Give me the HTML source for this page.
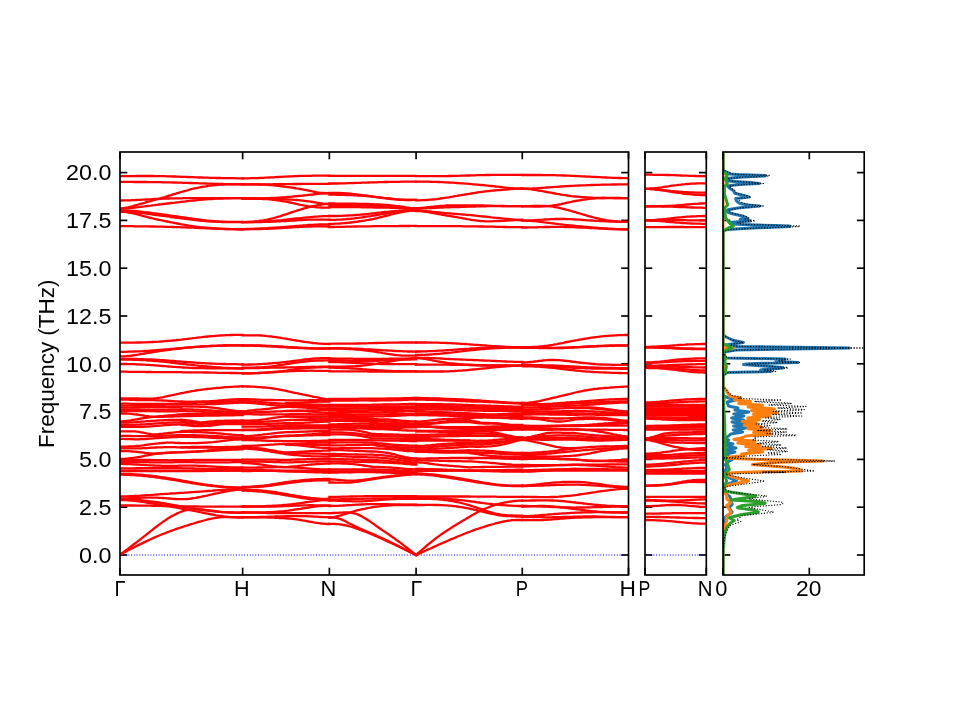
<!DOCTYPE html>
<html><head><meta charset="utf-8"><style>html,body{margin:0;padding:0;background:#fff;overflow:hidden}svg{display:block}</style></head>
<body>
<svg width="960" height="720" viewBox="0 0 960 720">
<rect width="960" height="720" fill="#fff"/>
<defs>
<clipPath id="c1"><rect x="120.00" y="152.00" width="508.50" height="423.00"/></clipPath>
<clipPath id="c2"><rect x="645.00" y="152.00" width="61.30" height="423.00"/></clipPath>
<clipPath id="c3"><rect x="723.00" y="152.00" width="141.20" height="423.00"/></clipPath>
</defs>
<g stroke="#000" stroke-width="1.67" fill="none">
<line x1="120.00" y1="555.00" x2="127.30" y2="555.00"/>
<line x1="628.50" y1="555.00" x2="621.20" y2="555.00"/>
<line x1="120.00" y1="507.20" x2="127.30" y2="507.20"/>
<line x1="628.50" y1="507.20" x2="621.20" y2="507.20"/>
<line x1="120.00" y1="459.40" x2="127.30" y2="459.40"/>
<line x1="628.50" y1="459.40" x2="621.20" y2="459.40"/>
<line x1="120.00" y1="411.60" x2="127.30" y2="411.60"/>
<line x1="628.50" y1="411.60" x2="621.20" y2="411.60"/>
<line x1="120.00" y1="363.80" x2="127.30" y2="363.80"/>
<line x1="628.50" y1="363.80" x2="621.20" y2="363.80"/>
<line x1="120.00" y1="316.00" x2="127.30" y2="316.00"/>
<line x1="628.50" y1="316.00" x2="621.20" y2="316.00"/>
<line x1="120.00" y1="268.20" x2="127.30" y2="268.20"/>
<line x1="628.50" y1="268.20" x2="621.20" y2="268.20"/>
<line x1="120.00" y1="220.40" x2="127.30" y2="220.40"/>
<line x1="628.50" y1="220.40" x2="621.20" y2="220.40"/>
<line x1="120.00" y1="172.60" x2="127.30" y2="172.60"/>
<line x1="628.50" y1="172.60" x2="621.20" y2="172.60"/>
<line x1="645.00" y1="555.00" x2="652.30" y2="555.00"/>
<line x1="706.30" y1="555.00" x2="699.00" y2="555.00"/>
<line x1="645.00" y1="507.20" x2="652.30" y2="507.20"/>
<line x1="706.30" y1="507.20" x2="699.00" y2="507.20"/>
<line x1="645.00" y1="459.40" x2="652.30" y2="459.40"/>
<line x1="706.30" y1="459.40" x2="699.00" y2="459.40"/>
<line x1="645.00" y1="411.60" x2="652.30" y2="411.60"/>
<line x1="706.30" y1="411.60" x2="699.00" y2="411.60"/>
<line x1="645.00" y1="363.80" x2="652.30" y2="363.80"/>
<line x1="706.30" y1="363.80" x2="699.00" y2="363.80"/>
<line x1="645.00" y1="316.00" x2="652.30" y2="316.00"/>
<line x1="706.30" y1="316.00" x2="699.00" y2="316.00"/>
<line x1="645.00" y1="268.20" x2="652.30" y2="268.20"/>
<line x1="706.30" y1="268.20" x2="699.00" y2="268.20"/>
<line x1="645.00" y1="220.40" x2="652.30" y2="220.40"/>
<line x1="706.30" y1="220.40" x2="699.00" y2="220.40"/>
<line x1="645.00" y1="172.60" x2="652.30" y2="172.60"/>
<line x1="706.30" y1="172.60" x2="699.00" y2="172.60"/>
<line x1="723.00" y1="555.00" x2="730.30" y2="555.00"/>
<line x1="864.20" y1="555.00" x2="856.90" y2="555.00"/>
<line x1="723.00" y1="507.20" x2="730.30" y2="507.20"/>
<line x1="864.20" y1="507.20" x2="856.90" y2="507.20"/>
<line x1="723.00" y1="459.40" x2="730.30" y2="459.40"/>
<line x1="864.20" y1="459.40" x2="856.90" y2="459.40"/>
<line x1="723.00" y1="411.60" x2="730.30" y2="411.60"/>
<line x1="864.20" y1="411.60" x2="856.90" y2="411.60"/>
<line x1="723.00" y1="363.80" x2="730.30" y2="363.80"/>
<line x1="864.20" y1="363.80" x2="856.90" y2="363.80"/>
<line x1="723.00" y1="316.00" x2="730.30" y2="316.00"/>
<line x1="864.20" y1="316.00" x2="856.90" y2="316.00"/>
<line x1="723.00" y1="268.20" x2="730.30" y2="268.20"/>
<line x1="864.20" y1="268.20" x2="856.90" y2="268.20"/>
<line x1="723.00" y1="220.40" x2="730.30" y2="220.40"/>
<line x1="864.20" y1="220.40" x2="856.90" y2="220.40"/>
<line x1="723.00" y1="172.60" x2="730.30" y2="172.60"/>
<line x1="864.20" y1="172.60" x2="856.90" y2="172.60"/>
<line x1="120.00" y1="575.00" x2="120.00" y2="567.70"/>
<line x1="120.00" y1="152.00" x2="120.00" y2="159.30"/>
<line x1="242.64" y1="575.00" x2="242.64" y2="567.70"/>
<line x1="242.64" y1="152.00" x2="242.64" y2="159.30"/>
<line x1="329.36" y1="575.00" x2="329.36" y2="567.70"/>
<line x1="329.36" y1="152.00" x2="329.36" y2="159.30"/>
<line x1="416.08" y1="575.00" x2="416.08" y2="567.70"/>
<line x1="416.08" y1="152.00" x2="416.08" y2="159.30"/>
<line x1="522.28" y1="575.00" x2="522.28" y2="567.70"/>
<line x1="522.28" y1="152.00" x2="522.28" y2="159.30"/>
<line x1="628.50" y1="575.00" x2="628.50" y2="567.70"/>
<line x1="628.50" y1="152.00" x2="628.50" y2="159.30"/>
<line x1="645.00" y1="575.00" x2="645.00" y2="567.70"/>
<line x1="645.00" y1="152.00" x2="645.00" y2="159.30"/>
<line x1="706.30" y1="575.00" x2="706.30" y2="567.70"/>
<line x1="706.30" y1="152.00" x2="706.30" y2="159.30"/>
<line x1="723.00" y1="575.00" x2="723.00" y2="567.70"/>
<line x1="723.00" y1="152.00" x2="723.00" y2="159.30"/>
<line x1="809.30" y1="575.00" x2="809.30" y2="567.70"/>
<line x1="809.30" y1="152.00" x2="809.30" y2="159.30"/>
</g>
<g stroke="#0000ff" stroke-width="1.04" stroke-dasharray="1.04 1.72" fill="none">
<line x1="120.00" y1="555.00" x2="628.50" y2="555.00"/>
<line x1="645.00" y1="555.00" x2="706.30" y2="555.00"/>
</g>
<g clip-path="url(#c1)" stroke="#ff0000" stroke-width="2.30" fill="none" stroke-linejoin="round" stroke-linecap="square">
<path d="M120.0 176.1 L122.0 176.1 L124.1 176.1 L126.1 176.1 L128.2 176.1 L130.2 176.1 L132.3 176.1 L134.3 176.1 L136.4 176.0 L138.4 176.0 L140.4 176.0 L142.5 176.0 L144.5 176.0 L146.6 176.0 L148.6 176.0 L150.7 176.0 L152.7 176.0 L154.7 176.1 L156.8 176.1 L158.8 176.1 L160.9 176.1 L162.9 176.2 L165.0 176.2 L167.0 176.3 L169.1 176.3 L171.1 176.4 L173.1 176.5 L175.2 176.5 L177.2 176.6 L179.3 176.7 L181.3 176.8 L183.4 176.9 L185.4 176.9 L187.5 177.0 L189.5 177.1 L191.5 177.2 L193.6 177.2 L195.6 177.3 L197.7 177.4 L199.7 177.5 L201.8 177.5 L203.8 177.6 L205.8 177.7 L207.9 177.7 L209.9 177.8 L212.0 177.9 L214.0 177.9 L216.1 178.0 L218.1 178.0 L220.2 178.0 L222.2 178.1 L224.2 178.1 L226.3 178.1 L228.3 178.2 L230.4 178.2 L232.4 178.2 L234.5 178.2 L236.5 178.3 L238.6 178.3 L240.6 178.3 L242.6 178.3"/>
<path d="M120.0 181.9 L122.0 181.9 L124.1 181.9 L126.1 181.9 L128.2 181.9 L130.2 181.9 L132.3 181.9 L134.3 182.0 L136.4 182.0 L138.4 182.0 L140.4 182.0 L142.5 182.0 L144.5 182.0 L146.6 182.0 L148.6 182.1 L150.7 182.1 L152.7 182.1 L154.7 182.1 L156.8 182.2 L158.8 182.2 L160.9 182.2 L162.9 182.3 L165.0 182.3 L167.0 182.4 L169.1 182.4 L171.1 182.4 L173.1 182.5 L175.2 182.5 L177.2 182.6 L179.3 182.7 L181.3 182.7 L183.4 182.8 L185.4 182.8 L187.5 182.9 L189.5 183.0 L191.5 183.0 L193.6 183.1 L195.6 183.2 L197.7 183.2 L199.7 183.3 L201.8 183.4 L203.8 183.4 L205.8 183.5 L207.9 183.6 L209.9 183.7 L212.0 183.7 L214.0 183.8 L216.1 183.9 L218.1 183.9 L220.2 184.0 L222.2 184.0 L224.2 184.1 L226.3 184.2 L228.3 184.2 L230.4 184.2 L232.4 184.3 L234.5 184.3 L236.5 184.3 L238.6 184.3 L240.6 184.4 L242.6 184.4"/>
<path d="M120.0 208.3 L122.0 208.3 L124.1 208.1 L126.1 207.7 L128.2 207.3 L130.2 206.8 L132.3 206.3 L134.3 205.7 L136.4 205.1 L138.4 204.5 L140.4 203.9 L142.5 203.3 L144.5 202.8 L146.6 202.2 L148.6 201.6 L150.7 201.1 L152.7 200.5 L154.7 200.0 L156.8 199.4 L158.8 198.8 L160.9 198.2 L162.9 197.6 L165.0 197.0 L167.0 196.3 L169.1 195.7 L171.1 195.1 L173.1 194.4 L175.2 193.8 L177.2 193.2 L179.3 192.6 L181.3 192.0 L183.4 191.4 L185.4 190.8 L187.5 190.3 L189.5 189.7 L191.5 189.2 L193.6 188.7 L195.6 188.2 L197.7 187.8 L199.7 187.4 L201.8 187.0 L203.8 186.6 L205.8 186.3 L207.9 185.9 L209.9 185.7 L212.0 185.4 L214.0 185.2 L216.1 185.0 L218.1 184.8 L220.2 184.7 L222.2 184.6 L224.2 184.5 L226.3 184.4 L228.3 184.3 L230.4 184.3 L232.4 184.3 L234.5 184.2 L236.5 184.2 L238.6 184.2 L240.6 184.2 L242.6 184.2"/>
<path d="M120.0 200.5 L122.0 200.5 L124.1 200.4 L126.1 200.4 L128.2 200.3 L130.2 200.3 L132.3 200.2 L134.3 200.1 L136.4 200.0 L138.4 199.9 L140.4 199.8 L142.5 199.7 L144.5 199.6 L146.6 199.5 L148.6 199.4 L150.7 199.3 L152.7 199.1 L154.7 199.0 L156.8 198.9 L158.8 198.8 L160.9 198.8 L162.9 198.7 L165.0 198.6 L167.0 198.5 L169.1 198.5 L171.1 198.4 L173.1 198.4 L175.2 198.4 L177.2 198.3 L179.3 198.3 L181.3 198.3 L183.4 198.2 L185.4 198.2 L187.5 198.2 L189.5 198.2 L191.5 198.2 L193.6 198.2 L195.6 198.2 L197.7 198.2 L199.7 198.2 L201.8 198.2 L203.8 198.2 L205.8 198.2 L207.9 198.2 L209.9 198.2 L212.0 198.2 L214.0 198.2 L216.1 198.2 L218.1 198.2 L220.2 198.2 L222.2 198.2 L224.2 198.2 L226.3 198.2 L228.3 198.2 L230.4 198.2 L232.4 198.2 L234.5 198.2 L236.5 198.2 L238.6 198.2 L240.6 198.2 L242.6 198.2"/>
<path d="M120.0 208.6 L122.0 208.6 L124.1 208.5 L126.1 208.4 L128.2 208.3 L130.2 208.1 L132.3 207.9 L134.3 207.7 L136.4 207.4 L138.4 207.2 L140.4 206.9 L142.5 206.6 L144.5 206.4 L146.6 206.1 L148.6 205.8 L150.7 205.6 L152.7 205.3 L154.7 205.1 L156.8 204.8 L158.8 204.5 L160.9 204.3 L162.9 204.0 L165.0 203.8 L167.0 203.5 L169.1 203.3 L171.1 203.0 L173.1 202.8 L175.2 202.6 L177.2 202.3 L179.3 202.1 L181.3 201.8 L183.4 201.6 L185.4 201.4 L187.5 201.1 L189.5 200.9 L191.5 200.7 L193.6 200.5 L195.6 200.3 L197.7 200.1 L199.7 199.9 L201.8 199.7 L203.8 199.5 L205.8 199.4 L207.9 199.2 L209.9 199.1 L212.0 199.0 L214.0 198.9 L216.1 198.7 L218.1 198.6 L220.2 198.6 L222.2 198.5 L224.2 198.4 L226.3 198.4 L228.3 198.3 L230.4 198.3 L232.4 198.2 L234.5 198.2 L236.5 198.2 L238.6 198.2 L240.6 198.2 L242.6 198.2"/>
<path d="M120.0 210.4 L122.0 210.4 L124.1 210.4 L126.1 210.5 L128.2 210.6 L130.2 210.7 L132.3 210.9 L134.3 211.0 L136.4 211.2 L138.4 211.4 L140.4 211.6 L142.5 211.8 L144.5 212.1 L146.6 212.3 L148.6 212.5 L150.7 212.8 L152.7 213.1 L154.7 213.3 L156.8 213.6 L158.8 213.9 L160.9 214.2 L162.9 214.5 L165.0 214.7 L167.0 215.0 L169.1 215.3 L171.1 215.6 L173.1 215.9 L175.2 216.2 L177.2 216.5 L179.3 216.8 L181.3 217.1 L183.4 217.4 L185.4 217.7 L187.5 218.0 L189.5 218.3 L191.5 218.5 L193.6 218.8 L195.6 219.1 L197.7 219.4 L199.7 219.6 L201.8 219.9 L203.8 220.1 L205.8 220.4 L207.9 220.6 L209.9 220.8 L212.0 221.0 L214.0 221.2 L216.1 221.4 L218.1 221.5 L220.2 221.6 L222.2 221.7 L224.2 221.8 L226.3 221.8 L228.3 221.9 L230.4 221.9 L232.4 221.9 L234.5 221.9 L236.5 221.9 L238.6 221.9 L240.6 221.9 L242.6 221.9"/>
<path d="M120.0 211.0 L122.0 211.1 L124.1 211.1 L126.1 211.2 L128.2 211.4 L130.2 211.6 L132.3 211.8 L134.3 212.0 L136.4 212.3 L138.4 212.5 L140.4 212.8 L142.5 213.1 L144.5 213.4 L146.6 213.7 L148.6 214.0 L150.7 214.2 L152.7 214.5 L154.7 214.8 L156.8 215.1 L158.8 215.4 L160.9 215.6 L162.9 215.9 L165.0 216.2 L167.0 216.4 L169.1 216.7 L171.1 217.0 L173.1 217.3 L175.2 217.5 L177.2 217.8 L179.3 218.1 L181.3 218.4 L183.4 218.6 L185.4 218.9 L187.5 219.2 L189.5 219.4 L191.5 219.7 L193.6 219.9 L195.6 220.1 L197.7 220.4 L199.7 220.6 L201.8 220.8 L203.8 220.9 L205.8 221.1 L207.9 221.3 L209.9 221.4 L212.0 221.5 L214.0 221.6 L216.1 221.7 L218.1 221.8 L220.2 221.9 L222.2 222.0 L224.2 222.0 L226.3 222.0 L228.3 222.1 L230.4 222.1 L232.4 222.1 L234.5 222.1 L236.5 222.1 L238.6 222.1 L240.6 222.1 L242.6 222.1"/>
<path d="M120.0 211.7 L122.0 211.8 L124.1 211.9 L126.1 212.1 L128.2 212.4 L130.2 212.8 L132.3 213.2 L134.3 213.7 L136.4 214.2 L138.4 214.7 L140.4 215.2 L142.5 215.8 L144.5 216.3 L146.6 216.8 L148.6 217.4 L150.7 217.9 L152.7 218.4 L154.7 218.8 L156.8 219.3 L158.8 219.8 L160.9 220.2 L162.9 220.7 L165.0 221.1 L167.0 221.5 L169.1 221.9 L171.1 222.3 L173.1 222.7 L175.2 223.1 L177.2 223.5 L179.3 223.9 L181.3 224.3 L183.4 224.7 L185.4 225.0 L187.5 225.3 L189.5 225.7 L191.5 226.0 L193.6 226.3 L195.6 226.6 L197.7 226.8 L199.7 227.1 L201.8 227.3 L203.8 227.5 L205.8 227.7 L207.9 227.9 L209.9 228.0 L212.0 228.2 L214.0 228.3 L216.1 228.4 L218.1 228.6 L220.2 228.7 L222.2 228.8 L224.2 228.9 L226.3 229.0 L228.3 229.0 L230.4 229.1 L232.4 229.2 L234.5 229.2 L236.5 229.3 L238.6 229.3 L240.6 229.3 L242.6 229.3"/>
<path d="M120.0 226.2 L122.0 226.2 L124.1 226.2 L126.1 226.2 L128.2 226.2 L130.2 226.2 L132.3 226.2 L134.3 226.3 L136.4 226.3 L138.4 226.3 L140.4 226.3 L142.5 226.3 L144.5 226.4 L146.6 226.4 L148.6 226.4 L150.7 226.5 L152.7 226.5 L154.7 226.5 L156.8 226.6 L158.8 226.6 L160.9 226.7 L162.9 226.7 L165.0 226.8 L167.0 226.8 L169.1 226.9 L171.1 226.9 L173.1 227.0 L175.2 227.1 L177.2 227.1 L179.3 227.2 L181.3 227.3 L183.4 227.3 L185.4 227.4 L187.5 227.5 L189.5 227.6 L191.5 227.6 L193.6 227.7 L195.6 227.8 L197.7 227.9 L199.7 228.0 L201.8 228.1 L203.8 228.2 L205.8 228.3 L207.9 228.3 L209.9 228.4 L212.0 228.5 L214.0 228.6 L216.1 228.7 L218.1 228.8 L220.2 228.8 L222.2 228.9 L224.2 229.0 L226.3 229.1 L228.3 229.1 L230.4 229.2 L232.4 229.2 L234.5 229.2 L236.5 229.3 L238.6 229.3 L240.6 229.3 L242.6 229.3"/>
<path d="M242.6 178.3 L244.7 178.3 L246.8 178.3 L248.8 178.3 L250.9 178.2 L253.0 178.2 L255.0 178.1 L257.1 178.1 L259.2 178.0 L261.2 177.9 L263.3 177.8 L265.4 177.7 L267.4 177.6 L269.5 177.5 L271.5 177.4 L273.6 177.3 L275.7 177.1 L277.7 177.0 L279.8 176.9 L281.9 176.8 L283.9 176.7 L286.0 176.6 L288.1 176.5 L290.1 176.4 L292.2 176.3 L294.3 176.2 L296.3 176.1 L298.4 176.0 L300.5 175.9 L302.5 175.9 L304.6 175.8 L306.6 175.8 L308.7 175.8 L310.8 175.8 L312.8 175.7 L314.9 175.7 L317.0 175.7 L319.0 175.7 L321.1 175.7 L323.2 175.7 L325.2 175.7 L327.3 175.7 L329.4 175.7"/>
<path d="M242.6 184.3 L244.7 184.3 L246.8 184.3 L248.8 184.3 L250.9 184.3 L253.0 184.3 L255.0 184.3 L257.1 184.3 L259.2 184.3 L261.2 184.3 L263.3 184.3 L265.4 184.3 L267.4 184.3 L269.5 184.3 L271.5 184.3 L273.6 184.2 L275.7 184.2 L277.7 184.2 L279.8 184.2 L281.9 184.2 L283.9 184.2 L286.0 184.1 L288.1 184.1 L290.1 184.1 L292.2 184.1 L294.3 184.0 L296.3 184.0 L298.4 184.0 L300.5 184.0 L302.5 183.9 L304.6 183.9 L306.6 183.9 L308.7 183.9 L310.8 183.8 L312.8 183.8 L314.9 183.8 L317.0 183.8 L319.0 183.8 L321.1 183.8 L323.2 183.8 L325.2 183.8 L327.3 183.8 L329.4 183.7"/>
<path d="M242.6 184.3 L244.7 184.3 L246.8 184.3 L248.8 184.3 L250.9 184.3 L253.0 184.3 L255.0 184.4 L257.1 184.4 L259.2 184.5 L261.2 184.6 L263.3 184.6 L265.4 184.7 L267.4 184.9 L269.5 185.0 L271.5 185.2 L273.6 185.4 L275.7 185.6 L277.7 185.8 L279.8 186.0 L281.9 186.3 L283.9 186.5 L286.0 186.8 L288.1 187.1 L290.1 187.4 L292.2 187.7 L294.3 188.0 L296.3 188.4 L298.4 188.7 L300.5 189.0 L302.5 189.4 L304.6 189.8 L306.6 190.2 L308.7 190.6 L310.8 191.0 L312.8 191.5 L314.9 191.9 L317.0 192.3 L319.0 192.6 L321.1 192.9 L323.2 193.0 L325.2 193.1 L327.3 193.1 L329.4 193.1"/>
<path d="M242.6 198.3 L244.7 198.3 L246.8 198.3 L248.8 198.3 L250.9 198.3 L253.0 198.4 L255.0 198.3 L257.1 198.3 L259.2 198.3 L261.2 198.3 L263.3 198.3 L265.4 198.2 L267.4 198.2 L269.5 198.1 L271.5 198.0 L273.6 197.9 L275.7 197.8 L277.7 197.7 L279.8 197.6 L281.9 197.4 L283.9 197.3 L286.0 197.1 L288.1 196.9 L290.1 196.8 L292.2 196.6 L294.3 196.4 L296.3 196.2 L298.4 196.0 L300.5 195.8 L302.5 195.6 L304.6 195.4 L306.6 195.2 L308.7 194.9 L310.8 194.7 L312.8 194.5 L314.9 194.2 L317.0 194.0 L319.0 193.8 L321.1 193.7 L323.2 193.5 L325.2 193.4 L327.3 193.4 L329.4 193.3"/>
<path d="M242.6 198.5 L244.7 198.5 L246.8 198.5 L248.8 198.6 L250.9 198.6 L253.0 198.6 L255.0 198.6 L257.1 198.7 L259.2 198.8 L261.2 198.8 L263.3 199.0 L265.4 199.1 L267.4 199.2 L269.5 199.4 L271.5 199.6 L273.6 199.8 L275.7 200.1 L277.7 200.3 L279.8 200.6 L281.9 201.0 L283.9 201.3 L286.0 201.7 L288.1 202.1 L290.1 202.5 L292.2 202.9 L294.3 203.4 L296.3 203.9 L298.4 204.3 L300.5 204.8 L302.5 205.2 L304.6 205.6 L306.6 206.0 L308.7 206.4 L310.8 206.6 L312.8 206.9 L314.9 207.1 L317.0 207.3 L319.0 207.4 L321.1 207.5 L323.2 207.6 L325.2 207.6 L327.3 207.7 L329.4 207.7"/>
<path d="M242.6 222.1 L244.7 222.1 L246.8 222.0 L248.8 221.9 L250.9 221.8 L253.0 221.7 L255.0 221.5 L257.1 221.3 L259.2 221.0 L261.2 220.7 L263.3 220.4 L265.4 220.0 L267.4 219.6 L269.5 219.1 L271.5 218.6 L273.6 218.1 L275.7 217.5 L277.7 216.9 L279.8 216.3 L281.9 215.6 L283.9 214.9 L286.0 214.3 L288.1 213.6 L290.1 212.9 L292.2 212.2 L294.3 211.5 L296.3 210.9 L298.4 210.2 L300.5 209.6 L302.5 208.9 L304.6 208.3 L306.6 207.8 L308.7 207.2 L310.8 206.7 L312.8 206.2 L314.9 205.8 L317.0 205.4 L319.0 205.0 L321.1 204.6 L323.2 204.3 L325.2 204.0 L327.3 203.8 L329.4 203.7"/>
<path d="M242.6 198.5 L244.7 198.5 L246.8 198.5 L248.8 198.5 L250.9 198.5 L253.0 198.5 L255.0 198.6 L257.1 198.6 L259.2 198.6 L261.2 198.6 L263.3 198.6 L265.4 198.6 L267.4 198.7 L269.5 198.7 L271.5 198.8 L273.6 198.8 L275.7 198.9 L277.7 199.0 L279.8 199.1 L281.9 199.1 L283.9 199.2 L286.0 199.4 L288.1 199.5 L290.1 199.6 L292.2 199.7 L294.3 199.9 L296.3 200.0 L298.4 200.2 L300.5 200.4 L302.5 200.6 L304.6 200.8 L306.6 201.1 L308.7 201.4 L310.8 201.7 L312.8 202.0 L314.9 202.3 L317.0 202.7 L319.0 203.0 L321.1 203.3 L323.2 203.6 L325.2 203.8 L327.3 204.0 L329.4 204.1"/>
<path d="M242.6 222.1 L244.7 222.1 L246.8 222.1 L248.8 222.1 L250.9 222.0 L253.0 222.0 L255.0 221.9 L257.1 221.9 L259.2 221.8 L261.2 221.7 L263.3 221.6 L265.4 221.5 L267.4 221.4 L269.5 221.2 L271.5 221.1 L273.6 220.9 L275.7 220.7 L277.7 220.5 L279.8 220.3 L281.9 220.1 L283.9 219.8 L286.0 219.6 L288.1 219.4 L290.1 219.2 L292.2 218.9 L294.3 218.7 L296.3 218.5 L298.4 218.3 L300.5 218.1 L302.5 217.9 L304.6 217.7 L306.6 217.5 L308.7 217.3 L310.8 217.1 L312.8 216.9 L314.9 216.7 L317.0 216.6 L319.0 216.4 L321.1 216.3 L323.2 216.2 L325.2 216.1 L327.3 216.1 L329.4 216.0"/>
<path d="M242.6 222.1 L244.7 222.1 L246.8 222.1 L248.8 222.1 L250.9 222.1 L253.0 222.1 L255.0 222.0 L257.1 222.0 L259.2 222.0 L261.2 222.0 L263.3 221.9 L265.4 221.9 L267.4 221.8 L269.5 221.8 L271.5 221.7 L273.6 221.6 L275.7 221.5 L277.7 221.4 L279.8 221.3 L281.9 221.2 L283.9 221.1 L286.0 221.0 L288.1 220.9 L290.1 220.7 L292.2 220.6 L294.3 220.5 L296.3 220.3 L298.4 220.2 L300.5 220.1 L302.5 220.0 L304.6 219.9 L306.6 219.8 L308.7 219.7 L310.8 219.7 L312.8 219.7 L314.9 219.6 L317.0 219.6 L319.0 219.6 L321.1 219.6 L323.2 219.7 L325.2 219.7 L327.3 219.7 L329.4 219.7"/>
<path d="M242.6 229.1 L244.7 229.1 L246.8 229.0 L248.8 229.0 L250.9 228.9 L253.0 228.9 L255.0 228.8 L257.1 228.7 L259.2 228.6 L261.2 228.5 L263.3 228.4 L265.4 228.3 L267.4 228.1 L269.5 228.0 L271.5 227.9 L273.6 227.7 L275.7 227.6 L277.7 227.4 L279.8 227.3 L281.9 227.1 L283.9 227.0 L286.0 226.8 L288.1 226.6 L290.1 226.5 L292.2 226.3 L294.3 226.1 L296.3 225.9 L298.4 225.8 L300.5 225.6 L302.5 225.5 L304.6 225.3 L306.6 225.2 L308.7 225.0 L310.8 224.9 L312.8 224.8 L314.9 224.7 L317.0 224.6 L319.0 224.5 L321.1 224.5 L323.2 224.4 L325.2 224.4 L327.3 224.4 L329.4 224.4"/>
<path d="M242.6 229.1 L244.7 229.1 L246.8 229.1 L248.8 229.1 L250.9 229.1 L253.0 229.1 L255.0 229.0 L257.1 229.0 L259.2 229.0 L261.2 229.0 L263.3 228.9 L265.4 228.9 L267.4 228.8 L269.5 228.7 L271.5 228.7 L273.6 228.6 L275.7 228.4 L277.7 228.3 L279.8 228.2 L281.9 228.1 L283.9 227.9 L286.0 227.8 L288.1 227.6 L290.1 227.5 L292.2 227.4 L294.3 227.2 L296.3 227.1 L298.4 227.0 L300.5 226.9 L302.5 226.8 L304.6 226.7 L306.6 226.6 L308.7 226.5 L310.8 226.5 L312.8 226.4 L314.9 226.4 L317.0 226.4 L319.0 226.4 L321.1 226.4 L323.2 226.4 L325.2 226.4 L327.3 226.5 L329.4 226.5"/>
<path d="M329.4 175.9 L331.4 175.9 L333.5 175.9 L335.6 175.9 L337.6 175.9 L339.7 175.9 L341.7 175.9 L343.8 175.9 L345.9 175.9 L347.9 175.9 L350.0 175.9 L352.1 175.9 L354.1 175.9 L356.2 175.9 L358.3 175.9 L360.3 175.9 L362.4 175.9 L364.5 175.9 L366.5 175.9 L368.6 175.9 L370.7 175.9 L372.7 175.9 L374.8 175.9 L376.8 175.9 L378.9 175.9 L381.0 175.9 L383.0 175.9 L385.1 175.9 L387.2 175.9 L389.2 175.9 L391.3 175.9 L393.4 175.9 L395.4 175.9 L397.5 175.9 L399.6 175.9 L401.6 175.9 L403.7 175.9 L405.8 175.9 L407.8 175.9 L409.9 175.9 L412.0 175.9 L414.0 175.9 L416.1 175.9"/>
<path d="M329.4 183.5 L331.4 183.5 L333.5 183.5 L335.6 183.5 L337.6 183.5 L339.7 183.4 L341.7 183.4 L343.8 183.3 L345.9 183.3 L347.9 183.2 L350.0 183.1 L352.1 183.1 L354.1 183.0 L356.2 182.9 L358.3 182.8 L360.3 182.8 L362.4 182.7 L364.5 182.6 L366.5 182.6 L368.6 182.5 L370.7 182.4 L372.7 182.4 L374.8 182.3 L376.8 182.3 L378.9 182.2 L381.0 182.1 L383.0 182.1 L385.1 182.0 L387.2 182.0 L389.2 181.9 L391.3 181.9 L393.4 181.9 L395.4 181.8 L397.5 181.8 L399.6 181.8 L401.6 181.7 L403.7 181.7 L405.8 181.7 L407.8 181.7 L409.9 181.7 L412.0 181.7 L414.0 181.7 L416.1 181.7"/>
<path d="M329.4 192.9 L331.4 192.9 L333.5 192.9 L335.6 193.0 L337.6 193.0 L339.7 193.0 L341.7 193.1 L343.8 193.2 L345.9 193.3 L347.9 193.5 L350.0 193.7 L352.1 193.9 L354.1 194.1 L356.2 194.3 L358.3 194.6 L360.3 194.9 L362.4 195.2 L364.5 195.4 L366.5 195.7 L368.6 196.0 L370.7 196.3 L372.7 196.5 L374.8 196.8 L376.8 197.1 L378.9 197.3 L381.0 197.6 L383.0 197.8 L385.1 198.1 L387.2 198.3 L389.2 198.5 L391.3 198.7 L393.4 199.0 L395.4 199.2 L397.5 199.3 L399.6 199.5 L401.6 199.6 L403.7 199.7 L405.8 199.8 L407.8 199.9 L409.9 199.9 L412.0 199.9 L414.0 199.9 L416.1 199.9"/>
<path d="M329.4 194.7 L331.4 194.7 L333.5 194.7 L335.6 194.7 L337.6 194.8 L339.7 194.8 L341.7 194.9 L343.8 194.9 L345.9 195.0 L347.9 195.1 L350.0 195.1 L352.1 195.2 L354.1 195.3 L356.2 195.4 L358.3 195.5 L360.3 195.6 L362.4 195.7 L364.5 195.9 L366.5 196.0 L368.6 196.2 L370.7 196.4 L372.7 196.7 L374.8 196.9 L376.8 197.2 L378.9 197.4 L381.0 197.7 L383.0 198.0 L385.1 198.2 L387.2 198.5 L389.2 198.7 L391.3 199.0 L393.4 199.2 L395.4 199.4 L397.5 199.6 L399.6 199.7 L401.6 199.8 L403.7 199.9 L405.8 200.0 L407.8 200.0 L409.9 200.0 L412.0 200.0 L414.0 199.9 L416.1 199.9"/>
<path d="M329.4 203.5 L331.4 203.5 L333.5 203.5 L335.6 203.6 L337.6 203.6 L339.7 203.6 L341.7 203.6 L343.8 203.6 L345.9 203.6 L347.9 203.6 L350.0 203.7 L352.1 203.7 L354.1 203.7 L356.2 203.7 L358.3 203.8 L360.3 203.8 L362.4 203.9 L364.5 203.9 L366.5 204.0 L368.6 204.0 L370.7 204.1 L372.7 204.2 L374.8 204.3 L376.8 204.4 L378.9 204.5 L381.0 204.6 L383.0 204.7 L385.1 204.8 L387.2 205.0 L389.2 205.2 L391.3 205.4 L393.4 205.6 L395.4 205.8 L397.5 206.1 L399.6 206.4 L401.6 206.7 L403.7 207.0 L405.8 207.3 L407.8 207.6 L409.9 207.9 L412.0 208.1 L414.0 208.2 L416.1 208.2"/>
<path d="M329.4 204.8 L331.4 204.8 L333.5 204.8 L335.6 204.8 L337.6 204.8 L339.7 204.9 L341.7 204.9 L343.8 204.9 L345.9 205.0 L347.9 205.0 L350.0 205.1 L352.1 205.1 L354.1 205.2 L356.2 205.2 L358.3 205.3 L360.3 205.3 L362.4 205.4 L364.5 205.5 L366.5 205.5 L368.6 205.6 L370.7 205.7 L372.7 205.8 L374.8 205.9 L376.8 206.0 L378.9 206.1 L381.0 206.2 L383.0 206.3 L385.1 206.5 L387.2 206.6 L389.2 206.8 L391.3 207.0 L393.4 207.2 L395.4 207.3 L397.5 207.5 L399.6 207.7 L401.6 207.9 L403.7 208.0 L405.8 208.2 L407.8 208.3 L409.9 208.4 L412.0 208.5 L414.0 208.5 L416.1 208.5"/>
<path d="M329.4 207.2 L331.4 207.2 L333.5 207.2 L335.6 207.2 L337.6 207.2 L339.7 207.2 L341.7 207.2 L343.8 207.2 L345.9 207.2 L347.9 207.2 L350.0 207.2 L352.1 207.2 L354.1 207.2 L356.2 207.2 L358.3 207.2 L360.3 207.2 L362.4 207.3 L364.5 207.3 L366.5 207.3 L368.6 207.3 L370.7 207.4 L372.7 207.4 L374.8 207.5 L376.8 207.5 L378.9 207.5 L381.0 207.6 L383.0 207.6 L385.1 207.6 L387.2 207.7 L389.2 207.7 L391.3 207.8 L393.4 207.8 L395.4 207.9 L397.5 207.9 L399.6 208.0 L401.6 208.0 L403.7 208.1 L405.8 208.1 L407.8 208.1 L409.9 208.2 L412.0 208.2 L414.0 208.2 L416.1 208.2"/>
<path d="M329.4 216.0 L331.4 216.0 L333.5 216.0 L335.6 216.0 L337.6 215.9 L339.7 215.9 L341.7 215.8 L343.8 215.7 L345.9 215.6 L347.9 215.5 L350.0 215.4 L352.1 215.3 L354.1 215.2 L356.2 215.0 L358.3 214.8 L360.3 214.7 L362.4 214.5 L364.5 214.3 L366.5 214.1 L368.6 213.9 L370.7 213.6 L372.7 213.4 L374.8 213.2 L376.8 212.9 L378.9 212.7 L381.0 212.5 L383.0 212.2 L385.1 212.0 L387.2 211.8 L389.2 211.6 L391.3 211.4 L393.4 211.2 L395.4 211.0 L397.5 210.9 L399.6 210.7 L401.6 210.6 L403.7 210.5 L405.8 210.5 L407.8 210.4 L409.9 210.4 L412.0 210.3 L414.0 210.3 L416.1 210.3"/>
<path d="M329.4 219.9 L331.4 219.9 L333.5 219.8 L335.6 219.8 L337.6 219.7 L339.7 219.6 L341.7 219.5 L343.8 219.3 L345.9 219.2 L347.9 219.0 L350.0 218.8 L352.1 218.6 L354.1 218.4 L356.2 218.1 L358.3 217.9 L360.3 217.6 L362.4 217.3 L364.5 217.0 L366.5 216.7 L368.6 216.4 L370.7 216.1 L372.7 215.7 L374.8 215.4 L376.8 215.0 L378.9 214.7 L381.0 214.3 L383.0 214.0 L385.1 213.6 L387.2 213.3 L389.2 212.9 L391.3 212.6 L393.4 212.3 L395.4 212.0 L397.5 211.7 L399.6 211.5 L401.6 211.3 L403.7 211.1 L405.8 210.9 L407.8 210.8 L409.9 210.7 L412.0 210.6 L414.0 210.5 L416.1 210.5"/>
<path d="M329.4 223.9 L331.4 223.8 L333.5 223.8 L335.6 223.7 L337.6 223.6 L339.7 223.5 L341.7 223.3 L343.8 223.2 L345.9 223.0 L347.9 222.8 L350.0 222.5 L352.1 222.3 L354.1 222.0 L356.2 221.8 L358.3 221.5 L360.3 221.2 L362.4 220.9 L364.5 220.6 L366.5 220.2 L368.6 219.9 L370.7 219.5 L372.7 219.1 L374.8 218.6 L376.8 218.2 L378.9 217.7 L381.0 217.2 L383.0 216.7 L385.1 216.1 L387.2 215.6 L389.2 215.1 L391.3 214.5 L393.4 214.0 L395.4 213.5 L397.5 213.0 L399.6 212.6 L401.6 212.1 L403.7 211.7 L405.8 211.4 L407.8 211.1 L409.9 210.9 L412.0 210.7 L414.0 210.6 L416.1 210.5"/>
<path d="M329.4 227.0 L331.4 227.0 L333.5 227.0 L335.6 226.9 L337.6 226.9 L339.7 226.9 L341.7 226.8 L343.8 226.8 L345.9 226.7 L347.9 226.7 L350.0 226.6 L352.1 226.6 L354.1 226.5 L356.2 226.5 L358.3 226.4 L360.3 226.4 L362.4 226.4 L364.5 226.3 L366.5 226.3 L368.6 226.3 L370.7 226.3 L372.7 226.2 L374.8 226.2 L376.8 226.2 L378.9 226.2 L381.0 226.2 L383.0 226.2 L385.1 226.2 L387.2 226.1 L389.2 226.1 L391.3 226.1 L393.4 226.1 L395.4 226.1 L397.5 226.1 L399.6 226.0 L401.6 226.0 L403.7 226.0 L405.8 226.0 L407.8 226.0 L409.9 226.0 L412.0 225.9 L414.0 225.9 L416.1 225.9"/>
<path d="M416.1 176.2 L418.1 176.2 L420.2 176.2 L422.2 176.2 L424.2 176.2 L426.3 176.2 L428.3 176.2 L430.4 176.2 L432.4 176.2 L434.5 176.2 L436.5 176.2 L438.5 176.2 L440.6 176.1 L442.6 176.1 L444.7 176.1 L446.7 176.1 L448.8 176.0 L450.8 176.0 L452.8 175.9 L454.9 175.9 L456.9 175.8 L459.0 175.8 L461.0 175.7 L463.1 175.7 L465.1 175.6 L467.1 175.5 L469.2 175.5 L471.2 175.4 L473.3 175.4 L475.3 175.3 L477.3 175.2 L479.4 175.2 L481.4 175.1 L483.5 175.1 L485.5 175.0 L487.6 175.0 L489.6 175.0 L491.6 174.9 L493.7 174.9 L495.7 174.9 L497.8 174.8 L499.8 174.8 L501.9 174.8 L503.9 174.8 L505.9 174.8 L508.0 174.8 L510.0 174.8 L512.1 174.8 L514.1 174.8 L516.2 174.8 L518.2 174.8 L520.2 174.8 L522.3 174.8"/>
<path d="M416.1 181.6 L418.1 181.6 L420.2 181.6 L422.2 181.7 L424.2 181.7 L426.3 181.7 L428.3 181.7 L430.4 181.8 L432.4 181.8 L434.5 181.9 L436.5 181.9 L438.5 182.0 L440.6 182.1 L442.6 182.2 L444.7 182.3 L446.7 182.4 L448.8 182.5 L450.8 182.6 L452.8 182.7 L454.9 182.8 L456.9 183.0 L459.0 183.1 L461.0 183.3 L463.1 183.4 L465.1 183.6 L467.1 183.7 L469.2 183.9 L471.2 184.1 L473.3 184.3 L475.3 184.4 L477.3 184.6 L479.4 184.8 L481.4 185.0 L483.5 185.2 L485.5 185.4 L487.6 185.6 L489.6 185.8 L491.6 186.0 L493.7 186.2 L495.7 186.5 L497.8 186.7 L499.8 186.9 L501.9 187.1 L503.9 187.4 L505.9 187.6 L508.0 187.8 L510.0 188.1 L512.1 188.2 L514.1 188.4 L516.2 188.6 L518.2 188.7 L520.2 188.7 L522.3 188.7"/>
<path d="M416.1 200.4 L418.1 200.4 L420.2 200.3 L422.2 200.2 L424.2 200.2 L426.3 200.0 L428.3 199.9 L430.4 199.7 L432.4 199.5 L434.5 199.3 L436.5 199.1 L438.5 198.8 L440.6 198.5 L442.6 198.2 L444.7 197.9 L446.7 197.6 L448.8 197.3 L450.8 196.9 L452.8 196.6 L454.9 196.2 L456.9 195.9 L459.0 195.5 L461.0 195.2 L463.1 194.8 L465.1 194.5 L467.1 194.1 L469.2 193.8 L471.2 193.5 L473.3 193.1 L475.3 192.8 L477.3 192.5 L479.4 192.2 L481.4 192.0 L483.5 191.7 L485.5 191.4 L487.6 191.2 L489.6 191.0 L491.6 190.7 L493.7 190.5 L495.7 190.3 L497.8 190.1 L499.8 190.0 L501.9 189.8 L503.9 189.6 L505.9 189.5 L508.0 189.3 L510.0 189.1 L512.1 189.0 L514.1 188.8 L516.2 188.7 L518.2 188.6 L520.2 188.5 L522.3 188.5"/>
<path d="M416.1 208.1 L418.1 208.1 L420.2 208.0 L422.2 207.9 L424.2 207.7 L426.3 207.5 L428.3 207.2 L430.4 207.0 L432.4 206.8 L434.5 206.5 L436.5 206.3 L438.5 206.1 L440.6 205.9 L442.6 205.8 L444.7 205.7 L446.7 205.5 L448.8 205.5 L450.8 205.4 L452.8 205.3 L454.9 205.3 L456.9 205.3 L459.0 205.3 L461.0 205.3 L463.1 205.3 L465.1 205.3 L467.1 205.3 L469.2 205.3 L471.2 205.3 L473.3 205.3 L475.3 205.4 L477.3 205.4 L479.4 205.5 L481.4 205.5 L483.5 205.5 L485.5 205.6 L487.6 205.6 L489.6 205.7 L491.6 205.7 L493.7 205.8 L495.7 205.8 L497.8 205.9 L499.8 205.9 L501.9 206.0 L503.9 206.0 L505.9 206.1 L508.0 206.1 L510.0 206.1 L512.1 206.2 L514.1 206.2 L516.2 206.2 L518.2 206.2 L520.2 206.2 L522.3 206.2"/>
<path d="M416.1 208.5 L418.1 208.5 L420.2 208.5 L422.2 208.4 L424.2 208.3 L426.3 208.3 L428.3 208.2 L430.4 208.1 L432.4 208.0 L434.5 207.9 L436.5 207.8 L438.5 207.7 L440.6 207.6 L442.6 207.5 L444.7 207.4 L446.7 207.4 L448.8 207.3 L450.8 207.2 L452.8 207.2 L454.9 207.1 L456.9 207.0 L459.0 207.0 L461.0 206.9 L463.1 206.8 L465.1 206.8 L467.1 206.7 L469.2 206.7 L471.2 206.6 L473.3 206.5 L475.3 206.5 L477.3 206.4 L479.4 206.4 L481.4 206.3 L483.5 206.3 L485.5 206.3 L487.6 206.2 L489.6 206.2 L491.6 206.2 L493.7 206.2 L495.7 206.2 L497.8 206.2 L499.8 206.2 L501.9 206.2 L503.9 206.2 L505.9 206.2 L508.0 206.2 L510.0 206.2 L512.1 206.2 L514.1 206.2 L516.2 206.2 L518.2 206.2 L520.2 206.2 L522.3 206.3"/>
<path d="M416.1 210.6 L418.1 210.7 L420.2 210.7 L422.2 210.8 L424.2 211.0 L426.3 211.1 L428.3 211.3 L430.4 211.5 L432.4 211.8 L434.5 212.0 L436.5 212.2 L438.5 212.4 L440.6 212.6 L442.6 212.8 L444.7 213.0 L446.7 213.1 L448.8 213.3 L450.8 213.5 L452.8 213.6 L454.9 213.8 L456.9 214.0 L459.0 214.1 L461.0 214.3 L463.1 214.5 L465.1 214.7 L467.1 214.8 L469.2 215.0 L471.2 215.2 L473.3 215.4 L475.3 215.7 L477.3 215.9 L479.4 216.1 L481.4 216.3 L483.5 216.5 L485.5 216.7 L487.6 216.9 L489.6 217.1 L491.6 217.4 L493.7 217.6 L495.7 217.8 L497.8 218.0 L499.8 218.2 L501.9 218.4 L503.9 218.6 L505.9 218.8 L508.0 219.0 L510.0 219.2 L512.1 219.4 L514.1 219.6 L516.2 219.7 L518.2 219.9 L520.2 220.0 L522.3 220.0"/>
<path d="M416.1 211.0 L418.1 211.0 L420.2 211.2 L422.2 211.3 L424.2 211.6 L426.3 211.9 L428.3 212.2 L430.4 212.5 L432.4 212.9 L434.5 213.3 L436.5 213.7 L438.5 214.0 L440.6 214.4 L442.6 214.8 L444.7 215.1 L446.7 215.5 L448.8 215.8 L450.8 216.2 L452.8 216.5 L454.9 216.9 L456.9 217.2 L459.0 217.6 L461.0 217.9 L463.1 218.3 L465.1 218.7 L467.1 219.1 L469.2 219.4 L471.2 219.8 L473.3 220.1 L475.3 220.4 L477.3 220.7 L479.4 220.9 L481.4 221.1 L483.5 221.2 L485.5 221.3 L487.6 221.3 L489.6 221.3 L491.6 221.3 L493.7 221.2 L495.7 221.2 L497.8 221.1 L499.8 221.0 L501.9 220.9 L503.9 220.8 L505.9 220.6 L508.0 220.5 L510.0 220.4 L512.1 220.3 L514.1 220.2 L516.2 220.1 L518.2 220.1 L520.2 220.0 L522.3 220.0"/>
<path d="M416.1 226.2 L418.1 226.2 L420.2 226.2 L422.2 226.2 L424.2 226.2 L426.3 226.2 L428.3 226.2 L430.4 226.2 L432.4 226.2 L434.5 226.2 L436.5 226.2 L438.5 226.2 L440.6 226.2 L442.6 226.2 L444.7 226.2 L446.7 226.2 L448.8 226.2 L450.8 226.2 L452.8 226.2 L454.9 226.2 L456.9 226.2 L459.0 226.2 L461.0 226.2 L463.1 226.3 L465.1 226.3 L467.1 226.3 L469.2 226.3 L471.2 226.3 L473.3 226.4 L475.3 226.4 L477.3 226.4 L479.4 226.5 L481.4 226.5 L483.5 226.5 L485.5 226.6 L487.6 226.6 L489.6 226.7 L491.6 226.7 L493.7 226.7 L495.7 226.8 L497.8 226.8 L499.8 226.9 L501.9 226.9 L503.9 227.0 L505.9 227.0 L508.0 227.1 L510.0 227.1 L512.1 227.2 L514.1 227.2 L516.2 227.2 L518.2 227.2 L520.2 227.2 L522.3 227.2"/>
<path d="M522.3 175.0 L524.3 175.0 L526.4 175.0 L528.4 175.0 L530.5 175.0 L532.5 175.0 L534.5 175.0 L536.6 175.0 L538.6 175.0 L540.7 175.0 L542.7 175.1 L544.7 175.1 L546.8 175.1 L548.8 175.1 L550.9 175.2 L552.9 175.2 L555.0 175.2 L557.0 175.3 L559.0 175.3 L561.1 175.4 L563.1 175.5 L565.2 175.5 L567.2 175.6 L569.3 175.7 L571.3 175.8 L573.3 175.9 L575.4 176.0 L577.4 176.1 L579.5 176.2 L581.5 176.3 L583.6 176.4 L585.6 176.5 L587.6 176.6 L589.7 176.7 L591.7 176.8 L593.8 176.9 L595.8 177.0 L597.9 177.1 L599.9 177.2 L601.9 177.3 L604.0 177.4 L606.0 177.5 L608.1 177.6 L610.1 177.7 L612.2 177.8 L614.2 177.9 L616.2 177.9 L618.3 178.0 L620.3 178.0 L622.4 178.1 L624.4 178.1 L626.5 178.1 L628.5 178.1"/>
<path d="M522.3 188.8 L524.3 188.7 L526.4 188.7 L528.4 188.6 L530.5 188.6 L532.5 188.5 L534.5 188.4 L536.6 188.3 L538.6 188.1 L540.7 188.0 L542.7 187.8 L544.7 187.7 L546.8 187.5 L548.8 187.4 L550.9 187.2 L552.9 187.1 L555.0 186.9 L557.0 186.8 L559.0 186.6 L561.1 186.5 L563.1 186.4 L565.2 186.2 L567.2 186.1 L569.3 186.0 L571.3 185.9 L573.3 185.8 L575.4 185.7 L577.4 185.6 L579.5 185.5 L581.5 185.4 L583.6 185.3 L585.6 185.3 L587.6 185.2 L589.7 185.1 L591.7 185.0 L593.8 185.0 L595.8 184.9 L597.9 184.9 L599.9 184.8 L601.9 184.7 L604.0 184.7 L606.0 184.6 L608.1 184.6 L610.1 184.6 L612.2 184.5 L614.2 184.5 L616.2 184.5 L618.3 184.4 L620.3 184.4 L622.4 184.4 L624.4 184.4 L626.5 184.4 L628.5 184.4"/>
<path d="M522.3 188.8 L524.3 188.8 L526.4 188.9 L528.4 189.0 L530.5 189.2 L532.5 189.5 L534.5 189.8 L536.6 190.1 L538.6 190.5 L540.7 190.8 L542.7 191.2 L544.7 191.6 L546.8 192.0 L548.8 192.3 L550.9 192.7 L552.9 193.1 L555.0 193.5 L557.0 193.9 L559.0 194.2 L561.1 194.6 L563.1 194.9 L565.2 195.2 L567.2 195.5 L569.3 195.8 L571.3 196.1 L573.3 196.3 L575.4 196.5 L577.4 196.7 L579.5 196.9 L581.5 197.1 L583.6 197.2 L585.6 197.4 L587.6 197.5 L589.7 197.6 L591.7 197.7 L593.8 197.8 L595.8 197.9 L597.9 197.9 L599.9 198.0 L601.9 198.0 L604.0 198.0 L606.0 198.1 L608.1 198.1 L610.1 198.1 L612.2 198.1 L614.2 198.1 L616.2 198.1 L618.3 198.1 L620.3 198.1 L622.4 198.1 L624.4 198.1 L626.5 198.1 L628.5 198.1"/>
<path d="M522.3 206.2 L524.3 206.3 L526.4 206.3 L528.4 206.3 L530.5 206.4 L532.5 206.4 L534.5 206.5 L536.6 206.5 L538.6 206.5 L540.7 206.5 L542.7 206.4 L544.7 206.3 L546.8 206.2 L548.8 206.0 L550.9 205.8 L552.9 205.5 L555.0 205.2 L557.0 204.9 L559.0 204.5 L561.1 204.1 L563.1 203.6 L565.2 203.2 L567.2 202.7 L569.3 202.3 L571.3 201.9 L573.3 201.4 L575.4 201.0 L577.4 200.6 L579.5 200.3 L581.5 200.0 L583.6 199.6 L585.6 199.4 L587.6 199.1 L589.7 198.9 L591.7 198.7 L593.8 198.5 L595.8 198.3 L597.9 198.2 L599.9 198.1 L601.9 198.0 L604.0 198.0 L606.0 197.9 L608.1 197.9 L610.1 197.9 L612.2 197.9 L614.2 198.0 L616.2 198.0 L618.3 198.0 L620.3 198.0 L622.4 198.1 L624.4 198.1 L626.5 198.1 L628.5 198.1"/>
<path d="M522.3 206.2 L524.3 206.2 L526.4 206.2 L528.4 206.1 L530.5 206.1 L532.5 206.0 L534.5 206.0 L536.6 205.9 L538.6 205.9 L540.7 205.9 L542.7 205.9 L544.7 205.9 L546.8 206.1 L548.8 206.2 L550.9 206.4 L552.9 206.7 L555.0 207.0 L557.0 207.4 L559.0 207.8 L561.1 208.3 L563.1 208.8 L565.2 209.3 L567.2 209.9 L569.3 210.4 L571.3 211.0 L573.3 211.6 L575.4 212.2 L577.4 212.8 L579.5 213.4 L581.5 214.0 L583.6 214.6 L585.6 215.2 L587.6 215.8 L589.7 216.4 L591.7 216.9 L593.8 217.5 L595.8 218.0 L597.9 218.4 L599.9 218.9 L601.9 219.3 L604.0 219.7 L606.0 220.1 L608.1 220.4 L610.1 220.7 L612.2 220.9 L614.2 221.2 L616.2 221.4 L618.3 221.5 L620.3 221.7 L622.4 221.8 L624.4 221.8 L626.5 221.9 L628.5 221.9"/>
<path d="M522.3 220.6 L524.3 220.6 L526.4 220.6 L528.4 220.5 L530.5 220.4 L532.5 220.3 L534.5 220.2 L536.6 220.1 L538.6 219.9 L540.7 219.8 L542.7 219.7 L544.7 219.5 L546.8 219.4 L548.8 219.3 L550.9 219.2 L552.9 219.1 L555.0 219.0 L557.0 219.0 L559.0 219.0 L561.1 219.0 L563.1 219.0 L565.2 219.0 L567.2 219.1 L569.3 219.2 L571.3 219.2 L573.3 219.4 L575.4 219.5 L577.4 219.6 L579.5 219.7 L581.5 219.8 L583.6 220.0 L585.6 220.1 L587.6 220.3 L589.7 220.4 L591.7 220.5 L593.8 220.7 L595.8 220.8 L597.9 220.9 L599.9 221.0 L601.9 221.1 L604.0 221.2 L606.0 221.3 L608.1 221.4 L610.1 221.5 L612.2 221.6 L614.2 221.7 L616.2 221.7 L618.3 221.8 L620.3 221.8 L622.4 221.8 L624.4 221.9 L626.5 221.9 L628.5 221.9"/>
<path d="M522.3 220.6 L524.3 220.6 L526.4 220.7 L528.4 220.8 L530.5 220.9 L532.5 221.1 L534.5 221.2 L536.6 221.4 L538.6 221.6 L540.7 221.9 L542.7 222.1 L544.7 222.4 L546.8 222.6 L548.8 222.9 L550.9 223.2 L552.9 223.4 L555.0 223.7 L557.0 223.9 L559.0 224.2 L561.1 224.4 L563.1 224.7 L565.2 224.9 L567.2 225.1 L569.3 225.3 L571.3 225.5 L573.3 225.7 L575.4 225.9 L577.4 226.1 L579.5 226.3 L581.5 226.5 L583.6 226.7 L585.6 226.9 L587.6 227.0 L589.7 227.2 L591.7 227.4 L593.8 227.6 L595.8 227.7 L597.9 227.9 L599.9 228.1 L601.9 228.2 L604.0 228.4 L606.0 228.5 L608.1 228.6 L610.1 228.8 L612.2 228.9 L614.2 229.0 L616.2 229.1 L618.3 229.2 L620.3 229.2 L622.4 229.3 L624.4 229.3 L626.5 229.4 L628.5 229.4"/>
<path d="M522.3 227.5 L524.3 227.5 L526.4 227.5 L528.4 227.4 L530.5 227.4 L532.5 227.4 L534.5 227.3 L536.6 227.3 L538.6 227.2 L540.7 227.2 L542.7 227.1 L544.7 227.0 L546.8 227.0 L548.8 227.0 L550.9 226.9 L552.9 226.9 L555.0 226.9 L557.0 226.9 L559.0 226.9 L561.1 226.9 L563.1 226.9 L565.2 227.0 L567.2 227.0 L569.3 227.1 L571.3 227.1 L573.3 227.2 L575.4 227.3 L577.4 227.4 L579.5 227.5 L581.5 227.5 L583.6 227.6 L585.6 227.7 L587.6 227.8 L589.7 228.0 L591.7 228.1 L593.8 228.2 L595.8 228.3 L597.9 228.4 L599.9 228.5 L601.9 228.6 L604.0 228.7 L606.0 228.8 L608.1 228.9 L610.1 229.0 L612.2 229.0 L614.2 229.1 L616.2 229.2 L618.3 229.2 L620.3 229.3 L622.4 229.3 L624.4 229.4 L626.5 229.4 L628.5 229.4"/>
<path d="M120.0 342.6 L122.0 342.6 L124.1 342.6 L126.1 342.6 L128.2 342.6 L130.2 342.6 L132.3 342.6 L134.3 342.6 L136.4 342.5 L138.4 342.5 L140.4 342.5 L142.5 342.4 L144.5 342.3 L146.6 342.3 L148.6 342.2 L150.7 342.1 L152.7 342.0 L154.7 341.9 L156.8 341.8 L158.8 341.7 L160.9 341.5 L162.9 341.4 L165.0 341.2 L167.0 341.0 L169.1 340.9 L171.1 340.7 L173.1 340.5 L175.2 340.3 L177.2 340.0 L179.3 339.8 L181.3 339.6 L183.4 339.3 L185.4 339.1 L187.5 338.9 L189.5 338.6 L191.5 338.4 L193.6 338.1 L195.6 337.9 L197.7 337.6 L199.7 337.4 L201.8 337.2 L203.8 336.9 L205.8 336.7 L207.9 336.5 L209.9 336.3 L212.0 336.1 L214.0 336.0 L216.1 335.8 L218.1 335.6 L220.2 335.5 L222.2 335.4 L224.2 335.3 L226.3 335.2 L228.3 335.1 L230.4 335.0 L232.4 335.0 L234.5 334.9 L236.5 334.9 L238.6 334.9 L240.6 334.9 L242.6 334.9"/>
<path d="M120.0 351.8 L122.0 351.8 L124.1 351.8 L126.1 351.8 L128.2 351.7 L130.2 351.7 L132.3 351.6 L134.3 351.5 L136.4 351.4 L138.4 351.4 L140.4 351.3 L142.5 351.2 L144.5 351.0 L146.6 350.9 L148.6 350.8 L150.7 350.6 L152.7 350.5 L154.7 350.4 L156.8 350.2 L158.8 350.0 L160.9 349.9 L162.9 349.7 L165.0 349.5 L167.0 349.3 L169.1 349.2 L171.1 349.0 L173.1 348.8 L175.2 348.6 L177.2 348.4 L179.3 348.3 L181.3 348.1 L183.4 347.9 L185.4 347.7 L187.5 347.6 L189.5 347.4 L191.5 347.2 L193.6 347.1 L195.6 346.9 L197.7 346.8 L199.7 346.6 L201.8 346.5 L203.8 346.4 L205.8 346.3 L207.9 346.2 L209.9 346.1 L212.0 346.0 L214.0 345.9 L216.1 345.8 L218.1 345.7 L220.2 345.7 L222.2 345.6 L224.2 345.5 L226.3 345.5 L228.3 345.4 L230.4 345.4 L232.4 345.4 L234.5 345.4 L236.5 345.3 L238.6 345.3 L240.6 345.3 L242.6 345.3"/>
<path d="M120.0 356.4 L122.0 356.4 L124.1 356.3 L126.1 356.2 L128.2 356.0 L130.2 355.8 L132.3 355.5 L134.3 355.2 L136.4 354.9 L138.4 354.6 L140.4 354.2 L142.5 353.9 L144.5 353.5 L146.6 353.2 L148.6 352.8 L150.7 352.5 L152.7 352.2 L154.7 351.9 L156.8 351.5 L158.8 351.2 L160.9 350.9 L162.9 350.6 L165.0 350.3 L167.0 350.1 L169.1 349.8 L171.1 349.5 L173.1 349.2 L175.2 349.0 L177.2 348.8 L179.3 348.5 L181.3 348.3 L183.4 348.1 L185.4 347.9 L187.5 347.7 L189.5 347.5 L191.5 347.3 L193.6 347.1 L195.6 346.9 L197.7 346.8 L199.7 346.6 L201.8 346.5 L203.8 346.4 L205.8 346.2 L207.9 346.1 L209.9 346.0 L212.0 345.9 L214.0 345.8 L216.1 345.8 L218.1 345.7 L220.2 345.6 L222.2 345.6 L224.2 345.5 L226.3 345.5 L228.3 345.4 L230.4 345.4 L232.4 345.4 L234.5 345.3 L236.5 345.3 L238.6 345.3 L240.6 345.3 L242.6 345.3"/>
<path d="M120.0 358.9 L122.0 358.9 L124.1 358.9 L126.1 358.9 L128.2 358.9 L130.2 358.9 L132.3 359.0 L134.3 359.0 L136.4 359.0 L138.4 359.1 L140.4 359.1 L142.5 359.2 L144.5 359.3 L146.6 359.3 L148.6 359.4 L150.7 359.5 L152.7 359.6 L154.7 359.7 L156.8 359.8 L158.8 359.9 L160.9 360.1 L162.9 360.2 L165.0 360.3 L167.0 360.5 L169.1 360.6 L171.1 360.8 L173.1 360.9 L175.2 361.1 L177.2 361.3 L179.3 361.4 L181.3 361.6 L183.4 361.8 L185.4 361.9 L187.5 362.1 L189.5 362.2 L191.5 362.4 L193.6 362.5 L195.6 362.7 L197.7 362.8 L199.7 362.9 L201.8 363.1 L203.8 363.2 L205.8 363.3 L207.9 363.4 L209.9 363.5 L212.0 363.6 L214.0 363.7 L216.1 363.8 L218.1 363.8 L220.2 363.9 L222.2 364.0 L224.2 364.0 L226.3 364.1 L228.3 364.1 L230.4 364.2 L232.4 364.2 L234.5 364.2 L236.5 364.2 L238.6 364.3 L240.6 364.3 L242.6 364.3"/>
<path d="M120.0 359.5 L122.0 359.5 L124.1 359.5 L126.1 359.6 L128.2 359.6 L130.2 359.7 L132.3 359.7 L134.3 359.8 L136.4 359.8 L138.4 359.9 L140.4 360.0 L142.5 360.1 L144.5 360.2 L146.6 360.4 L148.6 360.5 L150.7 360.6 L152.7 360.8 L154.7 361.0 L156.8 361.1 L158.8 361.3 L160.9 361.5 L162.9 361.7 L165.0 361.9 L167.0 362.1 L169.1 362.4 L171.1 362.6 L173.1 362.8 L175.2 363.0 L177.2 363.3 L179.3 363.5 L181.3 363.8 L183.4 364.0 L185.4 364.2 L187.5 364.5 L189.5 364.7 L191.5 364.9 L193.6 365.1 L195.6 365.4 L197.7 365.6 L199.7 365.8 L201.8 366.0 L203.8 366.2 L205.8 366.4 L207.9 366.6 L209.9 366.7 L212.0 366.9 L214.0 367.1 L216.1 367.2 L218.1 367.4 L220.2 367.5 L222.2 367.7 L224.2 367.8 L226.3 367.9 L228.3 368.0 L230.4 368.1 L232.4 368.2 L234.5 368.2 L236.5 368.3 L238.6 368.3 L240.6 368.3 L242.6 368.3"/>
<path d="M120.0 364.0 L122.0 364.0 L124.1 364.0 L126.1 364.0 L128.2 364.1 L130.2 364.1 L132.3 364.2 L134.3 364.2 L136.4 364.3 L138.4 364.4 L140.4 364.5 L142.5 364.6 L144.5 364.7 L146.6 364.8 L148.6 364.9 L150.7 365.1 L152.7 365.2 L154.7 365.3 L156.8 365.5 L158.8 365.6 L160.9 365.8 L162.9 366.0 L165.0 366.1 L167.0 366.3 L169.1 366.5 L171.1 366.6 L173.1 366.8 L175.2 366.9 L177.2 367.1 L179.3 367.2 L181.3 367.4 L183.4 367.5 L185.4 367.6 L187.5 367.7 L189.5 367.8 L191.5 367.9 L193.6 368.0 L195.6 368.1 L197.7 368.1 L199.7 368.2 L201.8 368.2 L203.8 368.2 L205.8 368.3 L207.9 368.3 L209.9 368.3 L212.0 368.3 L214.0 368.3 L216.1 368.3 L218.1 368.4 L220.2 368.4 L222.2 368.4 L224.2 368.4 L226.3 368.4 L228.3 368.4 L230.4 368.3 L232.4 368.3 L234.5 368.3 L236.5 368.3 L238.6 368.3 L240.6 368.3 L242.6 368.3"/>
<path d="M120.0 371.7 L122.0 371.7 L124.1 371.7 L126.1 371.7 L128.2 371.8 L130.2 371.8 L132.3 371.8 L134.3 371.8 L136.4 371.8 L138.4 371.9 L140.4 371.9 L142.5 371.9 L144.5 371.9 L146.6 372.0 L148.6 372.0 L150.7 372.0 L152.7 372.1 L154.7 372.1 L156.8 372.1 L158.8 372.1 L160.9 372.1 L162.9 372.2 L165.0 372.2 L167.0 372.2 L169.1 372.2 L171.1 372.2 L173.1 372.2 L175.2 372.2 L177.2 372.2 L179.3 372.2 L181.3 372.2 L183.4 372.3 L185.4 372.3 L187.5 372.3 L189.5 372.3 L191.5 372.3 L193.6 372.3 L195.6 372.3 L197.7 372.4 L199.7 372.4 L201.8 372.4 L203.8 372.5 L205.8 372.5 L207.9 372.5 L209.9 372.6 L212.0 372.6 L214.0 372.7 L216.1 372.7 L218.1 372.8 L220.2 372.8 L222.2 372.8 L224.2 372.9 L226.3 372.9 L228.3 372.9 L230.4 373.0 L232.4 373.0 L234.5 373.0 L236.5 373.0 L238.6 373.1 L240.6 373.1 L242.6 373.1"/>
<path d="M242.6 335.4 L244.7 335.4 L246.8 335.4 L248.8 335.4 L250.9 335.3 L253.0 335.3 L255.0 335.3 L257.1 335.4 L259.2 335.4 L261.2 335.5 L263.3 335.7 L265.4 335.8 L267.4 336.1 L269.5 336.3 L271.5 336.5 L273.6 336.8 L275.7 337.1 L277.7 337.4 L279.8 337.7 L281.9 338.1 L283.9 338.4 L286.0 338.7 L288.1 339.1 L290.1 339.4 L292.2 339.8 L294.3 340.1 L296.3 340.5 L298.4 340.8 L300.5 341.1 L302.5 341.5 L304.6 341.8 L306.6 342.1 L308.7 342.4 L310.8 342.7 L312.8 343.0 L314.9 343.2 L317.0 343.4 L319.0 343.6 L321.1 343.7 L323.2 343.8 L325.2 343.9 L327.3 343.9 L329.4 344.0"/>
<path d="M242.6 345.3 L244.7 345.3 L246.8 345.3 L248.8 345.3 L250.9 345.4 L253.0 345.4 L255.0 345.4 L257.1 345.4 L259.2 345.5 L261.2 345.5 L263.3 345.6 L265.4 345.7 L267.4 345.8 L269.5 345.8 L271.5 345.9 L273.6 346.1 L275.7 346.2 L277.7 346.3 L279.8 346.4 L281.9 346.5 L283.9 346.7 L286.0 346.8 L288.1 347.0 L290.1 347.1 L292.2 347.2 L294.3 347.4 L296.3 347.5 L298.4 347.6 L300.5 347.7 L302.5 347.8 L304.6 347.9 L306.6 348.0 L308.7 348.1 L310.8 348.1 L312.8 348.2 L314.9 348.3 L317.0 348.3 L319.0 348.3 L321.1 348.4 L323.2 348.4 L325.2 348.4 L327.3 348.4 L329.4 348.4"/>
<path d="M242.6 345.6 L244.7 345.6 L246.8 345.6 L248.8 345.7 L250.9 345.7 L253.0 345.7 L255.0 345.8 L257.1 345.9 L259.2 345.9 L261.2 346.0 L263.3 346.1 L265.4 346.2 L267.4 346.3 L269.5 346.4 L271.5 346.5 L273.6 346.6 L275.7 346.7 L277.7 346.8 L279.8 347.0 L281.9 347.1 L283.9 347.2 L286.0 347.3 L288.1 347.5 L290.1 347.6 L292.2 347.7 L294.3 347.8 L296.3 347.9 L298.4 348.0 L300.5 348.1 L302.5 348.2 L304.6 348.3 L306.6 348.4 L308.7 348.4 L310.8 348.5 L312.8 348.6 L314.9 348.6 L317.0 348.6 L319.0 348.7 L321.1 348.7 L323.2 348.7 L325.2 348.7 L327.3 348.7 L329.4 348.7"/>
<path d="M242.6 364.6 L244.7 364.6 L246.8 364.6 L248.8 364.5 L250.9 364.5 L253.0 364.4 L255.0 364.3 L257.1 364.3 L259.2 364.2 L261.2 364.1 L263.3 363.9 L265.4 363.8 L267.4 363.7 L269.5 363.5 L271.5 363.4 L273.6 363.2 L275.7 363.0 L277.7 362.8 L279.8 362.6 L281.9 362.4 L283.9 362.2 L286.0 362.0 L288.1 361.7 L290.1 361.5 L292.2 361.2 L294.3 360.9 L296.3 360.6 L298.4 360.3 L300.5 360.1 L302.5 359.8 L304.6 359.5 L306.6 359.3 L308.7 359.1 L310.8 358.9 L312.8 358.7 L314.9 358.5 L317.0 358.4 L319.0 358.3 L321.1 358.2 L323.2 358.2 L325.2 358.2 L327.3 358.1 L329.4 358.1"/>
<path d="M242.6 367.7 L244.7 367.7 L246.8 367.7 L248.8 367.7 L250.9 367.7 L253.0 367.6 L255.0 367.6 L257.1 367.5 L259.2 367.4 L261.2 367.3 L263.3 367.2 L265.4 367.0 L267.4 366.9 L269.5 366.6 L271.5 366.4 L273.6 366.1 L275.7 365.9 L277.7 365.5 L279.8 365.2 L281.9 364.9 L283.9 364.6 L286.0 364.2 L288.1 363.9 L290.1 363.5 L292.2 363.2 L294.3 362.9 L296.3 362.6 L298.4 362.3 L300.5 362.0 L302.5 361.8 L304.6 361.5 L306.6 361.3 L308.7 361.1 L310.8 360.9 L312.8 360.8 L314.9 360.7 L317.0 360.6 L319.0 360.5 L321.1 360.5 L323.2 360.5 L325.2 360.4 L327.3 360.4 L329.4 360.4"/>
<path d="M242.6 368.2 L244.7 368.2 L246.8 368.2 L248.8 368.2 L250.9 368.1 L253.0 368.1 L255.0 368.1 L257.1 368.0 L259.2 368.0 L261.2 367.9 L263.3 367.9 L265.4 367.8 L267.4 367.8 L269.5 367.7 L271.5 367.7 L273.6 367.6 L275.7 367.6 L277.7 367.5 L279.8 367.5 L281.9 367.5 L283.9 367.5 L286.0 367.4 L288.1 367.4 L290.1 367.4 L292.2 367.3 L294.3 367.3 L296.3 367.3 L298.4 367.2 L300.5 367.2 L302.5 367.1 L304.6 367.1 L306.6 367.0 L308.7 367.0 L310.8 366.9 L312.8 366.9 L314.9 366.9 L317.0 366.8 L319.0 366.8 L321.1 366.7 L323.2 366.7 L325.2 366.7 L327.3 366.7 L329.4 366.7"/>
<path d="M242.6 373.4 L244.7 373.4 L246.8 373.4 L248.8 373.4 L250.9 373.3 L253.0 373.2 L255.0 373.2 L257.1 373.1 L259.2 373.0 L261.2 372.9 L263.3 372.7 L265.4 372.6 L267.4 372.5 L269.5 372.4 L271.5 372.3 L273.6 372.1 L275.7 372.0 L277.7 371.9 L279.8 371.7 L281.9 371.6 L283.9 371.5 L286.0 371.4 L288.1 371.3 L290.1 371.2 L292.2 371.1 L294.3 371.0 L296.3 370.9 L298.4 370.9 L300.5 370.8 L302.5 370.8 L304.6 370.8 L306.6 370.8 L308.7 370.7 L310.8 370.7 L312.8 370.7 L314.9 370.8 L317.0 370.8 L319.0 370.8 L321.1 370.8 L323.2 370.8 L325.2 370.8 L327.3 370.8 L329.4 370.8"/>
<path d="M242.6 373.4 L244.7 373.4 L246.8 373.4 L248.8 373.4 L250.9 373.3 L253.0 373.3 L255.0 373.2 L257.1 373.1 L259.2 373.0 L261.2 372.9 L263.3 372.8 L265.4 372.7 L267.4 372.5 L269.5 372.4 L271.5 372.2 L273.6 372.0 L275.7 371.8 L277.7 371.6 L279.8 371.3 L281.9 371.1 L283.9 370.8 L286.0 370.6 L288.1 370.3 L290.1 370.0 L292.2 369.8 L294.3 369.5 L296.3 369.2 L298.4 369.0 L300.5 368.7 L302.5 368.5 L304.6 368.3 L306.6 368.1 L308.7 367.9 L310.8 367.7 L312.8 367.6 L314.9 367.5 L317.0 367.4 L319.0 367.3 L321.1 367.3 L323.2 367.2 L325.2 367.2 L327.3 367.2 L329.4 367.2"/>
<path d="M329.4 343.8 L331.4 343.7 L333.5 343.7 L335.6 343.7 L337.6 343.7 L339.7 343.7 L341.7 343.7 L343.8 343.7 L345.9 343.7 L347.9 343.7 L350.0 343.6 L352.1 343.6 L354.1 343.6 L356.2 343.5 L358.3 343.5 L360.3 343.4 L362.4 343.4 L364.5 343.3 L366.5 343.3 L368.6 343.2 L370.7 343.2 L372.7 343.1 L374.8 343.0 L376.8 343.0 L378.9 342.9 L381.0 342.9 L383.0 342.8 L385.1 342.8 L387.2 342.7 L389.2 342.7 L391.3 342.6 L393.4 342.6 L395.4 342.6 L397.5 342.6 L399.6 342.5 L401.6 342.5 L403.7 342.5 L405.8 342.5 L407.8 342.5 L409.9 342.5 L412.0 342.5 L414.0 342.5 L416.1 342.5"/>
<path d="M329.4 348.1 L331.4 348.1 L333.5 348.1 L335.6 348.2 L337.6 348.2 L339.7 348.2 L341.7 348.3 L343.8 348.3 L345.9 348.4 L347.9 348.4 L350.0 348.5 L352.1 348.6 L354.1 348.7 L356.2 348.7 L358.3 348.8 L360.3 348.9 L362.4 349.0 L364.5 349.2 L366.5 349.3 L368.6 349.4 L370.7 349.5 L372.7 349.6 L374.8 349.8 L376.8 349.9 L378.9 350.0 L381.0 350.1 L383.0 350.3 L385.1 350.4 L387.2 350.5 L389.2 350.6 L391.3 350.7 L393.4 350.9 L395.4 351.0 L397.5 351.1 L399.6 351.2 L401.6 351.2 L403.7 351.3 L405.8 351.4 L407.8 351.5 L409.9 351.5 L412.0 351.5 L414.0 351.6 L416.1 351.6"/>
<path d="M329.4 348.4 L331.4 348.4 L333.5 348.5 L335.6 348.5 L337.6 348.5 L339.7 348.6 L341.7 348.6 L343.8 348.7 L345.9 348.8 L347.9 348.9 L350.0 349.0 L352.1 349.2 L354.1 349.3 L356.2 349.5 L358.3 349.7 L360.3 349.9 L362.4 350.1 L364.5 350.3 L366.5 350.6 L368.6 350.8 L370.7 351.1 L372.7 351.4 L374.8 351.7 L376.8 352.0 L378.9 352.4 L381.0 352.7 L383.0 353.1 L385.1 353.4 L387.2 353.8 L389.2 354.1 L391.3 354.4 L393.4 354.7 L395.4 355.0 L397.5 355.2 L399.6 355.3 L401.6 355.5 L403.7 355.6 L405.8 355.6 L407.8 355.7 L409.9 355.7 L412.0 355.7 L414.0 355.7 L416.1 355.7"/>
<path d="M329.4 358.5 L331.4 358.5 L333.5 358.6 L335.6 358.6 L337.6 358.6 L339.7 358.6 L341.7 358.6 L343.8 358.6 L345.9 358.7 L347.9 358.7 L350.0 358.7 L352.1 358.7 L354.1 358.8 L356.2 358.8 L358.3 358.8 L360.3 358.8 L362.4 358.8 L364.5 358.8 L366.5 358.9 L368.6 358.9 L370.7 358.9 L372.7 358.9 L374.8 358.8 L376.8 358.8 L378.9 358.8 L381.0 358.8 L383.0 358.8 L385.1 358.8 L387.2 358.8 L389.2 358.7 L391.3 358.7 L393.4 358.7 L395.4 358.7 L397.5 358.7 L399.6 358.6 L401.6 358.6 L403.7 358.6 L405.8 358.6 L407.8 358.6 L409.9 358.6 L412.0 358.5 L414.0 358.5 L416.1 358.5"/>
<path d="M329.4 360.2 L331.4 360.2 L333.5 360.2 L335.6 360.3 L337.6 360.3 L339.7 360.4 L341.7 360.5 L343.8 360.5 L345.9 360.6 L347.9 360.7 L350.0 360.8 L352.1 360.8 L354.1 360.9 L356.2 360.9 L358.3 361.0 L360.3 361.0 L362.4 361.0 L364.5 361.0 L366.5 361.0 L368.6 361.0 L370.7 361.0 L372.7 360.9 L374.8 360.9 L376.8 360.8 L378.9 360.8 L381.0 360.7 L383.0 360.6 L385.1 360.5 L387.2 360.4 L389.2 360.3 L391.3 360.2 L393.4 360.1 L395.4 360.0 L397.5 359.9 L399.6 359.8 L401.6 359.7 L403.7 359.7 L405.8 359.6 L407.8 359.5 L409.9 359.5 L412.0 359.4 L414.0 359.4 L416.1 359.4"/>
<path d="M329.4 362.0 L331.4 362.0 L333.5 362.0 L335.6 362.1 L337.6 362.1 L339.7 362.2 L341.7 362.3 L343.8 362.4 L345.9 362.5 L347.9 362.6 L350.0 362.7 L352.1 362.8 L354.1 362.9 L356.2 363.0 L358.3 363.1 L360.3 363.2 L362.4 363.3 L364.5 363.4 L366.5 363.5 L368.6 363.6 L370.7 363.7 L372.7 363.7 L374.8 363.8 L376.8 363.9 L378.9 363.9 L381.0 364.0 L383.0 364.0 L385.1 364.0 L387.2 364.1 L389.2 364.1 L391.3 364.1 L393.4 364.1 L395.4 364.1 L397.5 364.1 L399.6 364.1 L401.6 364.1 L403.7 364.1 L405.8 364.1 L407.8 364.1 L409.9 364.1 L412.0 364.1 L414.0 364.1 L416.1 364.1"/>
<path d="M329.4 366.7 L331.4 366.7 L333.5 366.7 L335.6 366.7 L337.6 366.7 L339.7 366.7 L341.7 366.6 L343.8 366.6 L345.9 366.6 L347.9 366.5 L350.0 366.5 L352.1 366.4 L354.1 366.3 L356.2 366.1 L358.3 366.0 L360.3 365.8 L362.4 365.6 L364.5 365.4 L366.5 365.2 L368.6 364.9 L370.7 364.7 L372.7 364.4 L374.8 364.1 L376.8 363.8 L378.9 363.4 L381.0 363.1 L383.0 362.8 L385.1 362.4 L387.2 362.0 L389.2 361.7 L391.3 361.3 L393.4 360.9 L395.4 360.5 L397.5 360.2 L399.6 359.9 L401.6 359.5 L403.7 359.2 L405.8 359.0 L407.8 358.8 L409.9 358.6 L412.0 358.4 L414.0 358.4 L416.1 358.3"/>
<path d="M329.4 367.7 L331.4 367.7 L333.5 367.7 L335.6 367.8 L337.6 367.8 L339.7 367.9 L341.7 368.0 L343.8 368.0 L345.9 368.1 L347.9 368.2 L350.0 368.4 L352.1 368.5 L354.1 368.6 L356.2 368.7 L358.3 368.9 L360.3 369.0 L362.4 369.2 L364.5 369.3 L366.5 369.5 L368.6 369.6 L370.7 369.8 L372.7 369.9 L374.8 370.1 L376.8 370.2 L378.9 370.4 L381.0 370.5 L383.0 370.6 L385.1 370.7 L387.2 370.8 L389.2 370.9 L391.3 371.0 L393.4 371.1 L395.4 371.1 L397.5 371.2 L399.6 371.2 L401.6 371.3 L403.7 371.3 L405.8 371.3 L407.8 371.3 L409.9 371.3 L412.0 371.3 L414.0 371.4 L416.1 371.4"/>
<path d="M329.4 371.4 L331.4 371.4 L333.5 371.4 L335.6 371.3 L337.6 371.3 L339.7 371.3 L341.7 371.3 L343.8 371.3 L345.9 371.3 L347.9 371.3 L350.0 371.3 L352.1 371.3 L354.1 371.3 L356.2 371.4 L358.3 371.4 L360.3 371.4 L362.4 371.4 L364.5 371.4 L366.5 371.4 L368.6 371.5 L370.7 371.5 L372.7 371.5 L374.8 371.5 L376.8 371.5 L378.9 371.5 L381.0 371.6 L383.0 371.6 L385.1 371.6 L387.2 371.6 L389.2 371.6 L391.3 371.5 L393.4 371.5 L395.4 371.5 L397.5 371.5 L399.6 371.5 L401.6 371.5 L403.7 371.4 L405.8 371.4 L407.8 371.4 L409.9 371.4 L412.0 371.4 L414.0 371.4 L416.1 371.4"/>
<path d="M416.1 342.5 L418.1 342.5 L420.2 342.5 L422.2 342.5 L424.2 342.5 L426.3 342.5 L428.3 342.6 L430.4 342.6 L432.4 342.6 L434.5 342.7 L436.5 342.7 L438.5 342.7 L440.6 342.8 L442.6 342.9 L444.7 342.9 L446.7 343.0 L448.8 343.1 L450.8 343.2 L452.8 343.3 L454.9 343.4 L456.9 343.5 L459.0 343.6 L461.0 343.8 L463.1 343.9 L465.1 344.0 L467.1 344.2 L469.2 344.3 L471.2 344.5 L473.3 344.6 L475.3 344.8 L477.3 344.9 L479.4 345.1 L481.4 345.2 L483.5 345.4 L485.5 345.5 L487.6 345.7 L489.6 345.8 L491.6 346.0 L493.7 346.1 L495.7 346.2 L497.8 346.4 L499.8 346.5 L501.9 346.6 L503.9 346.7 L505.9 346.8 L508.0 346.9 L510.0 347.0 L512.1 347.1 L514.1 347.1 L516.2 347.2 L518.2 347.2 L520.2 347.2 L522.3 347.2"/>
<path d="M416.1 351.5 L418.1 351.5 L420.2 351.5 L422.2 351.4 L424.2 351.4 L426.3 351.3 L428.3 351.2 L430.4 351.2 L432.4 351.1 L434.5 351.0 L436.5 350.8 L438.5 350.7 L440.6 350.6 L442.6 350.5 L444.7 350.3 L446.7 350.2 L448.8 350.1 L450.8 349.9 L452.8 349.8 L454.9 349.6 L456.9 349.5 L459.0 349.3 L461.0 349.2 L463.1 349.1 L465.1 348.9 L467.1 348.8 L469.2 348.7 L471.2 348.5 L473.3 348.4 L475.3 348.3 L477.3 348.2 L479.4 348.1 L481.4 348.0 L483.5 347.9 L485.5 347.8 L487.6 347.7 L489.6 347.7 L491.6 347.6 L493.7 347.5 L495.7 347.5 L497.8 347.4 L499.8 347.4 L501.9 347.4 L503.9 347.3 L505.9 347.3 L508.0 347.3 L510.0 347.3 L512.1 347.3 L514.1 347.3 L516.2 347.3 L518.2 347.3 L520.2 347.3 L522.3 347.2"/>
<path d="M416.1 355.0 L418.1 355.0 L420.2 355.0 L422.2 354.9 L424.2 354.8 L426.3 354.7 L428.3 354.6 L430.4 354.5 L432.4 354.4 L434.5 354.2 L436.5 354.0 L438.5 353.9 L440.6 353.7 L442.6 353.5 L444.7 353.2 L446.7 353.0 L448.8 352.8 L450.8 352.6 L452.8 352.3 L454.9 352.1 L456.9 351.8 L459.0 351.6 L461.0 351.4 L463.1 351.1 L465.1 350.9 L467.1 350.7 L469.2 350.4 L471.2 350.2 L473.3 350.0 L475.3 349.8 L477.3 349.6 L479.4 349.4 L481.4 349.2 L483.5 349.0 L485.5 348.9 L487.6 348.7 L489.6 348.6 L491.6 348.4 L493.7 348.3 L495.7 348.2 L497.8 348.1 L499.8 348.0 L501.9 347.9 L503.9 347.8 L505.9 347.7 L508.0 347.7 L510.0 347.6 L512.1 347.6 L514.1 347.6 L516.2 347.5 L518.2 347.5 L520.2 347.5 L522.3 347.5"/>
<path d="M416.1 357.8 L418.1 357.8 L420.2 357.8 L422.2 357.8 L424.2 357.9 L426.3 357.9 L428.3 358.0 L430.4 358.1 L432.4 358.2 L434.5 358.2 L436.5 358.3 L438.5 358.4 L440.6 358.5 L442.6 358.6 L444.7 358.8 L446.7 358.9 L448.8 359.0 L450.8 359.1 L452.8 359.2 L454.9 359.3 L456.9 359.3 L459.0 359.4 L461.0 359.5 L463.1 359.6 L465.1 359.7 L467.1 359.8 L469.2 359.9 L471.2 359.9 L473.3 360.0 L475.3 360.1 L477.3 360.2 L479.4 360.3 L481.4 360.4 L483.5 360.5 L485.5 360.6 L487.6 360.7 L489.6 360.7 L491.6 360.8 L493.7 360.9 L495.7 361.0 L497.8 361.1 L499.8 361.2 L501.9 361.3 L503.9 361.4 L505.9 361.5 L508.0 361.6 L510.0 361.7 L512.1 361.7 L514.1 361.8 L516.2 361.8 L518.2 361.8 L520.2 361.9 L522.3 361.9"/>
<path d="M416.1 358.1 L418.1 358.2 L420.2 358.3 L422.2 358.5 L424.2 358.8 L426.3 359.1 L428.3 359.5 L430.4 359.9 L432.4 360.3 L434.5 360.8 L436.5 361.2 L438.5 361.5 L440.6 361.9 L442.6 362.2 L444.7 362.5 L446.7 362.8 L448.8 363.1 L450.8 363.3 L452.8 363.5 L454.9 363.7 L456.9 363.9 L459.0 364.1 L461.0 364.3 L463.1 364.5 L465.1 364.6 L467.1 364.7 L469.2 364.9 L471.2 365.0 L473.3 365.1 L475.3 365.2 L477.3 365.3 L479.4 365.4 L481.4 365.5 L483.5 365.5 L485.5 365.6 L487.6 365.6 L489.6 365.7 L491.6 365.7 L493.7 365.7 L495.7 365.7 L497.8 365.7 L499.8 365.7 L501.9 365.7 L503.9 365.7 L505.9 365.7 L508.0 365.7 L510.0 365.7 L512.1 365.7 L514.1 365.7 L516.2 365.6 L518.2 365.6 L520.2 365.6 L522.3 365.6"/>
<path d="M416.1 364.8 L418.1 364.7 L420.2 364.7 L422.2 364.7 L424.2 364.7 L426.3 364.7 L428.3 364.7 L430.4 364.7 L432.4 364.7 L434.5 364.7 L436.5 364.7 L438.5 364.7 L440.6 364.7 L442.6 364.7 L444.7 364.7 L446.7 364.7 L448.8 364.7 L450.8 364.8 L452.8 364.8 L454.9 364.8 L456.9 364.8 L459.0 364.8 L461.0 364.9 L463.1 364.9 L465.1 364.9 L467.1 364.9 L469.2 365.0 L471.2 365.0 L473.3 365.0 L475.3 365.1 L477.3 365.1 L479.4 365.1 L481.4 365.2 L483.5 365.2 L485.5 365.2 L487.6 365.3 L489.6 365.3 L491.6 365.3 L493.7 365.4 L495.7 365.4 L497.8 365.4 L499.8 365.4 L501.9 365.5 L503.9 365.5 L505.9 365.5 L508.0 365.5 L510.0 365.6 L512.1 365.6 L514.1 365.6 L516.2 365.6 L518.2 365.6 L520.2 365.6 L522.3 365.6"/>
<path d="M416.1 371.5 L418.1 371.5 L420.2 371.5 L422.2 371.5 L424.2 371.5 L426.3 371.5 L428.3 371.5 L430.4 371.5 L432.4 371.5 L434.5 371.5 L436.5 371.5 L438.5 371.5 L440.6 371.5 L442.6 371.5 L444.7 371.4 L446.7 371.3 L448.8 371.3 L450.8 371.2 L452.8 371.1 L454.9 371.0 L456.9 370.9 L459.0 370.7 L461.0 370.6 L463.1 370.4 L465.1 370.3 L467.1 370.1 L469.2 369.9 L471.2 369.7 L473.3 369.5 L475.3 369.3 L477.3 369.1 L479.4 368.9 L481.4 368.7 L483.5 368.5 L485.5 368.3 L487.6 368.1 L489.6 367.9 L491.6 367.6 L493.7 367.4 L495.7 367.2 L497.8 367.0 L499.8 366.8 L501.9 366.6 L503.9 366.5 L505.9 366.3 L508.0 366.2 L510.0 366.0 L512.1 365.9 L514.1 365.8 L516.2 365.7 L518.2 365.7 L520.2 365.6 L522.3 365.6"/>
<path d="M522.3 347.2 L524.3 347.2 L526.4 347.2 L528.4 347.2 L530.5 347.1 L532.5 347.0 L534.5 346.9 L536.6 346.8 L538.6 346.7 L540.7 346.5 L542.7 346.3 L544.7 346.0 L546.8 345.8 L548.8 345.5 L550.9 345.1 L552.9 344.8 L555.0 344.4 L557.0 344.1 L559.0 343.7 L561.1 343.3 L563.1 342.9 L565.2 342.4 L567.2 342.0 L569.3 341.6 L571.3 341.2 L573.3 340.8 L575.4 340.4 L577.4 340.1 L579.5 339.7 L581.5 339.3 L583.6 339.0 L585.6 338.6 L587.6 338.3 L589.7 338.0 L591.7 337.7 L593.8 337.4 L595.8 337.1 L597.9 336.9 L599.9 336.6 L601.9 336.4 L604.0 336.2 L606.0 336.0 L608.1 335.9 L610.1 335.7 L612.2 335.6 L614.2 335.4 L616.2 335.3 L618.3 335.2 L620.3 335.2 L622.4 335.1 L624.4 335.0 L626.5 335.0 L628.5 335.0"/>
<path d="M522.3 347.2 L524.3 347.3 L526.4 347.3 L528.4 347.3 L530.5 347.3 L532.5 347.4 L534.5 347.4 L536.6 347.5 L538.6 347.5 L540.7 347.6 L542.7 347.6 L544.7 347.6 L546.8 347.7 L548.8 347.7 L550.9 347.7 L552.9 347.8 L555.0 347.8 L557.0 347.7 L559.0 347.7 L561.1 347.7 L563.1 347.6 L565.2 347.6 L567.2 347.5 L569.3 347.4 L571.3 347.3 L573.3 347.3 L575.4 347.2 L577.4 347.1 L579.5 347.0 L581.5 346.8 L583.6 346.7 L585.6 346.6 L587.6 346.5 L589.7 346.4 L591.7 346.3 L593.8 346.2 L595.8 346.1 L597.9 346.0 L599.9 345.9 L601.9 345.8 L604.0 345.8 L606.0 345.7 L608.1 345.6 L610.1 345.5 L612.2 345.5 L614.2 345.4 L616.2 345.4 L618.3 345.3 L620.3 345.3 L622.4 345.3 L624.4 345.3 L626.5 345.3 L628.5 345.2"/>
<path d="M522.3 347.8 L524.3 347.8 L526.4 347.8 L528.4 347.8 L530.5 347.8 L532.5 347.9 L534.5 347.9 L536.6 347.9 L538.6 348.0 L540.7 348.0 L542.7 348.1 L544.7 348.1 L546.8 348.1 L548.8 348.1 L550.9 348.1 L552.9 348.1 L555.0 348.1 L557.0 348.1 L559.0 348.1 L561.1 348.0 L563.1 348.0 L565.2 347.9 L567.2 347.8 L569.3 347.7 L571.3 347.6 L573.3 347.5 L575.4 347.4 L577.4 347.3 L579.5 347.2 L581.5 347.1 L583.6 347.0 L585.6 346.9 L587.6 346.8 L589.7 346.7 L591.7 346.6 L593.8 346.5 L595.8 346.4 L597.9 346.3 L599.9 346.2 L601.9 346.1 L604.0 346.0 L606.0 346.0 L608.1 345.9 L610.1 345.9 L612.2 345.8 L614.2 345.8 L616.2 345.7 L618.3 345.7 L620.3 345.7 L622.4 345.7 L624.4 345.6 L626.5 345.6 L628.5 345.6"/>
<path d="M522.3 362.5 L524.3 362.5 L526.4 362.4 L528.4 362.2 L530.5 362.0 L532.5 361.8 L534.5 361.5 L536.6 361.3 L538.6 361.0 L540.7 360.8 L542.7 360.5 L544.7 360.3 L546.8 360.1 L548.8 360.0 L550.9 360.0 L552.9 359.9 L555.0 360.0 L557.0 360.1 L559.0 360.2 L561.1 360.3 L563.1 360.5 L565.2 360.8 L567.2 361.0 L569.3 361.2 L571.3 361.5 L573.3 361.8 L575.4 362.0 L577.4 362.3 L579.5 362.5 L581.5 362.8 L583.6 363.0 L585.6 363.2 L587.6 363.4 L589.7 363.6 L591.7 363.8 L593.8 364.0 L595.8 364.2 L597.9 364.3 L599.9 364.4 L601.9 364.5 L604.0 364.6 L606.0 364.6 L608.1 364.7 L610.1 364.7 L612.2 364.8 L614.2 364.8 L616.2 364.8 L618.3 364.8 L620.3 364.8 L622.4 364.8 L624.4 364.8 L626.5 364.8 L628.5 364.8"/>
<path d="M522.3 365.0 L524.3 365.0 L526.4 365.0 L528.4 365.0 L530.5 365.0 L532.5 365.1 L534.5 365.1 L536.6 365.1 L538.6 365.1 L540.7 365.2 L542.7 365.2 L544.7 365.3 L546.8 365.3 L548.8 365.4 L550.9 365.5 L552.9 365.5 L555.0 365.6 L557.0 365.7 L559.0 365.8 L561.1 365.9 L563.1 366.0 L565.2 366.1 L567.2 366.2 L569.3 366.3 L571.3 366.4 L573.3 366.5 L575.4 366.6 L577.4 366.7 L579.5 366.8 L581.5 367.0 L583.6 367.1 L585.6 367.2 L587.6 367.3 L589.7 367.4 L591.7 367.4 L593.8 367.5 L595.8 367.6 L597.9 367.7 L599.9 367.7 L601.9 367.8 L604.0 367.9 L606.0 367.9 L608.1 367.9 L610.1 368.0 L612.2 368.0 L614.2 368.0 L616.2 368.1 L618.3 368.1 L620.3 368.1 L622.4 368.1 L624.4 368.1 L626.5 368.1 L628.5 368.1"/>
<path d="M522.3 365.6 L524.3 365.6 L526.4 365.7 L528.4 365.7 L530.5 365.7 L532.5 365.8 L534.5 365.9 L536.6 365.9 L538.6 366.0 L540.7 366.1 L542.7 366.2 L544.7 366.3 L546.8 366.4 L548.8 366.5 L550.9 366.6 L552.9 366.7 L555.0 366.8 L557.0 367.0 L559.0 367.1 L561.1 367.2 L563.1 367.3 L565.2 367.4 L567.2 367.5 L569.3 367.6 L571.3 367.7 L573.3 367.8 L575.4 367.9 L577.4 368.0 L579.5 368.1 L581.5 368.1 L583.6 368.2 L585.6 368.3 L587.6 368.4 L589.7 368.4 L591.7 368.5 L593.8 368.5 L595.8 368.6 L597.9 368.6 L599.9 368.6 L601.9 368.7 L604.0 368.7 L606.0 368.7 L608.1 368.7 L610.1 368.7 L612.2 368.7 L614.2 368.7 L616.2 368.7 L618.3 368.7 L620.3 368.8 L622.4 368.8 L624.4 368.8 L626.5 368.8 L628.5 368.8"/>
<path d="M522.3 366.2 L524.3 366.3 L526.4 366.3 L528.4 366.3 L530.5 366.4 L532.5 366.4 L534.5 366.5 L536.6 366.6 L538.6 366.7 L540.7 366.8 L542.7 367.0 L544.7 367.1 L546.8 367.3 L548.8 367.5 L550.9 367.7 L552.9 367.9 L555.0 368.1 L557.0 368.3 L559.0 368.5 L561.1 368.8 L563.1 369.0 L565.2 369.3 L567.2 369.5 L569.3 369.8 L571.3 370.0 L573.3 370.2 L575.4 370.5 L577.4 370.7 L579.5 370.9 L581.5 371.1 L583.6 371.3 L585.6 371.4 L587.6 371.6 L589.7 371.7 L591.7 371.8 L593.8 372.0 L595.8 372.1 L597.9 372.2 L599.9 372.3 L601.9 372.3 L604.0 372.4 L606.0 372.5 L608.1 372.6 L610.1 372.7 L612.2 372.8 L614.2 372.8 L616.2 372.9 L618.3 373.0 L620.3 373.0 L622.4 373.1 L624.4 373.1 L626.5 373.1 L628.5 373.1"/>
<path d="M120.0 470.7 L122.0 470.7 L124.1 470.7 L126.1 470.7 L128.2 470.7 L130.2 470.7 L132.3 470.7 L134.3 470.7 L136.4 470.7 L138.4 470.7 L140.4 470.7 L142.5 470.7 L144.5 470.7 L146.6 470.7 L148.6 470.7 L150.7 470.7 L152.7 470.7 L154.7 470.7 L156.8 470.7 L158.8 470.7 L160.9 470.7 L162.9 470.7 L165.0 470.7 L167.0 470.7 L169.1 470.7 L171.1 470.7 L173.1 470.7 L175.2 470.7 L177.2 470.7 L179.3 470.7 L181.3 470.7 L183.4 470.7 L185.4 470.7 L187.5 470.7 L189.5 470.7 L191.5 470.7 L193.6 470.7 L195.6 470.7 L197.7 470.7 L199.7 470.7 L201.8 470.7 L203.8 470.7 L205.8 470.7 L207.9 470.7 L209.9 470.7 L212.0 470.7 L214.0 470.7 L216.1 470.7 L218.1 470.7 L220.2 470.7 L222.2 470.7 L224.2 470.7 L226.3 470.7 L228.3 470.7 L230.4 470.7 L232.4 470.7 L234.5 470.7 L236.5 470.7 L238.6 470.7 L240.6 470.7 L242.6 470.7"/>
<path d="M120.0 473.8 L122.0 473.8 L124.1 473.8 L126.1 473.9 L128.2 474.0 L130.2 474.0 L132.3 474.1 L134.3 474.3 L136.4 474.4 L138.4 474.6 L140.4 474.7 L142.5 474.9 L144.5 475.1 L146.6 475.3 L148.6 475.5 L150.7 475.7 L152.7 476.0 L154.7 476.2 L156.8 476.5 L158.8 476.8 L160.9 477.1 L162.9 477.4 L165.0 477.7 L167.0 478.0 L169.1 478.3 L171.1 478.6 L173.1 479.0 L175.2 479.3 L177.2 479.7 L179.3 480.0 L181.3 480.4 L183.4 480.8 L185.4 481.1 L187.5 481.5 L189.5 481.9 L191.5 482.2 L193.6 482.6 L195.6 482.9 L197.7 483.3 L199.7 483.6 L201.8 483.9 L203.8 484.3 L205.8 484.6 L207.9 484.9 L209.9 485.1 L212.0 485.4 L214.0 485.7 L216.1 485.9 L218.1 486.2 L220.2 486.4 L222.2 486.6 L224.2 486.8 L226.3 486.9 L228.3 487.1 L230.4 487.2 L232.4 487.3 L234.5 487.4 L236.5 487.5 L238.6 487.6 L240.6 487.6 L242.6 487.6"/>
<path d="M120.0 474.7 L122.0 474.7 L124.1 474.8 L126.1 474.8 L128.2 474.9 L130.2 475.0 L132.3 475.1 L134.3 475.2 L136.4 475.3 L138.4 475.5 L140.4 475.7 L142.5 475.8 L144.5 476.0 L146.6 476.2 L148.6 476.5 L150.7 476.7 L152.7 476.9 L154.7 477.2 L156.8 477.5 L158.8 477.7 L160.9 478.0 L162.9 478.3 L165.0 478.6 L167.0 478.9 L169.1 479.3 L171.1 479.6 L173.1 479.9 L175.2 480.2 L177.2 480.6 L179.3 480.9 L181.3 481.3 L183.4 481.6 L185.4 482.0 L187.5 482.3 L189.5 482.7 L191.5 483.0 L193.6 483.3 L195.6 483.7 L197.7 484.0 L199.7 484.3 L201.8 484.6 L203.8 484.9 L205.8 485.2 L207.9 485.5 L209.9 485.7 L212.0 486.0 L214.0 486.2 L216.1 486.4 L218.1 486.6 L220.2 486.8 L222.2 487.0 L224.2 487.2 L226.3 487.3 L228.3 487.5 L230.4 487.6 L232.4 487.7 L234.5 487.7 L236.5 487.8 L238.6 487.8 L240.6 487.9 L242.6 487.9"/>
<path d="M120.0 496.4 L122.0 496.4 L124.1 496.4 L126.1 496.3 L128.2 496.3 L130.2 496.2 L132.3 496.1 L134.3 496.0 L136.4 495.9 L138.4 495.8 L140.4 495.7 L142.5 495.5 L144.5 495.4 L146.6 495.2 L148.6 495.1 L150.7 495.0 L152.7 494.8 L154.7 494.7 L156.8 494.5 L158.8 494.4 L160.9 494.2 L162.9 494.1 L165.0 493.9 L167.0 493.8 L169.1 493.7 L171.1 493.5 L173.1 493.4 L175.2 493.3 L177.2 493.1 L179.3 493.0 L181.3 492.9 L183.4 492.8 L185.4 492.6 L187.5 492.5 L189.5 492.3 L191.5 492.2 L193.6 492.1 L195.6 491.9 L197.7 491.8 L199.7 491.6 L201.8 491.5 L203.8 491.3 L205.8 491.2 L207.9 491.0 L209.9 490.8 L212.0 490.7 L214.0 490.5 L216.1 490.4 L218.1 490.2 L220.2 490.1 L222.2 490.0 L224.2 489.8 L226.3 489.7 L228.3 489.6 L230.4 489.5 L232.4 489.4 L234.5 489.4 L236.5 489.3 L238.6 489.3 L240.6 489.2 L242.6 489.2"/>
<path d="M120.0 498.4 L122.0 498.4 L124.1 498.4 L126.1 498.3 L128.2 498.3 L130.2 498.2 L132.3 498.1 L134.3 498.1 L136.4 498.0 L138.4 497.9 L140.4 497.8 L142.5 497.7 L144.5 497.7 L146.6 497.6 L148.6 497.6 L150.7 497.6 L152.7 497.6 L154.7 497.6 L156.8 497.7 L158.8 497.8 L160.9 497.9 L162.9 498.0 L165.0 498.2 L167.0 498.4 L169.1 498.5 L171.1 498.7 L173.1 498.9 L175.2 499.0 L177.2 499.1 L179.3 499.2 L181.3 499.2 L183.4 499.2 L185.4 499.1 L187.5 499.0 L189.5 498.8 L191.5 498.5 L193.6 498.2 L195.6 497.9 L197.7 497.5 L199.7 497.1 L201.8 496.7 L203.8 496.2 L205.8 495.8 L207.9 495.3 L209.9 494.8 L212.0 494.4 L214.0 493.9 L216.1 493.5 L218.1 493.0 L220.2 492.6 L222.2 492.2 L224.2 491.8 L226.3 491.4 L228.3 491.0 L230.4 490.7 L232.4 490.4 L234.5 490.1 L236.5 489.9 L238.6 489.8 L240.6 489.7 L242.6 489.6"/>
<path d="M120.0 499.1 L122.0 499.1 L124.1 499.2 L126.1 499.2 L128.2 499.3 L130.2 499.4 L132.3 499.5 L134.3 499.6 L136.4 499.8 L138.4 500.0 L140.4 500.2 L142.5 500.4 L144.5 500.6 L146.6 500.8 L148.6 501.1 L150.7 501.3 L152.7 501.6 L154.7 501.9 L156.8 502.2 L158.8 502.5 L160.9 502.9 L162.9 503.2 L165.0 503.5 L167.0 503.9 L169.1 504.2 L171.1 504.6 L173.1 505.0 L175.2 505.3 L177.2 505.7 L179.3 506.1 L181.3 506.4 L183.4 506.8 L185.4 507.2 L187.5 507.5 L189.5 507.9 L191.5 508.3 L193.6 508.6 L195.6 508.9 L197.7 509.3 L199.7 509.6 L201.8 509.9 L203.8 510.2 L205.8 510.5 L207.9 510.7 L209.9 511.0 L212.0 511.2 L214.0 511.4 L216.1 511.6 L218.1 511.8 L220.2 511.9 L222.2 512.1 L224.2 512.2 L226.3 512.3 L228.3 512.4 L230.4 512.5 L232.4 512.5 L234.5 512.6 L236.5 512.6 L238.6 512.6 L240.6 512.6 L242.6 512.7"/>
<path d="M120.0 500.1 L122.0 500.1 L124.1 500.1 L126.1 500.2 L128.2 500.3 L130.2 500.5 L132.3 500.7 L134.3 500.9 L136.4 501.1 L138.4 501.4 L140.4 501.6 L142.5 501.9 L144.5 502.2 L146.6 502.5 L148.6 502.9 L150.7 503.2 L152.7 503.5 L154.7 503.9 L156.8 504.2 L158.8 504.6 L160.9 504.9 L162.9 505.3 L165.0 505.6 L167.0 506.0 L169.1 506.3 L171.1 506.6 L173.1 507.0 L175.2 507.4 L177.2 507.7 L179.3 508.1 L181.3 508.5 L183.4 508.8 L185.4 509.2 L187.5 509.6 L189.5 510.0 L191.5 510.4 L193.6 510.8 L195.6 511.2 L197.7 511.6 L199.7 512.0 L201.8 512.5 L203.8 512.9 L205.8 513.3 L207.9 513.7 L209.9 514.1 L212.0 514.5 L214.0 514.9 L216.1 515.3 L218.1 515.6 L220.2 515.9 L222.2 516.2 L224.2 516.5 L226.3 516.7 L228.3 516.9 L230.4 517.1 L232.4 517.2 L234.5 517.3 L236.5 517.3 L238.6 517.4 L240.6 517.4 L242.6 517.4"/>
<path d="M120.0 505.5 L122.0 505.5 L124.1 505.5 L126.1 505.5 L128.2 505.5 L130.2 505.5 L132.3 505.5 L134.3 505.5 L136.4 505.6 L138.4 505.6 L140.4 505.6 L142.5 505.6 L144.5 505.7 L146.6 505.7 L148.6 505.7 L150.7 505.7 L152.7 505.8 L154.7 505.8 L156.8 505.9 L158.8 505.9 L160.9 505.9 L162.9 506.0 L165.0 506.0 L167.0 506.0 L169.1 506.1 L171.1 506.1 L173.1 506.2 L175.2 506.2 L177.2 506.2 L179.3 506.3 L181.3 506.3 L183.4 506.4 L185.4 506.4 L187.5 506.4 L189.5 506.4 L191.5 506.5 L193.6 506.5 L195.6 506.5 L197.7 506.5 L199.7 506.6 L201.8 506.6 L203.8 506.6 L205.8 506.6 L207.9 506.6 L209.9 506.6 L212.0 506.6 L214.0 506.6 L216.1 506.6 L218.1 506.6 L220.2 506.6 L222.2 506.6 L224.2 506.6 L226.3 506.6 L228.3 506.6 L230.4 506.6 L232.4 506.6 L234.5 506.6 L236.5 506.6 L238.6 506.6 L240.6 506.6 L242.6 506.6"/>
<path d="M120.0 554.6 L122.0 553.1 L124.1 551.6 L126.1 550.1 L128.2 548.6 L130.2 547.1 L132.3 545.5 L134.3 544.0 L136.4 542.4 L138.4 540.9 L140.4 539.3 L142.5 537.7 L144.5 536.1 L146.6 534.4 L148.6 532.8 L150.7 531.2 L152.7 529.6 L154.7 528.0 L156.8 526.4 L158.8 524.9 L160.9 523.4 L162.9 521.9 L165.0 520.5 L167.0 519.1 L169.1 517.8 L171.1 516.6 L173.1 515.5 L175.2 514.4 L177.2 513.4 L179.3 512.5 L181.3 511.7 L183.4 511.0 L185.4 510.5 L187.5 510.0 L189.5 509.7 L191.5 509.4 L193.6 509.3 L195.6 509.2 L197.7 509.2 L199.7 509.3 L201.8 509.4 L203.8 509.6 L205.8 509.9 L207.9 510.1 L209.9 510.4 L212.0 510.7 L214.0 511.0 L216.1 511.3 L218.1 511.5 L220.2 511.8 L222.2 512.0 L224.2 512.1 L226.3 512.3 L228.3 512.4 L230.4 512.5 L232.4 512.5 L234.5 512.6 L236.5 512.6 L238.6 512.6 L240.6 512.7 L242.6 512.7"/>
<path d="M120.0 554.6 L122.0 553.6 L124.1 552.5 L126.1 551.4 L128.2 550.3 L130.2 549.3 L132.3 548.2 L134.3 547.2 L136.4 546.1 L138.4 545.1 L140.4 544.1 L142.5 543.1 L144.5 542.1 L146.6 541.1 L148.6 540.2 L150.7 539.2 L152.7 538.3 L154.7 537.4 L156.8 536.5 L158.8 535.7 L160.9 534.8 L162.9 534.0 L165.0 533.2 L167.0 532.4 L169.1 531.7 L171.1 530.9 L173.1 530.2 L175.2 529.4 L177.2 528.7 L179.3 528.0 L181.3 527.3 L183.4 526.7 L185.4 526.0 L187.5 525.4 L189.5 524.7 L191.5 524.1 L193.6 523.5 L195.6 522.8 L197.7 522.2 L199.7 521.6 L201.8 521.1 L203.8 520.5 L205.8 520.0 L207.9 519.4 L209.9 519.0 L212.0 518.5 L214.0 518.2 L216.1 517.8 L218.1 517.5 L220.2 517.3 L222.2 517.2 L224.2 517.1 L226.3 517.1 L228.3 517.1 L230.4 517.1 L232.4 517.2 L234.5 517.2 L236.5 517.3 L238.6 517.3 L240.6 517.4 L242.6 517.4"/>
<path d="M242.6 470.6 L244.7 470.6 L246.8 470.6 L248.8 470.6 L250.9 470.6 L253.0 470.6 L255.0 470.7 L257.1 470.7 L259.2 470.7 L261.2 470.7 L263.3 470.7 L265.4 470.7 L267.4 470.8 L269.5 470.8 L271.5 470.8 L273.6 470.9 L275.7 470.9 L277.7 471.0 L279.8 471.0 L281.9 471.1 L283.9 471.1 L286.0 471.2 L288.1 471.3 L290.1 471.3 L292.2 471.4 L294.3 471.5 L296.3 471.6 L298.4 471.6 L300.5 471.7 L302.5 471.8 L304.6 471.9 L306.6 472.0 L308.7 472.0 L310.8 472.1 L312.8 472.2 L314.9 472.3 L317.0 472.3 L319.0 472.4 L321.1 472.4 L323.2 472.5 L325.2 472.5 L327.3 472.5 L329.4 472.5"/>
<path d="M242.6 471.0 L244.7 471.0 L246.8 471.0 L248.8 471.0 L250.9 471.0 L253.0 470.9 L255.0 470.9 L257.1 470.9 L259.2 470.9 L261.2 470.9 L263.3 470.8 L265.4 470.8 L267.4 470.8 L269.5 470.8 L271.5 470.7 L273.6 470.7 L275.7 470.7 L277.7 470.7 L279.8 470.7 L281.9 470.6 L283.9 470.6 L286.0 470.6 L288.1 470.6 L290.1 470.6 L292.2 470.6 L294.3 470.7 L296.3 470.7 L298.4 470.7 L300.5 470.7 L302.5 470.7 L304.6 470.8 L306.6 470.8 L308.7 470.8 L310.8 470.8 L312.8 470.9 L314.9 470.9 L317.0 470.9 L319.0 470.9 L321.1 471.0 L323.2 471.0 L325.2 471.0 L327.3 471.0 L329.4 471.0"/>
<path d="M242.6 486.9 L244.7 486.9 L246.8 486.8 L248.8 486.8 L250.9 486.7 L253.0 486.5 L255.0 486.4 L257.1 486.2 L259.2 486.0 L261.2 485.8 L263.3 485.6 L265.4 485.3 L267.4 485.1 L269.5 484.8 L271.5 484.4 L273.6 484.1 L275.7 483.8 L277.7 483.5 L279.8 483.1 L281.9 482.8 L283.9 482.5 L286.0 482.2 L288.1 481.9 L290.1 481.6 L292.2 481.3 L294.3 481.0 L296.3 480.8 L298.4 480.6 L300.5 480.3 L302.5 480.1 L304.6 480.0 L306.6 479.8 L308.7 479.6 L310.8 479.5 L312.8 479.4 L314.9 479.3 L317.0 479.2 L319.0 479.1 L321.1 479.1 L323.2 479.0 L325.2 479.0 L327.3 479.0 L329.4 479.0"/>
<path d="M242.6 487.5 L244.7 487.5 L246.8 487.5 L248.8 487.4 L250.9 487.3 L253.0 487.2 L255.0 487.1 L257.1 487.0 L259.2 486.8 L261.2 486.7 L263.3 486.5 L265.4 486.2 L267.4 486.0 L269.5 485.8 L271.5 485.5 L273.6 485.2 L275.7 484.9 L277.7 484.6 L279.8 484.3 L281.9 484.0 L283.9 483.7 L286.0 483.4 L288.1 483.1 L290.1 482.8 L292.2 482.6 L294.3 482.3 L296.3 482.1 L298.4 481.8 L300.5 481.6 L302.5 481.4 L304.6 481.2 L306.6 481.0 L308.7 480.9 L310.8 480.8 L312.8 480.6 L314.9 480.5 L317.0 480.4 L319.0 480.4 L321.1 480.3 L323.2 480.3 L325.2 480.3 L327.3 480.3 L329.4 480.2"/>
<path d="M242.6 490.0 L244.7 490.0 L246.8 490.0 L248.8 490.0 L250.9 490.1 L253.0 490.1 L255.0 490.2 L257.1 490.2 L259.2 490.3 L261.2 490.5 L263.3 490.7 L265.4 490.8 L267.4 491.1 L269.5 491.3 L271.5 491.6 L273.6 491.9 L275.7 492.2 L277.7 492.6 L279.8 492.9 L281.9 493.3 L283.9 493.7 L286.0 494.0 L288.1 494.4 L290.1 494.8 L292.2 495.1 L294.3 495.5 L296.3 495.8 L298.4 496.2 L300.5 496.5 L302.5 496.8 L304.6 497.1 L306.6 497.4 L308.7 497.6 L310.8 497.9 L312.8 498.1 L314.9 498.3 L317.0 498.5 L319.0 498.6 L321.1 498.8 L323.2 498.9 L325.2 498.9 L327.3 499.0 L329.4 499.0"/>
<path d="M242.6 490.6 L244.7 490.6 L246.8 490.7 L248.8 490.8 L250.9 490.9 L253.0 491.0 L255.0 491.1 L257.1 491.3 L259.2 491.5 L261.2 491.7 L263.3 491.9 L265.4 492.2 L267.4 492.4 L269.5 492.7 L271.5 493.0 L273.6 493.3 L275.7 493.6 L277.7 493.9 L279.8 494.2 L281.9 494.6 L283.9 494.9 L286.0 495.3 L288.1 495.6 L290.1 496.0 L292.2 496.4 L294.3 496.7 L296.3 497.1 L298.4 497.4 L300.5 497.8 L302.5 498.1 L304.6 498.4 L306.6 498.7 L308.7 498.9 L310.8 499.2 L312.8 499.4 L314.9 499.5 L317.0 499.7 L319.0 499.8 L321.1 499.9 L323.2 499.9 L325.2 500.0 L327.3 500.0 L329.4 500.0"/>
<path d="M242.6 506.5 L244.7 506.5 L246.8 506.5 L248.8 506.5 L250.9 506.5 L253.0 506.4 L255.0 506.4 L257.1 506.4 L259.2 506.3 L261.2 506.3 L263.3 506.2 L265.4 506.1 L267.4 506.0 L269.5 506.0 L271.5 505.9 L273.6 505.7 L275.7 505.6 L277.7 505.5 L279.8 505.3 L281.9 505.2 L283.9 505.0 L286.0 504.8 L288.1 504.6 L290.1 504.4 L292.2 504.2 L294.3 503.9 L296.3 503.7 L298.4 503.4 L300.5 503.1 L302.5 502.8 L304.6 502.5 L306.6 502.2 L308.7 501.9 L310.8 501.6 L312.8 501.3 L314.9 501.1 L317.0 500.8 L319.0 500.6 L321.1 500.4 L323.2 500.2 L325.2 500.1 L327.3 500.0 L329.4 500.0"/>
<path d="M242.6 506.5 L244.7 506.5 L246.8 506.5 L248.8 506.5 L250.9 506.5 L253.0 506.6 L255.0 506.6 L257.1 506.6 L259.2 506.6 L261.2 506.6 L263.3 506.6 L265.4 506.6 L267.4 506.6 L269.5 506.6 L271.5 506.6 L273.6 506.5 L275.7 506.5 L277.7 506.4 L279.8 506.4 L281.9 506.3 L283.9 506.2 L286.0 506.1 L288.1 506.0 L290.1 505.9 L292.2 505.8 L294.3 505.7 L296.3 505.6 L298.4 505.5 L300.5 505.4 L302.5 505.4 L304.6 505.3 L306.6 505.3 L308.7 505.2 L310.8 505.2 L312.8 505.2 L314.9 505.3 L317.0 505.3 L319.0 505.4 L321.1 505.5 L323.2 505.5 L325.2 505.6 L327.3 505.6 L329.4 505.6"/>
<path d="M242.6 512.2 L244.7 512.3 L246.8 512.3 L248.8 512.3 L250.9 512.3 L253.0 512.3 L255.0 512.3 L257.1 512.3 L259.2 512.3 L261.2 512.3 L263.3 512.3 L265.4 512.3 L267.4 512.2 L269.5 512.2 L271.5 512.1 L273.6 512.0 L275.7 511.9 L277.7 511.7 L279.8 511.5 L281.9 511.3 L283.9 511.1 L286.0 510.8 L288.1 510.6 L290.1 510.3 L292.2 510.0 L294.3 509.7 L296.3 509.4 L298.4 509.1 L300.5 508.8 L302.5 508.4 L304.6 508.1 L306.6 507.8 L308.7 507.5 L310.8 507.2 L312.8 506.9 L314.9 506.6 L317.0 506.4 L319.0 506.2 L321.1 506.0 L323.2 505.8 L325.2 505.7 L327.3 505.6 L329.4 505.6"/>
<path d="M242.6 512.5 L244.7 512.5 L246.8 512.5 L248.8 512.5 L250.9 512.6 L253.0 512.6 L255.0 512.7 L257.1 512.7 L259.2 512.7 L261.2 512.8 L263.3 512.9 L265.4 512.9 L267.4 513.0 L269.5 513.0 L271.5 513.1 L273.6 513.1 L275.7 513.1 L277.7 513.2 L279.8 513.2 L281.9 513.2 L283.9 513.2 L286.0 513.2 L288.1 513.2 L290.1 513.2 L292.2 513.2 L294.3 513.2 L296.3 513.2 L298.4 513.2 L300.5 513.2 L302.5 513.2 L304.6 513.2 L306.6 513.1 L308.7 513.1 L310.8 513.1 L312.8 513.1 L314.9 513.1 L317.0 513.1 L319.0 513.1 L321.1 513.1 L323.2 513.1 L325.2 513.1 L327.3 513.1 L329.4 513.1"/>
<path d="M242.6 517.2 L244.7 517.3 L246.8 517.3 L248.8 517.3 L250.9 517.3 L253.0 517.3 L255.0 517.3 L257.1 517.3 L259.2 517.3 L261.2 517.4 L263.3 517.4 L265.4 517.4 L267.4 517.5 L269.5 517.5 L271.5 517.6 L273.6 517.7 L275.7 517.8 L277.7 517.8 L279.8 518.0 L281.9 518.1 L283.9 518.2 L286.0 518.4 L288.1 518.5 L290.1 518.7 L292.2 518.9 L294.3 519.1 L296.3 519.4 L298.4 519.7 L300.5 520.0 L302.5 520.3 L304.6 520.7 L306.6 521.1 L308.7 521.5 L310.8 521.8 L312.8 522.2 L314.9 522.6 L317.0 522.9 L319.0 523.2 L321.1 523.5 L323.2 523.7 L325.2 523.9 L327.3 524.0 L329.4 524.0"/>
<path d="M242.6 517.2 L244.7 517.2 L246.8 517.2 L248.8 517.2 L250.9 517.2 L253.0 517.1 L255.0 517.1 L257.1 517.1 L259.2 517.0 L261.2 516.9 L263.3 516.9 L265.4 516.8 L267.4 516.8 L269.5 516.7 L271.5 516.6 L273.6 516.6 L275.7 516.5 L277.7 516.4 L279.8 516.4 L281.9 516.3 L283.9 516.3 L286.0 516.2 L288.1 516.2 L290.1 516.2 L292.2 516.1 L294.3 516.1 L296.3 516.1 L298.4 516.1 L300.5 516.1 L302.5 516.1 L304.6 516.2 L306.6 516.2 L308.7 516.3 L310.8 516.4 L312.8 516.5 L314.9 516.6 L317.0 516.7 L319.0 516.9 L321.1 517.0 L323.2 517.1 L325.2 517.2 L327.3 517.2 L329.4 517.2"/>
<path d="M329.4 471.2 L331.4 471.3 L333.5 471.3 L335.6 471.3 L337.6 471.3 L339.7 471.3 L341.7 471.3 L343.8 471.3 L345.9 471.3 L347.9 471.3 L350.0 471.3 L352.1 471.3 L354.1 471.3 L356.2 471.3 L358.3 471.3 L360.3 471.4 L362.4 471.4 L364.5 471.4 L366.5 471.4 L368.6 471.4 L370.7 471.5 L372.7 471.5 L374.8 471.5 L376.8 471.5 L378.9 471.5 L381.0 471.6 L383.0 471.6 L385.1 471.6 L387.2 471.6 L389.2 471.7 L391.3 471.7 L393.4 471.7 L395.4 471.7 L397.5 471.8 L399.6 471.8 L401.6 471.8 L403.7 471.8 L405.8 471.8 L407.8 471.9 L409.9 471.9 L412.0 471.9 L414.0 471.9 L416.1 471.9"/>
<path d="M329.4 472.5 L331.4 472.5 L333.5 472.5 L335.6 472.5 L337.6 472.5 L339.7 472.4 L341.7 472.4 L343.8 472.4 L345.9 472.3 L347.9 472.3 L350.0 472.3 L352.1 472.3 L354.1 472.2 L356.2 472.2 L358.3 472.2 L360.3 472.2 L362.4 472.2 L364.5 472.2 L366.5 472.2 L368.6 472.2 L370.7 472.2 L372.7 472.2 L374.8 472.2 L376.8 472.3 L378.9 472.3 L381.0 472.4 L383.0 472.5 L385.1 472.6 L387.2 472.6 L389.2 472.7 L391.3 472.8 L393.4 472.9 L395.4 473.0 L397.5 473.1 L399.6 473.1 L401.6 473.2 L403.7 473.3 L405.8 473.3 L407.8 473.4 L409.9 473.4 L412.0 473.5 L414.0 473.5 L416.1 473.5"/>
<path d="M329.4 479.4 L331.4 479.4 L333.5 479.5 L335.6 479.6 L337.6 479.8 L339.7 480.0 L341.7 480.1 L343.8 480.3 L345.9 480.5 L347.9 480.6 L350.0 480.6 L352.1 480.6 L354.1 480.6 L356.2 480.5 L358.3 480.3 L360.3 480.1 L362.4 479.9 L364.5 479.6 L366.5 479.3 L368.6 479.1 L370.7 478.8 L372.7 478.5 L374.8 478.2 L376.8 477.9 L378.9 477.6 L381.0 477.3 L383.0 477.0 L385.1 476.8 L387.2 476.5 L389.2 476.3 L391.3 476.0 L393.4 475.8 L395.4 475.5 L397.5 475.3 L399.6 475.1 L401.6 474.8 L403.7 474.6 L405.8 474.4 L407.8 474.2 L409.9 474.0 L412.0 473.9 L414.0 473.8 L416.1 473.8"/>
<path d="M329.4 482.5 L331.4 482.5 L333.5 482.5 L335.6 482.6 L337.6 482.6 L339.7 482.7 L341.7 482.7 L343.8 482.7 L345.9 482.7 L347.9 482.6 L350.0 482.5 L352.1 482.3 L354.1 482.1 L356.2 481.9 L358.3 481.6 L360.3 481.3 L362.4 480.9 L364.5 480.6 L366.5 480.2 L368.6 479.9 L370.7 479.5 L372.7 479.1 L374.8 478.8 L376.8 478.5 L378.9 478.2 L381.0 477.9 L383.0 477.6 L385.1 477.3 L387.2 477.1 L389.2 476.8 L391.3 476.6 L393.4 476.4 L395.4 476.1 L397.5 475.9 L399.6 475.7 L401.6 475.4 L403.7 475.2 L405.8 475.0 L407.8 474.8 L409.9 474.6 L412.0 474.5 L414.0 474.4 L416.1 474.4"/>
<path d="M329.4 496.9 L331.4 496.9 L333.5 496.9 L335.6 496.8 L337.6 496.8 L339.7 496.8 L341.7 496.7 L343.8 496.7 L345.9 496.6 L347.9 496.6 L350.0 496.5 L352.1 496.5 L354.1 496.4 L356.2 496.4 L358.3 496.3 L360.3 496.3 L362.4 496.3 L364.5 496.2 L366.5 496.2 L368.6 496.2 L370.7 496.1 L372.7 496.1 L374.8 496.1 L376.8 496.1 L378.9 496.1 L381.0 496.1 L383.0 496.1 L385.1 496.1 L387.2 496.1 L389.2 496.1 L391.3 496.1 L393.4 496.2 L395.4 496.2 L397.5 496.2 L399.6 496.2 L401.6 496.2 L403.7 496.2 L405.8 496.2 L407.8 496.2 L409.9 496.2 L412.0 496.2 L414.0 496.2 L416.1 496.2"/>
<path d="M329.4 499.4 L331.4 499.4 L333.5 499.4 L335.6 499.3 L337.6 499.3 L339.7 499.3 L341.7 499.2 L343.8 499.2 L345.9 499.2 L347.9 499.1 L350.0 499.1 L352.1 499.0 L354.1 499.0 L356.2 498.9 L358.3 498.9 L360.3 498.8 L362.4 498.8 L364.5 498.7 L366.5 498.7 L368.6 498.6 L370.7 498.6 L372.7 498.5 L374.8 498.5 L376.8 498.5 L378.9 498.4 L381.0 498.4 L383.0 498.4 L385.1 498.3 L387.2 498.3 L389.2 498.3 L391.3 498.3 L393.4 498.2 L395.4 498.2 L397.5 498.2 L399.6 498.2 L401.6 498.2 L403.7 498.2 L405.8 498.1 L407.8 498.1 L409.9 498.1 L412.0 498.1 L414.0 498.1 L416.1 498.1"/>
<path d="M329.4 500.6 L331.4 500.6 L333.5 500.7 L335.6 500.7 L337.6 500.8 L339.7 500.8 L341.7 500.9 L343.8 501.0 L345.9 501.1 L347.9 501.1 L350.0 501.2 L352.1 501.3 L354.1 501.3 L356.2 501.3 L358.3 501.3 L360.3 501.3 L362.4 501.3 L364.5 501.2 L366.5 501.1 L368.6 500.9 L370.7 500.8 L372.7 500.6 L374.8 500.4 L376.8 500.3 L378.9 500.1 L381.0 499.9 L383.0 499.7 L385.1 499.5 L387.2 499.4 L389.2 499.3 L391.3 499.2 L393.4 499.1 L395.4 499.0 L397.5 498.9 L399.6 498.9 L401.6 498.8 L403.7 498.8 L405.8 498.8 L407.8 498.8 L409.9 498.8 L412.0 498.8 L414.0 498.8 L416.1 498.8"/>
<path d="M329.4 506.0 L331.4 506.0 L333.5 505.9 L335.6 505.9 L337.6 505.8 L339.7 505.7 L341.7 505.6 L343.8 505.5 L345.9 505.4 L347.9 505.2 L350.0 505.1 L352.1 505.0 L354.1 504.8 L356.2 504.7 L358.3 504.6 L360.3 504.5 L362.4 504.4 L364.5 504.3 L366.5 504.2 L368.6 504.2 L370.7 504.2 L372.7 504.1 L374.8 504.1 L376.8 504.1 L378.9 504.1 L381.0 504.1 L383.0 504.2 L385.1 504.2 L387.2 504.2 L389.2 504.3 L391.3 504.3 L393.4 504.4 L395.4 504.4 L397.5 504.5 L399.6 504.5 L401.6 504.6 L403.7 504.6 L405.8 504.6 L407.8 504.7 L409.9 504.7 L412.0 504.7 L414.0 504.7 L416.1 504.8"/>
<path d="M329.4 517.5 L331.4 517.4 L333.5 517.1 L335.6 516.7 L337.6 516.2 L339.7 515.7 L341.7 515.1 L343.8 514.4 L345.9 513.8 L347.9 513.1 L350.0 512.5 L352.1 511.9 L354.1 511.3 L356.2 510.7 L358.3 510.2 L360.3 509.7 L362.4 509.2 L364.5 508.8 L366.5 508.3 L368.6 507.9 L370.7 507.6 L372.7 507.2 L374.8 506.9 L376.8 506.6 L378.9 506.4 L381.0 506.1 L383.0 505.9 L385.1 505.7 L387.2 505.6 L389.2 505.4 L391.3 505.3 L393.4 505.2 L395.4 505.1 L397.5 505.1 L399.6 505.0 L401.6 505.0 L403.7 505.0 L405.8 505.0 L407.8 505.0 L409.9 505.0 L412.0 505.0 L414.0 505.0 L416.1 505.0"/>
<path d="M329.4 513.1 L331.4 513.1 L333.5 513.0 L335.6 512.9 L337.6 512.8 L339.7 512.7 L341.7 512.6 L343.8 512.5 L345.9 512.5 L347.9 512.5 L350.0 512.6 L352.1 512.9 L354.1 513.3 L356.2 513.9 L358.3 514.6 L360.3 515.6 L362.4 516.7 L364.5 517.9 L366.5 519.2 L368.6 520.5 L370.7 521.9 L372.7 523.4 L374.8 524.8 L376.8 526.3 L378.9 527.7 L381.0 529.2 L383.0 530.6 L385.1 532.0 L387.2 533.4 L389.2 534.8 L391.3 536.3 L393.4 537.7 L395.4 539.2 L397.5 540.7 L399.6 542.2 L401.6 543.7 L403.7 545.3 L405.8 546.9 L407.8 548.5 L409.9 550.1 L412.0 551.7 L414.0 553.4 L416.1 555.0"/>
<path d="M329.4 517.5 L331.4 517.5 L333.5 517.6 L335.6 517.8 L337.6 518.2 L339.7 518.8 L341.7 519.6 L343.8 520.5 L345.9 521.6 L347.9 522.7 L350.0 523.8 L352.1 524.8 L354.1 525.8 L356.2 526.8 L358.3 527.8 L360.3 528.7 L362.4 529.6 L364.5 530.5 L366.5 531.4 L368.6 532.3 L370.7 533.1 L372.7 534.0 L374.8 534.9 L376.8 535.8 L378.9 536.7 L381.0 537.7 L383.0 538.6 L385.1 539.6 L387.2 540.6 L389.2 541.6 L391.3 542.6 L393.4 543.6 L395.4 544.6 L397.5 545.6 L399.6 546.7 L401.6 547.7 L403.7 548.7 L405.8 549.8 L407.8 550.8 L409.9 551.9 L412.0 552.9 L414.0 554.0 L416.1 555.0"/>
<path d="M329.4 523.8 L331.4 523.8 L333.5 523.8 L335.6 524.0 L337.6 524.1 L339.7 524.4 L341.7 524.7 L343.8 525.0 L345.9 525.4 L347.9 525.9 L350.0 526.5 L352.1 527.0 L354.1 527.7 L356.2 528.4 L358.3 529.1 L360.3 529.8 L362.4 530.6 L364.5 531.4 L366.5 532.2 L368.6 533.0 L370.7 533.9 L372.7 534.7 L374.8 535.6 L376.8 536.5 L378.9 537.4 L381.0 538.3 L383.0 539.2 L385.1 540.2 L387.2 541.1 L389.2 542.1 L391.3 543.0 L393.4 544.0 L395.4 545.0 L397.5 546.0 L399.6 546.9 L401.6 547.9 L403.7 548.9 L405.8 549.9 L407.8 551.0 L409.9 552.0 L412.0 553.0 L414.0 554.0 L416.1 555.0"/>
<path d="M416.1 470.6 L418.1 470.6 L420.2 470.6 L422.2 470.6 L424.2 470.6 L426.3 470.6 L428.3 470.6 L430.4 470.6 L432.4 470.6 L434.5 470.6 L436.5 470.6 L438.5 470.6 L440.6 470.6 L442.6 470.6 L444.7 470.6 L446.7 470.6 L448.8 470.6 L450.8 470.6 L452.8 470.6 L454.9 470.6 L456.9 470.6 L459.0 470.6 L461.0 470.6 L463.1 470.6 L465.1 470.6 L467.1 470.6 L469.2 470.6 L471.2 470.6 L473.3 470.6 L475.3 470.6 L477.3 470.6 L479.4 470.6 L481.4 470.6 L483.5 470.6 L485.5 470.6 L487.6 470.6 L489.6 470.6 L491.6 470.6 L493.7 470.6 L495.7 470.6 L497.8 470.6 L499.8 470.6 L501.9 470.6 L503.9 470.6 L505.9 470.6 L508.0 470.6 L510.0 470.6 L512.1 470.6 L514.1 470.6 L516.2 470.6 L518.2 470.6 L520.2 470.6 L522.3 470.6"/>
<path d="M416.1 473.5 L418.1 473.5 L420.2 473.6 L422.2 473.7 L424.2 473.8 L426.3 473.9 L428.3 474.1 L430.4 474.3 L432.4 474.5 L434.5 474.7 L436.5 474.9 L438.5 475.2 L440.6 475.5 L442.6 475.7 L444.7 476.0 L446.7 476.3 L448.8 476.6 L450.8 476.9 L452.8 477.2 L454.9 477.6 L456.9 477.9 L459.0 478.2 L461.0 478.6 L463.1 478.9 L465.1 479.3 L467.1 479.7 L469.2 480.0 L471.2 480.4 L473.3 480.8 L475.3 481.1 L477.3 481.5 L479.4 481.9 L481.4 482.2 L483.5 482.6 L485.5 482.9 L487.6 483.2 L489.6 483.5 L491.6 483.8 L493.7 484.1 L495.7 484.4 L497.8 484.6 L499.8 484.8 L501.9 485.0 L503.9 485.2 L505.9 485.4 L508.0 485.5 L510.0 485.6 L512.1 485.6 L514.1 485.7 L516.2 485.7 L518.2 485.6 L520.2 485.6 L522.3 485.6"/>
<path d="M416.1 474.4 L418.1 474.4 L420.2 474.5 L422.2 474.5 L424.2 474.7 L426.3 474.8 L428.3 475.0 L430.4 475.2 L432.4 475.4 L434.5 475.7 L436.5 475.9 L438.5 476.2 L440.6 476.5 L442.6 476.8 L444.7 477.0 L446.7 477.3 L448.8 477.6 L450.8 478.0 L452.8 478.3 L454.9 478.6 L456.9 478.9 L459.0 479.3 L461.0 479.6 L463.1 479.9 L465.1 480.3 L467.1 480.6 L469.2 480.9 L471.2 481.3 L473.3 481.6 L475.3 482.0 L477.3 482.3 L479.4 482.6 L481.4 482.9 L483.5 483.2 L485.5 483.5 L487.6 483.8 L489.6 484.1 L491.6 484.4 L493.7 484.6 L495.7 484.9 L497.8 485.1 L499.8 485.3 L501.9 485.5 L503.9 485.6 L505.9 485.8 L508.0 485.9 L510.0 485.9 L512.1 486.0 L514.1 486.0 L516.2 486.0 L518.2 486.0 L520.2 486.0 L522.3 486.0"/>
<path d="M416.1 496.5 L418.1 496.5 L420.2 496.5 L422.2 496.5 L424.2 496.5 L426.3 496.5 L428.3 496.5 L430.4 496.5 L432.4 496.5 L434.5 496.5 L436.5 496.5 L438.5 496.5 L440.6 496.5 L442.6 496.5 L444.7 496.5 L446.7 496.5 L448.8 496.5 L450.8 496.5 L452.8 496.5 L454.9 496.5 L456.9 496.5 L459.0 496.5 L461.0 496.5 L463.1 496.5 L465.1 496.5 L467.1 496.5 L469.2 496.5 L471.2 496.6 L473.3 496.6 L475.3 496.6 L477.3 496.6 L479.4 496.6 L481.4 496.6 L483.5 496.6 L485.5 496.7 L487.6 496.7 L489.6 496.7 L491.6 496.7 L493.7 496.7 L495.7 496.7 L497.8 496.8 L499.8 496.8 L501.9 496.8 L503.9 496.8 L505.9 496.8 L508.0 496.8 L510.0 496.8 L512.1 496.9 L514.1 496.9 L516.2 496.9 L518.2 496.9 L520.2 496.9 L522.3 496.9"/>
<path d="M416.1 497.8 L418.1 497.8 L420.2 497.8 L422.2 497.8 L424.2 497.8 L426.3 497.8 L428.3 497.9 L430.4 497.9 L432.4 498.0 L434.5 498.1 L436.5 498.2 L438.5 498.3 L440.6 498.4 L442.6 498.5 L444.7 498.6 L446.7 498.8 L448.8 498.9 L450.8 499.1 L452.8 499.3 L454.9 499.5 L456.9 499.7 L459.0 500.0 L461.0 500.2 L463.1 500.4 L465.1 500.7 L467.1 500.9 L469.2 501.2 L471.2 501.5 L473.3 501.7 L475.3 502.0 L477.3 502.3 L479.4 502.5 L481.4 502.8 L483.5 503.1 L485.5 503.3 L487.6 503.6 L489.6 503.8 L491.6 504.0 L493.7 504.3 L495.7 504.5 L497.8 504.7 L499.8 504.9 L501.9 505.1 L503.9 505.2 L505.9 505.4 L508.0 505.5 L510.0 505.6 L512.1 505.7 L514.1 505.8 L516.2 505.9 L518.2 506.0 L520.2 506.0 L522.3 506.0"/>
<path d="M416.1 498.8 L418.1 498.8 L420.2 498.8 L422.2 498.8 L424.2 498.8 L426.3 498.8 L428.3 498.9 L430.4 498.9 L432.4 499.0 L434.5 499.1 L436.5 499.2 L438.5 499.4 L440.6 499.5 L442.6 499.7 L444.7 500.0 L446.7 500.2 L448.8 500.5 L450.8 500.8 L452.8 501.2 L454.9 501.6 L456.9 502.0 L459.0 502.5 L461.0 503.0 L463.1 503.5 L465.1 504.0 L467.1 504.6 L469.2 505.2 L471.2 505.8 L473.3 506.5 L475.3 507.1 L477.3 507.8 L479.4 508.5 L481.4 509.2 L483.5 509.9 L485.5 510.6 L487.6 511.3 L489.6 511.9 L491.6 512.5 L493.7 513.1 L495.7 513.6 L497.8 514.0 L499.8 514.4 L501.9 514.8 L503.9 515.0 L505.9 515.2 L508.0 515.4 L510.0 515.5 L512.1 515.5 L514.1 515.6 L516.2 515.6 L518.2 515.6 L520.2 515.6 L522.3 515.6"/>
<path d="M416.1 505.0 L418.1 505.0 L420.2 505.0 L422.2 505.0 L424.2 505.0 L426.3 504.9 L428.3 504.9 L430.4 504.9 L432.4 504.9 L434.5 505.0 L436.5 505.0 L438.5 505.0 L440.6 505.1 L442.6 505.2 L444.7 505.3 L446.7 505.4 L448.8 505.6 L450.8 505.7 L452.8 506.0 L454.9 506.2 L456.9 506.5 L459.0 506.8 L461.0 507.1 L463.1 507.4 L465.1 507.8 L467.1 508.2 L469.2 508.6 L471.2 509.0 L473.3 509.5 L475.3 509.9 L477.3 510.4 L479.4 510.9 L481.4 511.4 L483.5 511.9 L485.5 512.4 L487.6 512.9 L489.6 513.4 L491.6 513.8 L493.7 514.2 L495.7 514.6 L497.8 515.0 L499.8 515.3 L501.9 515.6 L503.9 515.8 L505.9 516.0 L508.0 516.1 L510.0 516.2 L512.1 516.3 L514.1 516.4 L516.2 516.5 L518.2 516.5 L520.2 516.5 L522.3 516.5"/>
<path d="M416.1 555.0 L418.1 553.2 L420.2 551.4 L422.2 549.6 L424.2 547.9 L426.3 546.1 L428.3 544.4 L430.4 542.7 L432.4 541.1 L434.5 539.4 L436.5 537.9 L438.5 536.4 L440.6 534.9 L442.6 533.5 L444.7 532.1 L446.7 530.7 L448.8 529.4 L450.8 528.1 L452.8 526.8 L454.9 525.6 L456.9 524.3 L459.0 523.1 L461.0 521.8 L463.1 520.6 L465.1 519.4 L467.1 518.1 L469.2 516.9 L471.2 515.7 L473.3 514.6 L475.3 513.4 L477.3 512.3 L479.4 511.3 L481.4 510.3 L483.5 509.4 L485.5 508.5 L487.6 507.7 L489.6 506.9 L491.6 506.2 L493.7 505.5 L495.7 504.8 L497.8 504.2 L499.8 503.7 L501.9 503.2 L503.9 502.7 L505.9 502.3 L508.0 501.9 L510.0 501.6 L512.1 501.3 L514.1 501.0 L516.2 500.9 L518.2 500.7 L520.2 500.7 L522.3 500.6"/>
<path d="M416.1 555.0 L418.1 554.1 L420.2 553.1 L422.2 552.2 L424.2 551.3 L426.3 550.3 L428.3 549.4 L430.4 548.5 L432.4 547.6 L434.5 546.6 L436.5 545.7 L438.5 544.8 L440.6 543.9 L442.6 543.0 L444.7 542.1 L446.7 541.2 L448.8 540.3 L450.8 539.4 L452.8 538.6 L454.9 537.7 L456.9 536.8 L459.0 536.0 L461.0 535.2 L463.1 534.3 L465.1 533.5 L467.1 532.7 L469.2 532.0 L471.2 531.2 L473.3 530.4 L475.3 529.7 L477.3 529.0 L479.4 528.3 L481.4 527.6 L483.5 527.0 L485.5 526.3 L487.6 525.7 L489.6 525.1 L491.6 524.5 L493.7 524.0 L495.7 523.4 L497.8 522.9 L499.8 522.4 L501.9 521.9 L503.9 521.5 L505.9 521.1 L508.0 520.7 L510.0 520.5 L512.1 520.2 L514.1 520.1 L516.2 520.0 L518.2 520.0 L520.2 520.0 L522.3 520.0"/>
<path d="M522.3 470.6 L524.3 470.6 L526.4 470.6 L528.4 470.6 L530.5 470.6 L532.5 470.6 L534.5 470.6 L536.6 470.6 L538.6 470.6 L540.7 470.6 L542.7 470.6 L544.7 470.6 L546.8 470.6 L548.8 470.6 L550.9 470.6 L552.9 470.6 L555.0 470.6 L557.0 470.6 L559.0 470.6 L561.1 470.6 L563.1 470.6 L565.2 470.6 L567.2 470.6 L569.3 470.6 L571.3 470.6 L573.3 470.6 L575.4 470.6 L577.4 470.6 L579.5 470.6 L581.5 470.6 L583.6 470.6 L585.6 470.6 L587.6 470.6 L589.7 470.6 L591.7 470.6 L593.8 470.6 L595.8 470.6 L597.9 470.6 L599.9 470.6 L601.9 470.6 L604.0 470.6 L606.0 470.6 L608.1 470.6 L610.1 470.6 L612.2 470.6 L614.2 470.6 L616.2 470.6 L618.3 470.6 L620.3 470.6 L622.4 470.6 L624.4 470.6 L626.5 470.6 L628.5 470.6"/>
<path d="M522.3 485.6 L524.3 485.6 L526.4 485.5 L528.4 485.4 L530.5 485.2 L532.5 485.0 L534.5 484.8 L536.6 484.5 L538.6 484.3 L540.7 484.0 L542.7 483.8 L544.7 483.5 L546.8 483.3 L548.8 483.1 L550.9 482.9 L552.9 482.7 L555.0 482.5 L557.0 482.4 L559.0 482.3 L561.1 482.1 L563.1 482.0 L565.2 482.0 L567.2 481.9 L569.3 481.9 L571.3 481.8 L573.3 481.8 L575.4 481.9 L577.4 481.9 L579.5 482.0 L581.5 482.1 L583.6 482.2 L585.6 482.4 L587.6 482.6 L589.7 482.8 L591.7 483.1 L593.8 483.3 L595.8 483.6 L597.9 483.9 L599.9 484.2 L601.9 484.5 L604.0 484.8 L606.0 485.1 L608.1 485.3 L610.1 485.6 L612.2 485.8 L614.2 486.1 L616.2 486.3 L618.3 486.4 L620.3 486.6 L622.4 486.7 L624.4 486.8 L626.5 486.9 L628.5 486.9"/>
<path d="M522.3 486.0 L524.3 486.0 L526.4 486.0 L528.4 485.9 L530.5 485.9 L532.5 485.9 L534.5 485.8 L536.6 485.7 L538.6 485.7 L540.7 485.6 L542.7 485.5 L544.7 485.4 L546.8 485.3 L548.8 485.3 L550.9 485.2 L552.9 485.1 L555.0 485.0 L557.0 484.9 L559.0 484.9 L561.1 484.8 L563.1 484.8 L565.2 484.7 L567.2 484.7 L569.3 484.7 L571.3 484.6 L573.3 484.6 L575.4 484.7 L577.4 484.7 L579.5 484.7 L581.5 484.8 L583.6 484.9 L585.6 484.9 L587.6 485.1 L589.7 485.2 L591.7 485.3 L593.8 485.4 L595.8 485.6 L597.9 485.7 L599.9 485.8 L601.9 486.0 L604.0 486.1 L606.0 486.3 L608.1 486.4 L610.1 486.6 L612.2 486.7 L614.2 486.8 L616.2 486.9 L618.3 487.0 L620.3 487.1 L622.4 487.2 L624.4 487.2 L626.5 487.2 L628.5 487.2"/>
<path d="M522.3 496.9 L524.3 496.9 L526.4 496.9 L528.4 496.9 L530.5 496.9 L532.5 497.0 L534.5 497.0 L536.6 497.0 L538.6 497.1 L540.7 497.1 L542.7 497.1 L544.7 497.1 L546.8 497.1 L548.8 497.1 L550.9 497.0 L552.9 497.0 L555.0 496.9 L557.0 496.8 L559.0 496.7 L561.1 496.5 L563.1 496.4 L565.2 496.2 L567.2 496.0 L569.3 495.8 L571.3 495.6 L573.3 495.3 L575.4 495.1 L577.4 494.8 L579.5 494.5 L581.5 494.2 L583.6 493.9 L585.6 493.6 L587.6 493.3 L589.7 493.0 L591.7 492.7 L593.8 492.4 L595.8 492.1 L597.9 491.7 L599.9 491.4 L601.9 491.1 L604.0 490.8 L606.0 490.6 L608.1 490.3 L610.1 490.0 L612.2 489.8 L614.2 489.6 L616.2 489.4 L618.3 489.2 L620.3 489.0 L622.4 488.9 L624.4 488.8 L626.5 488.8 L628.5 488.8"/>
<path d="M522.3 500.6 L524.3 500.6 L526.4 500.6 L528.4 500.6 L530.5 500.5 L532.5 500.5 L534.5 500.5 L536.6 500.4 L538.6 500.4 L540.7 500.4 L542.7 500.4 L544.7 500.4 L546.8 500.4 L548.8 500.4 L550.9 500.5 L552.9 500.5 L555.0 500.6 L557.0 500.7 L559.0 500.8 L561.1 501.0 L563.1 501.2 L565.2 501.4 L567.2 501.6 L569.3 501.8 L571.3 502.0 L573.3 502.3 L575.4 502.5 L577.4 502.8 L579.5 503.0 L581.5 503.2 L583.6 503.5 L585.6 503.7 L587.6 504.0 L589.7 504.2 L591.7 504.4 L593.8 504.6 L595.8 504.8 L597.9 505.0 L599.9 505.2 L601.9 505.4 L604.0 505.5 L606.0 505.7 L608.1 505.8 L610.1 505.9 L612.2 506.0 L614.2 506.0 L616.2 506.1 L618.3 506.2 L620.3 506.2 L622.4 506.2 L624.4 506.2 L626.5 506.2 L628.5 506.2"/>
<path d="M522.3 506.0 L524.3 506.0 L526.4 506.0 L528.4 506.1 L530.5 506.1 L532.5 506.1 L534.5 506.2 L536.6 506.3 L538.6 506.3 L540.7 506.4 L542.7 506.5 L544.7 506.6 L546.8 506.7 L548.8 506.8 L550.9 506.9 L552.9 507.0 L555.0 507.1 L557.0 507.1 L559.0 507.2 L561.1 507.3 L563.1 507.4 L565.2 507.4 L567.2 507.5 L569.3 507.5 L571.3 507.5 L573.3 507.6 L575.4 507.6 L577.4 507.5 L579.5 507.5 L581.5 507.5 L583.6 507.5 L585.6 507.4 L587.6 507.4 L589.7 507.3 L591.7 507.3 L593.8 507.2 L595.8 507.2 L597.9 507.1 L599.9 507.1 L601.9 507.0 L604.0 506.9 L606.0 506.9 L608.1 506.8 L610.1 506.8 L612.2 506.7 L614.2 506.7 L616.2 506.6 L618.3 506.6 L620.3 506.6 L622.4 506.5 L624.4 506.5 L626.5 506.5 L628.5 506.5"/>
<path d="M522.3 506.5 L524.3 506.5 L526.4 506.4 L528.4 506.4 L530.5 506.3 L532.5 506.2 L534.5 506.2 L536.6 506.1 L538.6 506.0 L540.7 506.0 L542.7 506.0 L544.7 506.0 L546.8 506.1 L548.8 506.2 L550.9 506.3 L552.9 506.5 L555.0 506.6 L557.0 506.8 L559.0 507.0 L561.1 507.3 L563.1 507.5 L565.2 507.8 L567.2 508.0 L569.3 508.3 L571.3 508.6 L573.3 508.8 L575.4 509.1 L577.4 509.4 L579.5 509.7 L581.5 509.9 L583.6 510.2 L585.6 510.5 L587.6 510.7 L589.7 510.9 L591.7 511.1 L593.8 511.3 L595.8 511.5 L597.9 511.7 L599.9 511.8 L601.9 511.9 L604.0 512.0 L606.0 512.1 L608.1 512.2 L610.1 512.3 L612.2 512.3 L614.2 512.4 L616.2 512.4 L618.3 512.4 L620.3 512.5 L622.4 512.5 L624.4 512.5 L626.5 512.5 L628.5 512.5"/>
<path d="M522.3 516.2 L524.3 516.2 L526.4 516.2 L528.4 516.1 L530.5 516.0 L532.5 515.9 L534.5 515.7 L536.6 515.6 L538.6 515.4 L540.7 515.2 L542.7 515.0 L544.7 514.8 L546.8 514.7 L548.8 514.5 L550.9 514.3 L552.9 514.2 L555.0 514.0 L557.0 513.9 L559.0 513.7 L561.1 513.6 L563.1 513.4 L565.2 513.3 L567.2 513.2 L569.3 513.1 L571.3 512.9 L573.3 512.8 L575.4 512.7 L577.4 512.7 L579.5 512.6 L581.5 512.5 L583.6 512.4 L585.6 512.4 L587.6 512.3 L589.7 512.3 L591.7 512.3 L593.8 512.2 L595.8 512.2 L597.9 512.2 L599.9 512.2 L601.9 512.2 L604.0 512.3 L606.0 512.3 L608.1 512.3 L610.1 512.3 L612.2 512.4 L614.2 512.4 L616.2 512.4 L618.3 512.4 L620.3 512.5 L622.4 512.5 L624.4 512.5 L626.5 512.5 L628.5 512.5"/>
<path d="M522.3 516.8 L524.3 516.8 L526.4 516.8 L528.4 516.8 L530.5 516.9 L532.5 517.0 L534.5 517.0 L536.6 517.1 L538.6 517.1 L540.7 517.2 L542.7 517.2 L544.7 517.3 L546.8 517.3 L548.8 517.3 L550.9 517.3 L552.9 517.2 L555.0 517.2 L557.0 517.2 L559.0 517.1 L561.1 517.1 L563.1 517.0 L565.2 517.0 L567.2 516.9 L569.3 516.8 L571.3 516.8 L573.3 516.7 L575.4 516.7 L577.4 516.6 L579.5 516.6 L581.5 516.6 L583.6 516.5 L585.6 516.5 L587.6 516.5 L589.7 516.5 L591.7 516.5 L593.8 516.5 L595.8 516.5 L597.9 516.6 L599.9 516.6 L601.9 516.7 L604.0 516.7 L606.0 516.8 L608.1 516.8 L610.1 516.9 L612.2 517.0 L614.2 517.0 L616.2 517.1 L618.3 517.1 L620.3 517.2 L622.4 517.2 L624.4 517.2 L626.5 517.2 L628.5 517.3"/>
<path d="M522.3 520.0 L524.3 520.0 L526.4 520.0 L528.4 520.0 L530.5 520.1 L532.5 520.1 L534.5 520.1 L536.6 520.1 L538.6 520.1 L540.7 520.1 L542.7 520.0 L544.7 519.9 L546.8 519.8 L548.8 519.7 L550.9 519.6 L552.9 519.4 L555.0 519.2 L557.0 519.0 L559.0 518.9 L561.1 518.7 L563.1 518.5 L565.2 518.3 L567.2 518.2 L569.3 518.0 L571.3 517.9 L573.3 517.8 L575.4 517.7 L577.4 517.6 L579.5 517.5 L581.5 517.5 L583.6 517.4 L585.6 517.4 L587.6 517.3 L589.7 517.3 L591.7 517.3 L593.8 517.2 L595.8 517.2 L597.9 517.2 L599.9 517.2 L601.9 517.2 L604.0 517.2 L606.0 517.2 L608.1 517.2 L610.1 517.2 L612.2 517.2 L614.2 517.2 L616.2 517.2 L618.3 517.2 L620.3 517.2 L622.4 517.2 L624.4 517.2 L626.5 517.2 L628.5 517.2"/>
<path d="M120.0 398.3 L122.1 398.3 L124.2 398.3 L126.3 398.3 L128.5 398.3 L130.6 398.3 L132.7 398.4 L134.8 398.4 L136.9 398.5 L139.0 398.5 L141.1 398.6 L143.3 398.6 L145.4 398.7 L147.5 398.7 L149.6 398.7 L151.7 398.6 L153.8 398.5 L155.9 398.3 L158.1 398.0 L160.2 397.7 L162.3 397.3 L164.4 396.8 L166.5 396.4 L168.6 395.9 L170.7 395.5 L172.9 395.0 L175.0 394.6 L177.1 394.1 L179.2 393.7 L181.3 393.2 L183.4 392.8 L185.5 392.4 L187.7 392.0 L189.8 391.6 L191.9 391.2 L194.0 390.9 L196.1 390.5 L198.2 390.2 L200.4 389.9 L202.5 389.6 L204.6 389.3 L206.7 389.0 L208.8 388.8 L210.9 388.6 L213.0 388.4 L215.2 388.2 L217.3 388.0 L219.4 387.8 L221.5 387.6 L223.6 387.4 L225.7 387.2 L227.8 387.1 L230.0 386.9 L232.1 386.8 L234.2 386.7 L236.3 386.6 L238.4 386.5 L240.5 386.4 L242.6 386.4"/>
<path d="M120.0 399.6 L122.1 399.6 L124.2 399.7 L126.3 399.7 L128.5 399.7 L130.6 399.8 L132.7 399.9 L134.8 399.9 L136.9 400.0 L139.0 400.0 L141.1 400.0 L143.3 400.1 L145.4 400.1 L147.5 400.1 L149.6 400.2 L151.7 400.2 L153.8 400.2 L155.9 400.3 L158.1 400.3 L160.2 400.4 L162.3 400.5 L164.4 400.6 L166.5 400.7 L168.6 400.9 L170.7 401.0 L172.9 401.1 L175.0 401.3 L177.1 401.4 L179.2 401.6 L181.3 401.7 L183.4 401.8 L185.5 401.8 L187.7 401.8 L189.8 401.8 L191.9 401.9 L194.0 401.9 L196.1 401.9 L198.2 401.9 L200.4 401.9 L202.5 401.9 L204.6 402.0 L206.7 402.0 L208.8 402.0 L210.9 402.0 L213.0 402.0 L215.2 401.9 L217.3 401.9 L219.4 401.9 L221.5 401.8 L223.6 401.8 L225.7 401.7 L227.8 401.6 L230.0 401.5 L232.1 401.4 L234.2 401.3 L236.3 401.3 L238.4 401.2 L240.5 401.1 L242.6 401.1"/>
<path d="M120.0 403.7 L122.1 403.7 L124.2 403.7 L126.3 403.7 L128.5 403.7 L130.6 403.8 L132.7 403.8 L134.8 403.8 L136.9 403.8 L139.0 403.9 L141.1 403.9 L143.3 403.9 L145.4 404.0 L147.5 404.0 L149.6 404.0 L151.7 404.0 L153.8 404.0 L155.9 404.0 L158.1 404.0 L160.2 404.0 L162.3 404.0 L164.4 404.0 L166.5 404.0 L168.6 403.9 L170.7 403.9 L172.9 403.9 L175.0 403.9 L177.1 403.9 L179.2 403.8 L181.3 403.8 L183.4 403.9 L185.5 404.0 L187.7 404.0 L189.8 404.1 L191.9 404.2 L194.0 404.2 L196.1 404.2 L198.2 404.3 L200.4 404.3 L202.5 404.3 L204.6 404.3 L206.7 404.2 L208.8 404.2 L210.9 404.1 L213.0 404.1 L215.2 404.0 L217.3 403.9 L219.4 403.8 L221.5 403.7 L223.6 403.5 L225.7 403.4 L227.8 403.3 L230.0 403.1 L232.1 403.0 L234.2 402.9 L236.3 402.8 L238.4 402.7 L240.5 402.7 L242.6 402.7"/>
<path d="M120.0 405.6 L122.1 405.6 L124.2 405.6 L126.3 405.6 L128.5 405.6 L130.6 405.7 L132.7 405.7 L134.8 405.7 L136.9 405.8 L139.0 405.8 L141.1 405.8 L143.3 405.9 L145.4 405.9 L147.5 406.0 L149.6 406.0 L151.7 406.0 L153.8 406.1 L155.9 406.1 L158.1 406.2 L160.2 406.2 L162.3 406.2 L164.4 406.2 L166.5 406.3 L168.6 406.3 L170.7 406.3 L172.9 406.3 L175.0 406.4 L177.1 406.4 L179.2 406.4 L181.3 406.4 L183.4 406.4 L185.5 406.4 L187.7 406.5 L189.8 406.5 L191.9 406.5 L194.0 406.6 L196.1 406.6 L198.2 406.7 L200.4 406.8 L202.5 406.9 L204.6 407.0 L206.7 407.2 L208.8 407.4 L210.9 407.5 L213.0 407.7 L215.2 408.0 L217.3 408.2 L219.4 408.5 L221.5 408.8 L223.6 409.1 L225.7 409.5 L227.8 409.8 L230.0 410.1 L232.1 410.4 L234.2 410.7 L236.3 410.9 L238.4 411.1 L240.5 411.2 L242.6 411.3"/>
<path d="M120.0 407.6 L122.1 407.6 L124.2 407.6 L126.3 407.6 L128.5 407.6 L130.6 407.6 L132.7 407.5 L134.8 407.5 L136.9 407.5 L139.0 407.5 L141.1 407.4 L143.3 407.4 L145.4 407.4 L147.5 407.3 L149.6 407.3 L151.7 407.2 L153.8 407.2 L155.9 407.1 L158.1 407.1 L160.2 407.0 L162.3 407.0 L164.4 407.0 L166.5 406.9 L168.6 406.9 L170.7 406.8 L172.9 406.8 L175.0 406.8 L177.1 406.8 L179.2 406.8 L181.3 406.8"/>
<path d="M120.0 409.7 L122.1 409.7 L124.2 409.7 L126.3 409.7 L128.5 409.7 L130.6 409.7 L132.7 409.7 L134.8 409.7 L136.9 409.7 L139.0 409.7 L141.1 409.8 L143.3 409.8 L145.4 409.8 L147.5 409.8 L149.6 409.8 L151.7 409.8 L153.8 409.7 L155.9 409.7 L158.1 409.7 L160.2 409.7 L162.3 409.6 L164.4 409.6 L166.5 409.6 L168.6 409.5 L170.7 409.5 L172.9 409.4 L175.0 409.4 L177.1 409.3 L179.2 409.3 L181.3 409.2 L183.4 409.3 L185.5 409.3 L187.7 409.4 L189.8 409.4 L191.9 409.5 L194.0 409.6 L196.1 409.6 L198.2 409.7 L200.4 409.8 L202.5 410.0 L204.6 410.1 L206.7 410.2 L208.8 410.4 L210.9 410.5 L213.0 410.7 L215.2 410.9 L217.3 411.0 L219.4 411.2 L221.5 411.4 L223.6 411.5 L225.7 411.7 L227.8 411.8 L230.0 411.9 L232.1 412.1 L234.2 412.2 L236.3 412.2 L238.4 412.3 L240.5 412.3 L242.6 412.4"/>
<path d="M120.0 411.0 L122.1 411.0 L124.2 411.0 L126.3 411.0 L128.5 411.0 L130.6 411.0 L132.7 411.0 L134.8 411.0 L136.9 411.0 L139.0 411.0 L141.1 411.0 L143.3 411.0 L145.4 411.1 L147.5 411.1 L149.6 411.1 L151.7 411.2 L153.8 411.2 L155.9 411.3 L158.1 411.3 L160.2 411.3 L162.3 411.4 L164.4 411.4 L166.5 411.4 L168.6 411.4 L170.7 411.4 L172.9 411.3 L175.0 411.3 L177.1 411.3 L179.2 411.2 L181.3 411.2 L183.4 411.2 L185.5 411.2 L187.7 411.3 L189.8 411.3 L191.9 411.4 L194.0 411.4 L196.1 411.5 L198.2 411.6 L200.4 411.7 L202.5 411.9 L204.6 412.0 L206.7 412.2 L208.8 412.3 L210.9 412.5 L213.0 412.6 L215.2 412.8 L217.3 412.9 L219.4 413.1 L221.5 413.2 L223.6 413.3 L225.7 413.3 L227.8 413.4 L230.0 413.4 L232.1 413.5 L234.2 413.5 L236.3 413.5 L238.4 413.5 L240.5 413.5 L242.6 413.5"/>
<path d="M120.0 413.5 L122.1 413.5 L124.2 413.6 L126.3 413.6 L128.5 413.7 L130.6 413.9 L132.7 414.1 L134.8 414.3 L136.9 414.5 L139.0 414.8 L141.1 415.2 L143.3 415.5 L145.4 415.9 L147.5 416.2 L149.6 416.5 L151.7 416.7 L153.8 416.9 L155.9 416.9 L158.1 416.9 L160.2 416.9 L162.3 416.8 L164.4 416.7 L166.5 416.7 L168.6 416.6 L170.7 416.5 L172.9 416.5 L175.0 416.4 L177.1 416.3 L179.2 416.3 L181.3 416.2 L183.4 416.2 L185.5 416.1 L187.7 416.1 L189.8 416.0 L191.9 416.0 L194.0 415.9 L196.1 415.9 L198.2 415.8 L200.4 415.8 L202.5 415.8 L204.6 415.7 L206.7 415.7 L208.8 415.7 L210.9 415.6 L213.0 415.6 L215.2 415.6 L217.3 415.5 L219.4 415.5 L221.5 415.4 L223.6 415.4 L225.7 415.4 L227.8 415.3 L230.0 415.3 L232.1 415.3 L234.2 415.3 L236.3 415.2 L238.4 415.2 L240.5 415.2 L242.6 415.2"/>
<path d="M120.0 421.3 L122.1 421.3 L124.2 421.1 L126.3 420.9 L128.5 420.7 L130.6 420.4 L132.7 420.0 L134.8 419.7 L136.9 419.3 L139.0 418.9 L141.1 418.5 L143.3 418.2 L145.4 417.8 L147.5 417.5 L149.6 417.3 L151.7 417.0 L153.8 416.8 L155.9 416.6 L158.1 416.4 L160.2 416.2 L162.3 416.1 L164.4 415.9 L166.5 415.7 L168.6 415.5 L170.7 415.3 L172.9 415.1 L175.0 414.9 L177.1 414.7 L179.2 414.5 L181.3 414.3 L183.4 414.2 L185.5 414.2 L187.7 414.2 L189.8 414.1 L191.9 414.1 L194.0 414.1 L196.1 414.1 L198.2 414.1 L200.4 414.1 L202.5 414.1 L204.6 414.1 L206.7 414.1 L208.8 414.2 L210.9 414.2 L213.0 414.3 L215.2 414.3 L217.3 414.4 L219.4 414.4 L221.5 414.4 L223.6 414.5 L225.7 414.5 L227.8 414.5 L230.0 414.5 L232.1 414.5 L234.2 414.5 L236.3 414.5 L238.4 414.5 L240.5 414.5 L242.6 414.5"/>
<path d="M120.0 422.7 L122.1 422.6 L124.2 422.6 L126.3 422.6 L128.5 422.5 L130.6 422.4 L132.7 422.3 L134.8 422.2 L136.9 422.0 L139.0 421.9 L141.1 421.7 L143.3 421.6 L145.4 421.4 L147.5 421.2 L149.6 421.1 L151.7 420.9 L153.8 420.8 L155.9 420.6 L158.1 420.5 L160.2 420.4 L162.3 420.3 L164.4 420.2 L166.5 420.1 L168.6 420.0 L170.7 420.0 L172.9 419.9 L175.0 419.9 L177.1 419.8 L179.2 419.8 L181.3 419.7 L183.4 419.9 L185.5 420.1 L187.7 420.3 L189.8 420.6 L191.9 420.9 L194.0 421.3 L196.1 421.7 L198.2 422.1 L200.4 422.6 L202.5 423.0 L204.6 423.3 L206.7 423.5 L208.8 423.5 L210.9 423.4 L213.0 423.2 L215.2 422.9 L217.3 422.5 L219.4 422.2 L221.5 421.9 L223.6 421.7 L225.7 421.5 L227.8 421.3 L230.0 421.2 L232.1 421.1 L234.2 421.0 L236.3 421.0 L238.4 421.0 L240.5 421.0 L242.6 421.0"/>
<path d="M120.0 424.8 L122.1 424.8 L124.2 424.8 L126.3 424.8 L128.5 424.8 L130.6 424.8 L132.7 424.8 L134.8 424.8 L136.9 424.7 L139.0 424.6 L141.1 424.5 L143.3 424.4 L145.4 424.3 L147.5 424.1 L149.6 423.9 L151.7 423.8 L153.8 423.6 L155.9 423.4 L158.1 423.3 L160.2 423.1 L162.3 423.0 L164.4 422.9 L166.5 422.8 L168.6 422.7 L170.7 422.6 L172.9 422.5 L175.0 422.4 L177.1 422.4 L179.2 422.3 L181.3 422.2 L183.4 422.2 L185.5 422.2 L187.7 422.3 L189.8 422.4 L191.9 422.7 L194.0 423.0 L196.1 423.4 L198.2 423.9 L200.4 424.4 L202.5 424.9 L204.6 425.3 L206.7 425.6 L208.8 425.6 L210.9 425.5 L213.0 425.3 L215.2 425.0 L217.3 424.6 L219.4 424.2 L221.5 423.9 L223.6 423.6 L225.7 423.4 L227.8 423.2 L230.0 423.1 L232.1 423.0 L234.2 422.9 L236.3 422.8 L238.4 422.8 L240.5 422.8 L242.6 422.8"/>
<path d="M120.0 426.9 L122.1 426.9 L124.2 426.9 L126.3 426.9 L128.5 426.9 L130.6 426.9 L132.7 426.9 L134.8 426.9 L136.9 426.9 L139.0 426.9 L141.1 426.8 L143.3 426.8 L145.4 426.7 L147.5 426.6 L149.6 426.4 L151.7 426.3 L153.8 426.1 L155.9 425.9 L158.1 425.8 L160.2 425.6 L162.3 425.4 L164.4 425.2 L166.5 425.1 L168.6 425.0 L170.7 424.8 L172.9 424.7 L175.0 424.6 L177.1 424.5 L179.2 424.4 L181.3 424.4 L183.4 424.3 L185.5 424.2 L187.7 424.1 L189.8 424.0 L191.9 423.8 L194.0 423.6 L196.1 423.4 L198.2 423.1 L200.4 422.8 L202.5 422.5 L204.6 422.2 L206.7 421.9 L208.8 421.7 L210.9 421.5 L213.0 421.3 L215.2 421.1 L217.3 421.0 L219.4 420.9 L221.5 420.8 L223.6 420.8 L225.7 420.7 L227.8 420.7 L230.0 420.7 L232.1 420.6 L234.2 420.6 L236.3 420.6 L238.4 420.6 L240.5 420.6 L242.6 420.6"/>
<path d="M120.0 431.4 L122.1 431.4 L124.2 431.4 L126.3 431.3 L128.5 431.3 L130.6 431.3 L132.7 431.3 L134.8 431.4 L136.9 431.6 L139.0 431.9 L141.1 432.3 L143.3 432.7 L145.4 433.2 L147.5 433.6 L149.6 433.9 L151.7 434.2 L153.8 434.3 L155.9 434.3 L158.1 434.2 L160.2 434.0 L162.3 433.8 L164.4 433.5 L166.5 433.3 L168.6 433.0 L170.7 432.8 L172.9 432.6 L175.0 432.4 L177.1 432.2 L179.2 432.0 L181.3 431.8 L183.4 431.9 L185.5 431.9 L187.7 431.9 L189.8 431.9 L191.9 432.0 L194.0 432.0 L196.1 432.1 L198.2 432.1 L200.4 432.2 L202.5 432.3 L204.6 432.4 L206.7 432.5 L208.8 432.7 L210.9 432.8 L213.0 432.9 L215.2 433.1 L217.3 433.3 L219.4 433.5 L221.5 433.7 L223.6 433.9 L225.7 434.1 L227.8 434.3 L230.0 434.5 L232.1 434.7 L234.2 434.8 L236.3 435.0 L238.4 435.1 L240.5 435.1 L242.6 435.2"/>
<path d="M120.0 435.8 L122.1 435.8 L124.2 435.9 L126.3 435.9 L128.5 436.0 L130.6 436.0 L132.7 436.1 L134.8 436.1 L136.9 436.2 L139.0 436.2 L141.1 436.2 L143.3 436.2 L145.4 436.2 L147.5 436.2 L149.6 436.2 L151.7 436.1 L153.8 436.1 L155.9 436.0 L158.1 435.9 L160.2 435.9 L162.3 435.8 L164.4 435.7 L166.5 435.7 L168.6 435.6 L170.7 435.5 L172.9 435.4 L175.0 435.3 L177.1 435.2 L179.2 435.1 L181.3 435.0 L183.4 435.1 L185.5 435.1 L187.7 435.1 L189.8 435.1 L191.9 435.2 L194.0 435.2 L196.1 435.3 L198.2 435.3 L200.4 435.4 L202.5 435.5 L204.6 435.6 L206.7 435.7 L208.8 435.8 L210.9 435.9 L213.0 436.0 L215.2 436.1 L217.3 436.2 L219.4 436.4 L221.5 436.5 L223.6 436.7 L225.7 436.8 L227.8 437.0 L230.0 437.1 L232.1 437.2 L234.2 437.3 L236.3 437.4 L238.4 437.5 L240.5 437.5 L242.6 437.5"/>
<path d="M120.0 438.9 L122.1 438.9 L124.2 438.9 L126.3 439.0 L128.5 439.1 L130.6 439.1 L132.7 439.2 L134.8 439.3 L136.9 439.3 L139.0 439.3 L141.1 439.2 L143.3 439.1 L145.4 439.0 L147.5 438.9 L149.6 438.7 L151.7 438.6 L153.8 438.4 L155.9 438.2 L158.1 438.1 L160.2 437.9 L162.3 437.8 L164.4 437.6 L166.5 437.5 L168.6 437.4 L170.7 437.3 L172.9 437.2 L175.0 437.1 L177.1 437.0 L179.2 436.9 L181.3 436.8 L183.4 436.8 L185.5 436.8 L187.7 436.9 L189.8 436.9 L191.9 436.9 L194.0 437.0 L196.1 437.0 L198.2 437.1 L200.4 437.1 L202.5 437.2 L204.6 437.3 L206.7 437.4 L208.8 437.5 L210.9 437.6 L213.0 437.8 L215.2 437.9 L217.3 438.0 L219.4 438.1 L221.5 438.2 L223.6 438.2 L225.7 438.3 L227.8 438.4 L230.0 438.4 L232.1 438.5 L234.2 438.5 L236.3 438.5 L238.4 438.5 L240.5 438.5 L242.6 438.5"/>
<path d="M120.0 446.7 L122.1 446.7 L124.2 446.6 L126.3 446.6 L128.5 446.5 L130.6 446.4 L132.7 446.3 L134.8 446.2 L136.9 446.0 L139.0 445.8 L141.1 445.6 L143.3 445.3 L145.4 445.0 L147.5 444.7 L149.6 444.4 L151.7 444.1 L153.8 443.9 L155.9 443.6 L158.1 443.4 L160.2 443.1 L162.3 443.0 L164.4 442.8 L166.5 442.7 L168.6 442.7 L170.7 442.7 L172.9 442.7 L175.0 442.8 L177.1 442.9 L179.2 443.0 L181.3 443.1 L183.4 443.1 L185.5 443.1 L187.7 443.1 L189.8 443.1 L191.9 443.1 L194.0 443.1 L196.1 443.1 L198.2 443.0 L200.4 442.9 L202.5 442.8 L204.6 442.7 L206.7 442.6 L208.8 442.4 L210.9 442.3 L213.0 442.1 L215.2 441.8 L217.3 441.6 L219.4 441.4 L221.5 441.1 L223.6 440.9 L225.7 440.6 L227.8 440.4 L230.0 440.1 L232.1 439.9 L234.2 439.7 L236.3 439.6 L238.4 439.5 L240.5 439.4 L242.6 439.4"/>
<path d="M120.0 448.4 L122.1 448.4 L124.2 448.4 L126.3 448.4 L128.5 448.4 L130.6 448.4 L132.7 448.4 L134.8 448.4 L136.9 448.4 L139.0 448.3 L141.1 448.3 L143.3 448.2 L145.4 448.1 L147.5 448.0 L149.6 447.8 L151.7 447.7 L153.8 447.6 L155.9 447.5 L158.1 447.4 L160.2 447.3 L162.3 447.3 L164.4 447.2 L166.5 447.2 L168.6 447.2 L170.7 447.2 L172.9 447.2 L175.0 447.2 L177.1 447.3 L179.2 447.3 L181.3 447.3 L183.4 447.4 L185.5 447.4 L187.7 447.5 L189.8 447.5 L191.9 447.6 L194.0 447.6 L196.1 447.6 L198.2 447.7 L200.4 447.7 L202.5 447.6 L204.6 447.6 L206.7 447.6 L208.8 447.6 L210.9 447.6 L213.0 447.5 L215.2 447.5 L217.3 447.5 L219.4 447.5 L221.5 447.5 L223.6 447.5 L225.7 447.5 L227.8 447.5 L230.0 447.6 L232.1 447.6 L234.2 447.6 L236.3 447.6 L238.4 447.7 L240.5 447.7 L242.6 447.7"/>
<path d="M120.0 451.1 L122.1 451.1 L124.2 451.1 L126.3 451.1 L128.5 451.2 L130.6 451.3 L132.7 451.5 L134.8 451.6 L136.9 451.8 L139.0 452.1 L141.1 452.4 L143.3 452.7 L145.4 453.0 L147.5 453.2 L149.6 453.4 L151.7 453.5 L153.8 453.6 L155.9 453.5 L158.1 453.4 L160.2 453.2 L162.3 453.0 L164.4 452.9 L166.5 452.7 L168.6 452.6 L170.7 452.5 L172.9 452.4 L175.0 452.3 L177.1 452.3 L179.2 452.2 L181.3 452.2 L183.4 452.1 L185.5 452.0 L187.7 451.9 L189.8 451.8 L191.9 451.7 L194.0 451.7 L196.1 451.6 L198.2 451.5 L200.4 451.4 L202.5 451.3 L204.6 451.2 L206.7 451.1 L208.8 451.0 L210.9 450.9 L213.0 450.8 L215.2 450.6 L217.3 450.5 L219.4 450.4 L221.5 450.3 L223.6 450.1 L225.7 450.0 L227.8 449.9 L230.0 449.8 L232.1 449.7 L234.2 449.6 L236.3 449.5 L238.4 449.4 L240.5 449.4 L242.6 449.4"/>
<path d="M120.0 458.9 L122.1 458.8 L124.2 458.8 L126.3 458.6 L128.5 458.5 L130.6 458.2 L132.7 458.0 L134.8 457.7 L136.9 457.3 L139.0 457.0 L141.1 456.6 L143.3 456.1 L145.4 455.7 L147.5 455.3 L149.6 454.9 L151.7 454.5 L153.8 454.2 L155.9 453.9 L158.1 453.7 L160.2 453.5 L162.3 453.3 L164.4 453.2 L166.5 453.0 L168.6 452.9 L170.7 452.7 L172.9 452.6 L175.0 452.5 L177.1 452.4 L179.2 452.3 L181.3 452.3 L183.4 452.2 L185.5 452.1 L187.7 452.0 L189.8 451.9 L191.9 451.8 L194.0 451.6 L196.1 451.5 L198.2 451.3 L200.4 451.1 L202.5 451.0 L204.6 450.8 L206.7 450.6 L208.8 450.3 L210.9 450.1 L213.0 449.9 L215.2 449.7 L217.3 449.5 L219.4 449.3 L221.5 449.1 L223.6 449.0 L225.7 448.8 L227.8 448.7 L230.0 448.5 L232.1 448.4 L234.2 448.3 L236.3 448.3 L238.4 448.2 L240.5 448.2 L242.6 448.2"/>
<path d="M120.0 459.9 L122.1 459.9 L124.2 459.9 L126.3 459.9 L128.5 459.8 L130.6 459.8 L132.7 459.8 L134.8 459.8 L136.9 459.9 L139.0 459.9 L141.1 459.9 L143.3 459.9 L145.4 460.0 L147.5 460.0 L149.6 460.0 L151.7 460.1 L153.8 460.1 L155.9 460.2 L158.1 460.2 L160.2 460.2 L162.3 460.2 L164.4 460.2 L166.5 460.2 L168.6 460.3 L170.7 460.3 L172.9 460.2 L175.0 460.2 L177.1 460.2 L179.2 460.2 L181.3 460.2 L183.4 460.2 L185.5 460.1 L187.7 460.1 L189.8 460.1 L191.9 460.0 L194.0 460.0 L196.1 460.0 L198.2 460.0 L200.4 459.9 L202.5 459.9 L204.6 459.9 L206.7 459.9 L208.8 459.9 L210.9 459.9 L213.0 459.8 L215.2 459.8 L217.3 459.8 L219.4 459.8 L221.5 459.8 L223.6 459.8 L225.7 459.8 L227.8 459.8 L230.0 459.9 L232.1 459.9 L234.2 459.9 L236.3 459.9 L238.4 459.9 L240.5 459.9 L242.6 459.9"/>
<path d="M120.0 461.9 L122.1 461.9 L124.2 461.9 L126.3 461.9 L128.5 461.9 L130.6 462.0 L132.7 462.0 L134.8 462.0 L136.9 462.1 L139.0 462.1 L141.1 462.1 L143.3 462.2 L145.4 462.2 L147.5 462.2 L149.6 462.3 L151.7 462.3 L153.8 462.3 L155.9 462.3 L158.1 462.3 L160.2 462.3 L162.3 462.3 L164.4 462.3 L166.5 462.3 L168.6 462.3 L170.7 462.3 L172.9 462.3 L175.0 462.2 L177.1 462.2 L179.2 462.2 L181.3 462.2 L183.4 462.2 L185.5 462.2 L187.7 462.2 L189.8 462.2 L191.9 462.2 L194.0 462.2 L196.1 462.3 L198.2 462.3 L200.4 462.3 L202.5 462.3 L204.6 462.3 L206.7 462.3 L208.8 462.3 L210.9 462.3 L213.0 462.3 L215.2 462.3 L217.3 462.3 L219.4 462.3 L221.5 462.3 L223.6 462.3 L225.7 462.3 L227.8 462.3 L230.0 462.3 L232.1 462.2 L234.2 462.2 L236.3 462.2 L238.4 462.2 L240.5 462.2 L242.6 462.2"/>
<path d="M120.0 463.9 L122.1 463.9 L124.2 464.0 L126.3 464.0 L128.5 464.1 L130.6 464.2 L132.7 464.3 L134.8 464.4 L136.9 464.5 L139.0 464.6 L141.1 464.8 L143.3 464.9 L145.4 465.0 L147.5 465.2 L149.6 465.3 L151.7 465.4 L153.8 465.5 L155.9 465.6 L158.1 465.7 L160.2 465.7 L162.3 465.8 L164.4 465.8 L166.5 465.8 L168.6 465.8 L170.7 465.8 L172.9 465.8 L175.0 465.8 L177.1 465.8 L179.2 465.7 L181.3 465.7 L183.4 465.7 L185.5 465.7 L187.7 465.6 L189.8 465.6 L191.9 465.7 L194.0 465.7 L196.1 465.7 L198.2 465.8 L200.4 465.8 L202.5 465.9 L204.6 466.0 L206.7 466.2 L208.8 466.3 L210.9 466.4 L213.0 466.6 L215.2 466.7 L217.3 466.8 L219.4 466.9 L221.5 467.0 L223.6 467.1 L225.7 467.2 L227.8 467.2 L230.0 467.3 L232.1 467.3 L234.2 467.3 L236.3 467.3 L238.4 467.3 L240.5 467.3 L242.6 467.3"/>
<path d="M120.0 468.3 L122.1 468.3 L124.2 468.3 L126.3 468.3 L128.5 468.3 L130.6 468.3 L132.7 468.3 L134.8 468.3 L136.9 468.2 L139.0 468.2 L141.1 468.2 L143.3 468.2 L145.4 468.2 L147.5 468.2 L149.6 468.2 L151.7 468.2 L153.8 468.2 L155.9 468.2 L158.1 468.2 L160.2 468.2 L162.3 468.2 L164.4 468.2 L166.5 468.2 L168.6 468.2 L170.7 468.2 L172.9 468.2 L175.0 468.2 L177.1 468.2 L179.2 468.2 L181.3 468.2 L183.4 468.3 L185.5 468.3 L187.7 468.4 L189.8 468.4 L191.9 468.5 L194.0 468.5 L196.1 468.6 L198.2 468.6 L200.4 468.7 L202.5 468.7 L204.6 468.8 L206.7 468.8 L208.8 468.9 L210.9 469.0 L213.0 469.0 L215.2 469.1 L217.3 469.1 L219.4 469.1 L221.5 469.1 L223.6 469.1 L225.7 469.1 L227.8 469.1 L230.0 469.1 L232.1 469.1 L234.2 469.1 L236.3 469.0 L238.4 469.0 L240.5 469.0 L242.6 469.0"/>
<path d="M120.0 471.2 L122.1 471.2 L124.2 471.2 L126.3 471.1 L128.5 471.1 L130.6 471.1 L132.7 471.1 L134.8 471.0 L136.9 471.0 L139.0 471.0 L141.1 471.0 L143.3 471.1 L145.4 471.1 L147.5 471.1 L149.6 471.1 L151.7 471.2 L153.8 471.2 L155.9 471.2 L158.1 471.2 L160.2 471.3 L162.3 471.2 L164.4 471.2 L166.5 471.2 L168.6 471.2 L170.7 471.2 L172.9 471.2 L175.0 471.1 L177.1 471.1 L179.2 471.1 L181.3 471.1 L183.4 471.1 L185.5 471.1 L187.7 471.1 L189.8 471.1 L191.9 471.1 L194.0 471.1 L196.1 471.0 L198.2 471.0 L200.4 471.0 L202.5 471.0 L204.6 471.0 L206.7 470.9 L208.8 470.9 L210.9 470.9 L213.0 470.8 L215.2 470.8 L217.3 470.8 L219.4 470.7 L221.5 470.7 L223.6 470.7 L225.7 470.6 L227.8 470.6 L230.0 470.6 L232.1 470.6 L234.2 470.5 L236.3 470.5 L238.4 470.5 L240.5 470.5 L242.6 470.5"/>
<path d="M181.3 401.7 L183.4 401.7 L185.5 401.8 L187.7 401.8 L189.8 401.8 L191.9 401.8 L194.0 401.8 L196.1 401.7 L198.2 401.7 L200.4 401.6 L202.5 401.5 L204.6 401.5 L206.7 401.4 L208.8 401.3 L210.9 401.1 L213.0 401.0 L215.2 400.8 L217.3 400.7 L219.4 400.5 L221.5 400.4 L223.6 400.2 L225.7 400.0 L227.8 399.9 L230.0 399.7 L232.1 399.5 L234.2 399.4 L236.3 399.3 L238.4 399.2 L240.5 399.1 L242.6 399.1"/>
<path d="M181.3 424.7 L183.4 425.0 L185.5 425.2 L187.7 425.4 L189.8 425.7 L191.9 425.8 L194.0 426.0 L196.1 426.1 L198.2 426.1 L200.4 426.1 L202.5 426.0 L204.6 425.9 L206.7 425.7 L208.8 425.4 L210.9 425.2 L213.0 424.9 L215.2 424.7 L217.3 424.5 L219.4 424.3 L221.5 424.1 L223.6 424.0 L225.7 424.0 L227.8 424.0 L230.0 424.0 L232.1 424.0 L234.2 424.0 L236.3 424.1 L238.4 424.1 L240.5 424.1 L242.6 424.1"/>
<path d="M181.3 431.1 L183.4 431.0 L185.5 430.9 L187.7 430.8 L189.8 430.7 L191.9 430.6 L194.0 430.5 L196.1 430.4 L198.2 430.3 L200.4 430.3 L202.5 430.2 L204.6 430.2 L206.7 430.2 L208.8 430.2 L210.9 430.2 L213.0 430.2 L215.2 430.2 L217.3 430.2 L219.4 430.2 L221.5 430.2 L223.6 430.2 L225.7 430.2 L227.8 430.2 L230.0 430.2 L232.1 430.1 L234.2 430.1 L236.3 430.1 L238.4 430.1 L240.5 430.1 L242.6 430.1"/>
<path d="M181.3 447.3 L183.4 447.3 L185.5 447.2 L187.7 447.1 L189.8 447.1 L191.9 447.0 L194.0 447.0 L196.1 446.9 L198.2 446.9 L200.4 446.9 L202.5 446.9 L204.6 446.9 L206.7 446.9 L208.8 447.0 L210.9 447.0 L213.0 447.1 L215.2 447.1 L217.3 447.1 L219.4 447.1 L221.5 447.1 L223.6 447.1 L225.7 447.0 L227.8 447.0 L230.0 446.9 L232.1 446.9 L234.2 446.8 L236.3 446.8 L238.4 446.7 L240.5 446.7 L242.6 446.7"/>
<path d="M242.6 386.4 L244.8 386.4 L247.0 386.5 L249.1 386.5 L251.3 386.6 L253.5 386.7 L255.6 386.8 L257.8 387.0 L260.0 387.1 L262.2 387.3 L264.3 387.5 L266.5 387.7 L268.7 387.9 L270.8 388.2 L273.0 388.5 L275.2 388.8 L277.3 389.2 L279.5 389.6 L281.7 390.0 L283.8 390.4 L286.0 390.9 L288.2 391.4 L290.3 391.9 L292.5 392.3 L294.7 392.8 L296.8 393.2 L299.0 393.7 L301.2 394.1 L303.3 394.6 L305.5 395.0 L307.7 395.4 L309.8 395.9 L312.0 396.3 L314.2 396.8 L316.4 397.2 L318.5 397.7 L320.7 398.2 L322.9 398.6 L325.0 399.0 L327.2 399.2 L329.4 399.3"/>
<path d="M242.6 399.1 L244.8 399.1 L247.0 399.1 L249.1 399.2 L251.3 399.3 L253.5 399.4 L255.6 399.5 L257.8 399.6 L260.0 399.7 L262.2 399.8 L264.3 399.8 L266.5 399.9 L268.7 399.9 L270.8 400.0 L273.0 400.0 L275.2 400.1 L277.3 400.1 L279.5 400.2 L281.7 400.2 L283.8 400.2 L286.0 400.3 L288.2 400.3 L290.3 400.3 L292.5 400.3 L294.7 400.3 L296.8 400.3 L299.0 400.3 L301.2 400.3 L303.3 400.3 L305.5 400.3 L307.7 400.3 L309.8 400.2 L312.0 400.2 L314.2 400.1 L316.4 400.1 L318.5 400.0 L320.7 400.0 L322.9 399.9 L325.0 399.9 L327.2 399.9 L329.4 399.9"/>
<path d="M242.6 401.1 L244.8 401.1 L247.0 401.2 L249.1 401.2 L251.3 401.3 L253.5 401.4 L255.6 401.5 L257.8 401.7 L260.0 401.9 L262.2 402.1 L264.3 402.3 L266.5 402.5 L268.7 402.7 L270.8 402.9 L273.0 403.1 L275.2 403.2 L277.3 403.4 L279.5 403.5 L281.7 403.6 L283.8 403.7 L286.0 403.8 L288.2 403.8 L290.3 403.9 L292.5 403.9 L294.7 404.0 L296.8 404.1 L299.0 404.2 L301.2 404.2 L303.3 404.3 L305.5 404.4 L307.7 404.4 L309.8 404.5 L312.0 404.6 L314.2 404.6 L316.4 404.7 L318.5 404.7 L320.7 404.7 L322.9 404.8 L325.0 404.8 L327.2 404.8 L329.4 404.8"/>
<path d="M242.6 402.7 L244.8 402.7 L247.0 402.8 L249.1 402.8 L251.3 403.0 L253.5 403.1 L255.6 403.3 L257.8 403.5 L260.0 403.8 L262.2 404.0 L264.3 404.2 L266.5 404.5 L268.7 404.7 L270.8 405.0 L273.0 405.2 L275.2 405.4 L277.3 405.5 L279.5 405.7 L281.7 405.8 L283.8 406.0 L286.0 406.1 L288.2 406.1 L290.3 406.1 L292.5 406.1 L294.7 406.1 L296.8 406.1 L299.0 406.1 L301.2 406.1 L303.3 406.2 L305.5 406.2 L307.7 406.2 L309.8 406.2 L312.0 406.2 L314.2 406.3 L316.4 406.3 L318.5 406.3 L320.7 406.3 L322.9 406.3 L325.0 406.3 L327.2 406.3 L329.4 406.3"/>
<path d="M242.6 411.3 L244.8 411.2 L247.0 411.0 L249.1 410.7 L251.3 410.4 L253.5 410.2 L255.6 409.9 L257.8 409.7 L260.0 409.6 L262.2 409.4 L264.3 409.2 L266.5 409.0 L268.7 408.8 L270.8 408.5 L273.0 408.2 L275.2 407.9 L277.3 407.6 L279.5 407.4 L281.7 407.2 L283.8 407.0 L286.0 406.8 L288.2 406.9 L290.3 406.9 L292.5 407.0 L294.7 407.1 L296.8 407.2 L299.0 407.3 L301.2 407.4 L303.3 407.6 L305.5 407.7 L307.7 407.8 L309.8 407.9 L312.0 408.0 L314.2 408.1 L316.4 408.2 L318.5 408.3 L320.7 408.4 L322.9 408.4 L325.0 408.5 L327.2 408.5 L329.4 408.5"/>
<path d="M242.6 412.3 L244.8 412.3 L247.0 412.3 L249.1 412.3 L251.3 412.3 L253.5 412.3 L255.6 412.2 L257.8 412.2 L260.0 412.1 L262.2 412.0 L264.3 412.0 L266.5 411.9 L268.7 411.8 L270.8 411.7 L273.0 411.6 L275.2 411.5 L277.3 411.4 L279.5 411.4 L281.7 411.3 L283.8 411.2 L286.0 411.1 L288.2 411.1 L290.3 411.0 L292.5 411.0 L294.7 411.0 L296.8 411.0 L299.0 411.0 L301.2 411.0 L303.3 411.1 L305.5 411.2 L307.7 411.4 L309.8 411.5 L312.0 411.7 L314.2 411.9 L316.4 412.1 L318.5 412.3 L320.7 412.4 L322.9 412.6 L325.0 412.7 L327.2 412.8 L329.4 412.8"/>
<path d="M242.6 414.0 L244.8 414.0 L247.0 414.1 L249.1 414.1 L251.3 414.2 L253.5 414.3 L255.6 414.4 L257.8 414.4 L260.0 414.5 L262.2 414.5 L264.3 414.4 L266.5 414.4 L268.7 414.4 L270.8 414.3 L273.0 414.3 L275.2 414.3 L277.3 414.3 L279.5 414.3 L281.7 414.3 L283.8 414.3 L286.0 414.3 L288.2 414.3 L290.3 414.2 L292.5 414.2 L294.7 414.1 L296.8 414.1 L299.0 414.1 L301.2 414.1 L303.3 414.1 L305.5 414.1 L307.7 414.2 L309.8 414.2 L312.0 414.3 L314.2 414.4 L316.4 414.4 L318.5 414.5 L320.7 414.5 L322.9 414.6 L325.0 414.6 L327.2 414.7 L329.4 414.7"/>
<path d="M242.6 420.6 L244.8 420.6 L247.0 420.6 L249.1 420.6 L251.3 420.5 L253.5 420.5 L255.6 420.3 L257.8 420.2 L260.0 420.0 L262.2 419.7 L264.3 419.4 L266.5 419.1 L268.7 418.7 L270.8 418.4 L273.0 418.0 L275.2 417.7 L277.3 417.4 L279.5 417.1 L281.7 416.9 L283.8 416.6 L286.0 416.4 L288.2 416.4 L290.3 416.4 L292.5 416.3 L294.7 416.3 L296.8 416.3 L299.0 416.3 L301.2 416.3 L303.3 416.4 L305.5 416.4 L307.7 416.4 L309.8 416.4 L312.0 416.5 L314.2 416.5 L316.4 416.5 L318.5 416.6 L320.7 416.6 L322.9 416.6 L325.0 416.6 L327.2 416.7 L329.4 416.7"/>
<path d="M242.6 422.3 L244.8 422.3 L247.0 422.3 L249.1 422.3 L251.3 422.2 L253.5 422.2 L255.6 422.1 L257.8 422.0 L260.0 421.9 L262.2 421.8 L264.3 421.7 L266.5 421.6 L268.7 421.5 L270.8 421.4 L273.0 421.2 L275.2 421.1 L277.3 420.9 L279.5 420.7 L281.7 420.5 L283.8 420.4 L286.0 420.2 L288.2 420.1 L290.3 420.0 L292.5 419.9 L294.7 419.9 L296.8 419.8 L299.0 419.8 L301.2 419.8 L303.3 419.8 L305.5 419.8 L307.7 419.8 L309.8 419.9 L312.0 420.0 L314.2 420.1 L316.4 420.2 L318.5 420.3 L320.7 420.3 L322.9 420.4 L325.0 420.5 L327.2 420.5 L329.4 420.5"/>
<path d="M242.6 424.1 L244.8 424.1 L247.0 424.2 L249.1 424.2 L251.3 424.2 L253.5 424.2 L255.6 424.2 L257.8 424.2 L260.0 424.2 L262.2 424.1 L264.3 424.1 L266.5 424.0 L268.7 423.9 L270.8 423.8 L273.0 423.7 L275.2 423.6 L277.3 423.5 L279.5 423.4 L281.7 423.3 L283.8 423.2 L286.0 423.1 L288.2 423.1 L290.3 423.1 L292.5 423.1 L294.7 423.0 L296.8 423.0 L299.0 423.0 L301.2 422.9 L303.3 422.8 L305.5 422.7 L307.7 422.6 L309.8 422.5 L312.0 422.4 L314.2 422.2 L316.4 422.1 L318.5 422.0 L320.7 421.9 L322.9 421.8 L325.0 421.7 L327.2 421.7 L329.4 421.7"/>
<path d="M242.6 426.7 L244.8 426.7 L247.0 426.7 L249.1 426.7 L251.3 426.7 L253.5 426.7 L255.6 426.7 L257.8 426.7 L260.0 426.6 L262.2 426.6 L264.3 426.5 L266.5 426.3 L268.7 426.2 L270.8 426.1 L273.0 426.0 L275.2 425.8 L277.3 425.7 L279.5 425.6 L281.7 425.6 L283.8 425.5 L286.0 425.4 L288.2 425.4 L290.3 425.4 L292.5 425.4 L294.7 425.4 L296.8 425.4 L299.0 425.4 L301.2 425.4 L303.3 425.4 L305.5 425.4 L307.7 425.4 L309.8 425.4 L312.0 425.4 L314.2 425.4 L316.4 425.4 L318.5 425.4 L320.7 425.4 L322.9 425.5 L325.0 425.5 L327.2 425.5 L329.4 425.5"/>
<path d="M242.6 429.7 L244.8 429.7 L247.0 429.7 L249.1 429.7 L251.3 429.7 L253.5 429.6 L255.6 429.6 L257.8 429.5 L260.0 429.4 L262.2 429.2 L264.3 429.1 L266.5 428.8 L268.7 428.6 L270.8 428.4 L273.0 428.2 L275.2 427.9 L277.3 427.7 L279.5 427.5 L281.7 427.3 L283.8 427.1 L286.0 426.9 L288.2 426.9 L290.3 426.9 L292.5 426.9 L294.7 426.9 L296.8 426.9 L299.0 426.9 L301.2 426.9 L303.3 426.9 L305.5 426.9 L307.7 426.9 L309.8 426.9 L312.0 426.9 L314.2 427.0 L316.4 427.0 L318.5 427.0 L320.7 427.0 L322.9 427.0 L325.0 427.0 L327.2 427.0 L329.4 427.0"/>
<path d="M242.6 430.2 L244.8 430.2 L247.0 430.2 L249.1 430.2 L251.3 430.2 L253.5 430.1 L255.6 430.1 L257.8 430.0 L260.0 430.0 L262.2 429.9 L264.3 429.8 L266.5 429.7 L268.7 429.6 L270.8 429.4 L273.0 429.3 L275.2 429.2 L277.3 429.1 L279.5 428.9 L281.7 428.8 L283.8 428.7 L286.0 428.6 L288.2 428.6 L290.3 428.6 L292.5 428.6 L294.7 428.5 L296.8 428.5 L299.0 428.5 L301.2 428.4 L303.3 428.4 L305.5 428.4 L307.7 428.4 L309.8 428.4 L312.0 428.3 L314.2 428.3 L316.4 428.3 L318.5 428.3 L320.7 428.3 L322.9 428.3 L325.0 428.3 L327.2 428.3 L329.4 428.3"/>
<path d="M242.6 436.2 L244.8 436.2 L247.0 436.1 L249.1 436.0 L251.3 435.8 L253.5 435.6 L255.6 435.3 L257.8 435.1 L260.0 434.8 L262.2 434.6 L264.3 434.3 L266.5 434.1 L268.7 433.8 L270.8 433.6 L273.0 433.3 L275.2 433.1 L277.3 432.9 L279.5 432.7 L281.7 432.5 L283.8 432.3 L286.0 432.1 L288.2 432.1 L290.3 432.1 L292.5 432.0 L294.7 432.0 L296.8 431.9 L299.0 431.8 L301.2 431.7 L303.3 431.7 L305.5 431.6 L307.7 431.5 L309.8 431.4 L312.0 431.3 L314.2 431.2 L316.4 431.1 L318.5 431.1 L320.7 431.0 L322.9 430.9 L325.0 430.9 L327.2 430.9 L329.4 430.9"/>
<path d="M242.6 437.5 L244.8 437.5 L247.0 437.5 L249.1 437.6 L251.3 437.6 L253.5 437.6 L255.6 437.6 L257.8 437.5 L260.0 437.5 L262.2 437.4 L264.3 437.2 L266.5 437.1 L268.7 437.0 L270.8 436.8 L273.0 436.6 L275.2 436.5 L277.3 436.3 L279.5 436.1 L281.7 436.0 L283.8 435.8 L286.0 435.7 L288.2 435.6 L290.3 435.6 L292.5 435.6 L294.7 435.6 L296.8 435.5 L299.0 435.5 L301.2 435.5 L303.3 435.5 L305.5 435.4 L307.7 435.4 L309.8 435.3 L312.0 435.3 L314.2 435.2 L316.4 435.2 L318.5 435.1 L320.7 435.1 L322.9 435.1 L325.0 435.0 L327.2 435.0 L329.4 435.0"/>
<path d="M242.6 438.9 L244.8 438.9 L247.0 438.9 L249.1 438.8 L251.3 438.8 L253.5 438.7 L255.6 438.6 L257.8 438.5 L260.0 438.3 L262.2 438.1 L264.3 437.9 L266.5 437.6 L268.7 437.3 L270.8 437.1 L273.0 436.8 L275.2 436.6 L277.3 436.5 L279.5 436.3 L281.7 436.2 L283.8 436.2 L286.0 436.1 L288.2 436.0 L290.3 435.9 L292.5 435.8 L294.7 435.7 L296.8 435.5 L299.0 435.3 L301.2 435.1 L303.3 434.9 L305.5 434.7 L307.7 434.5 L309.8 434.3 L312.0 434.1 L314.2 433.8 L316.4 433.6 L318.5 433.5 L320.7 433.3 L322.9 433.2 L325.0 433.1 L327.2 433.0 L329.4 433.0"/>
<path d="M242.6 440.0 L244.8 440.0 L247.0 440.0 L249.1 440.1 L251.3 440.1 L253.5 440.2 L255.6 440.3 L257.8 440.4 L260.0 440.4 L262.2 440.5 L264.3 440.6 L266.5 440.7 L268.7 440.8 L270.8 440.9 L273.0 440.9 L275.2 441.0 L277.3 441.0 L279.5 441.0 L281.7 441.1 L283.8 441.1 L286.0 441.1 L288.2 441.1 L290.3 441.1 L292.5 441.2 L294.7 441.2 L296.8 441.2 L299.0 441.2 L301.2 441.2 L303.3 441.2 L305.5 441.2 L307.7 441.1 L309.8 441.1 L312.0 441.0 L314.2 441.0 L316.4 440.9 L318.5 440.8 L320.7 440.8 L322.9 440.7 L325.0 440.7 L327.2 440.7 L329.4 440.7"/>
<path d="M242.6 446.0 L244.8 446.0 L247.0 445.9 L249.1 445.9 L251.3 445.8 L253.5 445.7 L255.6 445.6 L257.8 445.5 L260.0 445.3 L262.2 445.2 L264.3 445.1 L266.5 444.9 L268.7 444.8 L270.8 444.7 L273.0 444.6 L275.2 444.4 L277.3 444.3 L279.5 444.2 L281.7 444.1 L283.8 444.0 L286.0 443.9 L288.2 443.9 L290.3 443.8 L292.5 443.8 L294.7 443.7 L296.8 443.6 L299.0 443.6 L301.2 443.5 L303.3 443.4 L305.5 443.3 L307.7 443.2 L309.8 443.1 L312.0 443.0 L314.2 442.9 L316.4 442.8 L318.5 442.7 L320.7 442.6 L322.9 442.6 L325.0 442.5 L327.2 442.5 L329.4 442.5"/>
<path d="M242.6 447.5 L244.8 447.5 L247.0 447.6 L249.1 447.6 L251.3 447.7 L253.5 447.8 L255.6 448.0 L257.8 448.2 L260.0 448.4 L262.2 448.7 L264.3 449.0 L266.5 449.4 L268.7 449.8 L270.8 450.1 L273.0 450.5 L275.2 450.9 L277.3 451.3 L279.5 451.6 L281.7 452.0 L283.8 452.3 L286.0 452.7 L288.2 452.8 L290.3 452.8 L292.5 452.9 L294.7 453.0 L296.8 453.1 L299.0 453.2 L301.2 453.2 L303.3 453.3 L305.5 453.4 L307.7 453.5 L309.8 453.5 L312.0 453.6 L314.2 453.6 L316.4 453.7 L318.5 453.7 L320.7 453.7 L322.9 453.8 L325.0 453.8 L327.2 453.8 L329.4 453.8"/>
<path d="M242.6 448.7 L244.8 448.7 L247.0 448.7 L249.1 448.9 L251.3 449.0 L253.5 449.2 L255.6 449.4 L257.8 449.6 L260.0 449.9 L262.2 450.2 L264.3 450.5 L266.5 450.9 L268.7 451.2 L270.8 451.6 L273.0 451.9 L275.2 452.3 L277.3 452.7 L279.5 453.0 L281.7 453.4 L283.8 453.7 L286.0 454.1 L288.2 454.3 L290.3 454.6 L292.5 454.8 L294.7 455.0 L296.8 455.2 L299.0 455.4 L301.2 455.6 L303.3 455.8 L305.5 455.9 L307.7 456.1 L309.8 456.2 L312.0 456.3 L314.2 456.3 L316.4 456.4 L318.5 456.4 L320.7 456.4 L322.9 456.5 L325.0 456.5 L327.2 456.5 L329.4 456.5"/>
<path d="M242.6 459.7 L244.8 459.7 L247.0 459.7 L249.1 459.7 L251.3 459.7 L253.5 459.7 L255.6 459.7 L257.8 459.7 L260.0 459.7 L262.2 459.7 L264.3 459.7 L266.5 459.7 L268.7 459.7 L270.8 459.7 L273.0 459.7 L275.2 459.7 L277.3 459.8 L279.5 459.8 L281.7 459.8 L283.8 459.9 L286.0 459.9 L288.2 459.9 L290.3 459.8 L292.5 459.7 L294.7 459.6 L296.8 459.5 L299.0 459.5 L301.2 459.4 L303.3 459.3 L305.5 459.3 L307.7 459.2 L309.8 459.2 L312.0 459.1 L314.2 459.1 L316.4 459.1 L318.5 459.0 L320.7 459.0 L322.9 459.0 L325.0 459.0 L327.2 459.0 L329.4 459.0"/>
<path d="M242.6 461.7 L244.8 461.7 L247.0 461.7 L249.1 461.6 L251.3 461.6 L253.5 461.6 L255.6 461.6 L257.8 461.6 L260.0 461.7 L262.2 461.7 L264.3 461.7 L266.5 461.8 L268.7 461.8 L270.8 461.9 L273.0 462.0 L275.2 462.1 L277.3 462.1 L279.5 462.2 L281.7 462.3 L283.8 462.3 L286.0 462.4 L288.2 462.4 L290.3 462.3 L292.5 462.3 L294.7 462.2 L296.8 462.2 L299.0 462.1 L301.2 462.0 L303.3 462.0 L305.5 461.9 L307.7 461.8 L309.8 461.7 L312.0 461.7 L314.2 461.6 L316.4 461.5 L318.5 461.5 L320.7 461.4 L322.9 461.4 L325.0 461.4 L327.2 461.3 L329.4 461.3"/>
<path d="M242.6 463.1 L244.8 463.2 L247.0 463.2 L249.1 463.3 L251.3 463.4 L253.5 463.6 L255.6 463.8 L257.8 464.0 L260.0 464.3 L262.2 464.6 L264.3 465.0 L266.5 465.3 L268.7 465.7 L270.8 466.0 L273.0 466.3 L275.2 466.5 L277.3 466.8 L279.5 466.9 L281.7 467.0 L283.8 467.1 L286.0 467.2 L288.2 467.2 L290.3 467.3 L292.5 467.4 L294.7 467.5 L296.8 467.7 L299.0 467.8 L301.2 468.0 L303.3 468.1 L305.5 468.3 L307.7 468.5 L309.8 468.6 L312.0 468.8 L314.2 468.9 L316.4 469.1 L318.5 469.2 L320.7 469.3 L322.9 469.4 L325.0 469.5 L327.2 469.5 L329.4 469.5"/>
<path d="M242.6 467.7 L244.8 467.7 L247.0 467.7 L249.1 467.6 L251.3 467.6 L253.5 467.6 L255.6 467.6 L257.8 467.5 L260.0 467.5 L262.2 467.5 L264.3 467.4 L266.5 467.4 L268.7 467.3 L270.8 467.3 L273.0 467.3 L275.2 467.2 L277.3 467.2 L279.5 467.2 L281.7 467.2 L283.8 467.2 L286.0 467.2 L288.2 467.0 L290.3 466.7 L292.5 466.5 L294.7 466.3 L296.8 466.1 L299.0 465.8 L301.2 465.6 L303.3 465.4 L305.5 465.2 L307.7 464.9 L309.8 464.7 L312.0 464.5 L314.2 464.4 L316.4 464.2 L318.5 464.0 L320.7 463.9 L322.9 463.8 L325.0 463.7 L327.2 463.7 L329.4 463.7"/>
<path d="M242.6 469.8 L244.8 469.8 L247.0 469.8 L249.1 469.8 L251.3 469.8 L253.5 469.8 L255.6 469.8 L257.8 469.9 L260.0 469.9 L262.2 470.0 L264.3 470.1 L266.5 470.3 L268.7 470.4 L270.8 470.5 L273.0 470.6 L275.2 470.8 L277.3 470.9 L279.5 471.0 L281.7 471.1 L283.8 471.2 L286.0 471.3 L288.2 471.3 L290.3 471.3 L292.5 471.3 L294.7 471.3 L296.8 471.3 L299.0 471.3 L301.2 471.4 L303.3 471.4 L305.5 471.4 L307.7 471.5 L309.8 471.5 L312.0 471.5 L314.2 471.6 L316.4 471.6 L318.5 471.6 L320.7 471.6 L322.9 471.6 L325.0 471.7 L327.2 471.7 L329.4 471.7"/>
<path d="M286.0 403.2 L288.2 403.2 L290.3 403.1 L292.5 403.1 L294.7 403.0 L296.8 402.9 L299.0 402.8 L301.2 402.7 L303.3 402.6 L305.5 402.4 L307.7 402.3 L309.8 402.2 L312.0 402.1 L314.2 401.9 L316.4 401.8 L318.5 401.7 L320.7 401.6 L322.9 401.6 L325.0 401.5 L327.2 401.5 L329.4 401.5"/>
<path d="M286.0 410.8 L288.2 410.8 L290.3 410.8 L292.5 410.8 L294.7 410.8 L296.8 410.7 L299.0 410.7 L301.2 410.7 L303.3 410.6 L305.5 410.6 L307.7 410.5 L309.8 410.4 L312.0 410.4 L314.2 410.3 L316.4 410.3 L318.5 410.2 L320.7 410.2 L322.9 410.2 L325.0 410.2 L327.2 410.1 L329.4 410.1"/>
<path d="M286.0 416.4 L288.2 416.5 L290.3 416.6 L292.5 416.7 L294.7 416.8 L296.8 417.0 L299.0 417.1 L301.2 417.3 L303.3 417.4 L305.5 417.6 L307.7 417.7 L309.8 417.9 L312.0 418.0 L314.2 418.2 L316.4 418.3 L318.5 418.4 L320.7 418.5 L322.9 418.6 L325.0 418.6 L327.2 418.7 L329.4 418.7"/>
<path d="M286.0 425.5 L288.2 425.5 L290.3 425.5 L292.5 425.5 L294.7 425.5 L296.8 425.6 L299.0 425.6 L301.2 425.6 L303.3 425.7 L305.5 425.7 L307.7 425.7 L309.8 425.8 L312.0 425.8 L314.2 425.9 L316.4 425.9 L318.5 425.9 L320.7 425.9 L322.9 426.0 L325.0 426.0 L327.2 426.0 L329.4 426.0"/>
<path d="M286.0 444.5 L288.2 444.5 L290.3 444.4 L292.5 444.4 L294.7 444.5 L296.8 444.5 L299.0 444.5 L301.2 444.5 L303.3 444.6 L305.5 444.6 L307.7 444.7 L309.8 444.7 L312.0 444.8 L314.2 444.8 L316.4 444.9 L318.5 444.9 L320.7 444.9 L322.9 445.0 L325.0 445.0 L327.2 445.0 L329.4 445.0"/>
<path d="M286.0 444.5 L288.2 444.6 L290.3 444.7 L292.5 444.8 L294.7 445.0 L296.8 445.2 L299.0 445.4 L301.2 445.7 L303.3 445.9 L305.5 446.2 L307.7 446.4 L309.8 446.7 L312.0 446.9 L314.2 447.1 L316.4 447.3 L318.5 447.5 L320.7 447.7 L322.9 447.8 L325.0 447.9 L327.2 448.0 L329.4 448.0"/>
<path d="M286.0 452.4 L288.2 452.3 L290.3 452.3 L292.5 452.2 L294.7 452.1 L296.8 451.9 L299.0 451.8 L301.2 451.7 L303.3 451.6 L305.5 451.4 L307.7 451.3 L309.8 451.2 L312.0 451.1 L314.2 451.0 L316.4 450.9 L318.5 450.9 L320.7 450.8 L322.9 450.7 L325.0 450.7 L327.2 450.7 L329.4 450.7"/>
<path d="M329.4 398.8 L331.5 398.8 L333.7 398.8 L335.9 398.8 L338.0 398.8 L340.2 398.8 L342.4 398.8 L344.5 398.8 L346.7 398.8 L348.9 398.8 L351.0 398.8 L353.2 398.8 L355.4 398.8 L357.5 398.8 L359.7 398.7 L361.9 398.7 L364.0 398.7 L366.2 398.7 L368.4 398.7 L370.6 398.7 L372.7 398.7 L374.9 398.7 L377.1 398.7 L379.2 398.7 L381.4 398.6 L383.6 398.6 L385.7 398.6 L387.9 398.5 L390.1 398.5 L392.2 398.5 L394.4 398.4 L396.6 398.4 L398.7 398.3 L400.9 398.3 L403.1 398.2 L405.2 398.1 L407.4 398.1 L409.6 398.1 L411.7 398.0 L413.9 398.0 L416.1 398.0"/>
<path d="M329.4 400.5 L331.5 400.5 L333.7 400.5 L335.9 400.5 L338.0 400.5 L340.2 400.5 L342.4 400.5 L344.5 400.5 L346.7 400.5 L348.9 400.5 L351.0 400.5 L353.2 400.5 L355.4 400.5 L357.5 400.5 L359.7 400.4 L361.9 400.4 L364.0 400.4 L366.2 400.4 L368.4 400.4 L370.6 400.5 L372.7 400.5 L374.9 400.5 L377.1 400.5 L379.2 400.4 L381.4 400.4 L383.6 400.4 L385.7 400.4 L387.9 400.3 L390.1 400.3 L392.2 400.3 L394.4 400.2 L396.6 400.1 L398.7 400.1 L400.9 400.0 L403.1 399.9 L405.2 399.9 L407.4 399.8 L409.6 399.7 L411.7 399.7 L413.9 399.7 L416.1 399.7"/>
<path d="M329.4 404.8 L331.5 404.8 L333.7 404.8 L335.9 404.8 L338.0 404.8 L340.2 404.8 L342.4 404.8 L344.5 404.8 L346.7 404.8 L348.9 404.8 L351.0 404.8 L353.2 404.8 L355.4 404.8 L357.5 404.8 L359.7 404.8 L361.9 404.8 L364.0 404.8 L366.2 404.8 L368.4 404.8 L370.6 404.8 L372.7 404.7 L374.9 404.7 L377.1 404.7 L379.2 404.6 L381.4 404.6 L383.6 404.5 L385.7 404.5 L387.9 404.5 L390.1 404.4 L392.2 404.4 L394.4 404.4 L396.6 404.3 L398.7 404.3 L400.9 404.2 L403.1 404.2 L405.2 404.1 L407.4 404.1 L409.6 404.0 L411.7 404.0 L413.9 404.0 L416.1 404.0"/>
<path d="M329.4 406.3 L331.5 406.3 L333.7 406.3 L335.9 406.4 L338.0 406.4 L340.2 406.4 L342.4 406.4 L344.5 406.5 L346.7 406.5 L348.9 406.5 L351.0 406.5 L353.2 406.5 L355.4 406.5 L357.5 406.5 L359.7 406.5 L361.9 406.5 L364.0 406.5 L366.2 406.4 L368.4 406.4 L370.6 406.4 L372.7 406.3 L374.9 406.3 L377.1 406.3 L379.2 406.3 L381.4 406.3 L383.6 406.3 L385.7 406.3 L387.9 406.3 L390.1 406.3 L392.2 406.3 L394.4 406.3 L396.6 406.3 L398.7 406.3 L400.9 406.3 L403.1 406.3 L405.2 406.3 L407.4 406.3 L409.6 406.3 L411.7 406.3 L413.9 406.3 L416.1 406.3"/>
<path d="M329.4 408.5 L331.5 408.5 L333.7 408.5 L335.9 408.5 L338.0 408.5 L340.2 408.5 L342.4 408.5 L344.5 408.5 L346.7 408.5 L348.9 408.5 L351.0 408.5 L353.2 408.4 L355.4 408.4 L357.5 408.4 L359.7 408.4 L361.9 408.3 L364.0 408.3 L366.2 408.3 L368.4 408.2 L370.6 408.2 L372.7 408.2 L374.9 408.2 L377.1 408.1 L379.2 408.1 L381.4 408.1 L383.6 408.1 L385.7 408.1 L387.9 408.1 L390.1 408.1 L392.2 408.1 L394.4 408.1 L396.6 408.1 L398.7 408.1 L400.9 408.1 L403.1 408.1 L405.2 408.1 L407.4 408.1 L409.6 408.1 L411.7 408.1 L413.9 408.1 L416.1 408.1"/>
<path d="M329.4 410.1 L331.5 410.1 L333.7 410.1 L335.9 410.2 L338.0 410.2 L340.2 410.2 L342.4 410.2 L344.5 410.2 L346.7 410.2 L348.9 410.3 L351.0 410.3 L353.2 410.3 L355.4 410.3 L357.5 410.3 L359.7 410.3 L361.9 410.3 L364.0 410.3 L366.2 410.3 L368.4 410.2 L370.6 410.2 L372.7 410.2 L374.9 410.2 L377.1 410.2 L379.2 410.2 L381.4 410.2 L383.6 410.2 L385.7 410.2 L387.9 410.2 L390.1 410.2 L392.2 410.2 L394.4 410.2 L396.6 410.2 L398.7 410.2 L400.9 410.2 L403.1 410.2 L405.2 410.3 L407.4 410.3 L409.6 410.3 L411.7 410.3 L413.9 410.3 L416.1 410.3"/>
<path d="M329.4 412.3 L331.5 412.3 L333.7 412.3 L335.9 412.3 L338.0 412.2 L340.2 412.2 L342.4 412.1 L344.5 412.1 L346.7 412.0 L348.9 412.0 L351.0 412.0 L353.2 411.9 L355.4 411.9 L357.5 411.9 L359.7 412.0 L361.9 412.0 L364.0 412.1 L366.2 412.1 L368.4 412.2 L370.6 412.3 L372.7 412.3 L374.9 412.3 L377.1 412.3 L379.2 412.3 L381.4 412.3 L383.6 412.2 L385.7 412.2 L387.9 412.1 L390.1 412.1 L392.2 412.0 L394.4 411.9 L396.6 411.8 L398.7 411.7 L400.9 411.6 L403.1 411.5 L405.2 411.3 L407.4 411.2 L409.6 411.1 L411.7 411.1 L413.9 411.0 L416.1 411.0"/>
<path d="M329.4 413.9 L331.5 413.9 L333.7 413.9 L335.9 413.9 L338.0 414.0 L340.2 414.0 L342.4 414.1 L344.5 414.2 L346.7 414.2 L348.9 414.3 L351.0 414.3 L353.2 414.4 L355.4 414.4 L357.5 414.4 L359.7 414.5 L361.9 414.5 L364.0 414.5 L366.2 414.4 L368.4 414.4 L370.6 414.4 L372.7 414.3 L374.9 414.3 L377.1 414.3 L379.2 414.3 L381.4 414.3 L383.6 414.3 L385.7 414.3 L387.9 414.3 L390.1 414.2 L392.2 414.2 L394.4 414.1 L396.6 414.1 L398.7 414.0 L400.9 413.9 L403.1 413.9 L405.2 413.8 L407.4 413.8 L409.6 413.7 L411.7 413.7 L413.9 413.7 L416.1 413.7"/>
<path d="M329.4 415.9 L331.5 415.9 L333.7 415.9 L335.9 415.9 L338.0 415.9 L340.2 416.0 L342.4 416.0 L344.5 416.0 L346.7 416.1 L348.9 416.1 L351.0 416.2 L353.2 416.2 L355.4 416.2 L357.5 416.3 L359.7 416.3 L361.9 416.3 L364.0 416.3 L366.2 416.3 L368.4 416.3 L370.6 416.3 L372.7 416.3 L374.9 416.3 L377.1 416.3 L379.2 416.3 L381.4 416.3 L383.6 416.3 L385.7 416.2 L387.9 416.2 L390.1 416.1 L392.2 416.0 L394.4 415.9 L396.6 415.8 L398.7 415.7 L400.9 415.5 L403.1 415.4 L405.2 415.3 L407.4 415.2 L409.6 415.1 L411.7 415.1 L413.9 415.0 L416.1 415.0"/>
<path d="M329.4 417.3 L331.5 417.3 L333.7 417.3 L335.9 417.3 L338.0 417.3 L340.2 417.3 L342.4 417.3 L344.5 417.2 L346.7 417.2 L348.9 417.2 L351.0 417.1 L353.2 417.1 L355.4 417.0 L357.5 417.0 L359.7 416.9 L361.9 416.9 L364.0 416.8 L366.2 416.8 L368.4 416.7 L370.6 416.7 L372.7 416.7"/>
<path d="M329.4 419.5 L331.5 419.5 L333.7 419.4 L335.9 419.4 L338.0 419.4 L340.2 419.3 L342.4 419.3 L344.5 419.2 L346.7 419.2 L348.9 419.1 L351.0 419.1 L353.2 419.0 L355.4 419.0 L357.5 419.0 L359.7 419.0 L361.9 419.0 L364.0 419.0 L366.2 419.0 L368.4 419.1 L370.6 419.1 L372.7 419.2 L374.9 419.2 L377.1 419.2 L379.2 419.3 L381.4 419.3 L383.6 419.4 L385.7 419.4 L387.9 419.5 L390.1 419.7 L392.2 419.8 L394.4 420.0 L396.6 420.2 L398.7 420.4 L400.9 420.6 L403.1 420.8 L405.2 420.9 L407.4 421.1 L409.6 421.2 L411.7 421.3 L413.9 421.3 L416.1 421.3"/>
<path d="M329.4 420.8 L331.5 420.8 L333.7 420.8 L335.9 420.8 L338.0 420.8 L340.2 420.8 L342.4 420.8 L344.5 420.8 L346.7 420.8 L348.9 420.8 L351.0 420.8 L353.2 420.8 L355.4 420.8 L357.5 420.8 L359.7 420.8 L361.9 420.9 L364.0 420.9 L366.2 420.9 L368.4 420.9 L370.6 421.0 L372.7 421.0 L374.9 421.0 L377.1 421.1 L379.2 421.1 L381.4 421.2 L383.6 421.2 L385.7 421.3 L387.9 421.4 L390.1 421.6 L392.2 421.7 L394.4 421.9 L396.6 422.1 L398.7 422.3 L400.9 422.5 L403.1 422.7 L405.2 422.9 L407.4 423.0 L409.6 423.2 L411.7 423.3 L413.9 423.3 L416.1 423.3"/>
<path d="M329.4 424.3 L331.5 424.3 L333.7 424.3 L335.9 424.3 L338.0 424.2 L340.2 424.2 L342.4 424.1 L344.5 424.0 L346.7 424.0 L348.9 423.9 L351.0 423.8 L353.2 423.7 L355.4 423.6 L357.5 423.6 L359.7 423.5 L361.9 423.4 L364.0 423.4 L366.2 423.3 L368.4 423.3 L370.6 423.2 L372.7 423.2 L374.9 423.2 L377.1 423.2 L379.2 423.3 L381.4 423.3 L383.6 423.3 L385.7 423.3 L387.9 423.4 L390.1 423.4 L392.2 423.4 L394.4 423.5 L396.6 423.5 L398.7 423.6 L400.9 423.7 L403.1 423.8 L405.2 423.9 L407.4 424.0 L409.6 424.0 L411.7 424.1 L413.9 424.1 L416.1 424.1"/>
<path d="M329.4 426.7 L331.5 426.7 L333.7 426.7 L335.9 426.7 L338.0 426.6 L340.2 426.6 L342.4 426.6 L344.5 426.6 L346.7 426.6 L348.9 426.6 L351.0 426.6 L353.2 426.7 L355.4 426.7 L357.5 426.7 L359.7 426.7 L361.9 426.8 L364.0 426.8 L366.2 426.9 L368.4 426.9 L370.6 427.0 L372.7 427.0 L374.9 427.0 L377.1 427.0 L379.2 427.0 L381.4 426.9 L383.6 426.9 L385.7 426.9 L387.9 426.9 L390.1 426.9 L392.2 426.9 L394.4 427.0 L396.6 427.0 L398.7 427.0 L400.9 427.1 L403.1 427.1 L405.2 427.2 L407.4 427.2 L409.6 427.3 L411.7 427.3 L413.9 427.3 L416.1 427.3"/>
<path d="M329.4 425.7 L331.5 425.7 L333.7 425.7 L335.9 425.7 L338.0 425.7 L340.2 425.7 L342.4 425.7 L344.5 425.7 L346.7 425.7 L348.9 425.7 L351.0 425.7 L353.2 425.6 L355.4 425.6 L357.5 425.6 L359.7 425.5 L361.9 425.5 L364.0 425.4 L366.2 425.4 L368.4 425.3 L370.6 425.2 L372.7 425.2 L374.9 425.2 L377.1 425.1 L379.2 425.1 L381.4 425.1 L383.6 425.1 L385.7 425.1 L387.9 425.1 L390.1 425.2 L392.2 425.2 L394.4 425.2 L396.6 425.3 L398.7 425.3 L400.9 425.4 L403.1 425.4 L405.2 425.5 L407.4 425.5 L409.6 425.6 L411.7 425.6 L413.9 425.7 L416.1 425.7"/>
<path d="M329.4 427.7 L331.5 427.7 L333.7 427.7 L335.9 427.7 L338.0 427.7 L340.2 427.7 L342.4 427.8 L344.5 427.8 L346.7 427.9 L348.9 427.9 L351.0 428.0 L353.2 428.1 L355.4 428.1 L357.5 428.2 L359.7 428.3 L361.9 428.4 L364.0 428.5 L366.2 428.7 L368.4 428.8 L370.6 428.9 L372.7 429.0 L374.9 429.0 L377.1 429.0 L379.2 429.0 L381.4 428.9 L383.6 428.9 L385.7 428.9 L387.9 428.8 L390.1 428.7 L392.2 428.6 L394.4 428.5 L396.6 428.3 L398.7 428.1 L400.9 427.9 L403.1 427.6 L405.2 427.4 L407.4 427.2 L409.6 427.0 L411.7 426.8 L413.9 426.7 L416.1 426.7"/>
<path d="M329.4 429.7 L331.5 429.7 L333.7 429.6 L335.9 429.6 L338.0 429.6 L340.2 429.5 L342.4 429.5 L344.5 429.5 L346.7 429.6 L348.9 429.7 L351.0 429.8 L353.2 430.0 L355.4 430.3 L357.5 430.6 L359.7 431.0 L361.9 431.5 L364.0 431.9 L366.2 432.4 L368.4 432.9 L370.6 433.5 L372.7 434.0 L374.9 434.0 L377.1 434.1 L379.2 434.1 L381.4 434.2 L383.6 434.3 L385.7 434.3 L387.9 434.4 L390.1 434.5 L392.2 434.5 L394.4 434.6 L396.6 434.7 L398.7 434.7 L400.9 434.8 L403.1 434.8 L405.2 434.9 L407.4 434.9 L409.6 435.0 L411.7 435.0 L413.9 435.0 L416.1 435.0"/>
<path d="M329.4 432.3 L331.5 432.3 L333.7 432.3 L335.9 432.4 L338.0 432.4 L340.2 432.4 L342.4 432.5 L344.5 432.6 L346.7 432.7 L348.9 432.8 L351.0 433.0 L353.2 433.2 L355.4 433.4 L357.5 433.7 L359.7 434.0 L361.9 434.3 L364.0 434.6 L366.2 434.9 L368.4 435.2 L370.6 435.6 L372.7 435.9 L374.9 436.0 L377.1 436.0 L379.2 436.0 L381.4 436.1 L383.6 436.1 L385.7 436.2 L387.9 436.2 L390.1 436.3 L392.2 436.3 L394.4 436.4 L396.6 436.5 L398.7 436.6 L400.9 436.6 L403.1 436.7 L405.2 436.8 L407.4 436.9 L409.6 436.9 L411.7 437.0 L413.9 437.0 L416.1 437.0"/>
<path d="M329.4 434.3 L331.5 434.3 L333.7 434.3 L335.9 434.3 L338.0 434.3 L340.2 434.3 L342.4 434.4 L344.5 434.4 L346.7 434.5 L348.9 434.6 L351.0 434.8 L353.2 435.0 L355.4 435.2 L357.5 435.5 L359.7 435.8 L361.9 436.2 L364.0 436.6 L366.2 437.0 L368.4 437.4 L370.6 437.8 L372.7 438.3 L374.9 438.3 L377.1 438.3 L379.2 438.3 L381.4 438.3 L383.6 438.4 L385.7 438.4 L387.9 438.4 L390.1 438.5 L392.2 438.5 L394.4 438.6 L396.6 438.6 L398.7 438.7 L400.9 438.8 L403.1 438.9 L405.2 438.9 L407.4 439.0 L409.6 439.0 L411.7 439.1 L413.9 439.1 L416.1 439.1"/>
<path d="M329.4 440.0 L331.5 440.0 L333.7 440.0 L335.9 440.0 L338.0 440.0 L340.2 440.0 L342.4 440.0 L344.5 440.0 L346.7 439.9 L348.9 439.9 L351.0 439.9 L353.2 440.0 L355.4 440.0 L357.5 440.0 L359.7 440.0 L361.9 440.1 L364.0 440.1 L366.2 440.1 L368.4 440.2 L370.6 440.2 L372.7 440.3 L374.9 440.3 L377.1 440.3 L379.2 440.4 L381.4 440.4 L383.6 440.5 L385.7 440.5 L387.9 440.5 L390.1 440.6 L392.2 440.6 L394.4 440.6 L396.6 440.7 L398.7 440.7 L400.9 440.8 L403.1 440.8 L405.2 440.9 L407.4 440.9 L409.6 441.0 L411.7 441.0 L413.9 441.0 L416.1 441.0"/>
<path d="M329.4 442.5 L331.5 442.5 L333.7 442.5 L335.9 442.5 L338.0 442.4 L340.2 442.4 L342.4 442.4 L344.5 442.4 L346.7 442.4 L348.9 442.4 L351.0 442.4 L353.2 442.4 L355.4 442.4 L357.5 442.4 L359.7 442.4 L361.9 442.4 L364.0 442.5 L366.2 442.5 L368.4 442.5 L370.6 442.5 L372.7 442.6 L374.9 442.8 L377.1 443.1 L379.2 443.3 L381.4 443.5 L383.6 443.8 L385.7 444.0 L387.9 444.2 L390.1 444.4 L392.2 444.6 L394.4 444.8 L396.6 444.9 L398.7 445.1 L400.9 445.2 L403.1 445.3 L405.2 445.4 L407.4 445.5 L409.6 445.6 L411.7 445.6 L413.9 445.7 L416.1 445.7"/>
<path d="M329.4 445.3 L331.5 445.3 L333.7 445.3 L335.9 445.3 L338.0 445.3 L340.2 445.3 L342.4 445.3 L344.5 445.3 L346.7 445.2 L348.9 445.2 L351.0 445.2 L353.2 445.1 L355.4 445.1 L357.5 445.0 L359.7 445.0 L361.9 444.9 L364.0 444.9 L366.2 444.8 L368.4 444.8 L370.6 444.7 L372.7 444.7 L374.9 444.9 L377.1 445.2 L379.2 445.5 L381.4 445.7 L383.6 445.9 L385.7 446.2 L387.9 446.4 L390.1 446.6 L392.2 446.7 L394.4 446.9 L396.6 447.0 L398.7 447.2 L400.9 447.3 L403.1 447.4 L405.2 447.5 L407.4 447.5 L409.6 447.6 L411.7 447.6 L413.9 447.7 L416.1 447.7"/>
<path d="M329.4 448.3 L331.5 448.3 L333.7 448.3 L335.9 448.3 L338.0 448.3 L340.2 448.2 L342.4 448.2 L344.5 448.2 L346.7 448.2 L348.9 448.1 L351.0 448.1 L353.2 448.1 L355.4 448.1 L357.5 448.1 L359.7 448.1 L361.9 448.1 L364.0 448.1 L366.2 448.1 L368.4 448.1 L370.6 448.2 L372.7 448.2 L374.9 448.3 L377.1 448.4 L379.2 448.5 L381.4 448.6 L383.6 448.7 L385.7 448.9 L387.9 449.0 L390.1 449.2 L392.2 449.4 L394.4 449.7 L396.6 449.9 L398.7 450.2 L400.9 450.4 L403.1 450.6 L405.2 450.8 L407.4 451.0 L409.6 451.1 L411.7 451.2 L413.9 451.3 L416.1 451.3"/>
<path d="M329.4 450.0 L331.5 450.0 L333.7 450.0 L335.9 450.1 L338.0 450.1 L340.2 450.2 L342.4 450.2 L344.5 450.3 L346.7 450.4 L348.9 450.5 L351.0 450.6 L353.2 450.7 L355.4 450.8 L357.5 450.9 L359.7 451.0 L361.9 451.1 L364.0 451.2 L366.2 451.3 L368.4 451.4 L370.6 451.5 L372.7 451.5 L374.9 451.6 L377.1 451.7 L379.2 451.9 L381.4 452.1 L383.6 452.3 L385.7 452.6 L387.9 453.0 L390.1 453.4 L392.2 453.9 L394.4 454.4 L396.6 455.0 L398.7 455.5 L400.9 456.1 L403.1 456.6 L405.2 457.1 L407.4 457.5 L409.6 457.9 L411.7 458.1 L413.9 458.3 L416.1 458.3"/>
<path d="M329.4 454.0 L331.5 454.0 L333.7 454.0 L335.9 454.0 L338.0 454.1 L340.2 454.1 L342.4 454.2 L344.5 454.2 L346.7 454.3 L348.9 454.3 L351.0 454.4 L353.2 454.4 L355.4 454.5 L357.5 454.5 L359.7 454.6 L361.9 454.6 L364.0 454.6 L366.2 454.7 L368.4 454.7 L370.6 454.7 L372.7 454.7 L374.9 454.8 L377.1 454.9 L379.2 455.0 L381.4 455.2 L383.6 455.4 L385.7 455.6 L387.9 455.8 L390.1 456.1 L392.2 456.4 L394.4 456.8 L396.6 457.2 L398.7 457.6 L400.9 458.1 L403.1 458.5 L405.2 459.0 L407.4 459.4 L409.6 459.8 L411.7 460.1 L413.9 460.3 L416.1 460.3"/>
<path d="M329.4 456.0 L331.5 456.0 L333.7 456.0 L335.9 456.1 L338.0 456.1 L340.2 456.2 L342.4 456.3 L344.5 456.4 L346.7 456.5 L348.9 456.6 L351.0 456.7 L353.2 456.8 L355.4 456.9 L357.5 457.0 L359.7 457.0 L361.9 457.1 L364.0 457.2 L366.2 457.2 L368.4 457.3 L370.6 457.3 L372.7 457.3 L374.9 457.4 L377.1 457.5 L379.2 457.7 L381.4 457.8 L383.6 458.0 L385.7 458.2 L387.9 458.4 L390.1 458.7 L392.2 459.0 L394.4 459.3 L396.6 459.6 L398.7 460.0 L400.9 460.4 L403.1 460.7 L405.2 461.1 L407.4 461.5 L409.6 461.8 L411.7 462.1 L413.9 462.3 L416.1 462.3"/>
<path d="M329.4 459.0 L331.5 459.0 L333.7 459.0 L335.9 459.1 L338.0 459.1 L340.2 459.1 L342.4 459.2 L344.5 459.3 L346.7 459.3 L348.9 459.4 L351.0 459.4 L353.2 459.5 L355.4 459.6 L357.5 459.6 L359.7 459.7 L361.9 459.8 L364.0 459.8 L366.2 459.9 L368.4 459.9 L370.6 460.0 L372.7 460.0 L374.9 460.1 L377.1 460.2 L379.2 460.3 L381.4 460.4 L383.6 460.6 L385.7 460.7 L387.9 460.9 L390.1 461.1 L392.2 461.4 L394.4 461.6 L396.6 461.9 L398.7 462.2 L400.9 462.6 L403.1 462.9 L405.2 463.2 L407.4 463.6 L409.6 463.9 L411.7 464.1 L413.9 464.3 L416.1 464.3"/>
<path d="M329.4 461.3 L331.5 461.3 L333.7 461.4 L335.9 461.4 L338.0 461.4 L340.2 461.4 L342.4 461.5 L344.5 461.5 L346.7 461.6 L348.9 461.6 L351.0 461.7 L353.2 461.7 L355.4 461.8 L357.5 461.8 L359.7 461.8 L361.9 461.9 L364.0 461.9 L366.2 461.9 L368.4 462.0 L370.6 462.0 L372.7 462.0 L374.9 462.1 L377.1 462.2 L379.2 462.3 L381.4 462.4 L383.6 462.5 L385.7 462.6 L387.9 462.7 L390.1 462.8 L392.2 462.9 L394.4 463.0 L396.6 463.1 L398.7 463.3 L400.9 463.4 L403.1 463.6 L405.2 463.8 L407.4 464.0 L409.6 464.2 L411.7 464.3 L413.9 464.4 L416.1 464.5"/>
<path d="M329.4 463.3 L331.5 463.3 L333.7 463.3 L335.9 463.4 L338.0 463.4 L340.2 463.4 L342.4 463.5 L344.5 463.5 L346.7 463.6 L348.9 463.8 L351.0 463.9 L353.2 464.1 L355.4 464.3 L357.5 464.6 L359.7 464.9 L361.9 465.2 L364.0 465.5 L366.2 465.8 L368.4 466.2 L370.6 466.5 L372.7 466.9 L374.9 466.9 L377.1 467.0 L379.2 467.0 L381.4 467.1 L383.6 467.2 L385.7 467.3 L387.9 467.4 L390.1 467.5 L392.2 467.7 L394.4 467.8 L396.6 468.0 L398.7 468.2 L400.9 468.4 L403.1 468.6 L405.2 468.8 L407.4 469.0 L409.6 469.1 L411.7 469.2 L413.9 469.3 L416.1 469.3"/>
<path d="M329.4 469.3 L331.5 469.3 L333.7 469.3 L335.9 469.3 L338.0 469.4 L340.2 469.4 L342.4 469.4 L344.5 469.4 L346.7 469.4 L348.9 469.4 L351.0 469.4 L353.2 469.4 L355.4 469.4 L357.5 469.5 L359.7 469.5 L361.9 469.5 L364.0 469.5 L366.2 469.5 L368.4 469.5 L370.6 469.5 L372.7 469.5 L374.9 469.5 L377.1 469.6 L379.2 469.6 L381.4 469.6 L383.6 469.7 L385.7 469.8 L387.9 469.8 L390.1 469.9 L392.2 470.0 L394.4 470.1 L396.6 470.3 L398.7 470.4 L400.9 470.6 L403.1 470.7 L405.2 470.9 L407.4 471.0 L409.6 471.1 L411.7 471.2 L413.9 471.3 L416.1 471.3"/>
<path d="M329.4 471.7 L331.5 471.7 L333.7 471.7 L335.9 471.7 L338.0 471.7 L340.2 471.7 L342.4 471.7 L344.5 471.7 L346.7 471.7 L348.9 471.7 L351.0 471.7 L353.2 471.7 L355.4 471.7 L357.5 471.7 L359.7 471.7 L361.9 471.7 L364.0 471.7 L366.2 471.7 L368.4 471.7 L370.6 471.7 L372.7 471.7 L374.9 471.7 L377.1 471.7 L379.2 471.7 L381.4 471.8 L383.6 471.8 L385.7 471.8 L387.9 471.8 L390.1 471.9 L392.2 471.9 L394.4 472.0 L396.6 472.0 L398.7 472.0 L400.9 472.1 L403.1 472.1 L405.2 472.2 L407.4 472.2 L409.6 472.3 L411.7 472.3 L413.9 472.3 L416.1 472.3"/>
<path d="M372.7 425.0 L374.9 425.0 L377.1 424.9 L379.2 424.9 L381.4 424.9 L383.6 424.9 L385.7 424.9 L387.9 424.9 L390.1 425.0 L392.2 425.0 L394.4 425.1 L396.6 425.2 L398.7 425.3 L400.9 425.4 L403.1 425.5 L405.2 425.6 L407.4 425.8 L409.6 425.9 L411.7 425.9 L413.9 426.0 L416.1 426.0"/>
<path d="M372.7 428.9 L374.9 428.9 L377.1 428.9 L379.2 429.0 L381.4 429.1 L383.6 429.1 L385.7 429.3 L387.9 429.4 L390.1 429.5 L392.2 429.6 L394.4 429.8 L396.6 429.9 L398.7 430.0 L400.9 430.2 L403.1 430.3 L405.2 430.4 L407.4 430.5 L409.6 430.6 L411.7 430.6 L413.9 430.7 L416.1 430.7"/>
<path d="M372.7 445.0 L374.9 445.2 L377.1 445.5 L379.2 445.7 L381.4 446.0 L383.6 446.3 L385.7 446.6 L387.9 446.8 L390.1 447.1 L392.2 447.4 L394.4 447.7 L396.6 448.0 L398.7 448.3 L400.9 448.6 L403.1 448.8 L405.2 449.1 L407.4 449.3 L409.6 449.4 L411.7 449.6 L413.9 449.6 L416.1 449.7"/>
<path d="M416.1 398.0 L418.2 398.0 L420.3 398.0 L422.5 398.1 L424.6 398.1 L426.7 398.1 L428.8 398.2 L430.9 398.3 L433.1 398.3 L435.2 398.4 L437.3 398.5 L439.4 398.5 L441.6 398.6 L443.7 398.7 L445.8 398.8 L447.9 398.9 L450.1 399.0 L452.2 399.1 L454.3 399.1 L456.4 399.2 L458.6 399.3 L460.7 399.4 L462.8 399.5 L464.9 399.6 L467.1 399.7 L469.2 399.8 L471.3 400.0 L473.4 400.1 L475.6 400.3 L477.7 400.4 L479.8 400.5 L481.9 400.7 L484.1 400.8 L486.2 401.0 L488.3 401.1 L490.4 401.3 L492.6 401.4 L494.7 401.6 L496.8 401.7 L498.9 401.9 L501.0 402.1 L503.2 402.2 L505.3 402.3 L507.4 402.5 L509.5 402.6 L511.7 402.7 L513.8 402.8 L515.9 402.9 L518.0 403.0 L520.2 403.0 L522.3 403.0"/>
<path d="M416.1 399.7 L418.2 399.7 L420.3 399.7 L422.5 399.7 L424.6 399.7 L426.7 399.8 L428.8 399.8 L430.9 399.8 L433.1 399.9 L435.2 399.9 L437.3 400.0 L439.4 400.1 L441.6 400.1 L443.7 400.2 L445.8 400.3 L447.9 400.4 L450.1 400.5 L452.2 400.6 L454.3 400.7 L456.4 400.8 L458.6 400.9 L460.7 401.0 L462.8 401.1 L464.9 401.2 L467.1 401.3 L469.2 401.4 L471.3 401.5 L473.4 401.5 L475.6 401.6 L477.7 401.6 L479.8 401.7 L481.9 401.7 L484.1 401.8 L486.2 401.9 L488.3 402.0 L490.4 402.1 L492.6 402.2 L494.7 402.3 L496.8 402.4 L498.9 402.5 L501.0 402.6 L503.2 402.8 L505.3 402.9 L507.4 403.0 L509.5 403.1 L511.7 403.2 L513.8 403.3 L515.9 403.4 L518.0 403.4 L520.2 403.5 L522.3 403.5"/>
<path d="M416.1 404.1 L418.2 404.1 L420.3 404.1 L422.5 404.1 L424.6 404.1 L426.7 404.1 L428.8 404.1 L430.9 404.1 L433.1 404.1 L435.2 404.2 L437.3 404.2 L439.4 404.2 L441.6 404.2 L443.7 404.3 L445.8 404.3 L447.9 404.3 L450.1 404.4 L452.2 404.5 L454.3 404.5 L456.4 404.6 L458.6 404.7 L460.7 404.7 L462.8 404.8 L464.9 404.9 L467.1 405.0 L469.2 405.1 L471.3 405.1 L473.4 405.2 L475.6 405.3 L477.7 405.3 L479.8 405.4 L481.9 405.5 L484.1 405.5 L486.2 405.6 L488.3 405.7 L490.4 405.7 L492.6 405.8 L494.7 405.9 L496.8 406.0 L498.9 406.1 L501.0 406.1 L503.2 406.2 L505.3 406.3 L507.4 406.4 L509.5 406.4 L511.7 406.5 L513.8 406.6 L515.9 406.6 L518.0 406.6 L520.2 406.7 L522.3 406.7"/>
<path d="M416.1 405.9 L418.2 405.9 L420.3 405.9 L422.5 405.9 L424.6 405.9 L426.7 405.9 L428.8 405.9 L430.9 405.9 L433.1 406.0 L435.2 406.0 L437.3 406.0 L439.4 406.1 L441.6 406.1 L443.7 406.1 L445.8 406.2 L447.9 406.2 L450.1 406.2 L452.2 406.3 L454.3 406.3 L456.4 406.4 L458.6 406.4 L460.7 406.5 L462.8 406.5 L464.9 406.6 L467.1 406.6 L469.2 406.7 L471.3 406.7 L473.4 406.8 L475.6 406.8 L477.7 406.9 L479.8 406.9 L481.9 407.0 L484.1 407.1 L486.2 407.1 L488.3 407.2 L490.4 407.2 L492.6 407.3 L494.7 407.3 L496.8 407.4 L498.9 407.5 L501.0 407.5 L503.2 407.6 L505.3 407.6 L507.4 407.7 L509.5 407.7 L511.7 407.8 L513.8 407.8 L515.9 407.8 L518.0 407.8 L520.2 407.9 L522.3 407.9"/>
<path d="M416.1 407.5 L418.2 407.5 L420.3 407.5 L422.5 407.5 L424.6 407.5 L426.7 407.5 L428.8 407.5 L430.9 407.6 L433.1 407.6 L435.2 407.6 L437.3 407.7 L439.4 407.7 L441.6 407.7 L443.7 407.8 L445.8 407.8 L447.9 407.9 L450.1 407.9 L452.2 408.0 L454.3 408.0 L456.4 408.1 L458.6 408.1 L460.7 408.2 L462.8 408.3 L464.9 408.3 L467.1 408.4 L469.2 408.5 L471.3 408.5 L473.4 408.6 L475.6 408.6 L477.7 408.7 L479.8 408.7 L481.9 408.8 L484.1 408.8 L486.2 408.9 L488.3 408.9 L490.4 409.0 L492.6 409.0 L494.7 409.0 L496.8 409.1 L498.9 409.1 L501.0 409.1 L503.2 409.2 L505.3 409.2 L507.4 409.2 L509.5 409.3 L511.7 409.3 L513.8 409.3 L515.9 409.3 L518.0 409.3 L520.2 409.3 L522.3 409.3"/>
<path d="M416.1 409.5 L418.2 409.5 L420.3 409.5 L422.5 409.5 L424.6 409.5 L426.7 409.4 L428.8 409.4 L430.9 409.4 L433.1 409.4 L435.2 409.5 L437.3 409.5 L439.4 409.5 L441.6 409.5 L443.7 409.5 L445.8 409.6 L447.9 409.6 L450.1 409.7 L452.2 409.7 L454.3 409.8 L456.4 409.9 L458.6 410.0 L460.7 410.1 L462.8 410.2 L464.9 410.3 L467.1 410.4 L469.2 410.5 L471.3 410.6 L473.4 410.6 L475.6 410.6 L477.7 410.7 L479.8 410.7 L481.9 410.7 L484.1 410.8 L486.2 410.8 L488.3 410.8 L490.4 410.8 L492.6 410.8 L494.7 410.8 L496.8 410.9 L498.9 410.9 L501.0 410.9 L503.2 410.9 L505.3 410.9 L507.4 410.9 L509.5 411.0 L511.7 411.0 L513.8 411.0 L515.9 411.0 L518.0 411.0 L520.2 411.0 L522.3 411.0"/>
<path d="M416.1 411.5 L418.2 411.5 L420.3 411.5 L422.5 411.5 L424.6 411.6 L426.7 411.6 L428.8 411.7 L430.9 411.8 L433.1 411.8 L435.2 411.9 L437.3 412.0 L439.4 412.1 L441.6 412.2 L443.7 412.3 L445.8 412.3 L447.9 412.4 L450.1 412.5 L452.2 412.6 L454.3 412.7 L456.4 412.8 L458.6 412.9 L460.7 413.0 L462.8 413.1 L464.9 413.2 L467.1 413.2 L469.2 413.3 L471.3 413.5 L473.4 413.6 L475.6 413.7 L477.7 413.9 L479.8 414.0 L481.9 414.1 L484.1 414.2 L486.2 414.3 L488.3 414.3 L490.4 414.3 L492.6 414.3 L494.7 414.3 L496.8 414.3 L498.9 414.2 L501.0 414.1 L503.2 414.0 L505.3 413.9 L507.4 413.8 L509.5 413.7 L511.7 413.6 L513.8 413.5 L515.9 413.4 L518.0 413.4 L520.2 413.3 L522.3 413.3"/>
<path d="M416.1 413.7 L418.2 413.7 L420.3 413.7 L422.5 413.7 L424.6 413.7 L426.7 413.7 L428.8 413.8 L430.9 413.8 L433.1 413.9 L435.2 413.9 L437.3 414.0 L439.4 414.0 L441.6 414.1 L443.7 414.1 L445.8 414.2 L447.9 414.2 L450.1 414.3 L452.2 414.4 L454.3 414.4 L456.4 414.5 L458.6 414.6 L460.7 414.6 L462.8 414.7 L464.9 414.8 L467.1 414.8 L469.2 414.9 L471.3 415.0 L473.4 415.0 L475.6 415.1 L477.7 415.2 L479.8 415.2 L481.9 415.3 L484.1 415.3 L486.2 415.4 L488.3 415.4 L490.4 415.4 L492.6 415.4 L494.7 415.4 L496.8 415.4 L498.9 415.4 L501.0 415.3 L503.2 415.3 L505.3 415.3 L507.4 415.2 L509.5 415.2 L511.7 415.1 L513.8 415.1 L515.9 415.0 L518.0 415.0 L520.2 415.0 L522.3 415.0"/>
<path d="M416.1 415.2 L418.2 415.2 L420.3 415.2 L422.5 415.2 L424.6 415.2 L426.7 415.2 L428.8 415.3 L430.9 415.3 L433.1 415.3 L435.2 415.4 L437.3 415.4 L439.4 415.5 L441.6 415.5 L443.7 415.6 L445.8 415.6 L447.9 415.7 L450.1 415.8 L452.2 415.9 L454.3 416.0 L456.4 416.0 L458.6 416.1 L460.7 416.2 L462.8 416.3 L464.9 416.4 L467.1 416.5 L469.2 416.6 L471.3 416.7 L473.4 416.8 L475.6 416.9 L477.7 417.0 L479.8 417.1 L481.9 417.1 L484.1 417.2 L486.2 417.3 L488.3 417.3 L490.4 417.4 L492.6 417.4 L494.7 417.4 L496.8 417.5 L498.9 417.4 L501.0 417.4 L503.2 417.4 L505.3 417.3 L507.4 417.3 L509.5 417.2 L511.7 417.1 L513.8 417.0 L515.9 416.9 L518.0 416.9 L520.2 416.8 L522.3 416.8"/>
<path d="M416.1 421.7 L418.2 421.6 L420.3 421.5 L422.5 421.3 L424.6 421.1 L426.7 420.9 L428.8 420.6 L430.9 420.4 L433.1 420.1 L435.2 419.9 L437.3 419.7 L439.4 419.5 L441.6 419.4 L443.7 419.2 L445.8 419.1 L447.9 419.0 L450.1 418.9 L452.2 418.8 L454.3 418.7 L456.4 418.6 L458.6 418.5 L460.7 418.4 L462.8 418.3 L464.9 418.3 L467.1 418.2 L469.2 418.1 L471.3 417.9 L473.4 417.8 L475.6 417.7 L477.7 417.6 L479.8 417.6 L481.9 417.5 L484.1 417.4 L486.2 417.4 L488.3 417.4 L490.4 417.4 L492.6 417.5 L494.7 417.6 L496.8 417.6 L498.9 417.7 L501.0 417.8 L503.2 418.0 L505.3 418.1 L507.4 418.2 L509.5 418.3 L511.7 418.5 L513.8 418.6 L515.9 418.7 L518.0 418.7 L520.2 418.8 L522.3 418.8"/>
<path d="M416.1 423.3 L418.2 423.3 L420.3 423.3 L422.5 423.3 L424.6 423.2 L426.7 423.1 L428.8 423.0 L430.9 422.9 L433.1 422.7 L435.2 422.6 L437.3 422.4 L439.4 422.1 L441.6 421.9 L443.7 421.7 L445.8 421.5 L447.9 421.2 L450.1 421.0 L452.2 420.8 L454.3 420.6 L456.4 420.5 L458.6 420.4 L460.7 420.3 L462.8 420.2 L464.9 420.1 L467.1 420.1 L469.2 420.0 L471.3 420.5 L473.4 421.0 L475.6 421.5 L477.7 421.9 L479.8 422.3 L481.9 422.6 L484.1 422.8 L486.2 422.9 L488.3 423.0 L490.4 423.1 L492.6 423.2 L494.7 423.3 L496.8 423.4 L498.9 423.6 L501.0 423.8 L503.2 424.0 L505.3 424.3 L507.4 424.5 L509.5 424.7 L511.7 424.8 L513.8 424.9 L515.9 425.0 L518.0 425.0 L520.2 425.0 L522.3 425.0"/>
<path d="M416.1 424.7 L418.2 424.6 L420.3 424.6 L422.5 424.5 L424.6 424.4 L426.7 424.2 L428.8 424.0 L430.9 423.8 L433.1 423.6 L435.2 423.4 L437.3 423.2 L439.4 423.0 L441.6 422.7 L443.7 422.6 L445.8 422.4 L447.9 422.3 L450.1 422.1 L452.2 422.1 L454.3 422.0 L456.4 422.0 L458.6 422.0 L460.7 422.0 L462.8 422.0 L464.9 422.0 L467.1 422.0 L469.2 422.0 L471.3 422.3 L473.4 422.6 L475.6 422.8 L477.7 423.1 L479.8 423.3 L481.9 423.4 L484.1 423.5 L486.2 423.5 L488.3 423.5 L490.4 423.4 L492.6 423.4 L494.7 423.5 L496.8 423.6 L498.9 423.8 L501.0 424.0 L503.2 424.4 L505.3 424.7 L507.4 425.0 L509.5 425.4 L511.7 425.7 L513.8 426.0 L515.9 426.3 L518.0 426.5 L520.2 426.6 L522.3 426.7"/>
<path d="M416.1 426.7 L418.2 426.7 L420.3 426.7 L422.5 426.7 L424.6 426.7 L426.7 426.8 L428.8 426.8 L430.9 426.9 L433.1 426.9 L435.2 426.9 L437.3 427.0 L439.4 427.0 L441.6 427.0 L443.7 427.1 L445.8 427.1 L447.9 427.1 L450.1 427.2 L452.2 427.2 L454.3 427.2 L456.4 427.2 L458.6 427.2 L460.7 427.3 L462.8 427.3 L464.9 427.3 L467.1 427.3 L469.2 427.3 L471.3 427.3 L473.4 427.2 L475.6 427.1 L477.7 427.0 L479.8 427.0 L481.9 426.9 L484.1 426.8 L486.2 426.7 L488.3 426.7 L490.4 426.6 L492.6 426.5 L494.7 426.5 L496.8 426.4 L498.9 426.3 L501.0 426.3 L503.2 426.2 L505.3 426.2 L507.4 426.1 L509.5 426.1 L511.7 426.1 L513.8 426.1 L515.9 426.0 L518.0 426.0 L520.2 426.0 L522.3 426.0"/>
<path d="M416.1 426.0 L418.2 426.0 L420.3 426.1 L422.5 426.2 L424.6 426.3 L426.7 426.5 L428.8 426.7 L430.9 426.9 L433.1 427.1 L435.2 427.3 L437.3 427.5 L439.4 427.6 L441.6 427.8 L443.7 428.0 L445.8 428.1 L447.9 428.2 L450.1 428.3 L452.2 428.4 L454.3 428.5 L456.4 428.6 L458.6 428.6 L460.7 428.7 L462.8 428.7 L464.9 428.8 L467.1 428.8 L469.2 428.8 L471.3 428.8 L473.4 428.7 L475.6 428.6 L477.7 428.6 L479.8 428.5 L481.9 428.5 L484.1 428.4 L486.2 428.4 L488.3 428.3 L490.4 428.3 L492.6 428.2 L494.7 428.2 L496.8 428.2 L498.9 428.1 L501.0 428.1 L503.2 428.1 L505.3 428.1 L507.4 428.1 L509.5 428.0 L511.7 428.0 L513.8 428.0 L515.9 428.0 L518.0 428.0 L520.2 428.0 L522.3 428.0"/>
<path d="M416.1 426.2 L418.2 426.2 L420.3 426.3 L422.5 426.3 L424.6 426.4 L426.7 426.5 L428.8 426.6 L430.9 426.7 L433.1 426.8 L435.2 426.9 L437.3 427.0 L439.4 427.1 L441.6 427.1 L443.7 427.2 L445.8 427.2 L447.9 427.3 L450.1 427.3 L452.2 427.3 L454.3 427.3 L456.4 427.3 L458.6 427.3 L460.7 427.2 L462.8 427.2 L464.9 427.2 L467.1 427.2 L469.2 427.2 L471.3 427.2 L473.4 427.2 L475.6 427.1 L477.7 427.1 L479.8 427.1 L481.9 427.1 L484.1 427.1 L486.2 427.1 L488.3 427.1 L490.4 427.1 L492.6 427.1 L494.7 427.1 L496.8 427.1 L498.9 427.2 L501.0 427.2 L503.2 427.2 L505.3 427.3 L507.4 427.3 L509.5 427.3 L511.7 427.4 L513.8 427.4 L515.9 427.4 L518.0 427.4 L520.2 427.5 L522.3 427.5"/>
<path d="M416.1 431.0 L418.2 431.0 L420.3 431.0 L422.5 431.0 L424.6 431.0 L426.7 431.0 L428.8 430.9 L430.9 430.9 L433.1 430.9 L435.2 430.9 L437.3 430.9 L439.4 430.8 L441.6 430.8 L443.7 430.8 L445.8 430.7 L447.9 430.7 L450.1 430.7 L452.2 430.7 L454.3 430.6 L456.4 430.6 L458.6 430.6 L460.7 430.5 L462.8 430.5 L464.9 430.4 L467.1 430.4 L469.2 430.3 L471.3 430.3 L473.4 430.3 L475.6 430.3 L477.7 430.3 L479.8 430.3 L481.9 430.2 L484.1 430.2 L486.2 430.2 L488.3 430.2 L490.4 430.2 L492.6 430.1 L494.7 430.1 L496.8 430.1 L498.9 430.0 L501.0 430.0 L503.2 429.9 L505.3 429.9 L507.4 429.8 L509.5 429.8 L511.7 429.8 L513.8 429.7 L515.9 429.7 L518.0 429.7 L520.2 429.7 L522.3 429.7"/>
<path d="M416.1 431.3 L418.2 431.3 L420.3 431.3 L422.5 431.3 L424.6 431.4 L426.7 431.4 L428.8 431.5 L430.9 431.5 L433.1 431.6 L435.2 431.6 L437.3 431.7 L439.4 431.8 L441.6 431.8 L443.7 431.9 L445.8 431.9 L447.9 431.9 L450.1 432.0 L452.2 432.0 L454.3 432.0 L456.4 432.0 L458.6 432.0 L460.7 432.1 L462.8 432.1 L464.9 432.1 L467.1 432.1 L469.2 432.1 L471.3 431.9 L473.4 431.8 L475.6 431.7 L477.7 431.6 L479.8 431.5 L481.9 431.5 L484.1 431.5 L486.2 431.6 L488.3 431.7 L490.4 431.9 L492.6 432.2 L494.7 432.5 L496.8 432.9 L498.9 433.3 L501.0 433.8 L503.2 434.3 L505.3 434.8 L507.4 435.3 L509.5 435.7 L511.7 436.2 L513.8 436.6 L515.9 436.9 L518.0 437.1 L520.2 437.3 L522.3 437.3"/>
<path d="M416.1 435.0 L418.2 435.0 L420.3 435.0 L422.5 434.9 L424.6 434.9 L426.7 434.8 L428.8 434.8 L430.9 434.7 L433.1 434.6 L435.2 434.6 L437.3 434.5 L439.4 434.4 L441.6 434.4 L443.7 434.3 L445.8 434.3 L447.9 434.2 L450.1 434.2 L452.2 434.1 L454.3 434.1 L456.4 434.1 L458.6 434.0 L460.7 434.0 L462.8 433.9 L464.9 433.9 L467.1 433.9 L469.2 433.8 L471.3 433.8 L473.4 433.7 L475.6 433.7 L477.7 433.7 L479.8 433.6 L481.9 433.7 L484.1 433.7 L486.2 433.8 L488.3 433.9 L490.4 434.0 L492.6 434.2 L494.7 434.5 L496.8 434.7 L498.9 435.1 L501.0 435.4 L503.2 435.8 L505.3 436.2 L507.4 436.6 L509.5 436.9 L511.7 437.3 L513.8 437.6 L515.9 437.9 L518.0 438.1 L520.2 438.3 L522.3 438.3"/>
<path d="M416.1 437.0 L418.2 437.0 L420.3 437.0 L422.5 436.9 L424.6 436.9 L426.7 436.8 L428.8 436.8 L430.9 436.7 L433.1 436.6 L435.2 436.6 L437.3 436.5 L439.4 436.4 L441.6 436.4 L443.7 436.3 L445.8 436.2 L447.9 436.2 L450.1 436.1 L452.2 436.1 L454.3 436.1 L456.4 436.0 L458.6 436.0 L460.7 435.9 L462.8 435.9 L464.9 435.9 L467.1 435.9 L469.2 435.8 L471.3 435.8 L473.4 435.8 L475.6 435.8 L477.7 435.8 L479.8 435.8 L481.9 435.8 L484.1 435.8 L486.2 435.8 L488.3 435.8 L490.4 435.8 L492.6 435.9 L494.7 436.0 L496.8 436.1 L498.9 436.2 L501.0 436.4 L503.2 436.6 L505.3 436.9 L507.4 437.3 L509.5 437.7 L511.7 438.1 L513.8 438.4 L515.9 438.8 L518.0 439.1 L520.2 439.3 L522.3 439.3"/>
<path d="M416.1 439.0 L418.2 439.0 L420.3 439.0 L422.5 439.0 L424.6 439.1 L426.7 439.1 L428.8 439.2 L430.9 439.2 L433.1 439.3 L435.2 439.4 L437.3 439.4 L439.4 439.5 L441.6 439.6 L443.7 439.7 L445.8 439.8 L447.9 439.9 L450.1 439.9 L452.2 440.0 L454.3 440.1 L456.4 440.2 L458.6 440.2 L460.7 440.3 L462.8 440.3 L464.9 440.3 L467.1 440.3 L469.2 440.3"/>
<path d="M416.1 440.7 L418.2 440.7 L420.3 440.7 L422.5 440.6 L424.6 440.6 L426.7 440.6 L428.8 440.6 L430.9 440.6 L433.1 440.6 L435.2 440.6 L437.3 440.5 L439.4 440.5 L441.6 440.5 L443.7 440.5 L445.8 440.5 L447.9 440.5 L450.1 440.5 L452.2 440.5 L454.3 440.5 L456.4 440.5 L458.6 440.5 L460.7 440.6 L462.8 440.6 L464.9 440.6 L467.1 440.6 L469.2 440.7 L471.3 440.7 L473.4 440.7 L475.6 440.7 L477.7 440.8 L479.8 440.7 L481.9 440.7 L484.1 440.7 L486.2 440.6 L488.3 440.5 L490.4 440.3 L492.6 440.2 L494.7 440.0 L496.8 439.9 L498.9 439.7 L501.0 439.5 L503.2 439.3 L505.3 439.1 L507.4 439.0 L509.5 438.8 L511.7 438.7 L513.8 438.6 L515.9 438.5 L518.0 438.4 L520.2 438.3 L522.3 438.3"/>
<path d="M416.1 446.0 L418.2 446.0 L420.3 445.9 L422.5 445.8 L424.6 445.7 L426.7 445.5 L428.8 445.3 L430.9 445.2 L433.1 445.0 L435.2 444.8 L437.3 444.5 L439.4 444.4 L441.6 444.2 L443.7 444.0 L445.8 443.8 L447.9 443.7 L450.1 443.6 L452.2 443.5 L454.3 443.3 L456.4 443.2 L458.6 443.2 L460.7 443.1 L462.8 443.0 L464.9 442.9 L467.1 442.9 L469.2 442.8 L471.3 442.8 L473.4 442.7 L475.6 442.7 L477.7 442.6 L479.8 442.6 L481.9 442.5 L484.1 442.4 L486.2 442.4 L488.3 442.3 L490.4 442.2 L492.6 442.2 L494.7 442.1 L496.8 441.9 L498.9 441.8 L501.0 441.6 L503.2 441.4 L505.3 441.2 L507.4 440.9 L509.5 440.6 L511.7 440.3 L513.8 440.0 L515.9 439.7 L518.0 439.5 L520.2 439.4 L522.3 439.3"/>
<path d="M416.1 447.7 L418.2 447.6 L420.3 447.6 L422.5 447.5 L424.6 447.4 L426.7 447.3 L428.8 447.1 L430.9 447.0 L433.1 446.8 L435.2 446.6 L437.3 446.5 L439.4 446.3 L441.6 446.1 L443.7 446.0 L445.8 445.8 L447.9 445.7 L450.1 445.5 L452.2 445.4 L454.3 445.3 L456.4 445.2 L458.6 445.1 L460.7 445.0 L462.8 444.9 L464.9 444.8 L467.1 444.7 L469.2 444.7 L471.3 444.7 L473.4 444.7 L475.6 444.6 L477.7 444.6 L479.8 444.5 L481.9 444.5 L484.1 444.4 L486.2 444.2 L488.3 444.1 L490.4 443.9 L492.6 443.7 L494.7 443.4 L496.8 443.2 L498.9 442.9 L501.0 442.6 L503.2 442.2 L505.3 441.9 L507.4 441.5 L509.5 441.1 L511.7 440.7 L513.8 440.4 L515.9 440.1 L518.0 439.9 L520.2 439.7 L522.3 439.7"/>
<path d="M416.1 449.5 L418.2 449.5 L420.3 449.5 L422.5 449.4 L424.6 449.4 L426.7 449.3 L428.8 449.2 L430.9 449.1 L433.1 449.0 L435.2 448.9 L437.3 448.7 L439.4 448.6 L441.6 448.5 L443.7 448.3 L445.8 448.2 L447.9 448.0 L450.1 447.9 L452.2 447.8 L454.3 447.6 L456.4 447.5 L458.6 447.3 L460.7 447.2 L462.8 447.1 L464.9 446.9 L467.1 446.8 L469.2 446.7 L471.3 446.7 L473.4 446.7 L475.6 446.8 L477.7 446.8 L479.8 446.8 L481.9 446.7 L484.1 446.7 L486.2 446.6 L488.3 446.4 L490.4 446.3 L492.6 446.1 L494.7 445.8 L496.8 445.5 L498.9 445.2 L501.0 444.8 L503.2 444.4 L505.3 444.0 L507.4 443.4 L509.5 442.9 L511.7 442.3 L513.8 441.7 L515.9 441.1 L518.0 440.5 L520.2 440.1 L522.3 440.0"/>
<path d="M416.1 451.1 L418.2 451.1 L420.3 451.1 L422.5 451.1 L424.6 451.1 L426.7 451.1 L428.8 451.1 L430.9 451.1 L433.1 451.1 L435.2 451.1 L437.3 451.1 L439.4 451.1 L441.6 451.1 L443.7 451.1 L445.8 451.0 L447.9 451.0 L450.1 451.0 L452.2 451.0 L454.3 450.9 L456.4 450.9 L458.6 450.8 L460.7 450.7 L462.8 450.7 L464.9 450.6 L467.1 450.5 L469.2 450.3"/>
<path d="M416.1 451.5 L418.2 451.5 L420.3 451.5 L422.5 451.6 L424.6 451.6 L426.7 451.6 L428.8 451.6 L430.9 451.6 L433.1 451.6 L435.2 451.6 L437.3 451.6 L439.4 451.6 L441.6 451.6 L443.7 451.5 L445.8 451.5 L447.9 451.4 L450.1 451.4 L452.2 451.3 L454.3 451.2 L456.4 451.1 L458.6 451.0 L460.7 450.9 L462.8 450.8 L464.9 450.7 L467.1 450.6 L469.2 450.5 L471.3 450.5 L473.4 450.5 L475.6 450.5 L477.7 450.5 L479.8 450.6 L481.9 450.6 L484.1 450.7 L486.2 450.8 L488.3 450.9 L490.4 451.1 L492.6 451.2 L494.7 451.4 L496.8 451.6 L498.9 451.8 L501.0 452.0 L503.2 452.1 L505.3 452.3 L507.4 452.5 L509.5 452.6 L511.7 452.7 L513.8 452.8 L515.9 452.9 L518.0 453.0 L520.2 453.0 L522.3 453.0"/>
<path d="M416.1 451.7 L418.2 451.7 L420.3 451.7 L422.5 451.8 L424.6 451.8 L426.7 451.9 L428.8 452.0 L430.9 452.1 L433.1 452.2 L435.2 452.3 L437.3 452.4 L439.4 452.5 L441.6 452.5 L443.7 452.6 L445.8 452.6 L447.9 452.7 L450.1 452.7 L452.2 452.7 L454.3 452.7 L456.4 452.7 L458.6 452.7 L460.7 452.7 L462.8 452.7 L464.9 452.7 L467.1 452.7 L469.2 452.7 L471.3 452.7 L473.4 452.7 L475.6 452.7 L477.7 452.7 L479.8 452.8 L481.9 452.8 L484.1 452.9 L486.2 452.9 L488.3 453.0 L490.4 453.1 L492.6 453.2 L494.7 453.4 L496.8 453.5 L498.9 453.6 L501.0 453.8 L503.2 453.9 L505.3 454.0 L507.4 454.2 L509.5 454.3 L511.7 454.4 L513.8 454.5 L515.9 454.6 L518.0 454.6 L520.2 454.7 L522.3 454.7"/>
<path d="M416.1 458.7 L418.2 458.7 L420.3 458.6 L422.5 458.6 L424.6 458.6 L426.7 458.5 L428.8 458.5 L430.9 458.4 L433.1 458.4 L435.2 458.3 L437.3 458.3 L439.4 458.2 L441.6 458.2 L443.7 458.1 L445.8 458.1 L447.9 458.1 L450.1 458.0 L452.2 458.0 L454.3 458.0 L456.4 458.0 L458.6 458.0 L460.7 458.0 L462.8 458.0 L464.9 458.0 L467.1 458.0 L469.2 458.0 L471.3 458.0 L473.4 458.0 L475.6 457.9 L477.7 457.9 L479.8 457.9 L481.9 457.9 L484.1 457.9 L486.2 457.9 L488.3 457.9 L490.4 458.0 L492.6 458.0 L494.7 458.1 L496.8 458.1 L498.9 458.2 L501.0 458.3 L503.2 458.3 L505.3 458.4 L507.4 458.4 L509.5 458.5 L511.7 458.5 L513.8 458.6 L515.9 458.6 L518.0 458.6 L520.2 458.7 L522.3 458.7"/>
<path d="M416.1 460.3 L418.2 460.3 L420.3 460.4 L422.5 460.4 L424.6 460.4 L426.7 460.5 L428.8 460.5 L430.9 460.6 L433.1 460.6 L435.2 460.7 L437.3 460.7 L439.4 460.8 L441.6 460.8 L443.7 460.9 L445.8 460.9 L447.9 461.0 L450.1 461.0 L452.2 461.1 L454.3 461.1 L456.4 461.2 L458.6 461.2 L460.7 461.2 L462.8 461.3 L464.9 461.3 L467.1 461.3 L469.2 461.3 L471.3 461.4 L473.4 461.6 L475.6 461.7 L477.7 461.8 L479.8 462.0 L481.9 462.1 L484.1 462.3 L486.2 462.4 L488.3 462.6 L490.4 462.8 L492.6 463.0 L494.7 463.2 L496.8 463.4 L498.9 463.6 L501.0 463.8 L503.2 464.0 L505.3 464.2 L507.4 464.4 L509.5 464.5 L511.7 464.7 L513.8 464.8 L515.9 464.9 L518.0 464.9 L520.2 465.0 L522.3 465.0"/>
<path d="M416.1 462.3 L418.2 462.4 L420.3 462.5 L422.5 462.7 L424.6 462.9 L426.7 463.2 L428.8 463.5 L430.9 463.8 L433.1 464.1 L435.2 464.4 L437.3 464.6 L439.4 464.9 L441.6 465.1 L443.7 465.3 L445.8 465.4 L447.9 465.6 L450.1 465.8 L452.2 465.9 L454.3 466.1 L456.4 466.3 L458.6 466.4 L460.7 466.6 L462.8 466.8 L464.9 467.0 L467.1 467.1 L469.2 467.3 L471.3 467.3 L473.4 467.2 L475.6 467.2 L477.7 467.1 L479.8 467.1 L481.9 467.0 L484.1 467.0 L486.2 466.9 L488.3 466.9 L490.4 466.9 L492.6 466.8 L494.7 466.8 L496.8 466.8 L498.9 466.8 L501.0 466.8 L503.2 466.8 L505.3 466.7 L507.4 466.7 L509.5 466.7 L511.7 466.7 L513.8 466.7 L515.9 466.7 L518.0 466.7 L520.2 466.7 L522.3 466.7"/>
<path d="M416.1 469.0 L418.2 469.0 L420.3 469.0 L422.5 469.0 L424.6 469.1 L426.7 469.1 L428.8 469.1 L430.9 469.2 L433.1 469.2 L435.2 469.3 L437.3 469.4 L439.4 469.4 L441.6 469.5 L443.7 469.6 L445.8 469.7 L447.9 469.8 L450.1 469.9 L452.2 469.9 L454.3 470.0 L456.4 470.1 L458.6 470.2 L460.7 470.3 L462.8 470.4 L464.9 470.5 L467.1 470.6 L469.2 470.7 L471.3 470.7 L473.4 470.8 L475.6 470.8 L477.7 470.9 L479.8 470.9 L481.9 471.0 L484.1 471.0 L486.2 471.1 L488.3 471.1 L490.4 471.2 L492.6 471.3 L494.7 471.3 L496.8 471.4 L498.9 471.4 L501.0 471.5 L503.2 471.5 L505.3 471.6 L507.4 471.6 L509.5 471.6 L511.7 471.6 L513.8 471.7 L515.9 471.7 L518.0 471.7 L520.2 471.7 L522.3 471.7"/>
<path d="M416.1 471.0 L418.2 471.0 L420.3 471.0 L422.5 471.0 L424.6 470.9 L426.7 470.9 L428.8 470.9 L430.9 470.9 L433.1 470.8 L435.2 470.8 L437.3 470.7 L439.4 470.7 L441.6 470.6 L443.7 470.6 L445.8 470.6 L447.9 470.5 L450.1 470.5 L452.2 470.5 L454.3 470.4 L456.4 470.4 L458.6 470.4 L460.7 470.4 L462.8 470.4 L464.9 470.4 L467.1 470.5 L469.2 470.5 L471.3 470.5 L473.4 470.6 L475.6 470.6 L477.7 470.6 L479.8 470.6 L481.9 470.5 L484.1 470.5 L486.2 470.5 L488.3 470.4 L490.4 470.4 L492.6 470.4 L494.7 470.3 L496.8 470.3 L498.9 470.2 L501.0 470.1 L503.2 470.1 L505.3 470.0 L507.4 470.0 L509.5 469.9 L511.7 469.8 L513.8 469.8 L515.9 469.7 L518.0 469.7 L520.2 469.7 L522.3 469.7"/>
<path d="M469.2 453.0 L471.3 453.3 L473.4 453.6 L475.6 453.9 L477.7 454.2 L479.8 454.5 L481.9 454.8 L484.1 455.1 L486.2 455.3 L488.3 455.6 L490.4 455.8 L492.6 456.0 L494.7 456.1 L496.8 456.3 L498.9 456.4 L501.0 456.5 L503.2 456.6 L505.3 456.7 L507.4 456.7 L509.5 456.8 L511.7 456.9 L513.8 456.9 L515.9 457.0 L518.0 457.0 L520.2 457.0 L522.3 457.0"/>
<path d="M469.2 458.3 L471.3 458.3 L473.4 458.2 L475.6 458.2 L477.7 458.1 L479.8 458.1 L481.9 458.1 L484.1 458.1 L486.2 458.1 L488.3 458.1 L490.4 458.1 L492.6 458.1 L494.7 458.1 L496.8 458.2 L498.9 458.2 L501.0 458.3 L503.2 458.4 L505.3 458.5 L507.4 458.5 L509.5 458.6 L511.7 458.7 L513.8 458.8 L515.9 458.9 L518.0 458.9 L520.2 459.0 L522.3 459.0"/>
<path d="M522.3 403.0 L524.4 403.0 L526.5 402.9 L528.7 402.7 L530.8 402.4 L532.9 402.2 L535.0 401.8 L537.2 401.5 L539.3 401.1 L541.4 400.6 L543.5 400.2 L545.6 399.7 L547.8 399.2 L549.9 398.7 L552.0 398.2 L554.1 397.7 L556.3 397.2 L558.4 396.6 L560.5 396.1 L562.6 395.6 L564.8 395.1 L566.9 394.6 L569.0 394.1 L571.1 393.6 L573.3 393.0 L575.4 392.5 L577.5 392.0 L579.6 391.6 L581.8 391.2 L583.9 390.7 L586.0 390.3 L588.1 390.0 L590.3 389.6 L592.4 389.3 L594.5 389.0 L596.6 388.8 L598.8 388.5 L600.9 388.3 L603.0 388.2 L605.1 388.0 L607.3 387.8 L609.4 387.7 L611.5 387.5 L613.6 387.4 L615.8 387.2 L617.9 387.1 L620.0 386.9 L622.1 386.8 L624.3 386.7 L626.4 386.7 L628.5 386.7"/>
<path d="M522.3 403.3 L524.4 403.4 L526.5 403.4 L528.7 403.5 L530.8 403.7 L532.9 403.8 L535.0 403.9 L537.2 404.0 L539.3 404.1 L541.4 404.1 L543.5 404.1 L545.6 404.0 L547.8 403.9 L549.9 403.8 L552.0 403.7 L554.1 403.5 L556.3 403.3 L558.4 403.1 L560.5 403.0 L562.6 402.8 L564.8 402.7 L566.9 402.5 L569.0 402.4 L571.1 402.2 L573.3 402.1 L575.4 402.0 L577.5 401.8 L579.6 401.7 L581.8 401.5 L583.9 401.3 L586.0 401.1 L588.1 401.0 L590.3 400.8 L592.4 400.6 L594.5 400.5 L596.6 400.3 L598.8 400.1 L600.9 400.0 L603.0 399.8 L605.1 399.7 L607.3 399.6 L609.4 399.5 L611.5 399.4 L613.6 399.3 L615.8 399.2 L617.9 399.1 L620.0 399.1 L622.1 399.0 L624.3 399.0 L626.4 399.0 L628.5 399.0"/>
<path d="M522.3 404.8 L524.4 404.8 L526.5 404.8 L528.7 404.9 L530.8 404.9 L532.9 405.0 L535.0 405.0 L537.2 405.1 L539.3 405.1 L541.4 405.1 L543.5 405.1 L545.6 405.1 L547.8 405.0 L549.9 404.9 L552.0 404.8 L554.1 404.7 L556.3 404.6 L558.4 404.5 L560.5 404.4 L562.6 404.2 L564.8 404.1 L566.9 403.9 L569.0 403.8 L571.1 403.6 L573.3 403.5 L575.4 403.3 L577.5 403.2 L579.6 403.2 L581.8 403.1 L583.9 403.0 L586.0 402.9 L588.1 402.8 L590.3 402.7 L592.4 402.6 L594.5 402.5 L596.6 402.4 L598.8 402.3 L600.9 402.2 L603.0 402.1 L605.1 402.0 L607.3 401.9 L609.4 401.8 L611.5 401.8 L613.6 401.7 L615.8 401.6 L617.9 401.5 L620.0 401.5 L622.1 401.4 L624.3 401.4 L626.4 401.3 L628.5 401.3"/>
<path d="M522.3 407.3 L524.4 407.3 L526.5 407.3 L528.7 407.3 L530.8 407.3 L532.9 407.3 L535.0 407.3 L537.2 407.3 L539.3 407.2 L541.4 407.2 L543.5 407.1 L545.6 407.0 L547.8 406.9 L549.9 406.8 L552.0 406.7 L554.1 406.6 L556.3 406.5 L558.4 406.4 L560.5 406.2 L562.6 406.1 L564.8 406.0 L566.9 405.9 L569.0 405.8 L571.1 405.7 L573.3 405.6 L575.4 405.5 L577.5 405.4 L579.6 405.3 L581.8 405.2 L583.9 405.0 L586.0 404.9 L588.1 404.8 L590.3 404.6 L592.4 404.5 L594.5 404.3 L596.6 404.2 L598.8 404.0 L600.9 403.9 L603.0 403.7 L605.1 403.6 L607.3 403.4 L609.4 403.3 L611.5 403.1 L613.6 403.0 L615.8 402.9 L617.9 402.8 L620.0 402.7 L622.1 402.6 L624.3 402.6 L626.4 402.5 L628.5 402.5"/>
<path d="M522.3 409.3 L524.4 409.3 L526.5 409.3 L528.7 409.3 L530.8 409.3 L532.9 409.3 L535.0 409.3 L537.2 409.3 L539.3 409.3 L541.4 409.2 L543.5 409.2 L545.6 409.1 L547.8 409.0 L549.9 408.9 L552.0 408.8 L554.1 408.7 L556.3 408.6 L558.4 408.5 L560.5 408.4 L562.6 408.3 L564.8 408.2 L566.9 408.1 L569.0 408.0 L571.1 407.9 L573.3 407.8 L575.4 407.7 L577.5 407.6 L579.6 407.6 L581.8 407.5 L583.9 407.5 L586.0 407.5 L588.1 407.5 L590.3 407.5 L592.4 407.6 L594.5 407.7 L596.6 407.9 L598.8 408.1 L600.9 408.3 L603.0 408.5 L605.1 408.8 L607.3 409.1 L609.4 409.4 L611.5 409.7 L613.6 410.0 L615.8 410.3 L617.9 410.6 L620.0 410.8 L622.1 411.0 L624.3 411.2 L626.4 411.3 L628.5 411.3"/>
<path d="M522.3 411.0 L524.4 411.0 L526.5 411.0 L528.7 411.1 L530.8 411.2 L532.9 411.2 L535.0 411.3 L537.2 411.4 L539.3 411.4 L541.4 411.4 L543.5 411.5 L545.6 411.5 L547.8 411.5 L549.9 411.4 L552.0 411.4 L554.1 411.4 L556.3 411.3 L558.4 411.3 L560.5 411.3 L562.6 411.2 L564.8 411.2 L566.9 411.1 L569.0 411.1 L571.1 411.1 L573.3 411.0 L575.4 411.0 L577.5 411.0 L579.6 411.1 L581.8 411.1 L583.9 411.2 L586.0 411.2 L588.1 411.3 L590.3 411.3 L592.4 411.4 L594.5 411.5 L596.6 411.6 L598.8 411.7 L600.9 411.9 L603.0 412.0 L605.1 412.1 L607.3 412.3 L609.4 412.4 L611.5 412.6 L613.6 412.7 L615.8 412.8 L617.9 413.0 L620.0 413.1 L622.1 413.2 L624.3 413.3 L626.4 413.3 L628.5 413.3"/>
<path d="M522.3 412.8 L524.4 412.8 L526.5 412.9 L528.7 412.9 L530.8 413.0 L532.9 413.1 L535.0 413.2 L537.2 413.3 L539.3 413.3 L541.4 413.3 L543.5 413.3 L545.6 413.3 L547.8 413.3 L549.9 413.2 L552.0 413.2 L554.1 413.1 L556.3 413.1 L558.4 413.0 L560.5 413.0 L562.6 413.0 L564.8 413.0 L566.9 413.1 L569.0 413.1 L571.1 413.2 L573.3 413.3 L575.4 413.3 L577.5 413.4 L579.6 413.4 L581.8 413.5 L583.9 413.5 L586.0 413.6 L588.1 413.6 L590.3 413.6 L592.4 413.7 L594.5 413.7 L596.6 413.7 L598.8 413.8 L600.9 413.8 L603.0 413.8 L605.1 413.9 L607.3 413.9 L609.4 413.9 L611.5 414.0 L613.6 414.0 L615.8 414.1 L617.9 414.2 L620.0 414.2 L622.1 414.3 L624.3 414.3 L626.4 414.3 L628.5 414.3"/>
<path d="M522.3 414.5 L524.4 414.5 L526.5 414.5 L528.7 414.5 L530.8 414.5 L532.9 414.4 L535.0 414.4 L537.2 414.4 L539.3 414.4 L541.4 414.4 L543.5 414.4 L545.6 414.4 L547.8 414.4 L549.9 414.5 L552.0 414.5 L554.1 414.6 L556.3 414.6 L558.4 414.6 L560.5 414.7 L562.6 414.7 L564.8 414.7 L566.9 414.8 L569.0 414.8 L571.1 414.8 L573.3 414.8 L575.4 414.8 L577.5 414.8 L579.6 414.7 L581.8 414.7 L583.9 414.7 L586.0 414.7 L588.1 414.6 L590.3 414.7 L592.4 414.7 L594.5 414.7 L596.6 414.8 L598.8 414.8 L600.9 414.9 L603.0 415.0 L605.1 415.0 L607.3 415.1 L609.4 415.1 L611.5 415.2 L613.6 415.2 L615.8 415.2 L617.9 415.1 L620.0 415.1 L622.1 415.1 L624.3 415.0 L626.4 415.0 L628.5 415.0"/>
<path d="M522.3 417.3 L524.4 417.3 L526.5 417.4 L528.7 417.4 L530.8 417.5 L532.9 417.5 L535.0 417.6 L537.2 417.7 L539.3 417.8 L541.4 417.9 L543.5 418.0 L545.6 418.1 L547.8 418.2 L549.9 418.3 L552.0 418.4 L554.1 418.5 L556.3 418.5 L558.4 418.5 L560.5 418.5 L562.6 418.5 L564.8 418.4 L566.9 418.3 L569.0 418.2 L571.1 418.1 L573.3 418.0 L575.4 417.8 L577.5 417.7 L579.6 417.7 L581.8 417.6 L583.9 417.5 L586.0 417.5 L588.1 417.4 L590.3 417.4 L592.4 417.5 L594.5 417.5 L596.6 417.6 L598.8 417.7 L600.9 417.9 L603.0 418.0 L605.1 418.2 L607.3 418.5 L609.4 418.7 L611.5 419.0 L613.6 419.3 L615.8 419.5 L617.9 419.8 L620.0 420.1 L622.1 420.3 L624.3 420.5 L626.4 420.6 L628.5 420.7"/>
<path d="M522.3 418.7 L524.4 418.7 L526.5 418.7 L528.7 418.7 L530.8 418.7 L532.9 418.8 L535.0 418.9 L537.2 419.0 L539.3 419.2 L541.4 419.5 L543.5 419.8 L545.6 420.2 L547.8 420.5 L549.9 420.9 L552.0 421.2 L554.1 421.4 L556.3 421.5 L558.4 421.5 L560.5 421.5 L562.6 421.4 L564.8 421.2 L566.9 420.9 L569.0 420.6 L571.1 420.2 L573.3 419.8 L575.4 419.4 L577.5 419.3 L579.6 419.2 L581.8 419.1 L583.9 419.0 L586.0 418.9 L588.1 418.9 L590.3 418.8 L592.4 418.9 L594.5 418.9 L596.6 419.0 L598.8 419.1 L600.9 419.2 L603.0 419.3 L605.1 419.5 L607.3 419.7 L609.4 419.9 L611.5 420.1 L613.6 420.3 L615.8 420.6 L617.9 420.8 L620.0 421.0 L622.1 421.2 L624.3 421.3 L626.4 421.4 L628.5 421.5"/>
<path d="M522.3 426.0 L524.4 426.0 L526.5 426.0 L528.7 426.0 L530.8 426.1 L532.9 426.1 L535.0 426.1 L537.2 426.1 L539.3 426.1 L541.4 426.1 L543.5 426.1 L545.6 426.1 L547.8 426.0 L549.9 426.0 L552.0 426.0 L554.1 425.9 L556.3 425.9 L558.4 425.8 L560.5 425.8 L562.6 425.7 L564.8 425.7 L566.9 425.6 L569.0 425.6 L571.1 425.5 L573.3 425.5 L575.4 425.4 L577.5 425.4 L579.6 425.5 L581.8 425.5 L583.9 425.6 L586.0 425.6 L588.1 425.6 L590.3 425.7 L592.4 425.7 L594.5 425.7 L596.6 425.7 L598.8 425.7 L600.9 425.7 L603.0 425.7 L605.1 425.7 L607.3 425.7 L609.4 425.7 L611.5 425.7 L613.6 425.7 L615.8 425.7 L617.9 425.7 L620.0 425.7 L622.1 425.7 L624.3 425.7 L626.4 425.7 L628.5 425.7"/>
<path d="M522.3 427.1 L524.4 427.1 L526.5 427.0 L528.7 427.0 L530.8 427.0 L532.9 426.9 L535.0 426.8 L537.2 426.8 L539.3 426.7 L541.4 426.6 L543.5 426.5 L545.6 426.4 L547.8 426.3 L549.9 426.3 L552.0 426.2 L554.1 426.1 L556.3 426.0 L558.4 425.9 L560.5 425.8 L562.6 425.8 L564.8 425.7 L566.9 425.6 L569.0 425.6 L571.1 425.6 L573.3 425.5 L575.4 425.5 L577.5 425.4 L579.6 425.3 L581.8 425.2 L583.9 425.1 L586.0 424.9 L588.1 424.8 L590.3 424.6 L592.4 424.5 L594.5 424.3 L596.6 424.2 L598.8 424.0 L600.9 423.8 L603.0 423.7 L605.1 423.5 L607.3 423.4 L609.4 423.2 L611.5 423.1 L613.6 422.9 L615.8 422.8 L617.9 422.7 L620.0 422.5 L622.1 422.5 L624.3 422.4 L626.4 422.3 L628.5 422.3"/>
<path d="M522.3 426.0 L524.4 426.0 L526.5 426.0 L528.7 426.0 L530.8 426.0 L532.9 426.0 L535.0 426.0 L537.2 426.0 L539.3 425.9 L541.4 425.9 L543.5 425.9 L545.6 425.9 L547.8 425.9 L549.9 425.9 L552.0 425.9 L554.1 425.9 L556.3 426.0 L558.4 426.0 L560.5 426.0 L562.6 426.0 L564.8 426.0 L566.9 426.1 L569.0 426.1 L571.1 426.1 L573.3 426.1 L575.4 426.2 L577.5 426.1 L579.6 426.0 L581.8 425.9 L583.9 425.8 L586.0 425.7 L588.1 425.6 L590.3 425.5 L592.4 425.4 L594.5 425.4 L596.6 425.3 L598.8 425.2 L600.9 425.1 L603.0 425.0 L605.1 424.8 L607.3 424.7 L609.4 424.6 L611.5 424.4 L613.6 424.2 L615.8 424.1 L617.9 423.9 L620.0 423.7 L622.1 423.6 L624.3 423.4 L626.4 423.4 L628.5 423.3"/>
<path d="M522.3 428.0 L524.4 428.0 L526.5 428.0 L528.7 428.0 L530.8 428.0 L532.9 428.1 L535.0 428.1 L537.2 428.1 L539.3 428.2 L541.4 428.2 L543.5 428.3 L545.6 428.4 L547.8 428.4 L549.9 428.5 L552.0 428.6 L554.1 428.7 L556.3 428.8 L558.4 428.9 L560.5 429.0 L562.6 429.1 L564.8 429.2 L566.9 429.3 L569.0 429.3 L571.1 429.4 L573.3 429.4 L575.4 429.5 L577.5 429.5 L579.6 429.6 L581.8 429.7 L583.9 429.8 L586.0 430.0 L588.1 430.1 L590.3 430.3 L592.4 430.6 L594.5 430.8 L596.6 431.1 L598.8 431.5 L600.9 431.8 L603.0 432.2 L605.1 432.6 L607.3 433.0 L609.4 433.4 L611.5 433.8 L613.6 434.3 L615.8 434.7 L617.9 435.2 L620.0 435.5 L622.1 435.9 L624.3 436.1 L626.4 436.3 L628.5 436.3"/>
<path d="M522.3 429.7 L524.4 429.7 L526.5 429.7 L528.7 429.7 L530.8 429.7 L532.9 429.7 L535.0 429.7 L537.2 429.7 L539.3 429.8 L541.4 429.8 L543.5 429.8 L545.6 429.8 L547.8 429.8 L549.9 429.8 L552.0 429.8 L554.1 429.7 L556.3 429.7 L558.4 429.7 L560.5 429.7 L562.6 429.6 L564.8 429.6 L566.9 429.6 L569.0 429.6 L571.1 429.5 L573.3 429.5 L575.4 429.5 L577.5 429.5 L579.6 429.6 L581.8 429.6 L583.9 429.6 L586.0 429.7 L588.1 429.7 L590.3 429.7 L592.4 429.7 L594.5 429.7 L596.6 429.7 L598.8 429.7 L600.9 429.7 L603.0 429.7 L605.1 429.7 L607.3 429.7 L609.4 429.8 L611.5 429.8 L613.6 429.8 L615.8 429.8 L617.9 429.9 L620.0 429.9 L622.1 429.9 L624.3 430.0 L626.4 430.0 L628.5 430.0"/>
<path d="M522.3 437.7 L524.4 437.6 L526.5 437.5 L528.7 437.2 L530.8 436.9 L532.9 436.4 L535.0 435.9 L537.2 435.4 L539.3 434.8 L541.4 434.3 L543.5 433.8 L545.6 433.3 L547.8 433.0 L549.9 432.8 L552.0 432.7 L554.1 432.6 L556.3 432.6 L558.4 432.7 L560.5 432.7 L562.6 432.8 L564.8 432.8 L566.9 432.9 L569.0 432.9 L571.1 433.0 L573.3 433.0 L575.4 433.1 L577.5 433.3 L579.6 433.6 L581.8 433.8 L583.9 434.1 L586.0 434.3 L588.1 434.6 L590.3 434.8 L592.4 435.0 L594.5 435.2 L596.6 435.3 L598.8 435.5 L600.9 435.6 L603.0 435.8 L605.1 435.9 L607.3 436.0 L609.4 436.1 L611.5 436.3 L613.6 436.4 L615.8 436.6 L617.9 436.7 L620.0 436.8 L622.1 437.0 L624.3 437.1 L626.4 437.1 L628.5 437.1"/>
<path d="M522.3 438.3 L524.4 438.3 L526.5 438.2 L528.7 438.0 L530.8 437.8 L532.9 437.5 L535.0 437.3 L537.2 437.0 L539.3 436.7 L541.4 436.5 L543.5 436.2 L545.6 436.0 L547.8 435.9 L549.9 435.7 L552.0 435.6 L554.1 435.5 L556.3 435.5 L558.4 435.4 L560.5 435.4 L562.6 435.4 L564.8 435.4 L566.9 435.5 L569.0 435.5 L571.1 435.6 L573.3 435.6 L575.4 435.7 L577.5 435.9 L579.6 436.1 L581.8 436.3 L583.9 436.5 L586.0 436.6 L588.1 436.8 L590.3 437.0 L592.4 437.2 L594.5 437.3 L596.6 437.5 L598.8 437.6 L600.9 437.7 L603.0 437.9 L605.1 437.9 L607.3 438.0 L609.4 438.1 L611.5 438.2 L613.6 438.2 L615.8 438.3 L617.9 438.3 L620.0 438.3 L622.1 438.3 L624.3 438.3 L626.4 438.3 L628.5 438.3"/>
<path d="M522.3 439.0 L524.4 439.0 L526.5 438.9 L528.7 438.8 L530.8 438.7 L532.9 438.5 L535.0 438.4 L537.2 438.2 L539.3 438.1 L541.4 438.0 L543.5 438.0 L545.6 437.9 L547.8 437.9 L549.9 437.9 L552.0 437.9 L554.1 437.9 L556.3 437.9 L558.4 437.9 L560.5 437.9 L562.6 438.0 L564.8 438.0 L566.9 438.0 L569.0 438.0 L571.1 438.0 L573.3 438.0 L575.4 438.0 L577.5 438.1 L579.6 438.3 L581.8 438.4 L583.9 438.6 L586.0 438.7 L588.1 438.9 L590.3 439.0 L592.4 439.1 L594.5 439.2 L596.6 439.3 L598.8 439.4 L600.9 439.5 L603.0 439.5 L605.1 439.6 L607.3 439.6 L609.4 439.6 L611.5 439.6 L613.6 439.6 L615.8 439.5 L617.9 439.5 L620.0 439.5 L622.1 439.4 L624.3 439.4 L626.4 439.3 L628.5 439.3"/>
<path d="M522.3 439.3 L524.4 439.3 L526.5 439.4 L528.7 439.4 L530.8 439.5 L532.9 439.6 L535.0 439.6 L537.2 439.7 L539.3 439.7 L541.4 439.8 L543.5 439.8 L545.6 439.8 L547.8 439.8 L549.9 439.7 L552.0 439.7 L554.1 439.7 L556.3 439.6 L558.4 439.6 L560.5 439.6 L562.6 439.6 L564.8 439.6 L566.9 439.6 L569.0 439.6 L571.1 439.6 L573.3 439.7 L575.4 439.7 L577.5 439.8 L579.6 439.9 L581.8 440.0 L583.9 440.1 L586.0 440.2 L588.1 440.3 L590.3 440.4 L592.4 440.4 L594.5 440.5 L596.6 440.5 L598.8 440.5 L600.9 440.5 L603.0 440.5 L605.1 440.4 L607.3 440.4 L609.4 440.3 L611.5 440.3 L613.6 440.2 L615.8 440.1 L617.9 440.0 L620.0 440.0 L622.1 439.9 L624.3 439.8 L626.4 439.8 L628.5 439.8"/>
<path d="M522.3 440.0 L524.4 440.1 L526.5 440.3 L528.7 440.7 L530.8 441.1 L532.9 441.6 L535.0 442.0 L537.2 442.5 L539.3 442.9 L541.4 443.4 L543.5 443.8 L545.6 444.3 L547.8 444.8 L549.9 445.3 L552.0 445.8 L554.1 446.3 L556.3 446.8 L558.4 447.2 L560.5 447.5 L562.6 447.8 L564.8 448.0 L566.9 448.1 L569.0 448.1 L571.1 448.2 L573.3 448.2 L575.4 448.2 L577.5 448.0 L579.6 447.8 L581.8 447.6 L583.9 447.4 L586.0 447.3 L588.1 447.1 L590.3 447.0 L592.4 446.9 L594.5 446.8 L596.6 446.7 L598.8 446.6 L600.9 446.5 L603.0 446.5 L605.1 446.4 L607.3 446.4 L609.4 446.4 L611.5 446.3 L613.6 446.3 L615.8 446.2 L617.9 446.2 L620.0 446.1 L622.1 446.1 L624.3 446.0 L626.4 446.0 L628.5 446.0"/>
<path d="M522.3 453.0 L524.4 453.0 L526.5 452.9 L528.7 452.9 L530.8 452.8 L532.9 452.7 L535.0 452.6 L537.2 452.4 L539.3 452.3 L541.4 452.2 L543.5 452.0 L545.6 451.8 L547.8 451.7 L549.9 451.5 L552.0 451.3 L554.1 451.0 L556.3 450.8 L558.4 450.5 L560.5 450.2 L562.6 449.9 L564.8 449.6 L566.9 449.3 L569.0 449.1 L571.1 448.8 L573.3 448.6 L575.4 448.3"/>
<path d="M522.3 454.3 L524.4 454.3 L526.5 454.3 L528.7 454.3 L530.8 454.3 L532.9 454.3 L535.0 454.3 L537.2 454.3 L539.3 454.2 L541.4 454.1 L543.5 454.0 L545.6 453.8 L547.8 453.7 L549.9 453.5 L552.0 453.3 L554.1 453.1 L556.3 452.9 L558.4 452.6 L560.5 452.4 L562.6 452.2 L564.8 452.0 L566.9 451.8 L569.0 451.6 L571.1 451.4 L573.3 451.2 L575.4 451.0 L577.5 450.8 L579.6 450.6 L581.8 450.4 L583.9 450.2 L586.0 450.0 L588.1 449.8 L590.3 449.7 L592.4 449.5 L594.5 449.3 L596.6 449.1 L598.8 449.0 L600.9 448.8 L603.0 448.7 L605.1 448.5 L607.3 448.4 L609.4 448.3 L611.5 448.2 L613.6 448.1 L615.8 448.0 L617.9 447.9 L620.0 447.8 L622.1 447.8 L624.3 447.7 L626.4 447.7 L628.5 447.7"/>
<path d="M522.3 456.0 L524.4 456.0 L526.5 456.0 L528.7 456.1 L530.8 456.1 L532.9 456.2 L535.0 456.2 L537.2 456.3 L539.3 456.4 L541.4 456.4 L543.5 456.5 L545.6 456.5 L547.8 456.6 L549.9 456.6 L552.0 456.6 L554.1 456.6 L556.3 456.6 L558.4 456.5 L560.5 456.4 L562.6 456.4 L564.8 456.2 L566.9 456.1 L569.0 456.0 L571.1 455.8 L573.3 455.7 L575.4 455.5 L577.5 455.3 L579.6 455.0 L581.8 454.7 L583.9 454.4 L586.0 454.1 L588.1 453.7 L590.3 453.3 L592.4 452.8 L594.5 452.4 L596.6 452.0 L598.8 451.6 L600.9 451.2 L603.0 450.8 L605.1 450.5 L607.3 450.2 L609.4 450.0 L611.5 449.7 L613.6 449.4 L615.8 449.2 L617.9 449.0 L620.0 448.7 L622.1 448.6 L624.3 448.4 L626.4 448.4 L628.5 448.3"/>
<path d="M522.3 458.2 L524.4 458.2 L526.5 458.2 L528.7 458.1 L530.8 458.1 L532.9 458.0 L535.0 458.0 L537.2 458.0 L539.3 458.0 L541.4 458.0 L543.5 458.1 L545.6 458.2 L547.8 458.3 L549.9 458.4 L552.0 458.5 L554.1 458.6 L556.3 458.8 L558.4 458.9 L560.5 459.0 L562.6 459.1 L564.8 459.2 L566.9 459.3 L569.0 459.4 L571.1 459.5 L573.3 459.6 L575.4 459.7 L577.5 459.8 L579.6 459.9 L581.8 460.1 L583.9 460.2 L586.0 460.3 L588.1 460.5 L590.3 460.6 L592.4 460.7 L594.5 460.8 L596.6 460.9 L598.8 460.9 L600.9 461.0 L603.0 461.1 L605.1 461.1 L607.3 461.2 L609.4 461.3 L611.5 461.3 L613.6 461.4 L615.8 461.4 L617.9 461.5 L620.0 461.6 L622.1 461.6 L624.3 461.6 L626.4 461.7 L628.5 461.7"/>
<path d="M522.3 459.0 L524.4 459.0 L526.5 459.0 L528.7 458.9 L530.8 458.9 L532.9 458.8 L535.0 458.8 L537.2 458.7 L539.3 458.7 L541.4 458.7 L543.5 458.7 L545.6 458.7 L547.8 458.7 L549.9 458.8 L552.0 458.8 L554.1 458.9 L556.3 458.9 L558.4 459.0 L560.5 459.0 L562.6 459.1 L564.8 459.1 L566.9 459.1 L569.0 459.2 L571.1 459.2 L573.3 459.3 L575.4 459.3 L577.5 459.6 L579.6 459.9 L581.8 460.2 L583.9 460.4 L586.0 460.6 L588.1 460.8 L590.3 460.9 L592.4 461.0 L594.5 461.0 L596.6 461.0 L598.8 461.0 L600.9 460.9 L603.0 460.8 L605.1 460.7 L607.3 460.6 L609.4 460.5 L611.5 460.4 L613.6 460.3 L615.8 460.2 L617.9 460.2 L620.0 460.1 L622.1 460.1 L624.3 460.0 L626.4 460.0 L628.5 460.0"/>
<path d="M522.3 465.0 L524.4 465.0 L526.5 465.0 L528.7 465.0 L530.8 465.1 L532.9 465.1 L535.0 465.1 L537.2 465.1 L539.3 465.1 L541.4 465.2 L543.5 465.2 L545.6 465.2 L547.8 465.2 L549.9 465.2 L552.0 465.2 L554.1 465.2 L556.3 465.2 L558.4 465.1 L560.5 465.1 L562.6 465.1 L564.8 465.1 L566.9 465.1 L569.0 465.0 L571.1 465.0 L573.3 464.9 L575.4 464.8 L577.5 464.9 L579.6 465.0 L581.8 465.0 L583.9 465.1 L586.0 465.2 L588.1 465.4 L590.3 465.5 L592.4 465.6 L594.5 465.7 L596.6 465.9 L598.8 466.0 L600.9 466.2 L603.0 466.3 L605.1 466.4 L607.3 466.6 L609.4 466.7 L611.5 466.9 L613.6 467.0 L615.8 467.2 L617.9 467.3 L620.0 467.4 L622.1 467.5 L624.3 467.6 L626.4 467.6 L628.5 467.7"/>
<path d="M522.3 466.3 L524.4 466.3 L526.5 466.3 L528.7 466.3 L530.8 466.2 L532.9 466.2 L535.0 466.1 L537.2 466.0 L539.3 465.9 L541.4 465.9 L543.5 465.8 L545.6 465.7 L547.8 465.6 L549.9 465.5 L552.0 465.4 L554.1 465.3 L556.3 465.2 L558.4 465.1 L560.5 465.0 L562.6 465.0 L564.8 464.9 L566.9 464.9 L569.0 464.8 L571.1 464.8 L573.3 464.7 L575.4 464.7 L577.5 464.7 L579.6 464.7 L581.8 464.7 L583.9 464.7 L586.0 464.7 L588.1 464.7 L590.3 464.7 L592.4 464.7 L594.5 464.7 L596.6 464.7 L598.8 464.6 L600.9 464.6 L603.0 464.6 L605.1 464.5 L607.3 464.5 L609.4 464.4 L611.5 464.4 L613.6 464.4 L615.8 464.4 L617.9 464.4 L620.0 464.3 L622.1 464.3 L624.3 464.3 L626.4 464.3 L628.5 464.3"/>
<path d="M522.3 470.3 L524.4 470.3 L526.5 470.3 L528.7 470.2 L530.8 470.2 L532.9 470.1 L535.0 470.0 L537.2 469.9 L539.3 469.8 L541.4 469.8 L543.5 469.7 L545.6 469.6 L547.8 469.6 L549.9 469.5 L552.0 469.5 L554.1 469.4 L556.3 469.4 L558.4 469.4 L560.5 469.3 L562.6 469.3 L564.8 469.2 L566.9 469.2 L569.0 469.1 L571.1 469.1 L573.3 469.0 L575.4 469.0 L577.5 469.0 L579.6 469.0 L581.8 469.0 L583.9 469.0 L586.0 469.0 L588.1 469.0 L590.3 469.0 L592.4 469.0 L594.5 469.0 L596.6 469.0 L598.8 469.1 L600.9 469.1 L603.0 469.1 L605.1 469.2 L607.3 469.2 L609.4 469.3 L611.5 469.3 L613.6 469.4 L615.8 469.4 L617.9 469.5 L620.0 469.5 L622.1 469.6 L624.3 469.6 L626.4 469.7 L628.5 469.7"/>
<path d="M522.3 471.7 L524.4 471.7 L526.5 471.6 L528.7 471.6 L530.8 471.5 L532.9 471.4 L535.0 471.3 L537.2 471.2 L539.3 471.0 L541.4 470.9 L543.5 470.7 L545.6 470.6 L547.8 470.4 L549.9 470.3 L552.0 470.1 L554.1 469.9 L556.3 469.8 L558.4 469.6 L560.5 469.5 L562.6 469.4 L564.8 469.3 L566.9 469.2 L569.0 469.1 L571.1 469.0 L573.3 469.0 L575.4 469.0"/>
<path d="M575.4 408.0 L577.5 408.0 L579.6 408.0 L581.8 408.0 L583.9 408.1 L586.0 408.2 L588.1 408.2 L590.3 408.3 L592.4 408.5 L594.5 408.6 L596.6 408.8 L598.8 409.0 L600.9 409.2 L603.0 409.4 L605.1 409.6 L607.3 409.9 L609.4 410.1 L611.5 410.4 L613.6 410.7 L615.8 411.0 L617.9 411.3 L620.0 411.6 L622.1 411.8 L624.3 412.0 L626.4 412.1 L628.5 412.1"/>
</g>
<g clip-path="url(#c2)" stroke="#ff0000" stroke-width="2.30" fill="none" stroke-linejoin="round" stroke-linecap="square">
<path d="M645.0 174.7 L647.1 174.7 L649.2 174.7 L651.3 174.7 L653.5 174.8 L655.6 174.8 L657.7 174.8 L659.8 174.8 L661.9 174.9 L664.0 174.9 L666.1 175.0 L668.3 175.0 L670.4 175.1 L672.5 175.2 L674.6 175.2 L676.7 175.3 L678.8 175.4 L680.9 175.5 L683.0 175.6 L685.2 175.6 L687.3 175.7 L689.4 175.8 L691.5 175.9 L693.6 175.9 L695.7 176.0 L697.8 176.1 L700.0 176.1 L702.1 176.1 L704.2 176.2 L706.3 176.2"/>
<path d="M645.0 188.8 L647.1 188.8 L649.2 188.7 L651.3 188.5 L653.5 188.4 L655.6 188.1 L657.7 187.9 L659.8 187.6 L661.9 187.3 L664.0 186.9 L666.1 186.6 L668.3 186.3 L670.4 185.9 L672.5 185.6 L674.6 185.3 L676.7 185.1 L678.8 184.8 L680.9 184.6 L683.0 184.3 L685.2 184.2 L687.3 184.0 L689.4 183.8 L691.5 183.7 L693.6 183.6 L695.7 183.5 L697.8 183.4 L700.0 183.3 L702.1 183.3 L704.2 183.3 L706.3 183.3"/>
<path d="M645.0 188.8 L647.1 188.8 L649.2 188.9 L651.3 189.0 L653.5 189.1 L655.6 189.3 L657.7 189.5 L659.8 189.7 L661.9 189.9 L664.0 190.2 L666.1 190.4 L668.3 190.6 L670.4 190.9 L672.5 191.1 L674.6 191.3 L676.7 191.5 L678.8 191.7 L680.9 191.8 L683.0 192.0 L685.2 192.1 L687.3 192.2 L689.4 192.3 L691.5 192.4 L693.6 192.5 L695.7 192.6 L697.8 192.6 L700.0 192.6 L702.1 192.7 L704.2 192.7 L706.3 192.7"/>
<path d="M645.0 188.8 L647.1 188.8 L649.2 188.9 L651.3 189.1 L653.5 189.2 L655.6 189.5 L657.7 189.7 L659.8 190.0 L661.9 190.3 L664.0 190.6 L666.1 190.9 L668.3 191.3 L670.4 191.6 L672.5 192.0 L674.6 192.3 L676.7 192.6 L678.8 192.9 L680.9 193.2 L683.0 193.5 L685.2 193.8 L687.3 194.0 L689.4 194.2 L691.5 194.4 L693.6 194.6 L695.7 194.8 L697.8 194.9 L700.0 195.0 L702.1 195.1 L704.2 195.1 L706.3 195.1"/>
<path d="M645.0 206.3 L647.1 206.3 L649.2 206.3 L651.3 206.3 L653.5 206.3 L655.6 206.3 L657.7 206.2 L659.8 206.2 L661.9 206.2 L664.0 206.1 L666.1 206.0 L668.3 205.9 L670.4 205.8 L672.5 205.7 L674.6 205.6 L676.7 205.4 L678.8 205.3 L680.9 205.1 L683.0 204.9 L685.2 204.7 L687.3 204.5 L689.4 204.3 L691.5 204.1 L693.6 203.9 L695.7 203.8 L697.8 203.7 L700.0 203.5 L702.1 203.5 L704.2 203.4 L706.3 203.4"/>
<path d="M645.0 206.3 L647.1 206.3 L649.2 206.3 L651.3 206.3 L653.5 206.3 L655.6 206.4 L657.7 206.4 L659.8 206.4 L661.9 206.5 L664.0 206.5 L666.1 206.6 L668.3 206.6 L670.4 206.7 L672.5 206.7 L674.6 206.8 L676.7 206.9 L678.8 207.0 L680.9 207.1 L683.0 207.1 L685.2 207.2 L687.3 207.3 L689.4 207.4 L691.5 207.5 L693.6 207.5 L695.7 207.6 L697.8 207.7 L700.0 207.7 L702.1 207.7 L704.2 207.8 L706.3 207.8"/>
<path d="M645.0 220.4 L647.1 220.4 L649.2 220.3 L651.3 220.2 L653.5 220.1 L655.6 219.9 L657.7 219.7 L659.8 219.5 L661.9 219.3 L664.0 219.1 L666.1 218.9 L668.3 218.6 L670.4 218.4 L672.5 218.1 L674.6 217.9 L676.7 217.7 L678.8 217.5 L680.9 217.3 L683.0 217.1 L685.2 216.9 L687.3 216.7 L689.4 216.6 L691.5 216.5 L693.6 216.4 L695.7 216.3 L697.8 216.2 L700.0 216.1 L702.1 216.1 L704.2 216.0 L706.3 216.0"/>
<path d="M645.0 220.4 L647.1 220.4 L649.2 220.4 L651.3 220.4 L653.5 220.4 L655.6 220.3 L657.7 220.3 L659.8 220.3 L661.9 220.3 L664.0 220.3 L666.1 220.2 L668.3 220.2 L670.4 220.2 L672.5 220.2 L674.6 220.2 L676.7 220.2 L678.8 220.2 L680.9 220.2 L683.0 220.2 L685.2 220.2 L687.3 220.3 L689.4 220.3 L691.5 220.3 L693.6 220.3 L695.7 220.3 L697.8 220.4 L700.0 220.4 L702.1 220.4 L704.2 220.4 L706.3 220.4"/>
<path d="M645.0 220.4 L647.1 220.4 L649.2 220.5 L651.3 220.5 L653.5 220.6 L655.6 220.8 L657.7 220.9 L659.8 221.1 L661.9 221.3 L664.0 221.4 L666.1 221.6 L668.3 221.8 L670.4 222.0 L672.5 222.2 L674.6 222.4 L676.7 222.6 L678.8 222.7 L680.9 222.9 L683.0 223.0 L685.2 223.1 L687.3 223.3 L689.4 223.4 L691.5 223.5 L693.6 223.6 L695.7 223.6 L697.8 223.7 L700.0 223.7 L702.1 223.8 L704.2 223.8 L706.3 223.8"/>
<path d="M645.0 227.2 L647.1 227.2 L649.2 227.2 L651.3 227.2 L653.5 227.2 L655.6 227.1 L657.7 227.1 L659.8 227.1 L661.9 227.1 L664.0 227.1 L666.1 227.0 L668.3 227.0 L670.4 227.0 L672.5 227.0 L674.6 227.0 L676.7 227.0 L678.8 227.0 L680.9 227.0 L683.0 227.0 L685.2 227.1 L687.3 227.1 L689.4 227.1 L691.5 227.1 L693.6 227.1 L695.7 227.1 L697.8 227.2 L700.0 227.2 L702.1 227.2 L704.2 227.2 L706.3 227.2"/>
<path d="M645.0 346.8 L647.1 346.8 L649.2 346.8 L651.3 346.7 L653.5 346.7 L655.6 346.6 L657.7 346.5 L659.8 346.3 L661.9 346.2 L664.0 346.1 L666.1 345.9 L668.3 345.8 L670.4 345.6 L672.5 345.5 L674.6 345.3 L676.7 345.2 L678.8 345.0 L680.9 344.9 L683.0 344.8 L685.2 344.7 L687.3 344.5 L689.4 344.4 L691.5 344.3 L693.6 344.3 L695.7 344.2 L697.8 344.1 L700.0 344.1 L702.1 344.0 L704.2 344.0 L706.3 344.0"/>
<path d="M645.0 347.1 L647.1 347.1 L649.2 347.1 L651.3 347.1 L653.5 347.2 L655.6 347.2 L657.7 347.3 L659.8 347.4 L661.9 347.5 L664.0 347.5 L666.1 347.6 L668.3 347.7 L670.4 347.8 L672.5 347.9 L674.6 348.0 L676.7 348.1 L678.8 348.1 L680.9 348.2 L683.0 348.3 L685.2 348.4 L687.3 348.4 L689.4 348.5 L691.5 348.5 L693.6 348.6 L695.7 348.6 L697.8 348.7 L700.0 348.7 L702.1 348.7 L704.2 348.7 L706.3 348.8"/>
<path d="M645.0 347.5 L647.1 347.5 L649.2 347.5 L651.3 347.6 L653.5 347.6 L655.6 347.7 L657.7 347.7 L659.8 347.8 L661.9 347.9 L664.0 347.9 L666.1 348.0 L668.3 348.1 L670.4 348.2 L672.5 348.3 L674.6 348.4 L676.7 348.5 L678.8 348.6 L680.9 348.6 L683.0 348.7 L685.2 348.8 L687.3 348.8 L689.4 348.9 L691.5 349.0 L693.6 349.0 L695.7 349.1 L697.8 349.1 L700.0 349.1 L702.1 349.1 L704.2 349.2 L706.3 349.2"/>
<path d="M645.0 362.5 L647.1 362.5 L649.2 362.4 L651.3 362.3 L653.5 362.2 L655.6 362.0 L657.7 361.8 L659.8 361.6 L661.9 361.3 L664.0 361.1 L666.1 360.8 L668.3 360.6 L670.4 360.3 L672.5 360.1 L674.6 359.9 L676.7 359.7 L678.8 359.5 L680.9 359.3 L683.0 359.1 L685.2 359.0 L687.3 358.9 L689.4 358.8 L691.5 358.7 L693.6 358.6 L695.7 358.5 L697.8 358.4 L700.0 358.4 L702.1 358.4 L704.2 358.3 L706.3 358.3"/>
<path d="M645.0 362.9 L647.1 362.9 L649.2 362.9 L651.3 362.8 L653.5 362.7 L655.6 362.7 L657.7 362.6 L659.8 362.4 L661.9 362.3 L664.0 362.2 L666.1 362.1 L668.3 362.0 L670.4 361.8 L672.5 361.7 L674.6 361.6 L676.7 361.5 L678.8 361.4 L680.9 361.3 L683.0 361.2 L685.2 361.2 L687.3 361.1 L689.4 361.0 L691.5 361.0 L693.6 360.9 L695.7 360.9 L697.8 360.9 L700.0 360.9 L702.1 360.8 L704.2 360.8 L706.3 360.8"/>
<path d="M645.0 365.8 L647.1 365.8 L649.2 365.8 L651.3 365.8 L653.5 365.7 L655.6 365.7 L657.7 365.6 L659.8 365.5 L661.9 365.5 L664.0 365.4 L666.1 365.3 L668.3 365.2 L670.4 365.1 L672.5 365.0 L674.6 364.9 L676.7 364.9 L678.8 364.8 L680.9 364.7 L683.0 364.6 L685.2 364.6 L687.3 364.5 L689.4 364.4 L691.5 364.4 L693.6 364.3 L695.7 364.3 L697.8 364.2 L700.0 364.2 L702.1 364.2 L704.2 364.2 L706.3 364.2"/>
<path d="M645.0 366.7 L647.1 366.7 L649.2 366.7 L651.3 366.6 L653.5 366.6 L655.6 366.6 L657.7 366.6 L659.8 366.6 L661.9 366.6 L664.0 366.6 L666.1 366.6 L668.3 366.6 L670.4 366.6 L672.5 366.7 L674.6 366.7 L676.7 366.7 L678.8 366.8 L680.9 366.9 L683.0 366.9 L685.2 367.0 L687.3 367.1 L689.4 367.1 L691.5 367.2 L693.6 367.3 L695.7 367.3 L697.8 367.4 L700.0 367.4 L702.1 367.5 L704.2 367.5 L706.3 367.5"/>
<path d="M645.0 367.5 L647.1 367.5 L649.2 367.5 L651.3 367.5 L653.5 367.6 L655.6 367.6 L657.7 367.6 L659.8 367.7 L661.9 367.8 L664.0 367.8 L666.1 367.9 L668.3 368.0 L670.4 368.1 L672.5 368.3 L674.6 368.4 L676.7 368.6 L678.8 368.7 L680.9 368.9 L683.0 369.1 L685.2 369.3 L687.3 369.4 L689.4 369.6 L691.5 369.8 L693.6 369.9 L695.7 370.1 L697.8 370.2 L700.0 370.3 L702.1 370.4 L704.2 370.4 L706.3 370.4"/>
<path d="M645.0 367.9 L647.1 367.9 L649.2 368.0 L651.3 368.0 L653.5 368.1 L655.6 368.1 L657.7 368.2 L659.8 368.4 L661.9 368.5 L664.0 368.7 L666.1 368.8 L668.3 369.0 L670.4 369.3 L672.5 369.5 L674.6 369.7 L676.7 370.0 L678.8 370.3 L680.9 370.6 L683.0 370.8 L685.2 371.1 L687.3 371.4 L689.4 371.6 L691.5 371.8 L693.6 372.0 L695.7 372.1 L697.8 372.3 L700.0 372.4 L702.1 372.4 L704.2 372.5 L706.3 372.5"/>
<path d="M645.0 470.6 L647.1 470.6 L649.2 470.6 L651.3 470.7 L653.5 470.7 L655.6 470.7 L657.7 470.7 L659.8 470.8 L661.9 470.8 L664.0 470.9 L666.1 470.9 L668.3 471.0 L670.4 471.0 L672.5 471.1 L674.6 471.2 L676.7 471.2 L678.8 471.3 L680.9 471.4 L683.0 471.4 L685.2 471.5 L687.3 471.5 L689.4 471.6 L691.5 471.7 L693.6 471.7 L695.7 471.8 L697.8 471.8 L700.0 471.8 L702.1 471.9 L704.2 471.9 L706.3 471.9"/>
<path d="M645.0 471.2 L647.1 471.3 L649.2 471.3 L651.3 471.3 L653.5 471.3 L655.6 471.4 L657.7 471.4 L659.8 471.5 L661.9 471.5 L664.0 471.6 L666.1 471.6 L668.3 471.7 L670.4 471.8 L672.5 471.9 L674.6 472.0 L676.7 472.0 L678.8 472.1 L680.9 472.2 L683.0 472.3 L685.2 472.4 L687.3 472.4 L689.4 472.5 L691.5 472.5 L693.6 472.6 L695.7 472.6 L697.8 472.7 L700.0 472.7 L702.1 472.7 L704.2 472.7 L706.3 472.8"/>
<path d="M645.0 485.6 L647.1 485.6 L649.2 485.6 L651.3 485.5 L653.5 485.5 L655.6 485.4 L657.7 485.2 L659.8 485.1 L661.9 484.9 L664.0 484.7 L666.1 484.4 L668.3 484.2 L670.4 483.9 L672.5 483.6 L674.6 483.2 L676.7 482.8 L678.8 482.4 L680.9 482.1 L683.0 481.7 L685.2 481.3 L687.3 481.0 L689.4 480.7 L691.5 480.5 L693.6 480.2 L695.7 480.1 L697.8 480.0 L700.0 479.9 L702.1 479.8 L704.2 479.8 L706.3 479.7"/>
<path d="M645.0 485.6 L647.1 485.6 L649.2 485.6 L651.3 485.6 L653.5 485.6 L655.6 485.5 L657.7 485.5 L659.8 485.4 L661.9 485.3 L664.0 485.1 L666.1 484.9 L668.3 484.7 L670.4 484.5 L672.5 484.2 L674.6 483.9 L676.7 483.5 L678.8 483.2 L680.9 482.9 L683.0 482.6 L685.2 482.3 L687.3 482.1 L689.4 481.9 L691.5 481.8 L693.6 481.8 L695.7 481.9 L697.8 482.0 L700.0 482.1 L702.1 482.2 L704.2 482.2 L706.3 482.2"/>
<path d="M645.0 496.9 L647.1 496.9 L649.2 496.9 L651.3 496.9 L653.5 496.9 L655.6 496.9 L657.7 496.9 L659.8 496.9 L661.9 496.9 L664.0 496.9 L666.1 496.9 L668.3 496.9 L670.4 496.9 L672.5 496.9 L674.6 496.9 L676.7 496.9 L678.8 496.9 L680.9 496.9 L683.0 496.9 L685.2 496.9 L687.3 496.9 L689.4 496.9 L691.5 496.9 L693.6 496.9 L695.7 496.9 L697.8 496.9 L700.0 496.9 L702.1 496.9 L704.2 496.9 L706.3 496.9"/>
<path d="M645.0 500.0 L647.1 500.0 L649.2 500.0 L651.3 500.1 L653.5 500.1 L655.6 500.2 L657.7 500.3 L659.8 500.3 L661.9 500.4 L664.0 500.5 L666.1 500.6 L668.3 500.6 L670.4 500.6 L672.5 500.7 L674.6 500.7 L676.7 500.6 L678.8 500.6 L680.9 500.5 L683.0 500.4 L685.2 500.3 L687.3 500.2 L689.4 500.1 L691.5 499.9 L693.6 499.8 L695.7 499.7 L697.8 499.6 L700.0 499.5 L702.1 499.4 L704.2 499.4 L706.3 499.4"/>
<path d="M645.0 500.6 L647.1 500.6 L649.2 500.6 L651.3 500.7 L653.5 500.7 L655.6 500.8 L657.7 500.8 L659.8 500.9 L661.9 501.0 L664.0 501.1 L666.1 501.2 L668.3 501.3 L670.4 501.4 L672.5 501.5 L674.6 501.7 L676.7 501.8 L678.8 502.0 L680.9 502.1 L683.0 502.3 L685.2 502.5 L687.3 502.6 L689.4 502.8 L691.5 502.9 L693.6 503.1 L695.7 503.2 L697.8 503.3 L700.0 503.4 L702.1 503.4 L704.2 503.5 L706.3 503.5"/>
<path d="M645.0 506.2 L647.1 506.2 L649.2 506.2 L651.3 506.1 L653.5 506.0 L655.6 505.9 L657.7 505.8 L659.8 505.6 L661.9 505.5 L664.0 505.4 L666.1 505.2 L668.3 505.1 L670.4 505.0 L672.5 505.0 L674.6 505.0 L676.7 505.0 L678.8 505.0 L680.9 505.1 L683.0 505.3 L685.2 505.4 L687.3 505.6 L689.4 505.8 L691.5 506.0 L693.6 506.2 L695.7 506.4 L697.8 506.5 L700.0 506.7 L702.1 506.8 L704.2 506.8 L706.3 506.9"/>
<path d="M645.0 513.8 L647.1 513.7 L649.2 513.7 L651.3 513.7 L653.5 513.7 L655.6 513.6 L657.7 513.6 L659.8 513.5 L661.9 513.5 L664.0 513.4 L666.1 513.4 L668.3 513.3 L670.4 513.3 L672.5 513.2 L674.6 513.2 L676.7 513.1 L678.8 513.1 L680.9 513.1 L683.0 513.1 L685.2 513.1 L687.3 513.1 L689.4 513.1 L691.5 513.1 L693.6 513.1 L695.7 513.1 L697.8 513.1 L700.0 513.1 L702.1 513.1 L704.2 513.1 L706.3 513.1"/>
<path d="M645.0 516.9 L647.1 516.9 L649.2 516.9 L651.3 516.9 L653.5 516.9 L655.6 517.0 L657.7 517.0 L659.8 517.0 L661.9 517.1 L664.0 517.1 L666.1 517.2 L668.3 517.2 L670.4 517.3 L672.5 517.3 L674.6 517.4 L676.7 517.5 L678.8 517.5 L680.9 517.6 L683.0 517.7 L685.2 517.7 L687.3 517.8 L689.4 517.9 L691.5 517.9 L693.6 518.0 L695.7 518.0 L697.8 518.0 L700.0 518.1 L702.1 518.1 L704.2 518.1 L706.3 518.1"/>
<path d="M645.0 520.0 L647.1 520.0 L649.2 520.0 L651.3 520.1 L653.5 520.2 L655.6 520.3 L657.7 520.4 L659.8 520.5 L661.9 520.6 L664.0 520.7 L666.1 520.9 L668.3 521.1 L670.4 521.2 L672.5 521.4 L674.6 521.6 L676.7 521.8 L678.8 522.0 L680.9 522.2 L683.0 522.4 L685.2 522.6 L687.3 522.8 L689.4 522.9 L691.5 523.1 L693.6 523.3 L695.7 523.4 L697.8 523.5 L700.0 523.6 L702.1 523.7 L704.2 523.7 L706.3 523.7"/>
<path d="M645.0 402.4 L647.1 402.4 L649.2 402.4 L651.3 402.3 L653.5 402.1 L655.6 402.0 L657.7 401.8 L659.8 401.7 L661.9 401.5 L664.0 401.3 L666.1 401.1 L668.3 400.9 L670.4 400.7 L672.5 400.5 L674.6 400.3 L676.7 400.1 L678.8 400.0 L680.9 399.8 L683.0 399.7 L685.2 399.5 L687.3 399.4 L689.4 399.3 L691.5 399.2 L693.6 399.1 L695.7 399.1 L697.8 399.0 L700.0 399.0 L702.1 398.9 L704.2 398.9 L706.3 398.9"/>
<path d="M645.0 403.6 L647.1 403.6 L649.2 403.6 L651.3 403.5 L653.5 403.5 L655.6 403.4 L657.7 403.3 L659.8 403.2 L661.9 403.1 L664.0 403.0 L666.1 402.9 L668.3 402.8 L670.4 402.6 L672.5 402.5 L674.6 402.4 L676.7 402.3 L678.8 402.2 L680.9 402.1 L683.0 402.0 L685.2 401.9 L687.3 401.8 L689.4 401.7 L691.5 401.6 L693.6 401.6 L695.7 401.5 L697.8 401.5 L700.0 401.4 L702.1 401.4 L704.2 401.4 L706.3 401.4"/>
<path d="M645.0 405.1 L647.1 405.1 L649.2 405.0 L651.3 405.0 L653.5 405.0 L655.6 405.0 L657.7 405.0 L659.8 405.0 L661.9 405.0 L664.0 405.0 L666.1 404.9 L668.3 404.9 L670.4 404.9 L672.5 404.9 L674.6 404.9 L676.7 404.9 L678.8 404.9 L680.9 404.9 L683.0 404.9 L685.2 404.9 L687.3 404.9 L689.4 404.9 L691.5 404.9 L693.6 404.9 L695.7 404.9 L697.8 404.9 L700.0 404.9 L702.1 404.9 L704.2 404.9 L706.3 404.9"/>
<path d="M645.0 406.7 L647.1 406.7 L649.2 406.7 L651.3 406.7 L653.5 406.7 L655.6 406.7 L657.7 406.7 L659.8 406.7 L661.9 406.7 L664.0 406.7 L666.1 406.7 L668.3 406.7 L670.4 406.7 L672.5 406.7 L674.6 406.7 L676.7 406.6 L678.8 406.6 L680.9 406.6 L683.0 406.6 L685.2 406.6 L687.3 406.6 L689.4 406.6 L691.5 406.5 L693.6 406.5 L695.7 406.5 L697.8 406.5 L700.0 406.5 L702.1 406.5 L704.2 406.5 L706.3 406.5"/>
<path d="M645.0 408.5 L647.1 408.5 L649.2 408.5 L651.3 408.5 L653.5 408.5 L655.6 408.5 L657.7 408.5 L659.8 408.5 L661.9 408.5 L664.0 408.5 L666.1 408.5 L668.3 408.5 L670.4 408.5 L672.5 408.4 L674.6 408.4 L676.7 408.4 L678.8 408.4 L680.9 408.3 L683.0 408.3 L685.2 408.3 L687.3 408.3 L689.4 408.2 L691.5 408.2 L693.6 408.2 L695.7 408.2 L697.8 408.1 L700.0 408.1 L702.1 408.1 L704.2 408.1 L706.3 408.1"/>
<path d="M645.0 410.2 L647.1 410.2 L649.2 410.2 L651.3 410.2 L653.5 410.2 L655.6 410.2 L657.7 410.2 L659.8 410.2 L661.9 410.2 L664.0 410.2 L666.1 410.2 L668.3 410.2 L670.4 410.2 L672.5 410.2 L674.6 410.2 L676.7 410.2 L678.8 410.1 L680.9 410.1 L683.0 410.1 L685.2 410.1 L687.3 410.0 L689.4 410.0 L691.5 410.0 L693.6 410.0 L695.7 409.9 L697.8 409.9 L700.0 409.9 L702.1 409.9 L704.2 409.9 L706.3 409.9"/>
<path d="M645.0 412.0 L647.1 412.0 L649.2 412.0 L651.3 412.0 L653.5 412.0 L655.6 412.0 L657.7 412.0 L659.8 412.0 L661.9 412.0 L664.0 412.0 L666.1 412.0 L668.3 412.0 L670.4 412.0 L672.5 412.0 L674.6 412.0 L676.7 412.0 L678.8 412.0 L680.9 412.0 L683.0 412.0 L685.2 412.0 L687.3 412.0 L689.4 412.0 L691.5 412.0 L693.6 412.0 L695.7 412.0 L697.8 412.0 L700.0 412.0 L702.1 412.0 L704.2 412.0 L706.3 412.0"/>
<path d="M645.0 413.8 L647.1 413.8 L649.2 413.8 L651.3 413.8 L653.5 413.8 L655.6 413.8 L657.7 413.8 L659.8 413.8 L661.9 413.8 L664.0 413.8 L666.1 413.8 L668.3 413.8 L670.4 413.8 L672.5 413.8 L674.6 413.8 L676.7 413.8 L678.8 413.8 L680.9 413.8 L683.0 413.8 L685.2 413.8 L687.3 413.8 L689.4 413.8 L691.5 413.8 L693.6 413.8 L695.7 413.8 L697.8 413.8 L700.0 413.8 L702.1 413.8 L704.2 413.8 L706.3 413.8"/>
<path d="M645.0 415.5 L647.1 415.5 L649.2 415.5 L651.3 415.5 L653.5 415.5 L655.6 415.5 L657.7 415.5 L659.8 415.5 L661.9 415.5 L664.0 415.5 L666.1 415.5 L668.3 415.5 L670.4 415.5 L672.5 415.6 L674.6 415.6 L676.7 415.6 L678.8 415.6 L680.9 415.6 L683.0 415.7 L685.2 415.7 L687.3 415.7 L689.4 415.8 L691.5 415.8 L693.6 415.8 L695.7 415.8 L697.8 415.8 L700.0 415.9 L702.1 415.9 L704.2 415.9 L706.3 415.9"/>
<path d="M645.0 417.3 L647.1 417.3 L649.2 417.3 L651.3 417.4 L653.5 417.4 L655.6 417.5 L657.7 417.6 L659.8 417.7 L661.9 417.7 L664.0 417.8 L666.1 417.9 L668.3 418.0 L670.4 418.0 L672.5 418.1 L674.6 418.1 L676.7 418.1 L678.8 418.1 L680.9 418.1 L683.0 418.1 L685.2 418.1 L687.3 418.1 L689.4 418.1 L691.5 418.1 L693.6 418.1 L695.7 418.1 L697.8 418.1 L700.0 418.0 L702.1 418.0 L704.2 418.0 L706.3 418.0"/>
<path d="M645.0 418.7 L647.1 418.7 L649.2 418.8 L651.3 418.8 L653.5 418.9 L655.6 419.0 L657.7 419.1 L659.8 419.2 L661.9 419.3 L664.0 419.5 L666.1 419.6 L668.3 419.7 L670.4 419.8 L672.5 419.9 L674.6 419.9 L676.7 420.0 L678.8 420.0 L680.9 420.1 L683.0 420.1 L685.2 420.1 L687.3 420.2 L689.4 420.2 L691.5 420.2 L693.6 420.2 L695.7 420.2 L697.8 420.2 L700.0 420.1 L702.1 420.1 L704.2 420.1 L706.3 420.1"/>
<path d="M645.0 426.2 L647.1 426.2 L649.2 426.1 L651.3 426.1 L653.5 426.1 L655.6 426.0 L657.7 426.0 L659.8 425.9 L661.9 425.9 L664.0 425.8 L666.1 425.8 L668.3 425.7 L670.4 425.6 L672.5 425.5 L674.6 425.4 L676.7 425.3 L678.8 425.2 L680.9 425.1 L683.0 425.0 L685.2 424.9 L687.3 424.9 L689.4 424.8 L691.5 424.7 L693.6 424.6 L695.7 424.6 L697.8 424.5 L700.0 424.4 L702.1 424.4 L704.2 424.4 L706.3 424.4"/>
<path d="M645.0 427.6 L647.1 427.6 L649.2 427.6 L651.3 427.6 L653.5 427.6 L655.6 427.6 L657.7 427.6 L659.8 427.6 L661.9 427.6 L664.0 427.6 L666.1 427.6 L668.3 427.6 L670.4 427.6 L672.5 427.5 L674.6 427.5 L676.7 427.5 L678.8 427.4 L680.9 427.4 L683.0 427.3 L685.2 427.3 L687.3 427.2 L689.4 427.1 L691.5 427.1 L693.6 427.0 L695.7 427.0 L697.8 426.9 L700.0 426.9 L702.1 426.9 L704.2 426.9 L706.3 426.9"/>
<path d="M645.0 425.8 L647.1 425.8 L649.2 425.8 L651.3 425.8 L653.5 425.8 L655.6 425.8 L657.7 425.8 L659.8 425.8 L661.9 425.8 L664.0 425.8 L666.1 425.8 L668.3 425.8 L670.4 425.8 L672.5 425.8 L674.6 425.7 L676.7 425.7 L678.8 425.7 L680.9 425.7 L683.0 425.6 L685.2 425.6 L687.3 425.6 L689.4 425.6 L691.5 425.5 L693.6 425.5 L695.7 425.5 L697.8 425.5 L700.0 425.4 L702.1 425.4 L704.2 425.4 L706.3 425.4"/>
<path d="M645.0 427.5 L647.1 427.5 L649.2 427.5 L651.3 427.5 L653.5 427.5 L655.6 427.5 L657.7 427.5 L659.8 427.5 L661.9 427.5 L664.0 427.5 L666.1 427.5 L668.3 427.5 L670.4 427.5 L672.5 427.5 L674.6 427.5 L676.7 427.5 L678.8 427.5 L680.9 427.5 L683.0 427.5 L685.2 427.5 L687.3 427.5 L689.4 427.5 L691.5 427.5 L693.6 427.5 L695.7 427.5 L697.8 427.5 L700.0 427.5 L702.1 427.5 L704.2 427.5 L706.3 427.5"/>
<path d="M645.0 429.5 L647.1 429.5 L649.2 429.5 L651.3 429.5 L653.5 429.6 L655.6 429.6 L657.7 429.6 L659.8 429.6 L661.9 429.6 L664.0 429.6 L666.1 429.6 L668.3 429.7 L670.4 429.7 L672.5 429.7 L674.6 429.7 L676.7 429.7 L678.8 429.7 L680.9 429.7 L683.0 429.7 L685.2 429.7 L687.3 429.7 L689.4 429.7 L691.5 429.7 L693.6 429.7 L695.7 429.7 L697.8 429.7 L700.0 429.7 L702.1 429.7 L704.2 429.7 L706.3 429.7"/>
<path d="M645.0 438.2 L647.1 438.1 L649.2 437.8 L651.3 437.3 L653.5 436.8 L655.6 436.1 L657.7 435.5 L659.8 434.8 L661.9 434.2 L664.0 433.7 L666.1 433.4 L668.3 433.1 L670.4 432.8 L672.5 432.7 L674.6 432.6 L676.7 432.6 L678.8 432.5 L680.9 432.5 L683.0 432.5 L685.2 432.5 L687.3 432.4 L689.4 432.4 L691.5 432.3 L693.6 432.2 L695.7 432.1 L697.8 432.0 L700.0 431.9 L702.1 431.8 L704.2 431.8 L706.3 431.8"/>
<path d="M645.0 438.5 L647.1 438.5 L649.2 438.3 L651.3 438.0 L653.5 437.7 L655.6 437.4 L657.7 437.0 L659.8 436.6 L661.9 436.2 L664.0 435.9 L666.1 435.7 L668.3 435.4 L670.4 435.3 L672.5 435.1 L674.6 435.0 L676.7 434.9 L678.8 434.8 L680.9 434.7 L683.0 434.7 L685.2 434.6 L687.3 434.5 L689.4 434.4 L691.5 434.3 L693.6 434.2 L695.7 434.2 L697.8 434.1 L700.0 434.0 L702.1 434.0 L704.2 433.9 L706.3 433.9"/>
<path d="M645.0 438.9 L647.1 438.9 L649.2 438.8 L651.3 438.7 L653.5 438.6 L655.6 438.5 L657.7 438.4 L659.8 438.3 L661.9 438.2 L664.0 438.1 L666.1 438.1 L668.3 438.0 L670.4 438.0 L672.5 438.0 L674.6 438.0 L676.7 438.0 L678.8 438.1 L680.9 438.1 L683.0 438.1 L685.2 438.2 L687.3 438.2 L689.4 438.3 L691.5 438.3 L693.6 438.4 L695.7 438.4 L697.8 438.4 L700.0 438.5 L702.1 438.5 L704.2 438.5 L706.3 438.5"/>
<path d="M645.0 439.2 L647.1 439.2 L649.2 439.3 L651.3 439.4 L653.5 439.5 L655.6 439.6 L657.7 439.7 L659.8 439.8 L661.9 439.9 L664.0 440.0 L666.1 440.0 L668.3 440.1 L670.4 440.1 L672.5 440.2 L674.6 440.2 L676.7 440.2 L678.8 440.3 L680.9 440.3 L683.0 440.3 L685.2 440.3 L687.3 440.3 L689.4 440.3 L691.5 440.3 L693.6 440.4 L695.7 440.4 L697.8 440.4 L700.0 440.4 L702.1 440.4 L704.2 440.4 L706.3 440.4"/>
<path d="M645.0 439.6 L647.1 439.6 L649.2 439.8 L651.3 440.0 L653.5 440.3 L655.6 440.6 L657.7 440.9 L659.8 441.2 L661.9 441.5 L664.0 441.8 L666.1 442.0 L668.3 442.2 L670.4 442.3 L672.5 442.5 L674.6 442.5 L676.7 442.6 L678.8 442.7 L680.9 442.7 L683.0 442.7 L685.2 442.8 L687.3 442.8 L689.4 442.9 L691.5 442.9 L693.6 443.0 L695.7 443.0 L697.8 443.0 L700.0 443.1 L702.1 443.1 L704.2 443.1 L706.3 443.1"/>
<path d="M645.0 439.9 L647.1 440.0 L649.2 440.2 L651.3 440.6 L653.5 441.1 L655.6 441.6 L657.7 442.2 L659.8 442.8 L661.9 443.4 L664.0 444.1 L666.1 444.7 L668.3 445.2 L670.4 445.8 L672.5 446.3 L674.6 446.8 L676.7 447.2 L678.8 447.6 L680.9 448.0 L683.0 448.4 L685.2 448.7 L687.3 449.0 L689.4 449.3 L691.5 449.5 L693.6 449.7 L695.7 449.8 L697.8 450.0 L700.0 450.1 L702.1 450.1 L704.2 450.2 L706.3 450.2"/>
<path d="M645.0 453.7 L647.1 453.7 L649.2 453.7 L651.3 453.5 L653.5 453.4 L655.6 453.2 L657.7 453.0 L659.8 452.8 L661.9 452.5 L664.0 452.2 L666.1 451.9 L668.3 451.6 L670.4 451.3 L672.5 451.0 L674.6 450.7 L676.7 450.4 L678.8 450.2 L680.9 449.9 L683.0 449.7 L685.2 449.5 L687.3 449.3 L689.4 449.1 L691.5 448.9 L693.6 448.8 L695.7 448.6 L697.8 448.4 L700.0 448.3 L702.1 448.2 L704.2 448.1 L706.3 448.1"/>
<path d="M645.0 455.2 L647.1 455.2 L649.2 455.2 L651.3 455.2 L653.5 455.2 L655.6 455.2 L657.7 455.2 L659.8 455.2 L661.9 455.2 L664.0 455.1 L666.1 455.0 L668.3 454.9 L670.4 454.8 L672.5 454.7 L674.6 454.5 L676.7 454.3 L678.8 454.2 L680.9 454.0 L683.0 453.8 L685.2 453.7 L687.3 453.6 L689.4 453.5 L691.5 453.4 L693.6 453.3 L695.7 453.2 L697.8 453.1 L700.0 453.1 L702.1 453.1 L704.2 453.0 L706.3 453.0"/>
<path d="M645.0 456.9 L647.1 456.9 L649.2 456.9 L651.3 457.0 L653.5 457.0 L655.6 457.0 L657.7 457.0 L659.8 457.0 L661.9 457.0 L664.0 456.9 L666.1 456.9 L668.3 456.8 L670.4 456.7 L672.5 456.6 L674.6 456.5 L676.7 456.3 L678.8 456.2 L680.9 456.1 L683.0 456.0 L685.2 455.8 L687.3 455.7 L689.4 455.6 L691.5 455.5 L693.6 455.4 L695.7 455.3 L697.8 455.3 L700.0 455.2 L702.1 455.2 L704.2 455.2 L706.3 455.2"/>
<path d="M645.0 458.7 L647.1 458.7 L649.2 458.7 L651.3 458.7 L653.5 458.6 L655.6 458.6 L657.7 458.6 L659.8 458.5 L661.9 458.5 L664.0 458.5 L666.1 458.4 L668.3 458.4 L670.4 458.4 L672.5 458.3 L674.6 458.3 L676.7 458.2 L678.8 458.2 L680.9 458.1 L683.0 458.0 L685.2 458.0 L687.3 457.9 L689.4 457.8 L691.5 457.7 L693.6 457.6 L695.7 457.5 L697.8 457.4 L700.0 457.4 L702.1 457.3 L704.2 457.3 L706.3 457.3"/>
<path d="M645.0 464.7 L647.1 464.7 L649.2 464.6 L651.3 464.6 L653.5 464.4 L655.6 464.3 L657.7 464.1 L659.8 464.0 L661.9 463.8 L664.0 463.6 L666.1 463.4 L668.3 463.2 L670.4 463.0 L672.5 462.8 L674.6 462.5 L676.7 462.3 L678.8 462.1 L680.9 461.9 L683.0 461.7 L685.2 461.5 L687.3 461.3 L689.4 461.1 L691.5 460.9 L693.6 460.7 L695.7 460.5 L697.8 460.4 L700.0 460.3 L702.1 460.2 L704.2 460.1 L706.3 460.1"/>
<path d="M645.0 466.5 L647.1 466.5 L649.2 466.5 L651.3 466.4 L653.5 466.3 L655.6 466.2 L657.7 466.1 L659.8 466.0 L661.9 465.9 L664.0 465.7 L666.1 465.6 L668.3 465.4 L670.4 465.2 L672.5 465.0 L674.6 464.8 L676.7 464.6 L678.8 464.4 L680.9 464.1 L683.0 463.9 L685.2 463.7 L687.3 463.6 L689.4 463.4 L691.5 463.2 L693.6 463.1 L695.7 462.9 L697.8 462.8 L700.0 462.7 L702.1 462.7 L704.2 462.6 L706.3 462.6"/>
<path d="M645.0 470.0 L647.1 470.0 L649.2 470.0 L651.3 470.0 L653.5 470.0 L655.6 469.9 L657.7 469.9 L659.8 469.8 L661.9 469.7 L664.0 469.6 L666.1 469.6 L668.3 469.5 L670.4 469.4 L672.5 469.3 L674.6 469.1 L676.7 469.0 L678.8 468.9 L680.9 468.8 L683.0 468.7 L685.2 468.6 L687.3 468.5 L689.4 468.4 L691.5 468.3 L693.6 468.2 L695.7 468.1 L697.8 468.0 L700.0 468.0 L702.1 467.9 L704.2 467.9 L706.3 467.9"/>
<path d="M645.0 471.6 L647.1 471.6 L649.2 471.6 L651.3 471.6 L653.5 471.6 L655.6 471.5 L657.7 471.5 L659.8 471.5 L661.9 471.5 L664.0 471.4 L666.1 471.4 L668.3 471.4 L670.4 471.4 L672.5 471.3 L674.6 471.3 L676.7 471.2 L678.8 471.2 L680.9 471.2 L683.0 471.1 L685.2 471.1 L687.3 471.0 L689.4 471.0 L691.5 470.9 L693.6 470.9 L695.7 470.9 L697.8 470.8 L700.0 470.8 L702.1 470.8 L704.2 470.7 L706.3 470.7"/>
<path d="M645.0 473.6 L647.1 473.6 L649.2 473.6 L651.3 473.6 L653.5 473.6 L655.6 473.6 L657.7 473.6 L659.8 473.6 L661.9 473.6 L664.0 473.6 L666.1 473.6 L668.3 473.6 L670.4 473.6 L672.5 473.6 L674.6 473.6 L676.7 473.6 L678.8 473.6 L680.9 473.6 L683.0 473.6 L685.2 473.6 L687.3 473.6 L689.4 473.6 L691.5 473.6 L693.6 473.6 L695.7 473.6 L697.8 473.6 L700.0 473.6 L702.1 473.6 L704.2 473.6 L706.3 473.6"/>
</g>
<g clip-path="url(#c3)" fill="none" stroke-linejoin="round">
<path d="M723.0 152.0 L723.0 152.5 L723.0 153.0 L723.0 153.5 L723.0 154.0 L723.0 154.5 L723.0 155.0 L723.0 155.5 L723.0 156.0 L723.0 156.5 L723.0 157.0 L723.0 157.5 L723.0 158.0 L723.0 158.5 L723.0 159.0 L723.0 159.5 L723.0 160.0 L723.0 160.5 L723.0 161.0 L723.0 161.5 L723.0 162.0 L723.0 162.5 L723.0 163.0 L723.0 163.5 L723.0 164.0 L723.0 164.5 L723.0 165.0 L723.0 165.5 L723.0 166.0 L723.0 166.5 L723.0 167.0 L723.0 167.5 L723.0 168.0 L723.0 168.5 L723.0 169.0 L723.0 169.5 L723.0 170.0 L723.7 170.5 L724.6 171.0 L725.4 171.5 L726.2 172.0 L727.0 172.5 L727.8 173.0 L728.6 173.5 L729.4 174.0 L737.3 174.5 L751.5 175.0 L765.6 175.5 L764.3 176.0 L753.5 176.5 L742.6 177.0 L736.1 177.5 L731.5 178.0 L726.8 178.5 L726.1 179.0 L726.5 179.5 L726.9 180.0 L727.3 180.5 L727.7 181.0 L734.6 181.5 L741.9 182.0 L749.2 182.5 L754.7 183.0 L759.1 183.5 L748.6 184.0 L738.9 184.5 L734.7 185.0 L730.6 185.5 L727.4 186.0 L727.9 186.5 L728.4 187.0 L728.9 187.5 L729.4 188.0 L730.0 188.5 L730.8 189.0 L731.6 189.5 L732.4 190.0 L733.2 190.5 L733.7 191.0 L733.9 191.5 L734.1 192.0 L734.3 192.5 L734.5 193.0 L735.8 193.5 L737.8 194.0 L739.8 194.5 L741.8 195.0 L743.7 195.5 L745.4 196.0 L747.2 196.5 L748.9 197.0 L745.1 197.5 L740.5 198.0 L735.8 198.5 L735.7 199.0 L735.9 199.5 L736.1 200.0 L736.3 200.5 L736.6 201.0 L737.2 201.5 L737.8 202.0 L738.4 202.5 L739.0 203.0 L740.0 203.5 L742.5 204.0 L745.0 204.5 L747.5 205.0 L753.6 205.5 L759.7 206.0 L753.9 206.5 L748.2 207.0 L742.4 207.5 L738.0 208.0 L735.0 208.5 L732.0 209.0 L729.0 209.5 L727.6 210.0 L727.4 210.5 L727.1 211.0 L726.9 211.5 L727.7 212.0 L728.9 212.5 L730.2 213.0 L731.4 213.5 L733.5 214.0 L735.7 214.5 L737.9 215.0 L740.1 215.5 L742.3 216.0 L743.6 216.5 L744.8 217.0 L746.1 217.5 L747.0 218.0 L744.4 218.5 L741.7 219.0 L740.1 219.5 L744.4 220.0 L748.8 220.5 L750.2 221.0 L742.6 221.5 L734.9 222.0 L730.1 222.5 L731.4 223.0 L732.6 223.5 L733.9 224.0 L741.6 224.5 L757.6 225.0 L773.6 225.5 L789.6 226.0 L790.0 226.5 L777.8 227.0 L765.5 227.5 L753.3 228.0 L743.8 228.5 L735.8 229.0 L727.8 229.5 L725.2 230.0 L724.4 230.5 L723.5 231.0 L723.0 231.5 L723.0 232.0 L723.0 232.5 L723.0 233.0 L723.0 233.5 L723.0 234.0 L723.0 234.5 L723.0 235.0 L723.0 235.5 L723.0 236.0 L723.0 236.5 L723.0 237.0 L723.0 237.5 L723.0 238.0 L723.0 238.5 L723.0 239.0 L723.0 239.5 L723.0 240.0 L723.0 240.5 L723.0 241.0 L723.0 241.5 L723.0 242.0 L723.0 242.5 L723.0 243.0 L723.0 243.5 L723.0 244.0 L723.0 244.5 L723.0 245.0 L723.0 245.5 L723.0 246.0 L723.0 246.5 L723.0 247.0 L723.0 247.5 L723.0 248.0 L723.0 248.5 L723.0 249.0 L723.0 249.5 L723.0 250.0 L723.0 250.5 L723.0 251.0 L723.0 251.5 L723.0 252.0 L723.0 252.5 L723.0 253.0 L723.0 253.5 L723.0 254.0 L723.0 254.5 L723.0 255.0 L723.0 255.5 L723.0 256.0 L723.0 256.5 L723.0 257.0 L723.0 257.5 L723.0 258.0 L723.0 258.5 L723.0 259.0 L723.0 259.5 L723.0 260.0 L723.0 260.5 L723.0 261.0 L723.0 261.5 L723.0 262.0 L723.0 262.5 L723.0 263.0 L723.0 263.5 L723.0 264.0 L723.0 264.5 L723.0 265.0 L723.0 265.5 L723.0 266.0 L723.0 266.5 L723.0 267.0 L723.0 267.5 L723.0 268.0 L723.0 268.5 L723.0 269.0 L723.0 269.5 L723.0 270.0 L723.0 270.5 L723.0 271.0 L723.0 271.5 L723.0 272.0 L723.0 272.5 L723.0 273.0 L723.0 273.5 L723.0 274.0 L723.0 274.5 L723.0 275.0 L723.0 275.5 L723.0 276.0 L723.0 276.5 L723.0 277.0 L723.0 277.5 L723.0 278.0 L723.0 278.5 L723.0 279.0 L723.0 279.5 L723.0 280.0 L723.0 280.5 L723.0 281.0 L723.0 281.5 L723.0 282.0 L723.0 282.5 L723.0 283.0 L723.0 283.5 L723.0 284.0 L723.0 284.5 L723.0 285.0 L723.0 285.5 L723.0 286.0 L723.0 286.5 L723.0 287.0 L723.0 287.5 L723.0 288.0 L723.0 288.5 L723.0 289.0 L723.0 289.5 L723.0 290.0 L723.0 290.5 L723.0 291.0 L723.0 291.5 L723.0 292.0 L723.0 292.5 L723.0 293.0 L723.0 293.5 L723.0 294.0 L723.0 294.5 L723.0 295.0 L723.0 295.5 L723.0 296.0 L723.0 296.5 L723.0 297.0 L723.0 297.5 L723.0 298.0 L723.0 298.5 L723.0 299.0 L723.0 299.5 L723.0 300.0 L723.0 300.5 L723.0 301.0 L723.0 301.5 L723.0 302.0 L723.0 302.5 L723.0 303.0 L723.0 303.5 L723.0 304.0 L723.0 304.5 L723.0 305.0 L723.0 305.5 L723.0 306.0 L723.0 306.5 L723.0 307.0 L723.0 307.5 L723.0 308.0 L723.0 308.5 L723.0 309.0 L723.0 309.5 L723.0 310.0 L723.0 310.5 L723.0 311.0 L723.0 311.5 L723.0 312.0 L723.0 312.5 L723.0 313.0 L723.0 313.5 L723.0 314.0 L723.0 314.5 L723.0 315.0 L723.0 315.5 L723.0 316.0 L723.0 316.5 L723.0 317.0 L723.0 317.5 L723.0 318.0 L723.0 318.5 L723.0 319.0 L723.0 319.5 L723.0 320.0 L723.0 320.5 L723.0 321.0 L723.0 321.5 L723.0 322.0 L723.0 322.5 L723.0 323.0 L723.0 323.5 L723.0 324.0 L723.0 324.5 L723.0 325.0 L723.0 325.5 L723.0 326.0 L723.0 326.5 L723.0 327.0 L723.0 327.5 L723.0 328.0 L723.0 328.5 L723.0 329.0 L723.0 329.5 L723.0 330.0 L723.0 330.5 L723.0 331.0 L723.0 331.5 L723.0 332.0 L723.0 332.5 L723.0 333.0 L723.0 333.5 L723.0 334.0 L723.0 334.5 L723.6 335.0 L724.0 335.5 L724.7 336.0 L725.5 336.5 L726.2 337.0 L727.2 337.5 L728.2 338.0 L729.2 338.5 L730.2 339.0 L731.2 339.5 L732.2 340.0 L734.1 340.5 L736.4 341.0 L738.8 341.5 L741.1 342.0 L743.4 342.5 L739.8 343.0 L736.1 343.5 L732.4 344.0 L728.8 344.5 L726.6 345.0 L727.6 345.5 L728.6 346.0 L736.7 346.5 L775.7 347.0 L814.7 347.5 L849.5 348.0 L821.0 348.5 L792.5 349.0 L764.1 349.5 L735.6 350.0 L732.7 350.5 L729.8 351.0 L726.9 351.5 L724.7 352.0 L724.5 352.5 L724.4 353.0 L724.3 353.5 L724.2 354.0 L724.0 354.5 L723.9 355.0 L724.3 355.5 L724.7 356.0 L725.0 356.5 L725.4 357.0 L725.8 357.5 L726.2 358.0 L754.8 358.5 L785.2 359.0 L782.9 359.5 L780.5 360.0 L778.2 360.5 L775.9 361.0 L779.4 361.5 L788.8 362.0 L798.1 362.5 L776.7 363.0 L755.3 363.5 L746.4 364.0 L743.5 364.5 L750.2 365.0 L756.9 365.5 L763.5 366.0 L769.9 366.5 L775.9 367.0 L781.9 367.5 L783.2 368.0 L776.6 368.5 L770.1 369.0 L763.6 369.5 L760.6 370.0 L765.6 370.5 L770.6 371.0 L770.5 371.5 L748.4 372.0 L726.2 372.5 L725.7 373.0 L725.1 373.5 L724.5 374.0 L723.9 374.5 L723.6 375.0 L723.0 375.5 L723.0 376.0 L723.0 376.5 L723.0 377.0 L723.0 377.5 L723.0 378.0 L723.0 378.5 L723.0 379.0 L723.0 379.5 L723.0 380.0 L723.0 380.5 L723.0 381.0 L723.0 381.5 L723.0 382.0 L723.0 382.5 L723.0 383.0 L723.0 383.5 L723.0 384.0 L723.0 384.5 L723.0 385.0 L723.0 385.5 L723.0 386.0 L723.0 386.5 L723.0 387.0 L723.0 387.5 L723.0 388.0 L723.0 388.5 L723.0 389.0 L723.0 389.5 L723.0 390.0 L723.0 390.5 L723.0 391.0 L723.0 391.5 L723.0 392.0 L723.0 392.5 L723.0 393.0 L723.0 393.5 L723.0 394.0 L723.0 394.5 L723.0 395.0 L723.0 395.5 L723.0 396.0 L724.9 396.5 L726.3 397.0 L727.6 397.5 L728.9 398.0 L730.6 398.5 L732.2 399.0 L733.8 399.5 L735.5 400.0 L733.6 400.5 L731.5 401.0 L729.3 401.5 L727.2 402.0 L727.2 402.5 L727.3 403.0 L727.5 403.5 L727.7 404.0 L727.9 404.5 L728.1 405.0 L728.3 405.5 L728.5 406.0 L730.7 406.5 L733.2 407.0 L735.6 407.5 L738.0 408.0 L737.5 408.5 L736.6 409.0 L735.7 409.5 L734.9 410.0 L738.1 410.5 L741.7 411.0 L745.2 411.5 L748.8 412.0 L745.5 412.5 L741.6 413.0 L737.7 413.5 L733.8 414.0 L735.9 414.5 L738.6 415.0 L741.2 415.5 L743.9 416.0 L741.2 416.5 L738.0 417.0 L734.8 417.5 L731.6 418.0 L734.2 418.5 L737.4 419.0 L740.6 419.5 L743.8 420.0 L741.2 420.5 L738.1 421.0 L735.0 421.5 L732.0 422.0 L734.9 422.5 L738.4 423.0 L741.9 423.5 L745.4 424.0 L742.9 424.5 L739.8 425.0 L736.7 425.5 L733.6 426.0 L736.2 426.5 L739.4 427.0 L742.5 427.5 L745.7 428.0 L743.0 428.5 L739.7 429.0 L736.4 429.5 L733.2 430.0 L735.1 430.5 L737.6 431.0 L740.1 431.5 L742.6 432.0 L740.0 432.5 L736.9 433.0 L733.9 433.5 L730.9 434.0 L730.1 434.5 L729.7 435.0 L729.2 435.5 L728.7 436.0 L727.7 436.5 L726.6 437.0 L725.6 437.5 L724.5 438.0 L725.5 438.5 L726.6 439.0 L727.7 439.5 L728.8 440.0 L727.8 440.5 L726.6 441.0 L725.4 441.5 L724.2 442.0 L726.2 442.5 L728.4 443.0 L730.7 443.5 L733.0 444.0 L731.6 444.5 L729.8 445.0 L728.0 445.5 L726.3 446.0 L728.4 446.5 L730.9 447.0 L733.4 447.5 L736.0 448.0 L733.5 448.5 L730.5 449.0 L727.6 449.5 L724.7 450.0 L726.9 450.5 L729.5 451.0 L732.2 451.5 L734.9 452.0 L733.0 452.5 L730.7 453.0 L728.4 453.5 L726.1 454.0 L726.5 454.5 L727.1 455.0 L727.7 455.5 L728.4 456.0 L727.3 456.5 L726.0 457.0 L724.8 457.5 L723.5 458.0 L726.4 458.5 L729.5 459.0 L732.5 459.5 L731.5 460.0 L730.5 460.5 L729.5 461.0 L728.5 461.5 L727.8 462.0 L727.3 462.5 L726.8 463.0 L726.3 463.5 L725.8 464.0 L725.3 464.5 L725.4 465.0 L725.7 465.5 L725.9 466.0 L726.2 466.5 L726.4 467.0 L726.7 467.5 L726.4 468.0 L726.2 468.5 L725.9 469.0 L725.7 469.5 L725.4 470.0 L725.2 470.5 L724.9 471.0 L724.6 471.5 L724.3 472.0 L724.0 472.5 L723.7 473.0 L723.0 473.5 L723.0 474.0 L723.4 474.5 L724.2 475.0 L724.9 475.5 L725.7 476.0 L726.4 476.5 L727.4 477.0 L728.5 477.5 L729.7 478.0 L730.8 478.5 L731.9 479.0 L733.0 479.5 L734.2 480.0 L735.3 480.5 L736.4 481.0 L735.5 481.5 L734.0 482.0 L732.5 482.5 L731.0 483.0 L729.5 483.5 L728.0 484.0 L726.6 484.5 L726.2 485.0 L725.8 485.5 L725.4 486.0 L725.0 486.5 L724.5 487.0 L724.1 487.5 L723.9 488.0 L723.9 488.5 L723.9 489.0 L723.9 489.5 L723.9 490.0 L723.9 490.5 L723.9 491.0 L723.9 491.5 L723.9 492.0 L724.2 492.5 L724.9 493.0 L725.5 493.5 L726.1 494.0 L726.8 494.5 L727.5 495.0 L728.2 495.5 L729.0 496.0 L729.8 496.5 L730.1 497.0 L730.2 497.5 L730.3 498.0 L730.5 498.5 L730.6 499.0 L730.7 499.5 L730.8 500.0 L731.0 500.5 L731.1 501.0 L731.2 501.5 L731.4 502.0 L731.6 502.5 L731.7 503.0 L731.9 503.5 L732.1 504.0 L732.2 504.5 L731.7 505.0 L731.2 505.5 L730.7 506.0 L730.2 506.5 L729.7 507.0 L729.2 507.5 L729.1 508.0 L729.4 508.5 L729.8 509.0 L730.2 509.5 L730.6 510.0 L730.9 510.5 L731.3 511.0 L731.7 511.5 L732.1 512.0 L731.8 512.5 L731.1 513.0 L730.3 513.5 L729.6 514.0 L728.8 514.5 L728.1 515.0 L727.3 515.5 L726.6 516.0 L725.8 516.5 L725.5 517.0 L725.3 517.5 L725.2 518.0 L725.1 518.5 L725.0 519.0 L724.8 519.5 L724.7 520.0 L724.6 520.5 L724.5 521.0 L724.3 521.5 L724.2 522.0 L724.1 522.5 L724.0 523.0 L723.8 523.5 L723.7 524.0 L723.6 524.5 L723.5 525.0 L723.3 525.5 L723.0 526.0 L723.0 526.5 L723.0 527.0 L723.0 527.5 L723.0 528.0 L723.0 528.5 L723.0 529.0 L723.0 529.5 L723.0 530.0 L723.0 530.5 L723.0 531.0 L723.0 531.5 L723.0 532.0 L723.0 532.5 L723.0 533.0 L723.0 533.5 L723.0 534.0 L723.0 534.5 L723.0 535.0 L723.0 535.5 L723.0 536.0 L723.0 536.5 L723.0 537.0 L723.0 537.5 L723.0 538.0 L723.0 538.5 L723.0 539.0 L723.0 539.5 L723.0 540.0 L723.0 540.5 L723.0 541.0 L723.0 541.5 L723.0 542.0 L723.0 542.5 L723.0 543.0 L723.0 543.5 L723.0 544.0 L723.0 544.5 L723.0 545.0 L723.0 545.5 L723.0 546.0 L723.0 546.5 L723.0 547.0 L723.0 547.5 L723.0 548.0 L723.0 548.5 L723.0 549.0 L723.0 549.5 L723.0 550.0 L723.0 550.5 L723.0 551.0 L723.0 551.5 L723.0 552.0 L723.0 552.5 L723.0 553.0 L723.0 553.5 L723.0 554.0 L723.0 554.5 L723.0 555.0 L723.0 555.5 L723.0 556.0 L723.0 556.5 L723.0 557.0 L723.0 557.5 L723.0 558.0 L723.0 558.5 L723.0 559.0 L723.0 559.5 L723.0 560.0 L723.0 560.5 L723.0 561.0 L723.0 561.5 L723.0 562.0 L723.0 562.5 L723.0 563.0 L723.0 563.5 L723.0 564.0 L723.0 564.5 L723.0 565.0 L723.0 565.5 L723.0 566.0 L723.0 566.5 L723.0 567.0 L723.0 567.5 L723.0 568.0 L723.0 568.5 L723.0 569.0 L723.0 569.5 L723.0 570.0 L723.0 570.5 L723.0 571.0 L723.0 571.5 L723.0 572.0 L723.0 572.5 L723.0 573.0 L723.0 573.5 L723.0 574.0 L723.0 574.5 L723.0 575.0" stroke="#1f77b4" stroke-width="3.0"/>
<path d="M723.0 152.0 L723.0 152.5 L723.0 153.0 L723.0 153.5 L723.0 154.0 L723.0 154.5 L723.0 155.0 L723.0 155.5 L723.0 156.0 L723.0 156.5 L723.0 157.0 L723.0 157.5 L723.0 158.0 L723.0 158.5 L723.0 159.0 L723.0 159.5 L723.0 160.0 L723.0 160.5 L723.0 161.0 L723.0 161.5 L723.0 162.0 L723.0 162.5 L723.0 163.0 L723.0 163.5 L723.0 164.0 L723.0 164.5 L723.0 165.0 L723.0 165.5 L723.0 166.0 L723.0 166.5 L723.0 167.0 L723.0 167.5 L723.0 168.0 L723.0 168.5 L723.0 169.0 L723.0 169.5 L723.0 170.0 L723.0 170.5 L723.0 171.0 L723.0 171.5 L723.0 172.0 L723.0 172.5 L723.0 173.0 L723.0 173.5 L723.0 174.0 L723.0 174.5 L723.0 175.0 L723.0 175.5 L723.0 176.0 L723.0 176.5 L723.0 177.0 L723.0 177.5 L723.0 178.0 L723.0 178.5 L723.0 179.0 L723.0 179.5 L723.0 180.0 L723.0 180.5 L723.0 181.0 L723.0 181.5 L723.0 182.0 L723.0 182.5 L723.0 183.0 L723.0 183.5 L723.0 184.0 L723.0 184.5 L723.0 185.0 L723.0 185.5 L723.0 186.0 L723.0 186.5 L723.0 187.0 L723.0 187.5 L723.0 188.0 L723.0 188.5 L723.0 189.0 L723.0 189.5 L723.0 190.0 L723.0 190.5 L723.0 191.0 L723.0 191.5 L723.0 192.0 L723.0 192.5 L723.0 193.0 L723.0 193.5 L723.0 194.0 L723.0 194.5 L723.0 195.0 L723.0 195.5 L723.0 196.0 L723.0 196.5 L723.0 197.0 L723.0 197.5 L723.0 198.0 L723.0 198.5 L723.0 199.0 L723.0 199.5 L723.0 200.0 L723.0 200.5 L723.0 201.0 L723.0 201.5 L723.0 202.0 L723.0 202.5 L723.0 203.0 L723.0 203.5 L723.0 204.0 L723.0 204.5 L723.0 205.0 L723.0 205.5 L723.0 206.0 L723.0 206.5 L723.0 207.0 L723.0 207.5 L723.0 208.0 L723.0 208.5 L723.0 209.0 L723.0 209.5 L723.0 210.0 L723.0 210.5 L723.0 211.0 L723.0 211.5 L723.0 212.0 L723.0 212.5 L723.0 213.0 L723.0 213.5 L723.0 214.0 L723.0 214.5 L723.0 215.0 L723.0 215.5 L723.0 216.0 L723.0 216.5 L723.0 217.0 L723.0 217.5 L723.0 218.0 L723.0 218.5 L723.0 219.0 L723.0 219.5 L723.0 220.0 L723.0 220.5 L723.0 221.0 L723.0 221.5 L723.0 222.0 L723.0 222.5 L723.0 223.0 L723.0 223.5 L723.0 224.0 L723.0 224.5 L723.0 225.0 L723.0 225.5 L723.0 226.0 L723.0 226.5 L723.0 227.0 L723.0 227.5 L723.0 228.0 L723.0 228.5 L723.0 229.0 L723.0 229.5 L723.0 230.0 L723.0 230.5 L723.0 231.0 L723.0 231.5 L723.0 232.0 L723.0 232.5 L723.0 233.0 L723.0 233.5 L723.0 234.0 L723.0 234.5 L723.0 235.0 L723.0 235.5 L723.0 236.0 L723.0 236.5 L723.0 237.0 L723.0 237.5 L723.0 238.0 L723.0 238.5 L723.0 239.0 L723.0 239.5 L723.0 240.0 L723.0 240.5 L723.0 241.0 L723.0 241.5 L723.0 242.0 L723.0 242.5 L723.0 243.0 L723.0 243.5 L723.0 244.0 L723.0 244.5 L723.0 245.0 L723.0 245.5 L723.0 246.0 L723.0 246.5 L723.0 247.0 L723.0 247.5 L723.0 248.0 L723.0 248.5 L723.0 249.0 L723.0 249.5 L723.0 250.0 L723.0 250.5 L723.0 251.0 L723.0 251.5 L723.0 252.0 L723.0 252.5 L723.0 253.0 L723.0 253.5 L723.0 254.0 L723.0 254.5 L723.0 255.0 L723.0 255.5 L723.0 256.0 L723.0 256.5 L723.0 257.0 L723.0 257.5 L723.0 258.0 L723.0 258.5 L723.0 259.0 L723.0 259.5 L723.0 260.0 L723.0 260.5 L723.0 261.0 L723.0 261.5 L723.0 262.0 L723.0 262.5 L723.0 263.0 L723.0 263.5 L723.0 264.0 L723.0 264.5 L723.0 265.0 L723.0 265.5 L723.0 266.0 L723.0 266.5 L723.0 267.0 L723.0 267.5 L723.0 268.0 L723.0 268.5 L723.0 269.0 L723.0 269.5 L723.0 270.0 L723.0 270.5 L723.0 271.0 L723.0 271.5 L723.0 272.0 L723.0 272.5 L723.0 273.0 L723.0 273.5 L723.0 274.0 L723.0 274.5 L723.0 275.0 L723.0 275.5 L723.0 276.0 L723.0 276.5 L723.0 277.0 L723.0 277.5 L723.0 278.0 L723.0 278.5 L723.0 279.0 L723.0 279.5 L723.0 280.0 L723.0 280.5 L723.0 281.0 L723.0 281.5 L723.0 282.0 L723.0 282.5 L723.0 283.0 L723.0 283.5 L723.0 284.0 L723.0 284.5 L723.0 285.0 L723.0 285.5 L723.0 286.0 L723.0 286.5 L723.0 287.0 L723.0 287.5 L723.0 288.0 L723.0 288.5 L723.0 289.0 L723.0 289.5 L723.0 290.0 L723.0 290.5 L723.0 291.0 L723.0 291.5 L723.0 292.0 L723.0 292.5 L723.0 293.0 L723.0 293.5 L723.0 294.0 L723.0 294.5 L723.0 295.0 L723.0 295.5 L723.0 296.0 L723.0 296.5 L723.0 297.0 L723.0 297.5 L723.0 298.0 L723.0 298.5 L723.0 299.0 L723.0 299.5 L723.0 300.0 L723.0 300.5 L723.0 301.0 L723.0 301.5 L723.0 302.0 L723.0 302.5 L723.0 303.0 L723.0 303.5 L723.0 304.0 L723.0 304.5 L723.0 305.0 L723.0 305.5 L723.0 306.0 L723.0 306.5 L723.0 307.0 L723.0 307.5 L723.0 308.0 L723.0 308.5 L723.0 309.0 L723.0 309.5 L723.0 310.0 L723.0 310.5 L723.0 311.0 L723.0 311.5 L723.0 312.0 L723.0 312.5 L723.0 313.0 L723.0 313.5 L723.0 314.0 L723.0 314.5 L723.0 315.0 L723.0 315.5 L723.0 316.0 L723.0 316.5 L723.0 317.0 L723.0 317.5 L723.0 318.0 L723.0 318.5 L723.0 319.0 L723.0 319.5 L723.0 320.0 L723.0 320.5 L723.0 321.0 L723.0 321.5 L723.0 322.0 L723.0 322.5 L723.0 323.0 L723.0 323.5 L723.0 324.0 L723.0 324.5 L723.0 325.0 L723.0 325.5 L723.0 326.0 L723.0 326.5 L723.0 327.0 L723.0 327.5 L723.0 328.0 L723.0 328.5 L723.0 329.0 L723.0 329.5 L723.0 330.0 L723.0 330.5 L723.0 331.0 L723.0 331.5 L723.0 332.0 L723.0 332.5 L723.0 333.0 L723.0 333.5 L723.0 334.0 L723.0 334.5 L723.0 335.0 L723.0 335.5 L723.0 336.0 L723.0 336.5 L723.0 337.0 L723.0 337.5 L723.0 338.0 L723.0 338.5 L723.0 339.0 L723.0 339.5 L723.0 340.0 L723.0 340.5 L723.0 341.0 L723.0 341.5 L723.0 342.0 L723.0 342.5 L723.0 343.0 L723.0 343.5 L723.0 344.0 L723.0 344.5 L723.0 345.0 L723.0 345.5 L723.0 346.0 L724.0 346.5 L727.2 347.0 L730.3 347.5 L733.1 348.0 L729.9 348.5 L726.8 349.0 L723.6 349.5 L723.4 350.0 L723.4 350.5 L723.4 351.0 L723.4 351.5 L723.4 352.0 L723.4 352.5 L723.4 353.0 L723.4 353.5 L723.4 354.0 L723.4 354.5 L723.4 355.0 L723.4 355.5 L723.4 356.0 L723.4 356.5 L723.4 357.0 L723.4 357.5 L723.4 358.0 L724.8 358.5 L725.9 359.0 L724.1 359.5 L723.4 360.0 L723.4 360.5 L723.4 361.0 L723.4 361.5 L723.4 362.0 L723.4 362.5 L723.4 363.0 L723.4 363.5 L723.4 364.0 L723.4 364.5 L723.4 365.0 L723.4 365.5 L723.4 366.0 L723.4 366.5 L724.5 367.0 L726.2 367.5 L724.5 368.0 L723.4 368.5 L723.4 369.0 L723.4 369.5 L723.4 370.0 L723.4 370.5 L724.8 371.0 L725.9 371.5 L724.1 372.0 L723.0 372.5 L723.0 373.0 L723.0 373.5 L723.0 374.0 L723.0 374.5 L723.0 375.0 L723.0 375.5 L723.0 376.0 L723.0 376.5 L723.0 377.0 L723.0 377.5 L723.0 378.0 L723.0 378.5 L723.0 379.0 L723.0 379.5 L723.0 380.0 L723.0 380.5 L723.0 381.0 L723.0 381.5 L723.0 382.0 L723.0 382.5 L723.0 383.0 L723.0 383.5 L723.0 384.0 L723.0 384.5 L723.0 385.0 L723.0 385.5 L723.0 386.0 L723.0 386.5 L723.0 387.0 L724.4 387.5 L724.5 388.0 L724.6 388.5 L724.6 389.0 L725.1 389.5 L725.8 390.0 L726.4 390.5 L726.9 391.0 L727.0 391.5 L727.0 392.0 L727.0 392.5 L727.5 393.0 L728.1 393.5 L728.8 394.0 L729.4 394.5 L729.4 395.0 L729.3 395.5 L729.3 396.0 L730.6 396.5 L733.9 397.0 L737.1 397.5 L740.4 398.0 L739.3 398.5 L737.3 399.0 L735.2 399.5 L734.8 400.0 L740.0 400.5 L745.3 401.0 L750.6 401.5 L750.2 402.0 L746.3 402.5 L742.4 403.0 L738.7 403.5 L746.0 404.0 L753.2 404.5 L760.4 405.0 L762.6 405.5 L757.8 406.0 L752.9 406.5 L748.1 407.0 L753.8 407.5 L761.8 408.0 L769.9 408.5 L774.5 409.0 L766.8 409.5 L759.1 410.0 L751.4 410.5 L753.4 411.0 L761.4 411.5 L769.5 412.0 L777.3 412.5 L770.0 413.0 L762.6 413.5 L755.3 414.0 L753.3 414.5 L758.9 415.0 L764.5 415.5 L770.1 416.0 L765.7 416.5 L758.9 417.0 L752.2 417.5 L747.7 418.0 L751.7 418.5 L755.6 419.0 L759.5 419.5 L757.8 420.0 L752.6 420.5 L747.3 421.0 L742.2 421.5 L746.8 422.0 L751.4 422.5 L756.0 423.0 L756.9 423.5 L752.7 424.0 L748.4 424.5 L744.2 425.0 L747.8 425.5 L753.1 426.0 L758.4 426.5 L761.6 427.0 L757.0 427.5 L752.4 428.0 L747.8 428.5 L750.2 429.0 L757.0 429.5 L763.7 430.0 L770.3 430.5 L765.0 431.0 L759.6 431.5 L754.3 432.0 L753.6 432.5 L759.5 433.0 L765.3 433.5 L771.1 434.0 L766.3 434.5 L759.0 435.0 L751.7 435.5 L745.8 436.0 L744.9 436.5 L744.0 437.0 L743.1 437.5 L741.2 438.0 L738.7 438.5 L736.2 439.0 L733.8 439.5 L740.4 440.0 L747.0 440.5 L753.6 441.0 L755.0 441.5 L749.3 442.0 L743.5 442.5 L737.8 443.0 L742.2 443.5 L749.0 444.0 L755.8 444.5 L760.1 445.0 L755.3 445.5 L750.5 446.0 L745.7 446.5 L748.5 447.0 L756.2 447.5 L763.9 448.0 L771.3 448.5 L764.4 449.0 L757.5 449.5 L750.7 450.0 L748.6 450.5 L753.2 451.0 L757.9 451.5 L762.6 452.0 L758.4 452.5 L752.3 453.0 L746.1 453.5 L741.5 454.0 L742.4 454.5 L743.4 455.0 L744.3 455.5 L741.3 456.0 L735.7 456.5 L730.2 457.0 L724.7 457.5 L723.5 458.0 L735.0 458.5 L747.1 459.0 L759.6 459.5 L782.6 460.0 L805.6 460.5 L823.6 461.0 L805.6 461.5 L787.6 462.0 L772.3 462.5 L767.3 463.0 L762.3 463.5 L757.3 464.0 L752.3 464.5 L757.0 465.0 L763.7 465.5 L770.3 466.0 L777.0 466.5 L782.9 467.0 L787.9 467.5 L792.9 468.0 L796.0 468.5 L797.5 469.0 L799.0 469.5 L800.2 470.0 L801.2 470.5 L802.2 471.0 L782.4 471.5 L753.8 472.0 L738.4 472.5 L729.6 473.0 L724.8 473.5 L725.8 474.0 L726.8 474.5 L727.8 475.0 L728.8 475.5 L729.8 476.0 L730.8 476.5 L732.4 477.0 L734.4 477.5 L736.4 478.0 L738.4 478.5 L740.4 479.0 L742.4 479.5 L744.4 480.0 L746.4 480.5 L748.4 481.0 L746.8 481.5 L744.1 482.0 L741.5 482.5 L738.8 483.0 L736.1 483.5 L733.5 484.0 L730.9 484.5 L729.4 485.0 L727.9 485.5 L726.4 486.0 L724.9 486.5 L724.4 487.0 L724.4 487.5 L724.4 488.0 L724.4 488.5 L724.4 489.0 L724.4 489.5 L724.4 490.0 L724.4 490.5 L724.4 491.0 L724.4 491.5 L724.4 492.0 L724.6 492.5 L725.0 493.0 L725.3 493.5 L725.6 494.0 L726.0 494.5 L726.3 495.0 L726.6 495.5 L726.7 496.0 L726.7 496.5 L726.7 497.0 L726.7 497.5 L726.7 498.0 L726.7 498.5 L726.8 499.0 L727.5 499.5 L728.1 500.0 L728.8 500.5 L729.5 501.0 L730.1 501.5 L730.8 502.0 L730.7 502.5 L730.1 503.0 L729.4 503.5 L728.7 504.0 L728.1 504.5 L727.4 505.0 L726.7 505.5 L727.0 506.0 L727.3 506.5 L727.6 507.0 L728.0 507.5 L728.3 508.0 L728.6 508.5 L729.0 509.0 L729.3 509.5 L729.6 510.0 L730.0 510.5 L730.3 511.0 L730.6 511.5 L731.0 512.0 L730.8 512.5 L730.3 513.0 L729.8 513.5 L729.3 514.0 L728.8 514.5 L728.3 515.0 L727.8 515.5 L727.3 516.0 L726.8 516.5 L726.7 517.0 L726.7 517.5 L726.7 518.0 L726.7 518.5 L726.7 519.0 L726.7 519.5 L726.7 520.0 L726.7 520.5 L726.7 521.0 L726.5 521.5 L726.3 522.0 L726.1 522.5 L726.0 523.0 L725.8 523.5 L725.6 524.0 L725.4 524.5 L725.2 525.0 L725.0 525.5 L724.9 526.0 L724.8 526.5 L724.6 527.0 L724.5 527.5 L724.4 528.0 L724.3 528.5 L724.1 529.0 L724.0 529.5 L723.9 530.0 L723.8 530.5 L723.6 531.0 L723.5 531.5 L723.4 532.0 L723.0 532.5 L723.0 533.0 L723.0 533.5 L723.0 534.0 L723.0 534.5 L723.0 535.0 L723.0 535.5 L723.0 536.0 L723.0 536.5 L723.0 537.0 L723.0 537.5 L723.0 538.0 L723.0 538.5 L723.0 539.0 L723.0 539.5 L723.0 540.0 L723.0 540.5 L723.0 541.0 L723.0 541.5 L723.0 542.0 L723.0 542.5 L723.0 543.0 L723.0 543.5 L723.0 544.0 L723.0 544.5 L723.0 545.0 L723.0 545.5 L723.0 546.0 L723.0 546.5 L723.0 547.0 L723.0 547.5 L723.0 548.0 L723.0 548.5 L723.0 549.0 L723.0 549.5 L723.0 550.0 L723.0 550.5 L723.0 551.0 L723.0 551.5 L723.0 552.0 L723.0 552.5 L723.0 553.0 L723.0 553.5 L723.0 554.0 L723.0 554.5 L723.0 555.0 L723.0 555.5 L723.0 556.0 L723.0 556.5 L723.0 557.0 L723.0 557.5 L723.0 558.0 L723.0 558.5 L723.0 559.0 L723.0 559.5 L723.0 560.0 L723.0 560.5 L723.0 561.0 L723.0 561.5 L723.0 562.0 L723.0 562.5 L723.0 563.0 L723.0 563.5 L723.0 564.0 L723.0 564.5 L723.0 565.0 L723.0 565.5 L723.0 566.0 L723.0 566.5 L723.0 567.0 L723.0 567.5 L723.0 568.0 L723.0 568.5 L723.0 569.0 L723.0 569.5 L723.0 570.0 L723.0 570.5 L723.0 571.0 L723.0 571.5 L723.0 572.0 L723.0 572.5 L723.0 573.0 L723.0 573.5 L723.0 574.0 L723.0 574.5 L723.0 575.0" stroke="#ff7f0e" stroke-width="3.0"/>
<path d="M723.0 152.0 L723.0 152.5 L723.0 153.0 L723.0 153.5 L723.0 154.0 L723.0 154.5 L723.0 155.0 L723.0 155.5 L723.0 156.0 L723.0 156.5 L723.0 157.0 L723.0 157.5 L723.0 158.0 L723.0 158.5 L723.0 159.0 L723.0 159.5 L723.0 160.0 L723.0 160.5 L723.0 161.0 L723.0 161.5 L723.0 162.0 L723.0 162.5 L723.0 163.0 L723.0 163.5 L723.0 164.0 L723.0 164.5 L723.0 165.0 L723.0 165.5 L723.0 166.0 L723.0 166.5 L723.0 167.0 L723.0 167.5 L723.0 168.0 L723.0 168.5 L723.0 169.0 L723.0 169.5 L723.0 170.0 L723.5 170.5 L723.8 171.0 L724.2 171.5 L724.5 172.0 L724.9 172.5 L725.3 173.0 L725.6 173.5 L726.0 174.0 L726.4 174.5 L726.8 175.0 L727.1 175.5 L727.0 176.0 L726.6 176.5 L726.2 177.0 L725.8 177.5 L725.4 178.0 L724.9 178.5 L725.1 179.0 L725.3 179.5 L725.6 180.0 L725.8 180.5 L726.1 181.0 L726.3 181.5 L726.6 182.0 L726.8 182.5 L727.1 183.0 L727.3 183.5 L726.8 184.0 L726.3 184.5 L725.8 185.0 L725.3 185.5 L724.8 186.0 L724.4 186.5 L724.4 187.0 L724.4 187.5 L724.4 188.0 L724.4 188.5 L724.4 189.0 L724.4 189.5 L724.4 190.0 L724.4 190.5 L724.4 191.0 L724.4 191.5 L724.4 192.0 L724.4 192.5 L724.4 193.0 L724.4 193.5 L724.4 194.0 L724.5 194.5 L724.6 195.0 L724.8 195.5 L725.0 196.0 L725.1 196.5 L725.3 197.0 L725.4 197.5 L725.6 198.0 L725.8 198.5 L725.9 199.0 L726.1 199.5 L726.2 200.0 L726.4 200.5 L726.6 201.0 L726.7 201.5 L726.9 202.0 L727.0 202.5 L727.2 203.0 L727.3 203.5 L727.5 204.0 L727.7 204.5 L727.6 205.0 L727.1 205.5 L726.6 206.0 L726.1 206.5 L725.6 207.0 L725.1 207.5 L724.9 208.0 L724.9 208.5 L724.9 209.0 L724.9 209.5 L725.0 210.0 L725.0 210.5 L725.0 211.0 L725.0 211.5 L725.1 212.0 L725.1 212.5 L725.1 213.0 L725.1 213.5 L725.2 214.0 L725.2 214.5 L725.2 215.0 L725.2 215.5 L725.3 216.0 L725.3 216.5 L725.3 217.0 L725.4 217.5 L725.7 218.0 L726.1 218.5 L726.5 219.0 L726.9 219.5 L727.2 220.0 L727.6 220.5 L728.0 221.0 L728.4 221.5 L728.7 222.0 L729.1 222.5 L729.5 223.0 L730.0 223.5 L730.6 224.0 L731.3 224.5 L732.0 225.0 L732.6 225.5 L733.3 226.0 L732.8 226.5 L731.3 227.0 L729.8 227.5 L728.3 228.0 L727.3 228.5 L726.5 229.0 L725.8 229.5 L725.0 230.0 L724.3 230.5 L723.5 231.0 L723.0 231.5 L723.0 232.0 L723.0 232.5 L723.0 233.0 L723.0 233.5 L723.0 234.0 L723.0 234.5 L723.0 235.0 L723.0 235.5 L723.0 236.0 L723.0 236.5 L723.0 237.0 L723.0 237.5 L723.0 238.0 L723.0 238.5 L723.0 239.0 L723.0 239.5 L723.0 240.0 L723.0 240.5 L723.0 241.0 L723.0 241.5 L723.0 242.0 L723.0 242.5 L723.0 243.0 L723.0 243.5 L723.0 244.0 L723.0 244.5 L723.0 245.0 L723.0 245.5 L723.0 246.0 L723.0 246.5 L723.0 247.0 L723.0 247.5 L723.0 248.0 L723.0 248.5 L723.0 249.0 L723.0 249.5 L723.0 250.0 L723.0 250.5 L723.0 251.0 L723.0 251.5 L723.0 252.0 L723.0 252.5 L723.0 253.0 L723.0 253.5 L723.0 254.0 L723.0 254.5 L723.0 255.0 L723.0 255.5 L723.0 256.0 L723.0 256.5 L723.0 257.0 L723.0 257.5 L723.0 258.0 L723.0 258.5 L723.0 259.0 L723.0 259.5 L723.0 260.0 L723.0 260.5 L723.0 261.0 L723.0 261.5 L723.0 262.0 L723.0 262.5 L723.0 263.0 L723.0 263.5 L723.0 264.0 L723.0 264.5 L723.0 265.0 L723.0 265.5 L723.0 266.0 L723.0 266.5 L723.0 267.0 L723.0 267.5 L723.0 268.0 L723.0 268.5 L723.0 269.0 L723.0 269.5 L723.0 270.0 L723.0 270.5 L723.0 271.0 L723.0 271.5 L723.0 272.0 L723.0 272.5 L723.0 273.0 L723.0 273.5 L723.0 274.0 L723.0 274.5 L723.0 275.0 L723.0 275.5 L723.0 276.0 L723.0 276.5 L723.0 277.0 L723.0 277.5 L723.0 278.0 L723.0 278.5 L723.0 279.0 L723.0 279.5 L723.0 280.0 L723.0 280.5 L723.0 281.0 L723.0 281.5 L723.0 282.0 L723.0 282.5 L723.0 283.0 L723.0 283.5 L723.0 284.0 L723.0 284.5 L723.0 285.0 L723.0 285.5 L723.0 286.0 L723.0 286.5 L723.0 287.0 L723.0 287.5 L723.0 288.0 L723.0 288.5 L723.0 289.0 L723.0 289.5 L723.0 290.0 L723.0 290.5 L723.0 291.0 L723.0 291.5 L723.0 292.0 L723.0 292.5 L723.0 293.0 L723.0 293.5 L723.0 294.0 L723.0 294.5 L723.0 295.0 L723.0 295.5 L723.0 296.0 L723.0 296.5 L723.0 297.0 L723.0 297.5 L723.0 298.0 L723.0 298.5 L723.0 299.0 L723.0 299.5 L723.0 300.0 L723.0 300.5 L723.0 301.0 L723.0 301.5 L723.0 302.0 L723.0 302.5 L723.0 303.0 L723.0 303.5 L723.0 304.0 L723.0 304.5 L723.0 305.0 L723.0 305.5 L723.0 306.0 L723.0 306.5 L723.0 307.0 L723.0 307.5 L723.0 308.0 L723.0 308.5 L723.0 309.0 L723.0 309.5 L723.0 310.0 L723.0 310.5 L723.0 311.0 L723.0 311.5 L723.0 312.0 L723.0 312.5 L723.0 313.0 L723.0 313.5 L723.0 314.0 L723.0 314.5 L723.0 315.0 L723.0 315.5 L723.0 316.0 L723.0 316.5 L723.0 317.0 L723.0 317.5 L723.0 318.0 L723.0 318.5 L723.0 319.0 L723.0 319.5 L723.0 320.0 L723.0 320.5 L723.0 321.0 L723.0 321.5 L723.0 322.0 L723.0 322.5 L723.0 323.0 L723.0 323.5 L723.0 324.0 L723.0 324.5 L723.0 325.0 L723.0 325.5 L723.0 326.0 L723.0 326.5 L723.0 327.0 L723.0 327.5 L723.0 328.0 L723.0 328.5 L723.0 329.0 L723.0 329.5 L723.0 330.0 L723.0 330.5 L723.0 331.0 L723.0 331.5 L723.0 332.0 L723.0 332.5 L723.0 333.0 L723.0 333.5 L723.0 334.0 L723.0 334.5 L723.0 335.0 L723.0 335.5 L723.0 336.0 L723.0 336.5 L723.0 337.0 L723.0 337.5 L723.0 338.0 L723.0 338.5 L723.0 339.0 L723.0 339.5 L723.0 340.0 L723.0 340.5 L723.0 341.0 L723.0 341.5 L723.0 342.0 L723.0 342.5 L723.0 343.0 L723.0 343.5 L723.0 344.0 L725.0 344.5 L726.5 345.0 L727.4 345.5 L728.3 346.0 L729.1 346.5 L730.0 347.0 L730.9 347.5 L731.6 348.0 L730.5 348.5 L729.3 349.0 L728.1 349.5 L727.0 350.0 L725.9 350.5 L725.0 351.0 L724.1 351.5 L723.4 352.0 L723.4 352.5 L723.4 353.0 L723.4 353.5 L723.4 354.0 L723.4 354.5 L723.4 355.0 L723.4 355.5 L723.4 356.0 L723.4 356.5 L723.4 357.0 L723.8 357.5 L725.1 358.0 L725.4 358.5 L725.2 359.0 L725.1 359.5 L725.0 360.0 L724.9 360.5 L724.8 361.0 L724.8 361.5 L724.9 362.0 L725.1 362.5 L725.3 363.0 L725.4 363.5 L725.6 364.0 L725.8 364.5 L725.9 365.0 L726.1 365.5 L726.2 366.0 L726.2 366.5 L726.1 367.0 L726.0 367.5 L725.9 368.0 L725.8 368.5 L725.7 369.0 L725.7 369.5 L725.6 370.0 L725.5 370.5 L725.4 371.0 L725.2 371.5 L725.1 372.0 L725.0 372.5 L724.9 373.0 L724.8 373.5 L724.5 374.0 L724.1 374.5 L723.7 375.0 L723.0 375.5 L723.0 376.0 L723.0 376.5 L723.0 377.0 L723.0 377.5 L723.0 378.0 L723.0 378.5 L723.0 379.0 L723.0 379.5 L723.0 380.0 L723.0 380.5 L723.0 381.0 L723.0 381.5 L723.0 382.0 L723.0 382.5 L723.0 383.0 L723.0 383.5 L723.0 384.0 L723.0 384.5 L723.0 385.0 L723.0 385.5 L723.0 386.0 L723.0 386.5 L723.0 387.0 L723.0 387.5 L723.0 388.0 L723.0 388.5 L723.0 389.0 L723.0 389.5 L723.0 390.0 L723.0 390.5 L723.0 391.0 L723.0 391.5 L723.0 392.0 L723.0 392.5 L723.0 393.0 L723.1 393.5 L723.3 394.0 L723.4 394.5 L723.5 395.0 L723.6 395.5 L723.8 396.0 L723.9 396.5 L724.0 397.0 L724.1 397.5 L724.1 398.0 L724.1 398.5 L724.0 399.0 L724.0 399.5 L724.0 400.0 L723.9 400.5 L723.9 401.0 L723.8 401.5 L723.8 402.0 L723.8 402.5 L723.7 403.0 L723.7 403.5 L723.7 404.0 L723.7 404.5 L723.7 405.0 L723.7 405.5 L723.8 406.0 L723.8 406.5 L723.8 407.0 L723.8 407.5 L723.9 408.0 L723.9 408.5 L723.9 409.0 L723.9 409.5 L724.0 410.0 L724.0 410.5 L724.0 411.0 L724.0 411.5 L724.1 412.0 L724.1 412.5 L724.1 413.0 L724.1 413.5 L724.2 414.0 L724.2 414.5 L724.2 415.0 L724.2 415.5 L724.3 416.0 L724.3 416.5 L724.3 417.0 L724.3 417.5 L724.4 418.0 L724.4 418.5 L724.4 419.0 L724.4 419.5 L724.5 420.0 L724.5 420.5 L724.5 421.0 L724.5 421.5 L724.6 422.0 L724.6 422.5 L724.6 423.0 L724.6 423.5 L724.7 424.0 L724.7 424.5 L724.7 425.0 L724.7 425.5 L724.7 426.0 L724.7 426.5 L724.7 427.0 L724.7 427.5 L724.7 428.0 L724.7 428.5 L724.7 429.0 L724.7 429.5 L724.7 430.0 L724.7 430.5 L724.7 431.0 L724.7 431.5 L724.8 432.0 L724.8 432.5 L724.8 433.0 L724.8 433.5 L724.9 434.0 L724.9 434.5 L724.9 435.0 L724.9 435.5 L725.0 436.0 L725.0 436.5 L725.0 437.0 L725.1 437.5 L725.1 438.0 L725.1 438.5 L725.1 439.0 L725.2 439.5 L725.2 440.0 L725.2 440.5 L725.2 441.0 L725.2 441.5 L725.2 442.0 L725.2 442.5 L725.2 443.0 L725.2 443.5 L725.2 444.0 L725.2 444.5 L725.2 445.0 L725.2 445.5 L725.2 446.0 L725.2 446.5 L725.2 447.0 L725.2 447.5 L725.2 448.0 L725.2 448.5 L725.2 449.0 L725.2 449.5 L725.2 450.0 L725.2 450.5 L725.2 451.0 L725.2 451.5 L725.2 452.0 L725.2 452.5 L725.2 453.0 L725.2 453.5 L725.2 454.0 L725.2 454.5 L725.2 455.0 L725.2 455.5 L725.2 456.0 L725.2 456.5 L725.2 457.0 L725.2 457.5 L725.2 458.0 L725.2 458.5 L725.2 459.0 L725.4 459.5 L725.6 460.0 L725.9 460.5 L726.1 461.0 L726.4 461.5 L726.6 462.0 L726.9 462.5 L727.1 463.0 L727.3 463.5 L727.5 464.0 L727.7 464.5 L727.8 465.0 L728.0 465.5 L728.2 466.0 L728.3 466.5 L728.5 467.0 L728.7 467.5 L728.8 468.0 L729.0 468.5 L729.2 469.0 L729.3 469.5 L728.9 470.0 L728.4 470.5 L727.9 471.0 L727.4 471.5 L726.9 472.0 L726.4 472.5 L725.9 473.0 L725.8 473.5 L725.7 474.0 L725.5 474.5 L725.4 475.0 L725.3 475.5 L725.2 476.0 L725.1 476.5 L725.3 477.0 L725.5 477.5 L725.6 478.0 L725.8 478.5 L726.0 479.0 L726.1 479.5 L726.3 480.0 L726.5 480.5 L726.6 481.0 L726.5 481.5 L726.2 482.0 L726.0 482.5 L725.7 483.0 L725.5 483.5 L725.2 484.0 L725.0 484.5 L724.7 485.0 L724.5 485.5 L724.4 486.0 L724.4 486.5 L724.4 487.0 L724.4 487.5 L724.4 488.0 L724.4 488.5 L724.4 489.0 L724.4 489.5 L724.4 490.0 L724.4 490.5 L724.4 491.0 L726.9 491.5 L730.1 492.0 L733.3 492.5 L736.5 493.0 L739.7 493.5 L742.9 494.0 L746.2 494.5 L749.4 495.0 L752.7 495.5 L755.9 496.0 L754.1 496.5 L750.9 497.0 L747.6 497.5 L744.4 498.0 L741.1 498.5 L737.8 499.0 L734.4 499.5 L731.1 500.0 L739.4 500.5 L747.8 501.0 L756.1 501.5 L760.4 502.0 L762.8 502.5 L765.1 503.0 L764.8 503.5 L759.3 504.0 L753.8 504.5 L748.3 505.0 L742.8 505.5 L741.1 506.0 L739.9 506.5 L738.6 507.0 L737.4 507.5 L738.3 508.0 L742.1 508.5 L745.8 509.0 L749.6 509.5 L753.3 510.0 L754.6 510.5 L755.8 511.0 L757.1 511.5 L758.3 512.0 L756.8 512.5 L753.1 513.0 L749.3 513.5 L745.6 514.0 L742.0 514.5 L740.0 515.0 L738.0 515.5 L736.0 516.0 L734.0 516.5 L732.0 517.0 L730.0 517.5 L729.3 518.0 L730.3 518.5 L731.3 519.0 L732.3 519.5 L733.3 520.0 L734.3 520.5 L733.7 521.0 L732.9 521.5 L732.1 522.0 L731.3 522.5 L730.5 523.0 L729.9 523.5 L729.5 524.0 L729.1 524.5 L728.8 525.0 L728.4 525.5 L728.0 526.0 L727.6 526.5 L727.2 527.0 L726.9 527.5 L726.6 528.0 L726.4 528.5 L726.2 529.0 L726.0 529.5 L725.8 530.0 L725.6 530.5 L725.5 531.0 L725.3 531.5 L725.1 532.0 L725.0 532.5 L724.9 533.0 L724.8 533.5 L724.8 534.0 L724.7 534.5 L724.7 535.0 L724.6 535.5 L724.5 536.0 L724.5 536.5 L724.4 537.0 L724.4 537.5 L724.3 538.0 L724.3 538.5 L724.2 539.0 L724.2 539.5 L724.1 540.0 L724.1 540.5 L724.0 541.0 L724.0 541.5 L723.9 542.0 L723.9 542.5 L723.8 543.0 L723.8 543.5 L723.7 544.0 L723.7 544.5 L723.7 545.0 L723.6 545.5 L723.6 546.0 L723.5 546.5 L723.5 547.0 L723.5 547.5 L723.0 548.0 L723.0 548.5 L723.0 549.0 L723.0 549.5 L723.0 550.0 L723.0 550.5 L723.0 551.0 L723.0 551.5 L723.0 552.0 L723.0 552.5 L723.0 553.0 L723.0 553.5 L723.0 554.0 L723.0 554.5 L723.0 555.0 L723.0 555.5 L723.0 556.0 L723.0 556.5 L723.0 557.0 L723.0 557.5 L723.0 558.0 L723.0 558.5 L723.0 559.0 L723.0 559.5 L723.0 560.0 L723.0 560.5 L723.0 561.0 L723.0 561.5 L723.0 562.0 L723.0 562.5 L723.0 563.0 L723.0 563.5 L723.0 564.0 L723.0 564.5 L723.0 565.0 L723.0 565.5 L723.0 566.0 L723.0 566.5 L723.0 567.0 L723.0 567.5 L723.0 568.0 L723.0 568.5 L723.0 569.0 L723.0 569.5 L723.0 570.0 L723.0 570.5 L723.0 571.0 L723.0 571.5 L723.0 572.0 L723.0 572.5 L723.0 573.0 L723.0 573.5 L723.0 574.0 L723.0 574.5 L723.0 575.0" stroke="#2ca02c" stroke-width="3.0"/>
<path d="M723.0 152.0 L723.0 152.5 L723.0 153.0 L723.0 153.5 L723.0 154.0 L723.0 154.5 L723.0 155.0 L723.0 155.5 L723.0 156.0 L723.0 156.5 L723.0 157.0 L723.0 157.5 L723.0 158.0 L723.0 158.5 L723.0 159.0 L723.0 159.5 L723.0 160.0 L723.0 160.5 L723.0 161.0 L723.0 161.5 L723.0 162.0 L723.0 162.5 L723.0 163.0 L723.0 163.5 L723.0 164.0 L723.0 164.5 L723.0 165.0 L723.0 165.5 L723.0 166.0 L723.0 166.5 L723.0 167.0 L723.0 167.5 L723.0 168.0 L723.0 168.5 L723.0 169.0 L723.0 169.5 L723.0 170.0 L724.2 170.5 L725.5 171.0 L726.6 171.5 L727.7 172.0 L728.9 172.5 L730.1 173.0 L731.2 173.5 L732.4 174.0 L740.7 174.5 L755.2 175.0 L769.8 175.5 L768.3 176.0 L757.1 176.5 L745.8 177.0 L738.9 177.5 L733.8 178.0 L728.8 178.5 L728.2 179.0 L728.9 179.5 L729.5 180.0 L730.2 180.5 L730.8 181.0 L737.9 181.5 L745.5 182.0 L753.0 182.5 L758.8 183.0 L763.4 183.5 L752.4 184.0 L742.2 184.5 L737.5 185.0 L732.8 185.5 L729.1 186.0 L729.3 186.5 L729.8 187.0 L730.3 187.5 L730.8 188.0 L731.4 188.5 L732.2 189.0 L733.0 189.5 L733.8 190.0 L734.6 190.5 L735.1 191.0 L735.3 191.5 L735.5 192.0 L735.7 192.5 L735.9 193.0 L737.2 193.5 L739.2 194.0 L741.3 194.5 L743.5 195.0 L745.5 195.5 L747.4 196.0 L749.3 196.5 L751.2 197.0 L747.6 197.5 L743.1 198.0 L738.6 198.5 L738.7 199.0 L739.0 199.5 L739.4 200.0 L739.7 200.5 L740.1 201.0 L740.9 201.5 L741.6 202.0 L742.4 202.5 L743.2 203.0 L744.3 203.5 L747.0 204.0 L749.7 204.5 L752.1 205.0 L757.7 205.5 L763.3 206.0 L757.0 206.5 L750.8 207.0 L744.5 207.5 L739.9 208.0 L736.9 208.5 L733.9 209.0 L730.9 209.5 L729.6 210.0 L729.4 210.5 L729.1 211.0 L728.9 211.5 L729.8 212.0 L731.0 212.5 L732.3 213.0 L733.6 213.5 L735.6 214.0 L737.9 214.5 L740.1 215.0 L742.3 215.5 L744.5 216.0 L745.8 216.5 L747.1 217.0 L748.4 217.5 L749.8 218.0 L747.5 218.5 L745.2 219.0 L744.0 219.5 L748.7 220.0 L753.4 220.5 L755.2 221.0 L747.9 221.5 L740.6 222.0 L736.2 222.5 L737.9 223.0 L739.6 223.5 L741.5 224.0 L749.9 224.5 L766.6 225.0 L783.2 225.5 L799.9 226.0 L799.8 226.5 L786.1 227.0 L772.3 227.5 L758.6 228.0 L748.1 228.5 L739.4 229.0 L730.6 229.5 L727.2 230.0 L725.7 230.5 L724.1 231.0 L723.0 231.5 L723.0 232.0 L723.0 232.5 L723.0 233.0 L723.0 233.5 L723.0 234.0 L723.0 234.5 L723.0 235.0 L723.0 235.5 L723.0 236.0 L723.0 236.5 L723.0 237.0 L723.0 237.5 L723.0 238.0 L723.0 238.5 L723.0 239.0 L723.0 239.5 L723.0 240.0 L723.0 240.5 L723.0 241.0 L723.0 241.5 L723.0 242.0 L723.0 242.5 L723.0 243.0 L723.0 243.5 L723.0 244.0 L723.0 244.5 L723.0 245.0 L723.0 245.5 L723.0 246.0 L723.0 246.5 L723.0 247.0 L723.0 247.5 L723.0 248.0 L723.0 248.5 L723.0 249.0 L723.0 249.5 L723.0 250.0 L723.0 250.5 L723.0 251.0 L723.0 251.5 L723.0 252.0 L723.0 252.5 L723.0 253.0 L723.0 253.5 L723.0 254.0 L723.0 254.5 L723.0 255.0 L723.0 255.5 L723.0 256.0 L723.0 256.5 L723.0 257.0 L723.0 257.5 L723.0 258.0 L723.0 258.5 L723.0 259.0 L723.0 259.5 L723.0 260.0 L723.0 260.5 L723.0 261.0 L723.0 261.5 L723.0 262.0 L723.0 262.5 L723.0 263.0 L723.0 263.5 L723.0 264.0 L723.0 264.5 L723.0 265.0 L723.0 265.5 L723.0 266.0 L723.0 266.5 L723.0 267.0 L723.0 267.5 L723.0 268.0 L723.0 268.5 L723.0 269.0 L723.0 269.5 L723.0 270.0 L723.0 270.5 L723.0 271.0 L723.0 271.5 L723.0 272.0 L723.0 272.5 L723.0 273.0 L723.0 273.5 L723.0 274.0 L723.0 274.5 L723.0 275.0 L723.0 275.5 L723.0 276.0 L723.0 276.5 L723.0 277.0 L723.0 277.5 L723.0 278.0 L723.0 278.5 L723.0 279.0 L723.0 279.5 L723.0 280.0 L723.0 280.5 L723.0 281.0 L723.0 281.5 L723.0 282.0 L723.0 282.5 L723.0 283.0 L723.0 283.5 L723.0 284.0 L723.0 284.5 L723.0 285.0 L723.0 285.5 L723.0 286.0 L723.0 286.5 L723.0 287.0 L723.0 287.5 L723.0 288.0 L723.0 288.5 L723.0 289.0 L723.0 289.5 L723.0 290.0 L723.0 290.5 L723.0 291.0 L723.0 291.5 L723.0 292.0 L723.0 292.5 L723.0 293.0 L723.0 293.5 L723.0 294.0 L723.0 294.5 L723.0 295.0 L723.0 295.5 L723.0 296.0 L723.0 296.5 L723.0 297.0 L723.0 297.5 L723.0 298.0 L723.0 298.5 L723.0 299.0 L723.0 299.5 L723.0 300.0 L723.0 300.5 L723.0 301.0 L723.0 301.5 L723.0 302.0 L723.0 302.5 L723.0 303.0 L723.0 303.5 L723.0 304.0 L723.0 304.5 L723.0 305.0 L723.0 305.5 L723.0 306.0 L723.0 306.5 L723.0 307.0 L723.0 307.5 L723.0 308.0 L723.0 308.5 L723.0 309.0 L723.0 309.5 L723.0 310.0 L723.0 310.5 L723.0 311.0 L723.0 311.5 L723.0 312.0 L723.0 312.5 L723.0 313.0 L723.0 313.5 L723.0 314.0 L723.0 314.5 L723.0 315.0 L723.0 315.5 L723.0 316.0 L723.0 316.5 L723.0 317.0 L723.0 317.5 L723.0 318.0 L723.0 318.5 L723.0 319.0 L723.0 319.5 L723.0 320.0 L723.0 320.5 L723.0 321.0 L723.0 321.5 L723.0 322.0 L723.0 322.5 L723.0 323.0 L723.0 323.5 L723.0 324.0 L723.0 324.5 L723.0 325.0 L723.0 325.5 L723.0 326.0 L723.0 326.5 L723.0 327.0 L723.0 327.5 L723.0 328.0 L723.0 328.5 L723.0 329.0 L723.0 329.5 L723.0 330.0 L723.0 330.5 L723.0 331.0 L723.0 331.5 L723.0 332.0 L723.0 332.5 L723.0 333.0 L723.0 333.5 L723.0 334.0 L723.0 334.5 L723.6 335.0 L724.0 335.5 L724.7 336.0 L725.5 336.5 L726.2 337.0 L727.2 337.5 L728.2 338.0 L729.2 338.5 L730.2 339.0 L731.2 339.5 L732.2 340.0 L734.1 340.5 L736.4 341.0 L738.8 341.5 L741.1 342.0 L743.4 342.5 L739.8 343.0 L736.1 343.5 L732.4 344.0 L730.8 344.5 L730.1 345.0 L732.0 345.5 L733.8 346.0 L743.9 346.5 L786.9 347.0 L829.9 347.5 L868.2 348.0 L835.4 348.5 L802.6 349.0 L769.9 349.5 L740.0 350.0 L736.1 350.5 L732.2 351.0 L728.4 351.5 L725.5 352.0 L725.4 352.5 L725.3 353.0 L725.2 353.5 L725.0 354.0 L724.9 354.5 L724.8 355.0 L725.2 355.5 L725.5 356.0 L725.9 356.5 L726.3 357.0 L727.1 357.5 L728.7 358.0 L758.9 358.5 L790.4 359.0 L786.1 359.5 L783.0 360.0 L780.5 360.5 L778.0 361.0 L781.6 361.5 L791.1 362.0 L800.7 362.5 L779.4 363.0 L758.1 363.5 L749.4 364.0 L746.8 364.5 L753.6 365.0 L760.4 365.5 L767.2 366.0 L773.5 366.5 L780.4 367.0 L788.1 367.5 L787.5 368.0 L779.9 368.5 L773.3 369.0 L766.7 369.5 L763.6 370.0 L768.6 370.5 L774.8 371.0 L775.7 371.5 L751.6 372.0 L728.2 372.5 L727.5 373.0 L726.8 373.5 L726.0 374.0 L725.0 374.5 L724.3 375.0 L723.0 375.5 L723.0 376.0 L723.0 376.5 L723.0 377.0 L723.0 377.5 L723.0 378.0 L723.0 378.5 L723.0 379.0 L723.0 379.5 L723.0 380.0 L723.0 380.5 L723.0 381.0 L723.0 381.5 L723.0 382.0 L723.0 382.5 L723.0 383.0 L723.0 383.5 L723.0 384.0 L723.0 384.5 L723.0 385.0 L723.0 385.5 L723.0 386.0 L723.0 386.5 L723.0 387.0 L724.5 387.5 L724.7 388.0 L724.9 388.5 L725.2 389.0 L725.9 389.5 L726.6 390.0 L727.4 390.5 L727.4 391.0 L727.5 391.5 L727.6 392.0 L728.3 392.5 L729.1 393.0 L729.9 393.5 L730.2 394.0 L730.3 394.5 L730.4 395.0 L731.8 395.5 L735.2 396.0 L738.6 396.5 L741.0 397.0 L740.2 397.5 L739.3 398.0 L738.7 398.5 L753.0 399.0 L767.4 399.5 L781.7 400.0 L775.7 400.5 L765.1 401.0 L754.4 401.5 L759.1 402.0 L773.2 402.5 L787.4 403.0 L791.9 403.5 L782.7 404.0 L773.6 404.5 L769.1 405.0 L781.5 405.5 L794.0 406.0 L806.0 406.5 L796.4 407.0 L786.9 407.5 L777.3 408.0 L783.9 408.5 L794.1 409.0 L804.3 409.5 L800.6 410.0 L788.2 410.5 L775.8 411.0 L773.3 411.5 L784.6 412.0 L795.8 412.5 L802.4 413.0 L792.2 413.5 L781.9 414.0 L772.0 414.5 L781.9 415.0 L791.8 415.5 L801.8 416.0 L792.9 416.5 L779.7 417.0 L766.6 417.5 L765.6 418.0 L772.3 418.5 L778.9 419.0 L780.0 419.5 L773.1 420.0 L766.2 420.5 L761.9 421.0 L767.3 421.5 L772.6 422.0 L777.7 422.5 L770.6 423.0 L763.4 423.5 L756.2 424.0 L759.2 424.5 L764.6 425.0 L769.9 425.5 L769.0 426.0 L764.3 426.5 L759.6 427.0 L761.1 427.5 L771.4 428.0 L781.6 428.5 L787.5 429.0 L777.2 429.5 L766.9 430.0 L757.0 430.5 L766.8 431.0 L776.6 431.5 L786.4 432.0 L781.7 432.5 L773.7 433.0 L765.8 433.5 L770.4 434.0 L782.8 434.5 L795.2 435.0 L796.1 435.5 L781.0 436.0 L765.8 436.5 L754.0 437.0 L754.5 437.5 L755.0 438.0 L755.4 438.5 L754.7 439.0 L753.9 439.5 L753.1 440.0 L760.4 440.5 L769.6 441.0 L778.7 441.5 L776.8 442.0 L768.0 442.5 L759.2 443.0 L757.8 443.5 L766.8 444.0 L775.8 444.5 L781.4 445.0 L774.6 445.5 L767.8 446.0 L761.2 446.5 L769.7 447.0 L778.3 447.5 L786.8 448.0 L782.2 448.5 L774.6 449.0 L767.0 449.5 L769.2 450.0 L777.6 450.5 L785.9 451.0 L787.6 451.5 L779.9 452.0 L772.2 452.5 L767.3 453.0 L772.1 453.5 L776.9 454.0 L781.5 454.5 L770.0 455.0 L758.6 455.5 L747.2 456.0 L740.9 456.5 L735.7 457.0 L730.5 457.5 L724.1 458.0 L740.0 458.5 L757.0 459.0 L774.2 459.5 L796.2 460.0 L818.2 460.5 L835.1 461.0 L815.6 461.5 L796.1 462.0 L779.3 462.5 L772.6 463.0 L765.9 463.5 L759.3 464.0 L752.6 464.5 L757.8 465.0 L765.5 465.5 L773.2 466.0 L780.8 466.5 L786.6 467.0 L790.1 467.5 L793.6 468.0 L797.1 468.5 L800.6 469.0 L804.1 469.5 L807.6 470.0 L811.1 470.5 L814.6 471.0 L793.5 471.5 L762.1 472.0 L785.9 472.5 L764.6 473.0 L743.3 473.5 L726.4 474.0 L725.8 474.5 L728.3 475.0 L730.8 475.5 L733.3 476.0 L735.8 476.5 L738.3 477.0 L740.8 477.5 L743.8 478.0 L747.3 478.5 L750.8 479.0 L754.3 479.5 L757.8 480.0 L761.3 480.5 L764.8 481.0 L762.8 481.5 L759.3 482.0 L755.8 482.5 L752.3 483.0 L748.8 483.5 L745.3 484.0 L741.8 484.5 L738.1 485.0 L734.3 485.5 L730.6 486.0 L726.8 486.5 L725.4 487.0 L725.1 487.5 L724.9 488.0 L724.6 488.5 L724.7 489.0 L725.7 489.5 L726.7 490.0 L727.7 490.5 L728.7 491.0 L729.7 491.5 L730.7 492.0 L733.7 492.5 L738.4 493.0 L743.2 493.5 L747.9 494.0 L752.6 494.5 L757.3 495.0 L762.0 495.5 L766.7 496.0 L765.0 496.5 L761.4 497.0 L757.8 497.5 L754.2 498.0 L750.6 498.5 L749.0 499.0 L754.3 499.5 L759.6 500.0 L765.0 500.5 L770.3 501.0 L775.6 501.5 L781.0 502.0 L783.2 502.5 L782.9 503.0 L782.7 503.5 L782.4 504.0 L781.5 504.5 L775.3 505.0 L769.1 505.5 L762.9 506.0 L756.7 506.5 L750.5 507.0 L749.3 507.5 L751.9 508.0 L754.6 508.5 L757.3 509.0 L759.9 509.5 L762.6 510.0 L765.3 510.5 L767.9 511.0 L770.6 511.5 L773.3 512.0 L771.8 512.5 L766.9 513.0 L762.1 513.5 L757.3 514.0 L752.4 514.5 L747.6 515.0 L742.8 515.5 L741.7 516.0 L741.0 516.5 L740.4 517.0 L739.8 517.5 L739.2 518.0 L738.5 518.5 L737.9 519.0 L737.3 519.5 L736.7 520.0 L738.0 520.5 L739.3 521.0 L740.7 521.5 L740.2 522.0 L738.7 522.5 L737.3 523.0 L735.9 523.5 L734.4 524.0 L733.0 524.5 L731.6 525.0 L730.2 525.5 L729.7 526.0 L729.4 526.5 L729.1 527.0 L728.8 527.5 L728.5 528.0 L728.2 528.5 L727.9 529.0 L727.6 529.5 L727.3 530.0 L727.0 530.5 L726.7 531.0 L726.5 531.5 L726.4 532.0 L726.2 532.5 L726.1 533.0 L725.9 533.5 L725.8 534.0 L725.6 534.5 L725.5 535.0 L725.4 535.5 L725.2 536.0 L725.0 536.5 L724.9 537.0 L724.8 537.5 L724.7 538.0 L724.6 538.5 L724.5 539.0 L724.4 539.5 L724.3 540.0 L724.2 540.5 L724.1 541.0 L724.0 541.5 L723.9 542.0 L723.9 542.5 L723.8 543.0 L723.8 543.5 L723.7 544.0 L723.7 544.5 L723.7 545.0 L723.6 545.5 L723.6 546.0 L723.5 546.5 L723.5 547.0 L723.5 547.5 L723.0 548.0 L723.0 548.5 L723.0 549.0 L723.0 549.5 L723.0 550.0 L723.0 550.5 L723.0 551.0 L723.0 551.5 L723.0 552.0 L723.0 552.5 L723.0 553.0 L723.0 553.5 L723.0 554.0 L723.0 554.5 L723.0 555.0 L723.0 555.5 L723.0 556.0 L723.0 556.5 L723.0 557.0 L723.0 557.5 L723.0 558.0 L723.0 558.5 L723.0 559.0 L723.0 559.5 L723.0 560.0 L723.0 560.5 L723.0 561.0 L723.0 561.5 L723.0 562.0 L723.0 562.5 L723.0 563.0 L723.0 563.5 L723.0 564.0 L723.0 564.5 L723.0 565.0 L723.0 565.5 L723.0 566.0 L723.0 566.5 L723.0 567.0 L723.0 567.5 L723.0 568.0 L723.0 568.5 L723.0 569.0 L723.0 569.5 L723.0 570.0 L723.0 570.5 L723.0 571.0 L723.0 571.5 L723.0 572.0 L723.0 572.5 L723.0 573.0 L723.0 573.5 L723.0 574.0 L723.0 574.5 L723.0 575.0" stroke="#000" stroke-width="1.2" stroke-dasharray="1.1 1.7"/>
</g>
<g stroke="#000" stroke-width="1.67" fill="none">
<rect x="120.00" y="152.00" width="508.50" height="423.00"/>
<rect x="645.00" y="152.00" width="61.30" height="423.00"/>
<rect x="723.00" y="152.00" width="141.20" height="423.00"/>
</g>
<g font-family="Liberation Sans, sans-serif" fill="#000" style="will-change:transform">
<text transform="translate(111.50,563.00) scale(1.0521,1)" text-anchor="end" font-size="22.20">0.0</text>
<text transform="translate(111.50,515.00) scale(1.0521,1)" text-anchor="end" font-size="22.20">2.5</text>
<text transform="translate(111.50,467.00) scale(1.0521,1)" text-anchor="end" font-size="22.20">5.0</text>
<text transform="translate(111.50,419.00) scale(1.0521,1)" text-anchor="end" font-size="22.20">7.5</text>
<text transform="translate(111.50,372.00) scale(1.0521,1)" text-anchor="end" font-size="22.20">10.0</text>
<text transform="translate(111.50,324.00) scale(1.0521,1)" text-anchor="end" font-size="22.20">12.5</text>
<text transform="translate(111.50,276.00) scale(1.0521,1)" text-anchor="end" font-size="22.20">15.0</text>
<text transform="translate(111.50,228.00) scale(1.0521,1)" text-anchor="end" font-size="22.20">17.5</text>
<text transform="translate(111.50,180.00) scale(1.0521,1)" text-anchor="end" font-size="22.20">20.0</text>
<text transform="translate(120.00,596.40) scale(0.9008,1)" text-anchor="middle" font-size="22.20">Γ</text>
<text transform="translate(241.75,596.40) scale(0.9723,1)" text-anchor="middle" font-size="22.20">H</text>
<text transform="translate(328.50,596.40) scale(0.9886,1)" text-anchor="middle" font-size="22.20">N</text>
<text transform="translate(416.25,596.40) scale(0.9599,1)" text-anchor="middle" font-size="22.20">Γ</text>
<text transform="translate(521.75,596.40) scale(0.8264,1)" text-anchor="middle" font-size="22.20">P</text>
<text transform="translate(627.75,596.40) scale(1.0241,1)" text-anchor="middle" font-size="22.20">H</text>
<text transform="translate(644.38,596.40) scale(0.7982,1)" text-anchor="middle" font-size="22.20">P</text>
<text transform="translate(705.13,596.40) scale(0.9217,1)" text-anchor="middle" font-size="22.20">N</text>
<text transform="translate(721.25,596.40) scale(0.9826,1)" text-anchor="middle" font-size="22.20">0</text>
<text transform="translate(808.75,596.40) scale(1.0258,1)" text-anchor="middle" font-size="22.20">20</text>
<text transform="translate(54.30,363.75) rotate(-90) scale(1.0110,1)" text-anchor="middle" font-size="22.20">Frequency (THz)</text>
</g>
</svg>
</body></html>
